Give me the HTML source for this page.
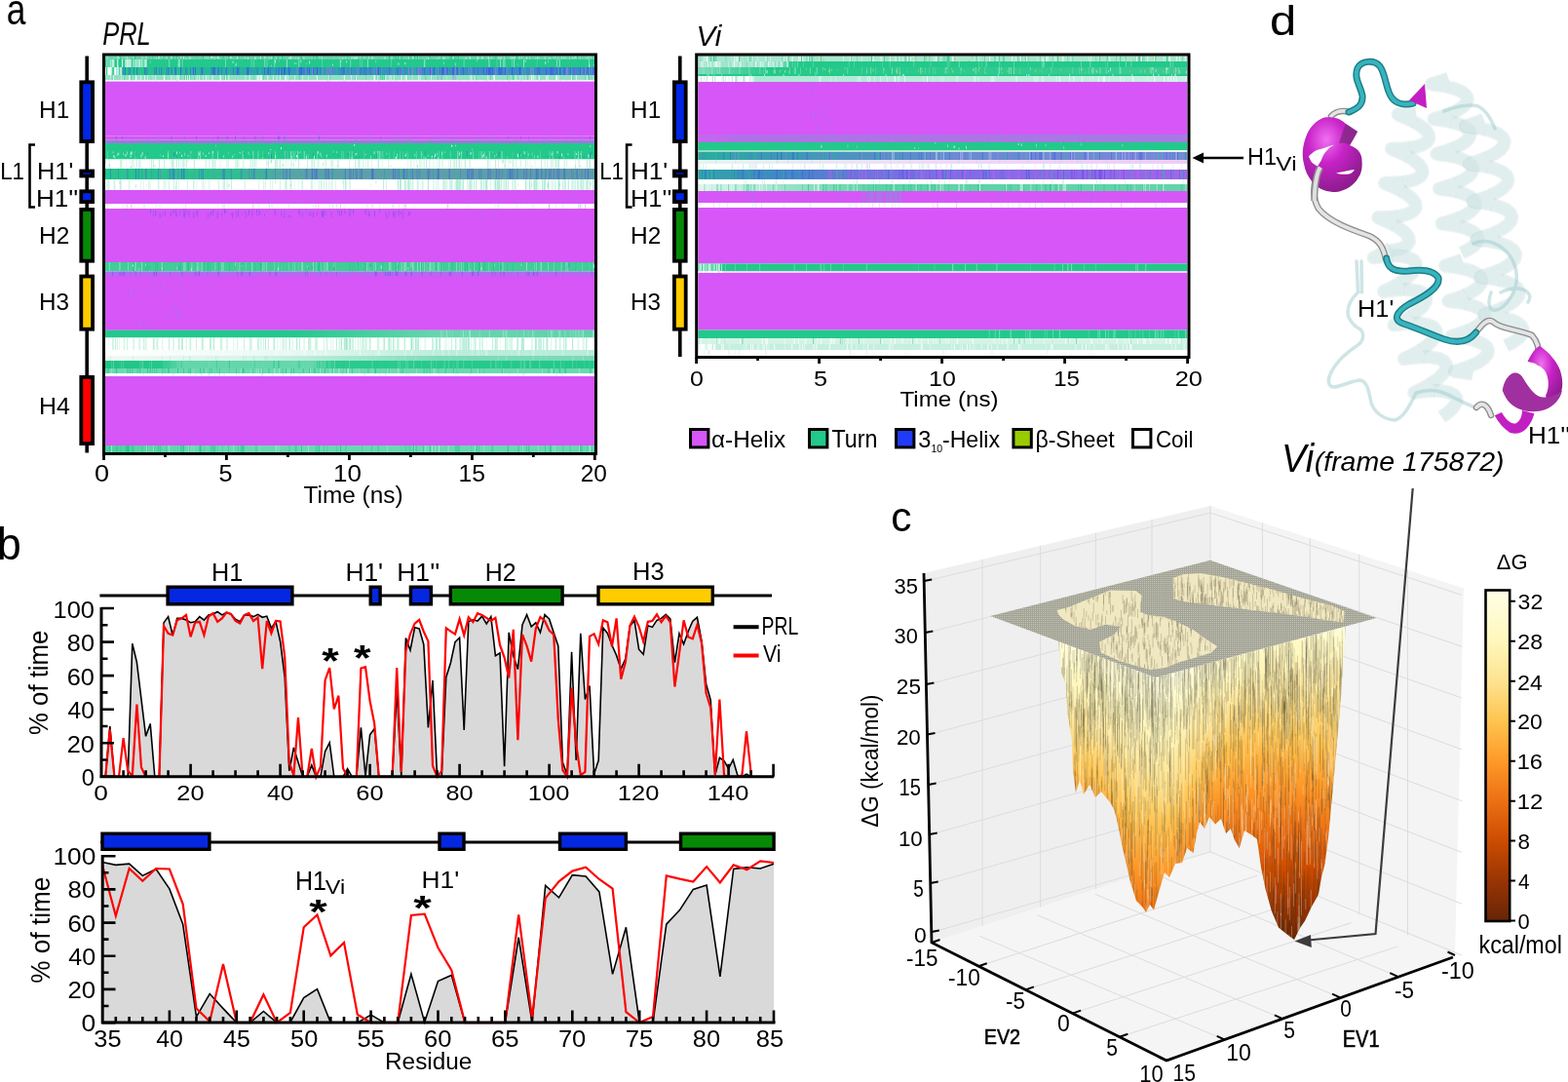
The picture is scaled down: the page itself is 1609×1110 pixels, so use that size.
<!DOCTYPE html>
<html><head><meta charset="utf-8"><title>Figure</title><style>
*{margin:0;padding:0}
html,body{width:1609px;height:1110px;overflow:hidden;background:#fff}
svg{display:block}
text{font-family:"Liberation Sans",Arial,sans-serif;fill:#000}
.t23{font-size:23.5px}
.t22{font-size:22.5px}
.t21{font-size:21.5px}
.t21b{font-size:21.5px;font-weight:bold}
.t18{font-size:19px}
.t10{font-size:11px}
.ti{font-size:31px;font-style:italic}
.tib{font-size:39px;font-style:italic}
.tis{font-size:27px;font-style:italic}
.plab{font-size:46px}
.ast{font-size:40px;font-weight:bold}
</style></head>
<body><svg width="1609" height="1110" viewBox="0 0 1609 1110">
<rect width="1609" height="1110" fill="#fff"/>
<polygon points="948,588 1242,519 1242,874 956,967" fill="#EFEFEF"/>
<polygon points="1242,519 1502,603.4 1493,980 1242,874" fill="#F4F4F4"/>
<polygon points="1242,874 956,967 1197,1088 1493,980" fill="#F5F5F5"/>
<path d="M1008 573.9V950.1M1067.6 559.9V930.7M1124.4 546.6V912.2M1182 533.1V893.5M1295.4 536.3V896.6M1344.3 552.2V917.2M1394.8 568.6V938.5M1444.4 584.7V959.5M950.2 596L1242 526.1L1500 610.4M951.3 649L1242 575.8L1500 663.2M952.4 702L1242 625.5L1500 716M953.5 753.6L1242 675.2L1500 768.8M954.6 805L1242 724.9L1500 821.6M955.7 856L1242 774.6L1500 874.4M956.7 906L1242 824.3L1500 927.2M957.8 956L1242 874L1500 980M1004.2 991.2L1290.2 898.2M1052.4 1015.4L1338.4 922.4M1100.6 1039.6L1386.6 946.6M1148.8 1063.8L1434.8 970.8M1256.2 1066.4L1005.2 960.4M1315.4 1044.8L1064.4 938.8M1374.6 1023.2L1123.6 917.2M1433.8 1001.6L1182.8 895.6M1242 519V874" stroke="#DCDCDC" stroke-width="1" fill="none"/>
<defs><linearGradient id="sg" gradientUnits="userSpaceOnUse" x1="1150" y1="640" x2="1330" y2="965"><stop offset="0" stop-color="#FFFAD2"/><stop offset="0.22" stop-color="#FEEDA8"/><stop offset="0.40" stop-color="#FED070"/><stop offset="0.55" stop-color="#FEA83A"/><stop offset="0.70" stop-color="#F0801C"/><stop offset="0.82" stop-color="#D85C0A"/><stop offset="0.92" stop-color="#A53C06"/><stop offset="1" stop-color="#6E2A06"/></linearGradient><clipPath id="bc"><polygon points="1086,658 1089,690 1093,700 1096,735 1100,760 1101,790 1104,813 1108,800 1112,815 1118,805 1124,818 1130,812 1139,823 1143,830 1145.6,839 1152,870 1160,905 1166,924 1172,930 1176,936 1180,928 1184,933.5 1190,912 1195,895 1200,900 1206,886 1213,885 1218,870 1224.5,875 1228,855 1231,843 1236,850 1241,838 1247,845.6 1253,840 1258,855 1262.7,850 1267,862 1271.8,870 1277,852 1285,857 1290,861 1294,890 1298.8,913 1305,935 1312,951.5 1320,958 1328,964 1334,952 1339,944.7 1346,930 1352.9,917.7 1356,900 1359.6,886 1363,860 1366,827.6 1369,795 1372,760 1375,730 1377,700 1379,670 1381,642.7 1185.8,695 1086,658"/></clipPath><pattern id="pl" width="2" height="2" patternUnits="userSpaceOnUse"><rect width="2" height="2" fill="#A3A396"/><rect width="1" height="1" fill="#C4C4B8"/></pattern><linearGradient id="cb" x1="0" y1="1" x2="0" y2="0"><stop offset="0" stop-color="#662506"/><stop offset="0.121" stop-color="#993404"/><stop offset="0.242" stop-color="#CC4C02"/><stop offset="0.363" stop-color="#EC7014"/><stop offset="0.484" stop-color="#FE9929"/><stop offset="0.605" stop-color="#FEC44F"/><stop offset="0.726" stop-color="#FEE391"/><stop offset="0.847" stop-color="#FFF7BC"/><stop offset="1" stop-color="#FFFFE5"/></linearGradient></defs>
<defs><linearGradient id="sc0" gradientUnits="userSpaceOnUse" x1="0" y1="630" x2="0" y2="980"><stop offset="0.0000" stop-color="#FFFDDB"/><stop offset="0.0571" stop-color="#FFFDDB"/><stop offset="0.1143" stop-color="#FFFBCF"/><stop offset="0.1714" stop-color="#FFF8C2"/><stop offset="0.2286" stop-color="#FFF2B1"/><stop offset="0.2857" stop-color="#FEE89C"/><stop offset="0.3429" stop-color="#FEDB81"/><stop offset="0.4000" stop-color="#FECC60"/><stop offset="0.4571" stop-color="#FEBC48"/><stop offset="0.5143" stop-color="#FEAC3A"/><stop offset="0.5714" stop-color="#FE9C2B"/><stop offset="0.6286" stop-color="#F88C22"/><stop offset="0.6857" stop-color="#F27D1B"/><stop offset="0.7429" stop-color="#EA6E13"/><stop offset="0.8000" stop-color="#DE600C"/><stop offset="0.8571" stop-color="#D25305"/><stop offset="0.9143" stop-color="#C34802"/><stop offset="0.9714" stop-color="#B03F03"/></linearGradient><linearGradient id="sc1" gradientUnits="userSpaceOnUse" x1="0" y1="630" x2="0" y2="980"><stop offset="0.0000" stop-color="#FFFDDB"/><stop offset="0.0571" stop-color="#FFFDDB"/><stop offset="0.1143" stop-color="#FFFBD0"/><stop offset="0.1714" stop-color="#FFF8C4"/><stop offset="0.2286" stop-color="#FFF3B4"/><stop offset="0.2857" stop-color="#FEEAA0"/><stop offset="0.3429" stop-color="#FEDE87"/><stop offset="0.4000" stop-color="#FECF66"/><stop offset="0.4571" stop-color="#FEBF4B"/><stop offset="0.5143" stop-color="#FEAD3B"/><stop offset="0.5714" stop-color="#FE9C2C"/><stop offset="0.6286" stop-color="#F98D23"/><stop offset="0.6857" stop-color="#F27E1B"/><stop offset="0.7429" stop-color="#EC7014"/><stop offset="0.8000" stop-color="#E0630D"/><stop offset="0.8571" stop-color="#D55607"/><stop offset="0.9143" stop-color="#C84A02"/><stop offset="0.9714" stop-color="#B54103"/></linearGradient><linearGradient id="sc2" gradientUnits="userSpaceOnUse" x1="0" y1="630" x2="0" y2="980"><stop offset="0.0000" stop-color="#FFFDDB"/><stop offset="0.0571" stop-color="#FFFDDB"/><stop offset="0.1143" stop-color="#FFFBD2"/><stop offset="0.1714" stop-color="#FFF9C5"/><stop offset="0.2286" stop-color="#FFF4B6"/><stop offset="0.2857" stop-color="#FEECA3"/><stop offset="0.3429" stop-color="#FEE18C"/><stop offset="0.4000" stop-color="#FED16B"/><stop offset="0.4571" stop-color="#FEC24D"/><stop offset="0.5143" stop-color="#FEAE3B"/><stop offset="0.5714" stop-color="#FE9C2C"/><stop offset="0.6286" stop-color="#F98E23"/><stop offset="0.6857" stop-color="#F3801C"/><stop offset="0.7429" stop-color="#ED7215"/><stop offset="0.8000" stop-color="#E2650F"/><stop offset="0.8571" stop-color="#D75908"/><stop offset="0.9143" stop-color="#CC4C02"/><stop offset="0.9714" stop-color="#BB4403"/></linearGradient><linearGradient id="sc3" gradientUnits="userSpaceOnUse" x1="0" y1="630" x2="0" y2="980"><stop offset="0.0000" stop-color="#FFFDDB"/><stop offset="0.0571" stop-color="#FFFDDB"/><stop offset="0.1143" stop-color="#FFFCD5"/><stop offset="0.1714" stop-color="#FFF9C7"/><stop offset="0.2286" stop-color="#FFF6BA"/><stop offset="0.2857" stop-color="#FFEEA8"/><stop offset="0.3429" stop-color="#FEE493"/><stop offset="0.4000" stop-color="#FED573"/><stop offset="0.4571" stop-color="#FEC552"/><stop offset="0.5143" stop-color="#FEB13E"/><stop offset="0.5714" stop-color="#FE9F2E"/><stop offset="0.6286" stop-color="#FA9125"/><stop offset="0.6857" stop-color="#F4831E"/><stop offset="0.7429" stop-color="#EE7517"/><stop offset="0.8000" stop-color="#E56810"/><stop offset="0.8571" stop-color="#DB5C0A"/><stop offset="0.9143" stop-color="#D05004"/><stop offset="0.9714" stop-color="#C14702"/></linearGradient><linearGradient id="sc4" gradientUnits="userSpaceOnUse" x1="0" y1="630" x2="0" y2="980"><stop offset="0.0000" stop-color="#FFFEDE"/><stop offset="0.0571" stop-color="#FFFEDE"/><stop offset="0.1143" stop-color="#FFFDDA"/><stop offset="0.1714" stop-color="#FFFACD"/><stop offset="0.2286" stop-color="#FFF8C0"/><stop offset="0.2857" stop-color="#FFF2B0"/><stop offset="0.3429" stop-color="#FEE99D"/><stop offset="0.4000" stop-color="#FEDD84"/><stop offset="0.4571" stop-color="#FECE65"/><stop offset="0.5143" stop-color="#FEBE4A"/><stop offset="0.5714" stop-color="#FEAC3A"/><stop offset="0.6286" stop-color="#FE9D2C"/><stop offset="0.6857" stop-color="#F98E23"/><stop offset="0.7429" stop-color="#F3801C"/><stop offset="0.8000" stop-color="#ED7115"/><stop offset="0.8571" stop-color="#E2650E"/><stop offset="0.9143" stop-color="#D75808"/><stop offset="0.9714" stop-color="#CC4C02"/></linearGradient><linearGradient id="sc5" gradientUnits="userSpaceOnUse" x1="0" y1="630" x2="0" y2="980"><stop offset="0.0000" stop-color="#FFFEE1"/><stop offset="0.0571" stop-color="#FFFEE1"/><stop offset="0.1143" stop-color="#FFFEDF"/><stop offset="0.1714" stop-color="#FFFBD3"/><stop offset="0.2286" stop-color="#FFF9C6"/><stop offset="0.2857" stop-color="#FFF5B8"/><stop offset="0.3429" stop-color="#FFEDA7"/><stop offset="0.4000" stop-color="#FEE494"/><stop offset="0.4571" stop-color="#FED778"/><stop offset="0.5143" stop-color="#FEC95B"/><stop offset="0.5714" stop-color="#FEBA46"/><stop offset="0.6286" stop-color="#FEA937"/><stop offset="0.6857" stop-color="#FE9929"/><stop offset="0.7429" stop-color="#F78A21"/><stop offset="0.8000" stop-color="#F17B1A"/><stop offset="0.8571" stop-color="#E96D13"/><stop offset="0.9143" stop-color="#DE600C"/><stop offset="0.9714" stop-color="#D25306"/></linearGradient><linearGradient id="sc6" gradientUnits="userSpaceOnUse" x1="0" y1="630" x2="0" y2="980"><stop offset="0.0000" stop-color="#FFFFE4"/><stop offset="0.0571" stop-color="#FFFFE4"/><stop offset="0.1143" stop-color="#FFFFE4"/><stop offset="0.1714" stop-color="#FFFDD8"/><stop offset="0.2286" stop-color="#FFFACD"/><stop offset="0.2857" stop-color="#FFF8C1"/><stop offset="0.3429" stop-color="#FFF2B1"/><stop offset="0.4000" stop-color="#FEEA9F"/><stop offset="0.4571" stop-color="#FEE08B"/><stop offset="0.5143" stop-color="#FED36F"/><stop offset="0.5714" stop-color="#FEC654"/><stop offset="0.6286" stop-color="#FEB542"/><stop offset="0.6857" stop-color="#FEA533"/><stop offset="0.7429" stop-color="#FC9527"/><stop offset="0.8000" stop-color="#F5851F"/><stop offset="0.8571" stop-color="#EF7617"/><stop offset="0.9143" stop-color="#E56810"/><stop offset="0.9714" stop-color="#D95B09"/></linearGradient><linearGradient id="sc7" gradientUnits="userSpaceOnUse" x1="0" y1="630" x2="0" y2="980"><stop offset="0.0000" stop-color="#FFFFE5"/><stop offset="0.0571" stop-color="#FFFFE5"/><stop offset="0.1143" stop-color="#FFFFE5"/><stop offset="0.1714" stop-color="#FFFDDC"/><stop offset="0.2286" stop-color="#FFFBD0"/><stop offset="0.2857" stop-color="#FFF9C5"/><stop offset="0.3429" stop-color="#FFF5B7"/><stop offset="0.4000" stop-color="#FEEDA6"/><stop offset="0.4571" stop-color="#FEE494"/><stop offset="0.5143" stop-color="#FED87A"/><stop offset="0.5714" stop-color="#FECB5D"/><stop offset="0.6286" stop-color="#FEBB47"/><stop offset="0.6857" stop-color="#FEA937"/><stop offset="0.7429" stop-color="#FE9929"/><stop offset="0.8000" stop-color="#F78921"/><stop offset="0.8571" stop-color="#F07818"/><stop offset="0.9143" stop-color="#E66910"/><stop offset="0.9714" stop-color="#D85A09"/></linearGradient><linearGradient id="sc8" gradientUnits="userSpaceOnUse" x1="0" y1="630" x2="0" y2="980"><stop offset="0.0000" stop-color="#FFFFE5"/><stop offset="0.0571" stop-color="#FFFFE5"/><stop offset="0.1143" stop-color="#FFFFE5"/><stop offset="0.1714" stop-color="#FFFEE0"/><stop offset="0.2286" stop-color="#FFFCD4"/><stop offset="0.2857" stop-color="#FFF9C8"/><stop offset="0.3429" stop-color="#FFF7BB"/><stop offset="0.4000" stop-color="#FFEFAB"/><stop offset="0.4571" stop-color="#FEE799"/><stop offset="0.5143" stop-color="#FEDC82"/><stop offset="0.5714" stop-color="#FECE65"/><stop offset="0.6286" stop-color="#FEBE4A"/><stop offset="0.6857" stop-color="#FEAC3A"/><stop offset="0.7429" stop-color="#FE9C2C"/><stop offset="0.8000" stop-color="#F88B22"/><stop offset="0.8571" stop-color="#F07919"/><stop offset="0.9143" stop-color="#E56810"/><stop offset="0.9714" stop-color="#D75808"/></linearGradient><linearGradient id="sc9" gradientUnits="userSpaceOnUse" x1="0" y1="630" x2="0" y2="980"><stop offset="0.0000" stop-color="#FFFFE5"/><stop offset="0.0571" stop-color="#FFFFE5"/><stop offset="0.1143" stop-color="#FFFFE5"/><stop offset="0.1714" stop-color="#FFFFE3"/><stop offset="0.2286" stop-color="#FFFCD8"/><stop offset="0.2857" stop-color="#FFFACC"/><stop offset="0.3429" stop-color="#FFF8C0"/><stop offset="0.4000" stop-color="#FFF2B0"/><stop offset="0.4571" stop-color="#FEE99E"/><stop offset="0.5143" stop-color="#FEE08A"/><stop offset="0.5714" stop-color="#FED26C"/><stop offset="0.6286" stop-color="#FEC24D"/><stop offset="0.6857" stop-color="#FEB03D"/><stop offset="0.7429" stop-color="#FE9F2F"/><stop offset="0.8000" stop-color="#F98E23"/><stop offset="0.8571" stop-color="#F07A19"/><stop offset="0.9143" stop-color="#E46710"/><stop offset="0.9714" stop-color="#D55607"/></linearGradient><linearGradient id="sc10" gradientUnits="userSpaceOnUse" x1="0" y1="630" x2="0" y2="980"><stop offset="0.0000" stop-color="#FFFEE2"/><stop offset="0.0571" stop-color="#FFFEE2"/><stop offset="0.1143" stop-color="#FFFEE2"/><stop offset="0.1714" stop-color="#FFFEE2"/><stop offset="0.2286" stop-color="#FFFCD4"/><stop offset="0.2857" stop-color="#FFF9C6"/><stop offset="0.3429" stop-color="#FFF6B9"/><stop offset="0.4000" stop-color="#FFEEA9"/><stop offset="0.4571" stop-color="#FEE697"/><stop offset="0.5143" stop-color="#FEDA7D"/><stop offset="0.5714" stop-color="#FECC5F"/><stop offset="0.6286" stop-color="#FEBA46"/><stop offset="0.6857" stop-color="#FEA836"/><stop offset="0.7429" stop-color="#FD9728"/><stop offset="0.8000" stop-color="#F6861F"/><stop offset="0.8571" stop-color="#ED7215"/><stop offset="0.9143" stop-color="#DE610C"/><stop offset="0.9714" stop-color="#CF4F04"/></linearGradient><linearGradient id="sc11" gradientUnits="userSpaceOnUse" x1="0" y1="630" x2="0" y2="980"><stop offset="0.0000" stop-color="#FFFDDC"/><stop offset="0.0571" stop-color="#FFFDDC"/><stop offset="0.1143" stop-color="#FFFDDC"/><stop offset="0.1714" stop-color="#FFFDDC"/><stop offset="0.2286" stop-color="#FFFACA"/><stop offset="0.2857" stop-color="#FFF5B8"/><stop offset="0.3429" stop-color="#FFEDA7"/><stop offset="0.4000" stop-color="#FEE595"/><stop offset="0.4571" stop-color="#FED879"/><stop offset="0.5143" stop-color="#FECA5C"/><stop offset="0.5714" stop-color="#FEB945"/><stop offset="0.6286" stop-color="#FEA634"/><stop offset="0.6857" stop-color="#FC9427"/><stop offset="0.7429" stop-color="#F5851F"/><stop offset="0.8000" stop-color="#EE7416"/><stop offset="0.8571" stop-color="#E1640E"/><stop offset="0.9143" stop-color="#D35406"/><stop offset="0.9714" stop-color="#C04702"/></linearGradient><linearGradient id="sc12" gradientUnits="userSpaceOnUse" x1="0" y1="630" x2="0" y2="980"><stop offset="0.0000" stop-color="#FFFCD6"/><stop offset="0.0571" stop-color="#FFFCD6"/><stop offset="0.1143" stop-color="#FFFCD6"/><stop offset="0.1714" stop-color="#FFFCD6"/><stop offset="0.2286" stop-color="#FFF8BF"/><stop offset="0.2857" stop-color="#FFEEA8"/><stop offset="0.3429" stop-color="#FEE595"/><stop offset="0.4000" stop-color="#FED879"/><stop offset="0.4571" stop-color="#FEC959"/><stop offset="0.5143" stop-color="#FEB643"/><stop offset="0.5714" stop-color="#FEA332"/><stop offset="0.6286" stop-color="#FB9225"/><stop offset="0.6857" stop-color="#F4821D"/><stop offset="0.7429" stop-color="#ED7315"/><stop offset="0.8000" stop-color="#E2640E"/><stop offset="0.8571" stop-color="#D45607"/><stop offset="0.9143" stop-color="#C54902"/><stop offset="0.9714" stop-color="#B03F03"/></linearGradient><linearGradient id="sc13" gradientUnits="userSpaceOnUse" x1="0" y1="630" x2="0" y2="980"><stop offset="0.0000" stop-color="#FFFBD0"/><stop offset="0.0571" stop-color="#FFFBD0"/><stop offset="0.1143" stop-color="#FFFBD0"/><stop offset="0.1714" stop-color="#FFFBCF"/><stop offset="0.2286" stop-color="#FFF4B5"/><stop offset="0.2857" stop-color="#FEE89B"/><stop offset="0.3429" stop-color="#FEDA7F"/><stop offset="0.4000" stop-color="#FECB5E"/><stop offset="0.4571" stop-color="#FEB845"/><stop offset="0.5143" stop-color="#FEA332"/><stop offset="0.5714" stop-color="#FA9125"/><stop offset="0.6286" stop-color="#F4811D"/><stop offset="0.6857" stop-color="#ED7215"/><stop offset="0.7429" stop-color="#E1640E"/><stop offset="0.8000" stop-color="#D55707"/><stop offset="0.8571" stop-color="#C84A02"/><stop offset="0.9143" stop-color="#B54103"/><stop offset="0.9714" stop-color="#A13804"/></linearGradient><linearGradient id="sc14" gradientUnits="userSpaceOnUse" x1="0" y1="630" x2="0" y2="980"><stop offset="0.0000" stop-color="#FFFACD"/><stop offset="0.0571" stop-color="#FFFACD"/><stop offset="0.1143" stop-color="#FFFACD"/><stop offset="0.1714" stop-color="#FFF9C8"/><stop offset="0.2286" stop-color="#FFF1AE"/><stop offset="0.2857" stop-color="#FEE494"/><stop offset="0.3429" stop-color="#FED675"/><stop offset="0.4000" stop-color="#FEC654"/><stop offset="0.4571" stop-color="#FEB340"/><stop offset="0.5143" stop-color="#FE9F2F"/><stop offset="0.5714" stop-color="#F98E23"/><stop offset="0.6286" stop-color="#F27E1B"/><stop offset="0.6857" stop-color="#EA6E13"/><stop offset="0.7429" stop-color="#DE600C"/><stop offset="0.8000" stop-color="#D25305"/><stop offset="0.8571" stop-color="#C24702"/><stop offset="0.9143" stop-color="#AE3E03"/><stop offset="0.9714" stop-color="#9B3504"/></linearGradient><linearGradient id="sc15" gradientUnits="userSpaceOnUse" x1="0" y1="630" x2="0" y2="980"><stop offset="0.0000" stop-color="#FFFACA"/><stop offset="0.0571" stop-color="#FFFACA"/><stop offset="0.1143" stop-color="#FFFACA"/><stop offset="0.1714" stop-color="#FFF8C2"/><stop offset="0.2286" stop-color="#FFEDA7"/><stop offset="0.2857" stop-color="#FEE18C"/><stop offset="0.3429" stop-color="#FED16B"/><stop offset="0.4000" stop-color="#FEC14C"/><stop offset="0.4571" stop-color="#FEAE3C"/><stop offset="0.5143" stop-color="#FE9B2B"/><stop offset="0.5714" stop-color="#F88A21"/><stop offset="0.6286" stop-color="#F17A19"/><stop offset="0.6857" stop-color="#E86B11"/><stop offset="0.7429" stop-color="#DB5D0A"/><stop offset="0.8000" stop-color="#CE4F03"/><stop offset="0.8571" stop-color="#BC4403"/><stop offset="0.9143" stop-color="#A83B03"/><stop offset="0.9714" stop-color="#943304"/></linearGradient><linearGradient id="sc16" gradientUnits="userSpaceOnUse" x1="0" y1="630" x2="0" y2="980"><stop offset="0.0000" stop-color="#FFF9C7"/><stop offset="0.0571" stop-color="#FFF9C7"/><stop offset="0.1143" stop-color="#FFF9C7"/><stop offset="0.1714" stop-color="#FFF6BB"/><stop offset="0.2286" stop-color="#FEEAA0"/><stop offset="0.2857" stop-color="#FEDC82"/><stop offset="0.3429" stop-color="#FECD61"/><stop offset="0.4000" stop-color="#FEBA46"/><stop offset="0.4571" stop-color="#FEA937"/><stop offset="0.5143" stop-color="#FD9828"/><stop offset="0.5714" stop-color="#F68720"/><stop offset="0.6286" stop-color="#EF7717"/><stop offset="0.6857" stop-color="#E46810"/><stop offset="0.7429" stop-color="#D85909"/><stop offset="0.8000" stop-color="#CA4B02"/><stop offset="0.8571" stop-color="#B64203"/><stop offset="0.9143" stop-color="#A23804"/><stop offset="0.9714" stop-color="#8D3104"/></linearGradient><linearGradient id="sc17" gradientUnits="userSpaceOnUse" x1="0" y1="630" x2="0" y2="980"><stop offset="0.0000" stop-color="#FFF9C6"/><stop offset="0.0571" stop-color="#FFF9C6"/><stop offset="0.1143" stop-color="#FFF9C5"/><stop offset="0.1714" stop-color="#FFF4B7"/><stop offset="0.2286" stop-color="#FEE99E"/><stop offset="0.2857" stop-color="#FEDB80"/><stop offset="0.3429" stop-color="#FECC60"/><stop offset="0.4000" stop-color="#FEB946"/><stop offset="0.4571" stop-color="#FEA736"/><stop offset="0.5143" stop-color="#FD9628"/><stop offset="0.5714" stop-color="#F5861F"/><stop offset="0.6286" stop-color="#EE7516"/><stop offset="0.6857" stop-color="#E2650E"/><stop offset="0.7429" stop-color="#D45507"/><stop offset="0.8000" stop-color="#C34802"/><stop offset="0.8571" stop-color="#AD3E03"/><stop offset="0.9143" stop-color="#973304"/><stop offset="0.9714" stop-color="#812D05"/></linearGradient><linearGradient id="sc18" gradientUnits="userSpaceOnUse" x1="0" y1="630" x2="0" y2="980"><stop offset="0.0000" stop-color="#FFF9C6"/><stop offset="0.0571" stop-color="#FFF9C6"/><stop offset="0.1143" stop-color="#FFF8C4"/><stop offset="0.1714" stop-color="#FFF3B3"/><stop offset="0.2286" stop-color="#FEE89C"/><stop offset="0.2857" stop-color="#FEDB80"/><stop offset="0.3429" stop-color="#FECC60"/><stop offset="0.4000" stop-color="#FEB946"/><stop offset="0.4571" stop-color="#FEA735"/><stop offset="0.5143" stop-color="#FC9527"/><stop offset="0.5714" stop-color="#F5841E"/><stop offset="0.6286" stop-color="#ED7315"/><stop offset="0.6857" stop-color="#E0620D"/><stop offset="0.7429" stop-color="#D15205"/><stop offset="0.8000" stop-color="#BC4503"/><stop offset="0.8571" stop-color="#A43904"/><stop offset="0.9143" stop-color="#8C3005"/><stop offset="0.9714" stop-color="#732905"/></linearGradient><linearGradient id="sc19" gradientUnits="userSpaceOnUse" x1="0" y1="630" x2="0" y2="980"><stop offset="0.0000" stop-color="#FFF9C6"/><stop offset="0.0571" stop-color="#FFF9C6"/><stop offset="0.1143" stop-color="#FFF8C2"/><stop offset="0.1714" stop-color="#FFF1B0"/><stop offset="0.2286" stop-color="#FEE89B"/><stop offset="0.2857" stop-color="#FEDB80"/><stop offset="0.3429" stop-color="#FECC60"/><stop offset="0.4000" stop-color="#FEB946"/><stop offset="0.4571" stop-color="#FEA634"/><stop offset="0.5143" stop-color="#FC9427"/><stop offset="0.5714" stop-color="#F4831E"/><stop offset="0.6286" stop-color="#EC7114"/><stop offset="0.6857" stop-color="#DD5F0C"/><stop offset="0.7429" stop-color="#CE4E03"/><stop offset="0.8000" stop-color="#B54103"/><stop offset="0.8571" stop-color="#9B3504"/><stop offset="0.9143" stop-color="#802D05"/><stop offset="0.9714" stop-color="#662506"/></linearGradient><linearGradient id="sc20" gradientUnits="userSpaceOnUse" x1="0" y1="630" x2="0" y2="980"><stop offset="0.0000" stop-color="#FFF9C8"/><stop offset="0.0571" stop-color="#FFF9C8"/><stop offset="0.1143" stop-color="#FFF8C1"/><stop offset="0.1714" stop-color="#FFF0AD"/><stop offset="0.2286" stop-color="#FEE79A"/><stop offset="0.2857" stop-color="#FEDB7F"/><stop offset="0.3429" stop-color="#FECC5F"/><stop offset="0.4000" stop-color="#FEBA46"/><stop offset="0.4571" stop-color="#FEA635"/><stop offset="0.5143" stop-color="#FC9427"/><stop offset="0.5714" stop-color="#F4831E"/><stop offset="0.6286" stop-color="#EC7014"/><stop offset="0.6857" stop-color="#DC5E0B"/><stop offset="0.7429" stop-color="#CC4C02"/><stop offset="0.8000" stop-color="#B24003"/><stop offset="0.8571" stop-color="#963304"/><stop offset="0.9143" stop-color="#7B2B05"/><stop offset="0.9714" stop-color="#662506"/></linearGradient><linearGradient id="sc21" gradientUnits="userSpaceOnUse" x1="0" y1="630" x2="0" y2="980"><stop offset="0.0000" stop-color="#FFFACB"/><stop offset="0.0571" stop-color="#FFFACB"/><stop offset="0.1143" stop-color="#FFF8BF"/><stop offset="0.1714" stop-color="#FFEFAB"/><stop offset="0.2286" stop-color="#FEE697"/><stop offset="0.2857" stop-color="#FEDA7D"/><stop offset="0.3429" stop-color="#FECB5E"/><stop offset="0.4000" stop-color="#FEBA46"/><stop offset="0.4571" stop-color="#FEA736"/><stop offset="0.5143" stop-color="#FC9527"/><stop offset="0.5714" stop-color="#F5841E"/><stop offset="0.6286" stop-color="#EC7014"/><stop offset="0.6857" stop-color="#DC5E0B"/><stop offset="0.7429" stop-color="#CC4C02"/><stop offset="0.8000" stop-color="#B24003"/><stop offset="0.8571" stop-color="#973404"/><stop offset="0.9143" stop-color="#7D2C05"/><stop offset="0.9714" stop-color="#662506"/></linearGradient><linearGradient id="sc22" gradientUnits="userSpaceOnUse" x1="0" y1="630" x2="0" y2="980"><stop offset="0.0000" stop-color="#FFFACE"/><stop offset="0.0571" stop-color="#FFFACE"/><stop offset="0.1143" stop-color="#FFF7BD"/><stop offset="0.1714" stop-color="#FFEEA8"/><stop offset="0.2286" stop-color="#FEE595"/><stop offset="0.2857" stop-color="#FED87A"/><stop offset="0.3429" stop-color="#FECB5D"/><stop offset="0.4000" stop-color="#FEBB47"/><stop offset="0.4571" stop-color="#FEA836"/><stop offset="0.5143" stop-color="#FD9628"/><stop offset="0.5714" stop-color="#F5841E"/><stop offset="0.6286" stop-color="#EC7014"/><stop offset="0.6857" stop-color="#DC5E0B"/><stop offset="0.7429" stop-color="#CC4C02"/><stop offset="0.8000" stop-color="#B24003"/><stop offset="0.8571" stop-color="#983404"/><stop offset="0.9143" stop-color="#7E2C05"/><stop offset="0.9714" stop-color="#662506"/></linearGradient><linearGradient id="sc23" gradientUnits="userSpaceOnUse" x1="0" y1="630" x2="0" y2="980"><stop offset="0.0000" stop-color="#FFFBD1"/><stop offset="0.0571" stop-color="#FFFBD1"/><stop offset="0.1143" stop-color="#FFF7BC"/><stop offset="0.1714" stop-color="#FFEDA7"/><stop offset="0.2286" stop-color="#FEE494"/><stop offset="0.2857" stop-color="#FED87A"/><stop offset="0.3429" stop-color="#FECB5E"/><stop offset="0.4000" stop-color="#FEBC48"/><stop offset="0.4571" stop-color="#FEAA38"/><stop offset="0.5143" stop-color="#FE9929"/><stop offset="0.5714" stop-color="#F6861F"/><stop offset="0.6286" stop-color="#ED7215"/><stop offset="0.6857" stop-color="#DE600C"/><stop offset="0.7429" stop-color="#CE4F03"/><stop offset="0.8000" stop-color="#B74203"/><stop offset="0.8571" stop-color="#9E3604"/><stop offset="0.9143" stop-color="#852E05"/><stop offset="0.9714" stop-color="#6C2706"/></linearGradient><linearGradient id="sc24" gradientUnits="userSpaceOnUse" x1="0" y1="630" x2="0" y2="980"><stop offset="0.0000" stop-color="#FFFCD6"/><stop offset="0.0571" stop-color="#FFFBD1"/><stop offset="0.1143" stop-color="#FFF8BF"/><stop offset="0.1714" stop-color="#FFEFAC"/><stop offset="0.2286" stop-color="#FEE799"/><stop offset="0.2857" stop-color="#FEDC81"/><stop offset="0.3429" stop-color="#FECF66"/><stop offset="0.4000" stop-color="#FEC24D"/><stop offset="0.4571" stop-color="#FEB13E"/><stop offset="0.5143" stop-color="#FEA130"/><stop offset="0.5714" stop-color="#FA9024"/><stop offset="0.6286" stop-color="#F27F1C"/><stop offset="0.6857" stop-color="#EA6E13"/><stop offset="0.7429" stop-color="#DD5F0B"/><stop offset="0.8000" stop-color="#CF5004"/><stop offset="0.8571" stop-color="#BC4403"/><stop offset="0.9143" stop-color="#A63A03"/><stop offset="0.9714" stop-color="#913204"/></linearGradient><linearGradient id="sc25" gradientUnits="userSpaceOnUse" x1="0" y1="630" x2="0" y2="980"><stop offset="0.0000" stop-color="#FFFDDB"/><stop offset="0.0571" stop-color="#FFFBD2"/><stop offset="0.1143" stop-color="#FFF8C1"/><stop offset="0.1714" stop-color="#FFF1AF"/><stop offset="0.2286" stop-color="#FEE99E"/><stop offset="0.2857" stop-color="#FEDF89"/><stop offset="0.3429" stop-color="#FED26D"/><stop offset="0.4000" stop-color="#FEC654"/><stop offset="0.4571" stop-color="#FEB844"/><stop offset="0.5143" stop-color="#FEA837"/><stop offset="0.5714" stop-color="#FE9929"/><stop offset="0.6286" stop-color="#F88A22"/><stop offset="0.6857" stop-color="#F17C1A"/><stop offset="0.7429" stop-color="#EA6D13"/><stop offset="0.8000" stop-color="#DE610C"/><stop offset="0.8571" stop-color="#D35406"/><stop offset="0.9143" stop-color="#C54902"/><stop offset="0.9714" stop-color="#B24003"/></linearGradient><filter id="hb" x="-0.05" y="0" width="1.1" height="1"><feGaussianBlur stdDeviation="7 0"/></filter></defs>
<g clip-path="url(#bc)"><g filter="url(#hb)"><rect x="1080" y="630" width="12.6" height="350" fill="url(#sc0)"/><rect x="1092" y="630" width="12.6" height="350" fill="url(#sc1)"/><rect x="1104" y="630" width="12.6" height="350" fill="url(#sc2)"/><rect x="1116" y="630" width="12.6" height="350" fill="url(#sc3)"/><rect x="1128" y="630" width="12.6" height="350" fill="url(#sc4)"/><rect x="1140" y="630" width="12.6" height="350" fill="url(#sc5)"/><rect x="1152" y="630" width="12.6" height="350" fill="url(#sc6)"/><rect x="1164" y="630" width="12.6" height="350" fill="url(#sc7)"/><rect x="1176" y="630" width="12.6" height="350" fill="url(#sc8)"/><rect x="1188" y="630" width="12.6" height="350" fill="url(#sc9)"/><rect x="1200" y="630" width="12.6" height="350" fill="url(#sc10)"/><rect x="1212" y="630" width="12.6" height="350" fill="url(#sc11)"/><rect x="1224" y="630" width="12.6" height="350" fill="url(#sc12)"/><rect x="1236" y="630" width="12.6" height="350" fill="url(#sc13)"/><rect x="1248" y="630" width="12.6" height="350" fill="url(#sc14)"/><rect x="1260" y="630" width="12.6" height="350" fill="url(#sc15)"/><rect x="1272" y="630" width="12.6" height="350" fill="url(#sc16)"/><rect x="1284" y="630" width="12.6" height="350" fill="url(#sc17)"/><rect x="1296" y="630" width="12.6" height="350" fill="url(#sc18)"/><rect x="1308" y="630" width="12.6" height="350" fill="url(#sc19)"/><rect x="1320" y="630" width="12.6" height="350" fill="url(#sc20)"/><rect x="1332" y="630" width="12.6" height="350" fill="url(#sc21)"/><rect x="1344" y="630" width="12.6" height="350" fill="url(#sc22)"/><rect x="1356" y="630" width="12.6" height="350" fill="url(#sc23)"/><rect x="1368" y="630" width="12.6" height="350" fill="url(#sc24)"/><rect x="1380" y="630" width="12.6" height="350" fill="url(#sc25)"/></g>
<path d="M1181.5 688.3v39.3M1107.4 811.5v26.5M1103.1 802.4v11.7M1213.9 662.4v14.1M1211.2 904.6v15.6M1151.9 840.8v52.6M1256.2 766.9v53.9M1099.7 914.7v23M1128.6 677.7v23.9M1326.8 697.8v36.2M1274.5 759.2v34.6M1104.5 659.1v19.3M1286.7 776.8v24.1M1258.7 785v23.5M1320.3 863.7v21M1255.5 808.1v49.4M1301.2 732.1v54.1M1120.8 773.8v44.1M1130.8 796.5v11.8M1283.1 884.7v35.8M1344.3 740.4v41.3M1261.3 825.6v30.5M1333.8 942.3v31.3M1281.9 659.4v41.6M1276.9 957.8v47M1170 763.5v40.1M1092.7 787.7v17.6M1120.5 658.9v44.6M1124.2 719.2v27.6M1343.1 665.8v30.2M1248.1 922.7v46.9M1340.9 729.1v28.7M1191.8 922.9v53.1M1130.5 696.4v20.4M1154.8 795.2v36.5M1163.5 641.3v28.9M1194.9 821.2v52.9M1289.7 805v37.8M1285.5 657.3v50.5M1316.1 919.8v45.9M1201.8 767.7v14.7M1273.1 659.9v13M1147.6 691.9v25.3M1101.5 640.1v16.8M1115.9 756.4v11.1M1343.9 836.5v16.7M1160.4 751.2v26.4M1122.2 911.7v54.7M1223.5 794.8v13.9M1116.1 749.6v21.9M1330.5 691.7v11M1366.5 809v16.6M1246.2 648.7v33.8M1374.7 916.3v41.3M1163 757.3v17.5M1313.7 810.4v45.1M1183.3 711.4v46.5M1376.6 912.8v46.3M1327.4 876.8v20.2M1238.7 753.8v11.3M1094.2 729.4v21.7M1290.3 946.1v30.1M1362.4 956.2v53M1193.6 710.5v20.2M1144 705.4v38.1M1351.6 908.9v31.6M1278.6 895.9v13.8M1280.9 931.1v45.2M1307.3 793v18M1318.8 746.4v46M1372.6 766.7v28.1M1365.3 871.9v17.7M1123.5 688.4v50.7M1323.9 686.8v47.2M1375.2 850.3v25.8M1247.9 681.9v10.6M1372.4 847.9v33.7M1361.4 778.8v49.2M1329.7 707.5v21.3M1172.4 717v36.4M1162.5 774.1v15.9M1354.5 753.2v30.6M1258.1 929.4v28.9M1356.7 800.5v33.9M1240.4 646v29.8M1140 641.3v46M1136.8 791.5v42.6M1250.2 744.3v33.3M1249.9 891v14.8M1251.3 719.5v22.5M1313.8 802.5v35.3M1310.2 932v29.9M1266.7 801.8v33M1290.4 784.8v34M1227 941.3v41.5M1344.6 941.5v21.7M1251.1 941.8v47.8M1126.5 678.9v29.9M1107.4 717v13.3M1283.5 890.9v50.4M1131.6 869.2v39.7M1128.2 922.5v53.5M1150.8 944.8v27.9M1229.7 956.8v47.5M1133.6 778.1v33.2M1186 702.6v24.3M1299 646.2v34.9M1215.9 645.8v24.9M1270.1 803.9v12.9M1376.6 892.3v53.7M1116.9 725v11.8M1315.8 726.5v15.8M1210.6 931.7v46.9M1162.3 687.8v51.4M1254.3 864.1v14M1103 860.2v29.1M1107.4 940.3v38.5M1322.5 666.8v48.5M1105.7 916.1v30.4M1186 817v51.7M1165 681.4v33.7M1156.3 675v17.3M1100.9 704.6v24M1176 883v23M1233.5 696.9v25.6M1091.4 720.1v10.7M1302.3 816.3v18.5M1226.1 939.1v14.8M1327.6 778.3v32.3M1332.2 765.8v32.8M1288.9 954.4v25.4M1331.5 866.2v38.6M1205.4 751.2v12.4M1124.3 662.6v43.3M1161.4 692.2v13.8M1334.2 918.6v40.2M1169.2 717.5v23.2M1221.5 690.4v30.1M1163.7 947.8v53.8M1247.4 718.2v53.5M1177.3 754.1v10M1198.6 791.9v32.6M1145.3 801.5v10.2M1163.9 668.7v28M1098.3 647.2v23.7M1154.7 827.4v33.8M1307.4 850.4v42.2M1345.3 764.6v24.7M1376.5 687.8v42.6M1275.7 654v47.6M1349.1 840.7v43M1325.6 684.6v33.6M1234.8 907.2v46.2M1329.8 826.9v50.2M1287.5 861.9v20.3M1095.2 682.6v26.2M1117 907.5v35.1M1271.2 840.4v40.6M1230.3 641.1v45.9M1306.7 801v34.1M1280.5 661.1v43.2M1160.4 663.8v22M1301.2 705.7v43.3M1373.8 798.1v27.2M1227.3 858.8v44.5M1268 845.7v13.5M1129.5 721.3v43.4M1175.8 821.7v10.6M1103.9 726v40.2M1290.2 856.2v23.1M1238.4 788.7v31M1121 926v19M1374.5 939.6v10.8M1221.4 902.4v53.6M1218.6 726v19.4M1364.9 707.4v36.2M1127.8 807.7v52.9M1125.1 902.5v32.9M1347.6 865.1v20.4M1350.8 795.6v11.1M1087.1 797.3v30.3M1175.1 685v25.5M1179.2 908.9v10.1M1307.5 908.5v15.4M1359.3 868.2v50.6M1171.5 759.1v27.7M1380.6 828.5v26.2M1212.3 728v12.2M1116 907.1v22.9M1362 719.8v22M1236.7 700.8v26.8M1368.1 923v46.5M1272.1 932.3v52.3M1248 870.3v12.2M1302 784.3v43.9M1276.1 731.6v12.2M1359.4 680.7v31.2M1187.4 735.3v43.3M1374 723.3v39.5M1174.7 818.3v27.7M1135.4 691.7v19.4M1353.3 799.1v19.9M1353.3 958.9v30.2M1127.2 701.6v14.1M1186.9 669.2v20.8M1162.2 822.3v49.9M1307.1 772.1v28.6M1240.6 760.6v25.2M1104.3 728.8v53.5M1123.1 801.1v38.3M1340.5 709.1v22.2M1159.3 767.9v30.1M1367.4 911.6v49.3M1092.4 650.3v41.9M1350.2 791.4v36.4M1086.1 765.3v51.7M1329.5 913.7v53.8M1159.3 674.9v16.9M1240.1 858.3v52.4M1298.9 847.2v44.4M1220.9 816.5v11.8M1316.8 714.4v51.4M1276.4 737.2v15.8M1160.3 843.6v41.4M1119.1 662.5v33.6M1258 764.2v20.1M1263.3 643.3v23.6M1221.9 946.9v39M1346.7 792.1v20.6M1158.9 947.4v41.7M1176.7 647v32.4M1285 774.4v21.6M1282.9 936.1v20.2M1096.1 748.2v28.9M1287.4 703.4v45.9M1304 801.6v19.2M1372.1 739.7v46.9M1154.1 710.9v44.2M1173 944.6v32.3M1141.3 711.5v28.8M1282.3 943.6v16.6M1202.1 708.1v53.8M1127.9 656.6v12.7M1202 927.4v49.8M1302.2 959.2v51.9M1183.1 699.4v52.1M1306.2 650.2v39.9M1197.7 759.6v24.9M1135.9 640.9v22.6M1189.7 945.8v15.6M1370.5 706.4v26M1328.4 903v29.5M1100.5 791.5v26.8M1357.3 701.8v26.4M1350.6 649.7v28.5M1325.5 885.3v11.8M1096.3 660v51.4M1161.8 879.1v50.4M1186 727.1v53.1M1268 723.9v42.2M1179.4 728.2v10.2M1308.9 933.3v38.5M1364.3 647.8v20.5M1226.2 946.2v52.9M1200 720.3v29.3M1231.6 937v18.2M1322.8 876.3v47M1314 834.3v24.8M1180.3 755.8v45.2M1109.3 703.1v43.9M1159 660.7v11.5M1249 744.2v54.1M1346.6 956.1v21.9M1110.8 670.9v32.4M1295.4 783v20.5M1209 838.5v40.3M1306.7 911v39.9M1121.7 909.1v23.2M1253.2 759.4v43.2M1144.8 719.2v21M1131.2 922.9v36M1182.3 766.7v54.7M1235.7 714v46.4M1278.7 957.1v14.6M1226.1 902.1v47.8M1355.7 652.9v23.2M1121.2 700.7v53.8M1258 937.7v26.8M1341.5 783.7v21.7M1315.4 942.6v14.8M1261.9 838.4v19.8M1194.8 685.2v19.2M1161.2 831.8v39.3M1146 643.6v24.7M1286.1 699.2v24M1146 894.5v34.7M1104.7 672.4v27.8M1248.3 844.5v14.1M1134.3 862.5v28.4M1169.6 738.4v52.9M1178.1 821.3v26.1M1208.9 916.6v54.8M1193.3 703.1v42.8M1146.1 641.9v50.6M1211 902.5v28.3M1346.4 787.5v17.3M1090.4 816.5v38.8M1354.4 668.5v38M1195.4 801.4v16.6M1169.6 806.8v51.6M1118.1 797v46.2M1371.2 703.1v15.7M1364.2 952.2v31.7M1101.7 936.4v27.5M1352.7 838.5v47.1M1133.3 891.5v20M1205.3 910.8v47.3M1140 709.8v28M1238.8 762.7v15.5M1158.9 872v50.4M1098.1 819.9v44.1M1097.2 908.2v15.3M1262.9 816v38.2M1176.3 774.4v36.2M1211.6 850.8v30.1M1215.3 647.5v37.9M1230.4 715.3v44.4M1316.1 786.7v18.1M1225.6 674.3v15.8M1213 669.3v29.9M1236.5 653v38.6M1110.3 874.7v45M1236.9 657.4v32.7M1197.5 944.3v16.1M1338.8 958.8v42.9M1326.4 702v54.2M1231.1 946.1v51.2M1134.7 892.3v51.9M1105.3 752.3v44M1132.8 926.9v22.4M1326.6 685.9v32.6M1357.4 706.7v21.8M1235.3 742.1v11.7M1139.7 691.6v52.1M1286.5 926.5v17.6M1317.5 676.8v33.9M1273.7 755.1v49.3M1249.8 825.6v49.7M1116.9 957.7v38.3M1202.3 895.3v21.9M1378.2 824.8v26.2M1311.6 781.5v18M1305.4 655.5v46.9M1160.8 844.6v54.3M1258.8 852.4v24.1M1086.5 650.8v16.7M1267.7 778.3v33.1M1350.2 682.2v20.2M1278.7 647.1v10.1M1190.7 674v26.1M1152.2 826.7v36.5M1146.2 839.7v31.4M1125.8 939.7v21M1130 670.7v38.7M1343 890.3v28.1M1164 643.7v39M1251.9 752.1v39.1M1216.9 939.9v43M1159.3 929.1v12M1242.8 769.9v20.7M1103.2 889.2v10.6M1248.5 941.1v16.4M1144.9 834.6v32.8M1275.3 900.3v17.9M1177.3 736.1v12.2M1348.4 890.6v42.2M1087.9 910.2v43.5M1223.3 877.4v30.4M1152.7 673.7v20.5M1097.5 747.4v43.7M1291.1 910.5v42M1164.5 817.2v29.6M1318.6 807.4v21.9M1275.4 948.8v19.8M1345.6 644.9v21.7M1155.7 878v52.5M1306.1 744.6v49.6M1182.9 716.5v50.8M1272.1 861.7v39.9M1374.8 790.2v47.8M1291.8 914.4v29.7M1299.8 822.5v23.8M1148.5 839.2v13.5M1354.7 686.3v11.2M1117.5 937.3v25.5M1127.8 649.2v11.9M1290.3 842.8v41.4M1303.4 661v36.6M1193.2 901.6v46.9M1348.9 661.1v49.1M1355.8 942.2v14.8M1146.7 675.8v11.5M1336.1 899.8v38.5M1329.4 842.1v22.9M1115.5 671.3v44.1M1146.5 742.1v29.1M1092.2 722.1v22.7M1297.1 757.8v24.4M1370.4 801.2v48.3M1268.4 649.9v28.6M1214.8 887.4v25.6M1293.9 812.1v19.7M1340.4 669.1v46.9M1136.3 640.4v19.1M1310.8 952.9v10.2M1230.8 797.3v45.9M1140.4 798.3v25.6M1331.4 723.4v52.5M1169.7 708.7v41.5M1233 675.2v38.6M1109.9 892.1v41.4M1318.1 840.9v26M1204.4 766.3v50.1M1111.4 924.3v11.1M1146.8 724.2v50.6M1233.9 761.4v49.8M1154.9 787.5v33.9M1308.6 881v39.1M1188.8 744.5v17M1334.7 851.9v43.4M1136 780.4v44.8M1256.9 680.3v30.8M1347.1 716.1v18.6M1174.9 865v48M1131.6 689.9v21.1M1182.3 807.1v17.2M1182.8 700.6v53.9M1301 672.6v53.3M1116 763v54.3M1320.5 874.7v29.6M1143.9 844.2v14.8M1146.9 764.3v11.5M1203.7 893.1v41.2M1233.6 842.4v30.8M1127.8 833.2v28.2M1304.6 930.6v29.4M1255.3 879.7v29M1153.4 871.1v49.6M1314.3 864v48.4M1286.5 845.3v30.4M1178.3 841v14.4M1209.8 890.4v42.1M1271.7 720v29.1M1220.3 838.9v28.4M1285.2 937.7v18.2M1279.1 889v27.5M1230.5 951.9v11.7M1246.3 691.5v45.2M1363.5 806.2v14.5M1255.5 813.1v42.3M1237.1 844.6v47.3M1239.9 771.3v52.7M1148 859v27.7M1311 679.2v54.3M1190.9 658.1v22.3M1203.9 644.3v28.8M1210.1 863.4v25.8M1164.2 711.8v43.4M1363.3 808.7v19.9M1322.4 765.4v19.5M1124.1 888.5v46.4M1273.1 790.1v35.3M1152.7 948.4v25.9M1274.4 902v46.7M1224.1 734.2v34.7M1122.9 906.8v26M1336.9 725.6v26.9M1160.8 776.4v18.4M1086.8 871v22.7M1158.3 736.6v31.6M1212.4 843.9v39.7M1192.9 937.2v48.5M1102.8 904.9v50.8M1317.3 684.9v47.4M1272.8 644.8v10.5M1366.8 849.9v21.3M1115.9 685.7v20.5M1315 750.9v16.9M1352.7 893.3v17.6M1348.9 834.7v45.2M1283.2 926.1v45.5M1333.4 703.2v41.2M1242.6 877.4v29.7M1346.4 817.6v21.9M1155.1 684.6v32.2M1103.2 789.5v16.5M1231 799.4v34.3M1340.5 642.1v47.8M1224 820v39.9M1334 760v28.8M1369.4 664.1v38.7M1273.7 649.1v37.4M1287.4 938.1v24.9M1375.6 803.4v31.8M1350.8 650.8v42.3M1270.5 748.4v48.8M1194 791.9v33.6M1313.3 707.4v29.6M1210.6 817.3v47.2M1172.4 904.9v28.2M1234.6 726.9v32.8M1373.6 849.5v45.6M1183.6 741.5v23.5M1259 843.1v45.3M1097.8 871.3v49.9M1246.9 655.9v23.5M1087.8 700.8v51.5M1265.6 850.6v45.5M1354.4 835.8v37.8M1270.9 862.8v36.8M1286.9 708v40M1221.1 884.1v14.6M1139.5 651.8v44.9M1355.7 849.8v26.6M1328.7 891.7v35.3M1162.1 736.7v29M1180 777.8v38.9M1361.5 657.5v35.5M1097.6 678v46.5M1255.7 934v30.1M1090.2 763.9v36.6M1362.6 953.9v31.4M1207.7 672.7v39M1148.6 688.6v10.7M1087.4 858.8v15.5M1371.1 668.2v49.1M1124 645.7v42.4M1157.5 874.7v18.4M1100.8 887.7v42.1M1338.4 873.5v13.8M1271.4 867v30.7M1361 721.3v53.4M1297.6 643.6v10.7M1278 901.5v13.6M1177.8 873.4v17.5M1340 795.6v12.7M1194.4 824v29.7M1285.7 686.4v45.9M1193.2 846.4v38.3M1209.3 763.4v45.4M1364.8 891.1v35.5M1172.3 659.4v53.8M1293.5 904.8v24.9M1264.7 952.8v47.4M1263.3 738.8v29.3M1348 760.5v40.8M1263.5 926.8v46.3M1169.6 640.5v21.8M1210.6 827.7v46.7M1347.8 653.5v47.5M1325.5 917.5v35.7M1166.8 912.4v46.3M1288 932.4v25.6M1111.1 817.2v45.9M1145.1 880.1v51.9M1155 834.2v40.5M1223.3 706.1v21.5M1307.6 893.3v30.7M1111.9 898.1v44.7M1154.7 825.5v50.4M1347.1 807v31.4M1259.9 700.5v18.7M1139.3 864.3v26.3M1252.5 768.8v33.3M1130 654.3v54.9M1196.3 674v38.5M1318.3 690v36.9M1187.8 806.2v10.9M1095.9 956.9v49M1229.5 821.5v21.8M1315.9 776.3v52.6M1312.3 902v53.4M1160.9 652.1v19M1139.3 666.8v12.3M1250.4 918.6v30.6M1365.4 931.2v12.9M1262.4 767.2v15.4M1369 722.3v35.4M1275 946.1v40.1M1202 783.5v17.2M1370.9 957.3v20M1097.4 721.9v25.8M1352.3 929.5v47.7M1099.9 891.6v41.9M1276.8 955.3v12.5M1128.7 881.6v52.3M1285.7 735.6v36.6M1309.6 673.7v24.6M1161.8 679.7v31.7M1135.7 716.3v16.4M1285.9 644v42.3M1143.6 651.5v51.7M1151.1 938.9v49M1348.2 684.7v30.1M1114.6 937.2v47.9M1271.4 784.7v25.3M1328.8 792.8v38.3M1128.1 710.9v12.6M1296.5 817.1v16.5M1342.9 725.2v28.5M1131.9 726.8v47.8M1184.7 693.7v32.1M1179.8 929v15.1M1374.7 658.2v50.3M1283.1 707.6v31.5M1170.4 722.5v19.1M1193.5 957.1v54.9M1358.9 671.2v23M1350.4 658.4v42.7M1172.6 953.2v10.7M1324.1 749.1v16.3M1086.6 906.3v33.7M1140.8 779.3v51M1150.4 822.8v16.2M1139.1 886.5v42M1144 665.4v13.9M1265.5 798.6v22.3M1146.8 836v41.8M1325.4 826.5v19.1M1105.4 874.5v28.4M1298.9 657.7v46.5M1184.9 909.4v48.9M1231.4 644.9v51M1226.6 919v22M1140.9 906.1v26.5M1134.2 758.8v36.8M1087.4 806.3v30.1M1238.1 678.6v42.2M1326.9 917v24.4M1295.8 762v43.8M1104.1 919.3v52.9M1232 804.3v33.9M1244.5 646.6v53.5M1152 698.4v14.6M1159.9 901.5v11.4M1114.5 863.7v18.8M1091.2 831.8v35.9M1240.3 864.8v14.6M1342.5 869.5v12M1122.3 797.9v32.5M1168.5 679.1v28.3M1126.4 829.4v48.7M1129.4 823.3v43.6M1134.5 904.3v52.2M1200.7 774.6v47.8M1241.1 766.6v52.4M1315.2 748.3v20.8M1184.8 779.4v54.2M1323.3 932.1v46.7M1336.1 657.1v33.3M1368.6 939v21.2M1210.5 842.5v26.4M1242.6 662.2v29.5M1234.9 646.7v16.3M1372.1 888.5v52.2M1272.8 899v49.8M1347 651v38.9M1164.4 857.1v22.3M1246 935.8v38M1159.9 806.5v29.5M1366.5 732v23.7M1277 678.5v36.7M1368 804.4v22.1M1223.6 810.8v16.7M1122.6 682v23.2M1205.9 732.3v21M1111.9 814.8v47.8M1265.9 822.5v39.3M1145.4 867.3v30.7M1247.7 836.1v31.1M1177.6 717.5v20M1237.2 762.6v36.4M1089.5 752.8v48.8M1156.4 818.1v32.1M1170 956v23.3M1313.8 690.7v13M1343 780.8v12.8M1200.4 780.8v43.1M1118.2 712.1v53.2M1303.9 689.4v25.2M1190 856.1v37.7M1336.7 902.8v33.3M1303.9 877.8v44.2M1226.2 891.2v41.9M1355.8 680.7v49.2M1087.3 885v36.4M1232.9 948.1v35.7M1209.3 890.8v49.3M1265.2 761.5v30.4M1221.1 871.4v23.2M1201.3 817.7v27.3M1181 891.9v48.2M1233.4 782.1v18.3M1175.7 686.4v35.9M1257.6 668.1v51.4M1181.5 909.9v47.7M1368.8 705.4v29.2M1354.6 643.4v12.1M1252.7 799.1v51.4M1314.2 812.3v54.9M1238.6 805.5v40.8M1200.9 754.5v36.8M1189.6 943.3v40.4M1240.9 671.7v26.8M1204.3 819.6v35.8M1345.6 948.6v31.9M1215.8 839.9v54.8M1187.3 809.6v46.7M1136.4 741.8v54M1329.7 804v15M1349.9 860.8v46.9M1378.1 924.2v28.9M1132.1 732.8v33M1234.9 700.2v18.2M1271.9 833v25.9M1379.2 843.7v11.9M1207.4 892v23.8M1289.8 641.3v23.7M1334.4 827.6v40.1M1144 799.3v34.9M1164.5 847v33.9M1380.1 823.8v28.5M1121.8 690.2v44.2M1117.5 672v17.7M1240.1 903.4v37.6M1323.9 659.9v10.6M1313.3 743.3v42.2M1190.4 694.2v22M1115.3 929.2v36.2M1188.9 783.9v27.4M1102.1 925v36.2M1369.1 780.7v37.9M1159.6 654.1v51.9M1338.1 740.7v50.4M1326.7 737.2v37.1M1369.2 798.6v52.7M1157.7 764.7v42.3M1151.3 738.9v49.4M1228.9 893.7v21M1137.2 754.7v18.4M1372.6 733v35.3M1119.9 810.8v27.4M1204.9 660.9v15.5M1329.6 752.4v21M1142.4 730.7v20.7M1096.3 852.6v25.4M1132 865.9v14.2M1165.6 907.2v15.8M1216.8 907.6v46.2M1133 752.9v42.5M1197.2 946.7v19.4M1366.5 801.5v20.2M1219.5 681.9v41.8M1162.9 927.9v36.4M1194.6 718.8v37.4M1148.7 919.2v15.5M1237.3 813.6v22.2M1313.7 763.1v39.6M1253.5 739.5v27.5M1111.4 696.7v48.3M1180.7 852.1v14.9M1251.8 755.7v32.5M1173.6 661.1v24M1152.8 680.4v42.3M1169.3 769.1v50.9M1314.6 922.5v48.8M1125 728.5v11.3M1286.5 852.4v25.8M1207.7 850.9v41.5M1159.3 910.9v25.8M1271.5 698.1v15.2M1355.2 874.9v42.1M1097.9 652.8v17.3M1144.4 737v27.1M1097.6 739.5v38.7M1139 908.6v35.7M1297.4 721.5v29.6M1287.9 751.7v10M1332.1 888.5v22.9M1098.7 913.3v37.3M1100 718.2v15M1319.5 707.2v51.2M1307.1 667.6v41.3M1202.1 879.2v47.3M1168.9 668.8v52.6M1211.1 937.7v41.1M1303.9 905.6v38.3M1219.6 657.4v41.4M1212.4 803.8v51.8M1123.7 883.8v12M1293.3 897.8v21.8M1247.2 950.2v38.7M1246.5 719.9v12.7M1191.6 771.7v19.1M1177.6 683.7v41.8M1283.7 716.1v20.9M1238 782.4v52.1M1189.7 735.8v49.8M1127.9 820.2v25M1326.5 815.4v44.2M1135.9 853.3v36.9M1222 885.2v47.4M1119.8 732.6v26.2M1146.9 659.3v22.6M1144.1 864.5v30.2M1119.3 743.8v31.1M1193.1 693.8v13.2M1089.2 957.5v43.8M1110.8 869.5v54.1M1252.3 674.8v32M1214.1 700.7v34.4M1088.4 934.3v39M1271.2 939.3v39.4M1160.2 718.7v16.2M1094.2 887.8v47.8M1173.4 699.4v38.7M1335.5 936.5v17.6M1317.5 905.7v43.4M1182.4 699.1v47.1M1180.4 757.9v34.8M1194.9 906v20.8M1098.2 821.4v38.3M1327.8 865.8v50.7M1364.8 798.2v32.5M1132.5 735.9v36.2M1109.7 860.2v17.4M1216.7 950.3v14M1097.8 780.6v18.6M1299.3 640.9v47.8M1338.3 891.8v29.1M1169.6 851.7v33.2M1210.3 748.4v29.7M1282.5 904.3v50.7M1134.5 734.6v29.9M1252.2 751.4v18.8M1111.1 743.6v30.7M1372.5 930.8v48.9M1373.4 947.8v37.9M1325.3 659.2v40.4M1265.7 735.1v35.7M1367.1 793.8v39.1M1174.3 749.9v49.8M1094.2 700.4v40.5M1218 667.3v39.7M1195.7 825.8v28.7M1242.3 820.7v27.8M1119.7 697.8v50M1247.7 675.9v48.8M1160.8 670.4v33.9M1160.2 796.6v34.9M1152.8 823.3v15.1M1237.4 828.3v13.6M1206.4 663.5v29.8M1340.7 816.2v42.2M1309.3 676.7v54.6M1298.9 672.7v47.4M1201.6 694.8v53.2M1252.1 888v16.2M1315 658.4v20.7M1195.8 644.9v36.7M1148.9 736v41.8M1211.7 924.4v38M1343.3 820.1v51.3M1342.9 693.8v43.5M1186.7 884.4v40.6M1329.6 679.3v26.8M1303.5 943.4v42.5M1098.8 833.2v14.5M1247.9 897v15.1M1359 856.1v21.5M1143 783v47.7M1257.5 676.3v10.9M1118.6 896.2v18.3M1249.5 732.8v40.9M1198.3 686.2v49.4M1244.8 860.6v46.4M1365.9 644.4v25.4M1130.5 800.6v49.3M1322.1 651.3v18.2M1327.4 857.4v27.7M1226.3 690.7v48M1202.1 919.4v37.5M1108.4 745.4v19.7M1349.7 828.6v12M1136.1 755.5v31M1256.2 764.1v25.9M1087.8 825.3v25M1092.1 787v54.4M1099.4 686.7v40.2M1166.4 727.5v32.5M1163.3 822.1v33.8M1368.3 957.5v11.5M1251.4 886.7v49.3M1314.4 842.6v38.6M1193.1 730.1v45.8M1343.5 940.4v40.7M1175.7 884.3v43.3M1236.1 843.3v25.8M1248.5 769.9v12.7M1185.5 743.4v54.5M1228 757.5v21M1155.3 751.8v16.1M1088.1 918.7v30.4M1217.4 822v23.6M1135.8 661.2v23.6M1177 872.5v34.8M1362.5 748.9v51.5M1258.1 665.6v18M1257.2 956v26.1M1314.5 777v49.1M1106 795v50.5M1167.4 722.4v11M1134.5 725.8v41.7M1150.4 767.9v19M1263.9 916.5v39.2M1144 874.8v53.3M1263.3 665.4v46.4M1344.3 749.2v16.1M1141.5 811.8v49.4M1274.8 935.3v19.6M1182.4 879.8v39.2M1205.6 857.3v25.2M1102.9 772.6v12M1270.8 747v32.2M1262.4 722.2v30.9M1090 936.1v35.4M1377.3 657.9v37.6M1299.6 745.3v14.2M1132.1 685.7v44.5M1112.5 900.5v29M1244.9 828.3v35M1279.9 832.5v24.9M1304.6 722.5v42M1311.2 888.3v23.9M1313.9 952.8v30.4M1168.1 807.5v52.3M1124.9 642.9v31.4M1279.3 887.7v26.3M1377.9 713v44M1112.5 648.9v16M1103.7 800.6v35M1139.6 940.7v26.5M1130 696.8v43.2M1357.8 691.9v11.3M1315.5 717.6v54.2M1233.2 843.6v25.5M1322.2 787.2v24.6M1352.5 674.5v43M1105.3 846.5v28.1M1340.9 659.2v35.4M1206.9 934.1v52.5M1271 711.7v21.3M1163.4 778.8v20.4M1145.9 882.9v38.9M1174 958.2v19.7M1254 690.2v48.8M1342.4 725.5v43.8M1328.7 730.4v24.9M1229.2 925.1v17.3M1287.4 831.2v30.4M1256.9 922.5v19.4M1346.7 755.3v45.1M1340.7 698.3v48.9M1379.5 735.2v11.1M1118.9 951.8v10.4M1354.9 688.3v43.1M1114.8 694v40.7M1112.6 748.7v51.3M1297.3 922.2v54.1M1095.7 715.1v45.6M1289.4 652.1v32.7M1154.3 777.8v14.7M1091.9 957v24.2M1345.2 678.5v31.9M1126.1 777.1v18.1M1288.2 687.3v43.2M1233.7 676v25.9M1232.4 934v25.7M1149.5 949.6v49.7M1301.8 727.4v18M1164.1 662.1v11.9M1236.1 770.6v35M1193 643.4v41M1278.7 814.1v34.7M1289.6 954.4v49.3M1297.7 767.8v24.3M1209.6 951.3v27.4M1199.7 771.2v16.4M1380.5 641.7v37.4M1359.3 721.5v37.5M1197.2 717v18.9M1120.3 909.8v45.3M1354 655.8v41.2M1181.7 846.8v34.7M1179.1 950.9v10M1306.1 913.1v33M1260.7 958.3v20.5M1271.7 877.9v27M1296.1 765.9v33.7M1266.8 856.7v24.5M1271.5 813.8v20M1266.7 724.8v50.9M1225.6 870.9v33.5M1226.6 710.8v16.4M1359.6 809.2v33.6M1241.6 900.3v20.7M1136.8 903v30.7M1275 904.8v50.2M1342 653.8v27.2M1331.5 901.7v15.5M1131.4 720.5v14.6M1191.2 897v33.5M1219.6 668.2v27.8M1380.1 862.4v30.2M1227.1 895.5v44.1M1130.2 857.7v26.5M1239.6 716v26.7M1186.3 762v10.8M1145.3 822.6v12.6M1138.6 869.8v22.4M1181.6 717.4v47.5M1112.9 843.6v48.7M1145.5 775.4v45.7M1268.3 758.9v12M1216.5 757.5v42.1M1173.1 770.5v39.2M1325.2 752.8v27.3M1256.7 935.9v18.6M1372.6 867.8v26.8M1282.4 745.4v13.2M1309 761.4v33.7M1232.5 928.4v44.1M1093.5 829.7v30.8M1222.3 908.7v28.7M1225.7 924.9v29.8M1230.9 803.8v47.1M1283.8 876.9v28.1M1098 857.5v34.9M1312.9 886.4v15.3M1151.1 664.7v46.8M1116 668.2v43.9M1252.5 657.6v40.6M1295.8 794.5v12.5M1289.8 773.7v36.3M1380.4 901.4v49.2M1128.9 747v33.3M1087.8 956.4v22.4M1163.4 740.2v21.5M1339.4 817.8v33M1210 656.4v23.7M1341.7 896.6v48.5M1161.8 704.6v12.3M1244.4 759.6v30.9M1230.3 826.8v26.5M1322.4 704.1v51.4M1250.1 656.4v24.1M1243.3 770.9v35.4M1181.4 727.5v45.8M1172 867.4v46.1M1260.7 785.5v52.1M1217.2 921v12.6M1213.9 844.6v12.2M1340.5 663v36.8M1139.1 935.2v35.2M1322.2 799.4v40.3M1285.1 734.4v19.5M1333.3 686.6v51.3M1147 672.3v14.3M1317.4 944.3v28.7M1280.4 722.4v50.8M1288.3 689.5v12.5M1291.2 653.4v47.6M1172.6 714.5v36.2M1180 819.4v16.9M1355 743.8v47.9M1130.8 895.8v54.1M1201.5 650.5v27.1M1275 711.5v34.6M1113.6 788.6v42.8M1212.8 857.3v15.1M1330.4 679.1v51.5M1379.9 940.6v33.7M1171.8 751.3v43.8M1232.5 937.5v14.2M1229 916.5v36.9M1245.5 668.3v16.3M1166 925.8v48M1153 935.9v11.5M1262.6 949.6v25.5M1364.6 850.1v12.3M1184.3 783.9v21.1M1305 697.2v45.4M1174 662.2v35.2M1114.2 816.5v45.5M1261.7 787.6v11.5M1237.4 671.1v39.1M1124.9 825v25.9M1196.5 852.2v17.4M1136.1 941.3v24.9M1334.5 919.5v31.6M1130 670.1v49.6M1120.5 798.8v34.1M1120.7 789.7v17.4M1244 802.2v26.5M1144.3 769.2v19.2M1123.5 716.8v49.2M1234 925v10.7M1364.3 796.3v45.6M1254.3 860.5v20.3M1307.3 689.2v21.9M1095.1 765.8v33.3M1172.1 925v13.8M1256.7 714.9v36.8M1317.3 867.5v12.8M1158.5 831.7v54.2M1098.2 837.8v41.1M1326.3 749.5v46.5M1222.2 934.7v10.5M1363.4 771.8v28.3M1112 718.3v43M1286.2 688.4v25.5M1127.4 703.4v19.9M1183.7 952.3v54.9M1319.5 793.5v32.4M1315.9 930.6v43.8M1273.7 703.7v38.1M1335.5 891.7v14.2M1297.6 751.7v17.3M1370.9 855.3v43.6M1125.8 905.1v52.2M1352.9 878.4v47.5M1322.6 828.9v29.6M1329.4 891v49.2M1174.2 947.5v33.9M1365.1 677.1v53.6M1318.3 720.6v47.7M1154.5 703.4v30.6M1155.8 797.6v50.9M1288.2 867.3v27.6M1317.2 894v40.7M1363.8 904.2v28.3M1111.7 848.8v47.6M1186.2 830.4v47.6M1319.9 641.4v32M1090.8 675.4v46.6M1209.5 833.5v30.6M1184.9 708.4v25.9M1335.1 838.2v23.1M1112 726.7v41.6M1216.4 851.5v46.3M1121.6 858.5v11.9M1328.8 698.9v22.2M1368.5 756v20.1M1348.5 835.3v50.2M1202.3 799.9v53M1235.5 956.3v18.5M1331 691.9v33.7M1086.1 696.1v52.5M1220.1 899v21.3M1189.9 672.3v34.9M1340.4 804.4v27M1359.9 926v40M1108.4 839.7v30M1368.6 755.8v39.8M1272.4 760.3v33.5M1285.6 930.3v32.4M1193.3 952.4v12.6M1332.3 858.7v35.1M1218.1 880.3v50.1M1301 879.9v11.6M1181.9 683.8v52.9M1349 686.2v36.4M1256.1 654.9v27.6M1306.5 845.3v22.6M1310.9 733.2v34.5M1210.1 953v39.2M1323.4 856.5v27.1M1370.1 867.1v41.1M1167.9 691.8v35.9M1329.6 894v25.6M1127.3 805.1v49.5M1133.8 876.3v17.7M1178 657.1v23.4M1199 949.4v53.3M1141.2 739v52.5M1144.2 742.7v29.7M1118 723.3v27.7M1199.7 948.4v22M1146.2 930.8v30.3M1332.9 843.9v45M1178.9 688.7v44.1M1224.7 818.8v40.2M1308 728.1v26.3M1356.7 809.4v23M1271.9 723.1v44.7M1098.2 904.5v35.5M1190.3 940.8v21.9M1157.8 662.4v34.7M1308.4 857v28.6M1324.3 675.6v23.8M1276.2 949.5v38.5M1290.1 887.9v27.8M1363.4 877.6v25.4M1201.8 897.8v25.7M1140.8 918.9v33.9M1239.8 854.2v50.6M1125.4 748.4v13M1207.9 800.7v48.3M1283 824.9v28.2M1255.2 727.6v48M1318.6 908.3v16.8M1284.1 881.3v32.5M1351 927.6v43.4M1328.2 847.6v49.5M1124.7 865.3v41.7M1266.6 728v13M1264 903.8v22.3M1148.9 711.6v14.2M1285.4 951.9v46.1M1192.1 863.8v13.2M1333.4 744v10.2M1271.6 684.4v22.4M1103.4 782.6v35M1324.2 652.7v47.2M1118.6 711.8v38.3M1186.3 745.9v35.6M1150.3 893.9v19.4M1333.6 898.8v34.2M1095 889v11.3M1234.9 775.7v12.8M1271.9 871.9v36.3M1204 803.9v36.5M1152.8 917.6v54.8M1323.2 947.6v24.8M1376.9 662.8v31.5M1125.5 785.3v40.7M1295 785.5v25.4M1142 768.9v22.7M1143.3 875.5v33.2M1215.4 703.3v41.7M1144 725v35.2M1292.9 951.4v43.6M1365.8 934.4v42.5M1298.3 660.1v19.3M1089.8 916.3v42.5M1271.9 724.4v26M1134.3 842.3v54.6M1176.2 654.2v17.9M1190.8 927.7v46.2M1220.2 672.7v14.8M1131.4 888.8v31.2M1378.2 931.8v45.8M1226.5 903v15.8M1118.1 820.3v32.9M1147.7 720.6v11M1354.1 867.3v52.5M1375.3 779.8v43M1199.3 899.8v47.9M1125.5 644.1v19.6M1258.7 761.3v10.4M1330.9 891.5v30.9M1098.8 924.5v34M1106.9 743.5v38.1M1347.2 795v38.8M1146.7 717.9v50.8M1198.9 673.3v36.6M1123.2 704v30.5M1258.7 843.6v41.8M1215.7 661.6v42.6M1101.9 790.6v28M1284.5 868.4v20.8M1277.6 861.5v31.2M1127.8 930.9v37M1104.5 716.4v54.4M1153.5 765.5v45.5M1329 842.8v43.4M1097.3 670v53.9M1322.8 652.2v12.2M1156.9 937.8v19.9M1284.2 937.7v38.7M1357.2 724.1v16.9M1091.4 882.3v14.7M1373.1 867.2v18.4M1324.1 692.1v33M1117.2 891.8v50M1356.3 640.7v48.3M1250 902.8v32.6M1268.9 830.3v46M1108.9 657.4v34.5M1171.8 767v10.3M1305.8 647.7v47.3M1325.4 786.6v15.5M1277.8 706.3v29.3M1118.6 952.5v34.6M1190 670.1v42.9M1336.7 911.5v14.6M1194.4 736.9v44.3M1129.6 834.1v54M1312.8 642.2v13.4M1119.5 861.6v36.9M1239.4 785.8v28.3M1266.3 847.5v51.2M1302.1 894.9v51.1M1333 869.3v11.4M1286.9 912v29.4M1345.1 697.5v52.4M1216.3 866.1v21.4M1174.7 751.5v24.6M1113.9 781.7v54.1M1278.9 938.3v44.3M1332.9 958.2v43.9M1166.9 719.9v28.6M1092.2 713.8v49.9M1357.7 745.2v44.7M1314.6 924.7v45.8M1242.9 673.6v47.1M1178.5 840.6v26.5M1244.5 949v17.3M1242.6 848v34.2M1362.7 770.4v51.1M1289.5 949.6v14M1148.6 732v50.8M1090 723.3v42.2M1378 696.4v29.7M1288.6 861v43.6M1308.2 719.5v21.6M1094.2 861.2v19.4M1162.6 948.6v38.9M1260.4 850v36.9M1291 737.2v12.9M1105.7 644.7v26.3M1128 676.1v32.2M1372 860v22.3M1313 696.9v14.5M1175.4 770.9v41M1217.3 873.1v14.3M1361 749.6v47.5M1095.1 905.2v20.2M1338.2 896.9v40.2M1167.9 643.1v18.5M1352.9 690.6v39.7M1259.2 851.6v18.1M1128.4 671.1v54.2M1199 848.7v35.6M1151.9 660.7v10.7M1337.5 681.6v53.3M1193.3 871.2v16.2M1318.5 720.5v26.5M1240.3 675.7v21.2M1320.8 731.3v27.1M1311.6 711.7v18.7M1150.6 762.9v26.4M1275.2 791v49.1M1100.9 852.4v47.6M1155.3 649.4v29.7M1120.2 787.2v42M1113.7 677.7v31.6M1137.3 713.8v29.8M1120.9 661.7v26.3M1224.4 939.7v35M1107.1 711.2v43.5M1252 918.5v53.3M1339.1 675.2v52.5M1240.8 716.7v17.7M1341.1 708v13.7M1164.3 935.7v30.7M1301.7 663.8v30.4M1179.8 705.7v39.8M1192.6 678.3v54.3M1228.1 697.6v10.5M1278.6 804.7v11.1M1224.7 876.9v34.2M1155.1 799.7v37.2M1278.1 686.4v46.2M1364.9 876.9v48.6M1194.5 928.9v18.2M1152.9 831.3v50.6M1110.2 709.4v11.6M1215.5 685v18.6M1306.9 826.7v52.3M1204.6 857.3v10.6M1365.8 714.6v31.5M1236.9 943.5v32.1M1378.6 838.8v19.7M1332 704.6v55M1220.7 712.4v53.3M1180.9 770.2v25.4M1283.3 647.3v26.8M1133.8 905v10M1265.2 722.5v30.4M1251.8 867.8v16.2M1156.9 678.6v53.2M1130 683.9v33.5M1257.5 923.7v12.6M1155.1 693.6v36.4M1219.5 770.9v50M1281.2 915.3v53.1M1165.3 941.4v28.3M1101.2 932.7v14.7M1091.2 732.7v23M1371.2 918.5v28.9M1242.2 911.6v46.3M1278.8 804.1v15.2M1157.9 850.6v36.4M1322.3 927.6v53.3M1142.8 664.3v50.4M1254.2 698.1v41.1M1161.4 715.7v26.5M1240.5 856.8v13.3M1304.7 839.8v31.2M1284.3 895.9v10.4M1226.2 856.9v41.9M1277 697.7v53.1M1317.8 714.5v29.4M1368.6 706.3v28.4M1369.7 928v20.5M1302.9 755.1v39.9M1312.2 680.8v20M1149.4 725.1v11.6M1126.1 770v28.9M1108.9 826.4v52.4M1256.2 753.8v41.7M1215 696.1v31.7M1091.2 856.3v17.2M1195.1 948v44.5M1332.5 845.5v38.6M1293.9 949.2v18.8M1312 736.3v21.5M1328.4 832.4v48.2M1344.2 828.4v18.9M1090.4 811.2v42.7M1166.4 662.4v10.2M1137.1 862.7v10.2M1153.8 724.8v42M1377.2 646.2v15.1M1361.7 950.4v16.7M1184.9 807.1v24.4M1209.1 793.2v21.6M1102.2 666.9v17.3M1113 839.7v41.3M1163.6 893.4v42.8M1186.8 797.4v18.5M1360 819.3v12.3M1131.4 861.6v27.3M1297.5 713.4v45.9M1322.6 670.1v36.4M1142.4 866.5v46.2M1319.4 714v14.2M1281.7 820.8v16.2M1142.9 826.4v14.9M1273 717.1v21.6M1210.9 810.6v42.6M1095.1 871.8v19.9M1171.8 844.7v41.1M1267.3 928.6v19.2M1177.8 852v21.7M1132.4 712.4v44.7M1330 869.2v53.1M1320.3 739.1v24.2M1298.8 657.8v37.4M1112.3 655.7v33.1M1130.6 938.1v49.5M1222.2 703.3v15.4M1235.5 806.8v26.3M1297.3 809.4v44.9M1117.3 662.4v27.4M1228.6 720.8v40.1M1151.5 741.8v31.5M1296.1 886.5v26.7M1217.8 936.8v52M1268.5 673.6v30.5M1273.9 729.1v11.7M1375.4 931.1v15.8M1223.4 838.2v23.5M1106.2 880.2v44.7M1215 667.4v27.7M1113.7 948.3v12.3M1171 885.7v16.1M1117.4 662.6v17.4M1242.9 906.6v17.6M1137.2 884.8v29.2M1185.7 679.4v20.9M1372.7 677.4v21.7M1304.5 925.4v50.7M1225.5 946v37.2M1171.2 788.9v42.2M1302.5 681.5v18.7M1368.7 674.2v46.6M1186 719.3v21.5M1224.4 957v16.7M1338.1 742.8v17.8M1305.7 749.3v18.4M1209.4 902.9v48.8M1255.6 643.3v44.4M1264.9 927.8v52.8M1182.5 911.5v46.9M1164.5 757.1v26.9M1190.1 761v15M1153 931.1v28.5M1273.6 923.9v44M1158.1 934.3v46.2M1378.2 873v44M1325.8 721v39.5M1198.3 908.7v16M1245 747.7v46.9M1187.9 910v48.2M1345.3 684.5v52.2M1305.6 856.6v39.4M1100.2 918.4v34.6M1220.4 748.6v45.2M1316.8 918.4v19.6M1186.4 719.8v14.5M1182.5 648.3v45.8M1153 662.6v13M1304.6 703.5v30.8M1204.5 896.8v52.9M1177.4 842.3v50.3M1224.8 927.9v43M1177.9 919.7v35.8M1117.2 828v47.3M1239 794.9v28.7M1345.7 853v19.4M1192.9 756.2v53.1M1291.3 680v51.1M1096.3 829.1v29.5M1297.7 777.4v14.2M1240.5 902.5v45.5M1191.2 711.1v43.5M1322.5 710.1v49.7M1378.8 778.7v27.1M1295.4 937.5v19.1M1175 745.3v42.9M1141.1 815v32.5M1283.2 685.8v53M1381 819.6v45.8M1140.1 931.3v34.8M1310.1 917.9v26.3M1358.6 706.4v11.1M1234.2 927.6v50.5M1367.7 803.5v52M1251.2 686v38.4M1323 775.6v37.1M1162.4 728.3v28.9M1237.4 789.9v14.2M1087.7 748.9v42.3M1306.8 715.9v21.5M1238.4 696.1v37.1M1352.7 704.6v36.3M1298.6 879.7v42M1295.6 727.2v47.7M1358.9 656.8v52.5M1216.6 667.6v13.1M1321.1 856.8v16.4M1221.7 844.4v54.9M1185.1 885.3v21M1144.7 691.6v28.5M1268.4 737v17.3M1150.5 667.2v18.7M1179.2 801.5v18.3M1227.5 780.7v53.8M1229.4 942.3v31.2M1144.4 829.4v16.5M1135.9 663.5v41.6M1371.3 769.1v25.9M1211.4 752.6v41.1M1201.6 688.7v48.9M1254.9 642.1v48.2M1300.9 753.4v38.3M1357.5 768.5v29.5M1174 817.4v39.8M1302.8 943.8v16.5M1193.9 912.5v45.6M1260.1 856.7v25.3M1364.7 815.8v28.1M1139.8 676.9v50.4M1322.1 648.6v24.5M1227.5 798.6v26.4M1350.1 751.9v33.9M1360.2 844.5v31.5M1184.1 763.9v37.4M1317.9 723.4v26.7M1200.4 756.1v51.1M1245 728.3v25M1328.3 691.3v41M1092.4 701.8v12.7M1323.6 687v20.3M1103 724.4v43M1298.4 931.3v52.6M1248.5 935v14M1358.9 778.9v18.7M1306.7 914.8v27.4M1113.5 919.3v43.9M1262.1 952.6v11.7M1102.5 679.8v11M1294.9 841.6v15.1M1133.8 697.9v37.4M1284.4 950.3v26.2M1374.8 779v27.6M1160.7 714.4v53.9M1379.5 865.9v17.9M1139.1 688.7v25.8M1303.5 658.9v33.9M1286.8 650.7v29.8M1319.3 824.2v30.3M1346 832.3v25.2M1202.8 941.9v48.7M1355.9 819.5v16.4M1137.6 762.7v41.1M1087.4 896.7v45.4M1237.9 641.8v45.9M1208.2 854.2v35.6M1300.9 770.8v53.2M1367.9 937.3v37.7M1179.3 760.5v22.1M1352.6 893.5v45.5M1328.3 957.1v41M1179.9 882.4v21.8M1266.2 690.7v48.6M1230.2 728v51.5M1110.5 937.7v44.1M1130 883.5v35.8M1353.6 827.7v29.2M1361.3 667.9v45M1116.4 728.5v15.1M1343 781.4v42.7M1161.7 873.7v39.2M1114.8 798v42.5M1149.3 849.4v22.5M1195.3 934.4v52.4M1380.4 776.6v35.7M1324.5 882.7v30.5M1340.8 768.4v52.8M1225.5 678v43.7M1128.7 857.5v12.4M1377.5 813.1v43.3M1124.7 843.8v26.9M1159.5 900.8v11.5M1227 667.8v48.3M1349.5 651v30.9M1224.4 870v42.8M1187.3 938.5v18.3M1126.3 900.7v15.4M1140.9 800v25.1M1134.3 937.6v31.3M1317.8 720.1v51.1M1151.2 930.1v37.6M1372.5 886.8v38.4M1243.2 913.5v30M1115 932.4v46.3M1287.2 878.3v20.4M1222.7 903.3v53.3M1358.4 691.4v40.8M1249.5 769.6v17.5M1126.4 790.5v32.2M1165 757.7v34.9M1310.8 828.6v17.3M1347.4 757.7v53.2M1375.6 684.9v36.2M1371.2 763.2v34.6M1178.6 649.2v19.2M1122.6 731v38.3M1252.1 943.4v40.8M1192.9 943.8v38.5M1246.3 916v40.1M1192.3 833.5v23.5M1371.9 718.1v53.8M1105 643.1v34.9M1146.7 802.4v15.3M1332.9 854.1v40.8M1359.4 957.5v40.5M1296.4 640.6v12.2M1211.8 950.1v24.1M1253.7 642.8v28.7M1352.2 828.6v47.1M1089.9 704.9v18.1M1331.5 672.5v51.9M1164.9 921.8v33.2M1181.4 949.2v28.2M1291.7 661.5v47.4M1375.5 675.4v43.6M1165.8 687.3v26.4M1281.2 945.1v54.7M1379.1 839.5v39.4M1133.5 872.3v34.8M1191.9 928v21.5M1127.8 690.6v16.7M1259.6 896.3v17.2M1234.3 823.8v35.2M1207.7 813.9v10.7M1103.1 775.3v20.7" stroke="#3A3222" stroke-opacity="0.26" stroke-width="0.75" fill="none"/>
<path d="M1309.3 666.8v38.8M1157.2 653.3v26.7M1200.3 675.2v36.8M1151.6 705.3v39.2M1219.5 690.3v42.3M1264.2 661.3v12.4M1110.2 674.8v13.1M1277.4 683.1v20.8M1237.1 729.3v18.6M1131.6 672.5v21.4M1354.4 708.6v25M1135 649.1v14.3M1336 703.3v15.5M1270.4 650.3v27.7M1184.9 654.2v36M1297.4 691v15.9M1283.5 684v33.1M1113 726.2v10.1M1151.7 680.9v16.9M1111.9 706.9v44.8M1184.8 669v33.5M1151.7 681.1v34.1M1213.1 659v12.5M1246.2 734.2v42.2M1115.5 690.2v27.1M1143.2 705.3v27.3M1324.6 671.3v42.7M1326.3 687.6v14.9M1228.7 656.4v34M1291.8 697v44.2M1099.3 709.4v38M1119.3 674v11.9M1258 710.1v22.2M1291.2 678v34.9M1167.7 733v25.3M1087.1 653.2v35.4M1341.1 702.3v15.4M1343.3 709.5v14M1198.3 705.4v10.1M1098.5 676.8v40.6M1379.9 673.6v41.8M1317.9 722.9v30.6M1372 703v43.2M1252.9 662.7v28.2M1228.5 675.4v23.1M1236.6 697.9v17.8M1167.8 690.3v27.6M1209.5 704.8v16.5M1242.9 669.8v37M1293.6 715.3v28.1M1159.4 728.3v27.9M1196.7 671.1v24.1M1295.1 718.7v26.9M1301.7 664.2v25.8M1191.6 672.6v22.6M1308.6 711v17.3M1155 715.6v32.9M1285.5 702.2v34.3M1166.5 650.5v22.6M1095.5 731.6v28.4M1283.7 732v38.2M1153.6 675.3v13.8M1320.7 711.3v27.1M1194.9 669.3v27.1M1296.1 725.6v39.7M1342 684.5v24.7M1178.6 732.7v16.4M1132.6 670.3v42.3M1337.6 674.8v39.8M1348.8 683.5v16.7M1314 678.7v14.2M1352.3 684.6v23.9M1261.6 668v10.7M1201.1 679.1v10.4M1195.7 713.5v21.7M1286.5 701.2v16.6M1092 705.7v31.4M1172.7 663v39.9M1354.2 666v30.5M1255.5 674v11.3M1182 703v31.1M1236.5 656v17.4M1177.8 682.5v22.7M1352.2 655.4v44.5M1156.9 722.1v18.5M1259.2 678.9v11.3M1320.9 717.9v19.4M1315 688.1v44.5M1102 679.2v18M1270.4 715v39.5M1247.8 679.9v38M1116.9 668.4v36.3M1215.9 734.4v13.2M1222.2 664.1v10.1M1113.6 653.2v22.9M1213.6 690.7v20.1M1293.1 691.4v44.4M1135.9 691v27.3M1195.7 722.5v17.3M1344.9 677.2v21.7M1267.4 695.7v19.9M1110.9 731v22.9M1119.7 704.1v28.6M1182.6 674.6v39.6M1185.9 682.6v43.5M1192.5 681.2v15.7M1281.4 704.8v25.6M1205.7 665.9v37.6M1220.9 719.9v23.1M1302.4 647.6v17.7M1369.4 706.4v33.6M1232.6 687.5v16.9M1137 703.1v34.3M1162.3 703v14.8M1266.8 660.4v27.8M1178.6 694.6v14.7M1228.6 700.5v14.7M1177.1 706.1v29.1M1267.9 715.2v30M1151.5 684.8v39.1M1253.2 712.8v22.7M1218.3 732.3v38.8M1278.6 654.6v31.4M1095.8 729.1v44M1300.8 669.1v39.6M1138.3 719.5v28.2M1090.6 725.1v25.4M1330.9 707v28.6M1340.4 663.3v41.4M1186 647.3v21.8M1105.5 651.5v31.8M1121.6 659.4v20.2M1168.2 727.8v41.7M1342.7 734.1v25.4M1320.8 670.3v42.4M1325.2 710.9v18M1113 728.3v29.3M1266.6 722.6v15M1292.3 686.8v37.5M1220.5 662.7v43.5M1168.9 712v39.1M1159.1 707.6v23.9M1152.1 664.6v43.4M1194.6 690.9v27.5M1093.8 712.8v36.1M1344.4 677.1v17.3M1188.5 710.9v33M1205.8 692.2v15.4M1357 687.5v27.7M1318.2 662.8v35.3M1190.2 718.1v13.3M1167.4 702.2v26.9M1197.2 697.1v17.6M1215 645.2v38M1160.9 719.8v29.3M1263.4 701.3v14.4M1315.3 671.3v40.2M1318 706v38.5M1214.8 705.6v43.3M1141.8 654.1v24.4M1236.3 658.4v17.7M1341.6 679.9v15.2M1140 697v16.6M1226.1 693.4v25.4M1234.6 720.3v10.6M1360.3 662.9v11.3M1312.4 696.3v28.8M1150.2 715.3v20.7M1300.4 665.5v30M1277.2 678.4v26.8M1105.2 702.9v34.2M1131.2 694.6v35.7M1115.8 720.5v40.5M1100.9 667.4v12.9M1160.5 652.8v27.1M1159.9 672v26.2M1195.6 716v35.3M1119.7 665.1v10.3M1183.1 654.7v34.4M1316.2 734.6v17.3M1096.8 713.1v24.4M1360.7 680.3v20.9M1107.4 730.3v27.9M1216 684.3v36.9M1331.1 687.8v16.2M1205.9 725.2v24.3M1281 695.4v26.1M1255.6 667.1v29.5M1341.1 652.2v22.9M1345.8 733v10.5M1271 701.9v39.5M1224.6 656.8v20.5M1296.2 710.5v17.2M1275.6 704.1v33M1092.5 684.7v21.4M1262.2 675.3v14.5M1283.8 670.8v37.7M1176.2 694.1v38.3M1120.1 710.8v12.4M1362.2 647.3v35.3M1194.8 661.2v23.8M1233.9 682.3v14.3M1240.2 672v43.9M1199 684.2v18M1371.8 674v32.6M1331.6 680.4v36.4M1168.2 654.9v11.5M1218.4 723.7v17.1M1215.9 713.7v19.7M1131 691.7v24.9M1362.9 725.8v18.3M1251.5 682.5v11.2M1217.1 727.4v20.6M1258.9 708.9v12.2M1358.6 654.8v20.6M1297.2 646.7v23.1M1123.4 687.6v10.6M1130.6 665v12.9M1112.7 662.5v28.1M1126.4 718.9v24.6M1160.3 666.7v39.4M1099.8 711.8v13.4M1364.6 681.7v30.9M1340.7 654v12.2M1290.6 697.9v35.2M1168 689.7v16.5M1214.9 670.3v30.5M1174.2 669.7v32.5M1111.2 717.1v27.4M1153.5 655.3v27.8M1234.6 709.8v23.1M1207.6 725.3v19.6M1375.4 725.3v44.7M1364.3 668.1v38.5M1266.5 663.4v44.9M1277.1 717.9v29.5M1109.5 722.7v16.1M1162.4 700.5v16.8M1222.5 709.2v13.4M1280.9 654.4v26.6M1277.6 706.9v11.5M1142.4 731.4v23.7M1211.3 678.7v34.4M1304.4 703.5v24.1M1254 691.4v16.6M1366.1 731.8v37.2M1378.8 686.9v39.4M1157 711.8v35M1362.9 720v40.8M1165 715.9v26.6M1178.2 678.2v38M1334.6 721v33.4M1136.2 659v29.9M1148.5 675.3v13.6M1131.7 709.5v17.8M1336.1 674.6v39.7M1175.3 669.1v23.8M1089.6 684.2v23.3M1089.7 722.5v23.1M1086.1 731.4v18M1160.6 647.2v13.5M1295.4 697.4v27.6M1158.6 670.8v44M1195.8 734.1v41M1122.8 721.3v10.7M1295.7 717.9v34.3M1248.2 718.2v15.4M1245.2 668.9v24M1142.4 708.7v30.1M1315.9 701.5v31M1358 718.1v29.8M1182.2 728.5v23M1116.1 675v34.7M1360.7 703.1v33.2M1362.5 715v25.6M1222.2 713.4v21.1M1118.4 700.8v38.3M1159.2 706.5v41.2M1123.7 657.2v27.3M1184.6 730.4v44.9M1217.5 716.4v32.1M1137.2 732.5v16.1M1108.4 685.7v10.6M1227.8 682.1v43.4M1208 721.5v37.3M1259 666.4v20.7M1231 680.6v32.6M1235.1 674.1v31.2M1380 663.2v21.7M1089.6 653.4v11.9M1210.8 720.3v34.4M1371 720.3v30.5M1257.2 646.1v23.4M1163.2 700.9v12.3M1246 678.8v27.2M1205.3 654.2v35.6M1322.1 698.8v14.1M1262.7 723.4v44.5M1309.8 649.1v40.7M1282.2 669.9v42.2M1329.7 725.6v18.7M1256.2 679.1v20.4M1310.6 700.5v21.6M1246.2 728.6v29.8M1355.5 695.9v44.7M1094.6 686.4v29.3M1300.4 732.2v31.8M1227 702.1v28.7M1294 730.2v10.5M1180.5 723.9v12.1M1319.1 647.8v32.7M1322.1 666.4v23.3M1152.8 708.4v28.5M1264.7 674.3v30.5M1367.6 715.1v43.3M1158.9 691.4v23.5M1188.1 717.3v16.1M1250.8 714.7v42.7M1091.5 669.4v27.3M1362.2 659.7v39.4M1203.2 694.3v42.5M1105 674.7v15.5M1125.5 672.3v34.5M1257.2 656v38.1M1235.7 657.9v38.7M1328.1 664.5v42.9M1325.1 665.6v10M1341.9 719.3v13.4M1312.1 714.6v32.2M1331.6 733.6v21.5M1332 727.9v21M1287.6 706.6v39.7M1253.2 669.8v18.8M1246.1 657.2v40.1M1348.3 666.8v34.4M1284.6 656v37.2M1312.1 672.6v13.4M1169.1 714.4v26.3M1326.5 659.4v13.7M1189 724.2v15.7M1107.7 712.8v13.2M1283 652.5v18.6M1281.8 723.6v24.3M1218.6 647.8v21.9M1157.4 716v35M1317.4 692.9v34.5M1123.5 679.7v20.3M1169.2 711.5v17.5M1182 670.4v40.2M1274.4 688.3v23.3M1357.9 729.5v25.7M1253.2 722.6v19M1162.3 654.3v27.6M1312.7 659.1v25.1M1378.2 688.3v23.4M1333.6 725.3v23.2M1122.4 702.3v35.9M1358.4 704.4v20.8M1237.9 670.9v25.6M1224.1 727.1v41.7M1359.3 688v43.8M1127 727.9v32.4M1343.4 682.2v44.7M1093.4 721.3v38.7M1196.4 719.6v17.5M1308 687.2v24.4M1144 717v35.6M1112.3 733v17.7M1196.7 682.3v30.2M1348.6 730.1v32.2M1193.8 654.7v12.4M1239.1 697.5v25.7M1375.8 682.2v22.3M1209.3 660.5v42.9M1260.3 693.8v24.9M1159.8 673.4v27.3M1217.7 733.1v29.7M1147.1 649.8v15.6M1188 715.4v41.1M1155.7 715.2v25.5M1244.6 693v11.5M1105.5 705.1v34.1M1198.2 727.7v38.7M1175.1 651v29.4M1279 665.2v11.5M1229.7 648.1v35.8M1270.5 670.1v25.6M1154.7 661.7v16.4M1326.6 685.8v35M1188.5 717.6v30.9M1278.9 680.3v29.7M1142.2 732.6v33.5M1243.1 702.5v13.5M1184.7 665.8v39.5M1089.8 685v40.4M1316.9 709.7v20.6M1154.5 708.4v20.5M1299.3 676.5v36.6M1255 718.4v44.5M1197.7 733.8v10.3M1344.8 647.7v29.1M1200.5 714.3v21M1147.4 715.6v29.3M1308.9 689v11.3M1313.5 664.6v26.5M1086.2 668.3v33.3M1311.4 702.3v25.5M1302.2 705.2v17.2M1243.9 698.8v35.5M1144.3 673v22M1114.3 676.4v35.5M1256.4 660.6v35.6M1120.4 712.6v15.2M1114.4 667.7v28M1165.7 724.6v42.8M1169.6 712.5v34.3M1251.5 667.9v43.2M1368.2 646.2v21.6M1180.7 662.9v25.1M1351 647.1v39.3M1177.1 646.2v41.5M1166.3 664.1v14.1M1194.3 655.8v16.3M1159.8 697v25.6M1176 692.3v37.1M1299.6 675.9v42.1M1319.4 695.6v26.6M1183.2 657.1v41M1265.5 653.9v42.4M1347.7 648v34.5M1156.3 693.2v39.2M1189.4 689.8v33.3M1142.7 701.4v24.9M1375.8 661.9v34.9M1098.1 669.7v14.1M1129.9 692.5v16.1M1320.5 653.7v31.8M1340 656.4v17.6M1311.6 687.3v42.6M1185.7 680.8v43.5M1187.4 732v41.2M1145.1 694.1v42.9M1120.6 721.4v37.1M1307.1 699.1v13.5M1368.7 654.2v37.4M1299.4 673.6v34M1207.1 712.6v11.5M1361.4 679.6v38.1M1225.1 718.1v20.5M1246.8 647.3v27.1M1109.4 722.3v33.7M1211.4 732.7v43.1M1368.2 652.4v34.6M1300.6 699.5v10.6M1358.5 684.5v30.8M1326.3 669.8v11M1358.4 669.3v11.4M1126.3 734.5v35.9M1147.9 658.2v41.4M1282.1 697.5v14.6M1207.9 730.2v10.1M1209.6 650.1v44.9M1116.8 730.8v39.4M1301.9 648.8v34.3M1231.4 689.2v15.1M1237.1 717.2v14.6M1344.5 682.8v19.3M1156.6 686.4v32.7M1254.1 725.1v27.9M1237.2 734v17.5M1090.9 674.6v21M1122.6 682.6v11.2M1357.6 688.6v40.8M1291.8 710.7v36.5M1175 710.6v17.2M1249.7 698.6v37.1M1135.5 676v38.8M1323.3 733v14.1M1148 654.6v35.3M1305.9 703.3v37.3M1238.2 695.6v42.2M1277.2 704v30.6M1231.7 713.1v30M1124 683.3v24.7M1213.5 695.5v22.7M1201.4 683.4v23M1372.7 653.1v10.6M1298.8 680.6v25.7M1260.6 678v18.4M1090.5 723.6v42.9M1170.3 686.9v21.3M1103.2 725.3v39.3M1157.1 667.9v34.4M1321 687.3v23.6M1154.9 716.8v40.2M1339.1 655.3v30.8M1376.6 709.4v26.1M1128.8 650.4v35.6M1106.2 717.8v33.3M1225.7 725.2v42.6M1267.9 654v30.6M1210.2 667.5v42.5M1301.4 656v18M1187.1 696.6v21.4M1215.7 718.2v16.4M1298.4 674.8v43.1M1366.8 674.5v31.2M1118.7 681.9v31.8M1274.3 675.8v11.2M1122.6 695.4v16M1176.3 700.7v41.5M1238 667.9v30.5M1167.3 715.4v15.5M1163.3 684.5v41.8M1134.8 662.3v14.6M1149 674.9v23.8M1310.1 681.3v26.6M1202.9 714.7v41.6M1211.5 727.9v18.8M1374.5 692.3v33.9M1198.5 669.4v14.7M1347.2 677.4v34.5M1221.9 692.4v17.2M1138.2 675.3v33.9M1246.3 645.2v34.9M1213.8 651.2v19.1M1148.4 719.1v29.3M1182.4 667.4v20.2M1168.6 676.2v37.7M1318.6 707.8v41M1278.9 655.2v11.6M1134.5 668.2v28.5M1328.5 697.7v25M1157.4 733.4v36.4M1186.7 649.1v44.4M1161.5 721.3v14.1M1278.7 677.1v41.1M1173.6 654.1v17M1323.7 733.1v32.5M1287.1 670.4v19.5M1111.6 733.6v11.5M1266.7 676.5v16.5M1214.6 728.8v18.7M1134.6 701.7v33M1236.6 661.2v40.6M1118.7 660.7v18.5M1237.6 687.9v29.4M1300.5 725.5v26.4M1098.4 719.8v10.6M1179.8 657.9v31.1M1316.7 656.6v20.3M1337.1 707v13.8M1288.5 716.5v24.3M1131.8 704.3v21.2M1125.5 659.8v24.1M1123.4 679.7v29.3M1248.9 681.3v38M1111.9 674.7v42.7M1341 727.9v36.8M1244 715.9v30M1120.7 668v13.4M1344.2 674v24.3M1244.8 654.1v34.7M1320.7 716.7v40.8M1179.6 658.1v36.7M1290.5 678.4v22M1131.3 719.9v26.1M1325.6 675.6v21.2M1237.4 712.1v40.9M1190.2 707.4v24.1M1340.1 713.4v29.4M1192.9 669.6v41M1322.3 672.5v13M1143.6 731.8v11.4M1324.9 692.6v29.4M1245.2 681.9v29.5M1112.5 727.8v13.6M1126.9 705.5v32.4M1324 707.3v42.6M1101.3 646v18.3M1315.8 658.7v28.6M1313.3 659.1v28.5M1351.7 712.3v23.9M1227.3 670v43.6M1316.9 706.2v20.6M1301.9 688.8v37.9M1193.3 724.3v34M1218.9 695.6v38.2M1242.1 731.4v10.3M1350.7 709.3v27.1M1336.7 658.4v21.8M1296.6 719.1v23.1M1379.3 703.4v11.6M1122.3 651.9v29.9M1181 668.5v25.7M1109.1 726.8v39.3M1250.8 685v20.8M1263.8 676.2v44.1M1368.1 710.4v38.9M1108.2 656.1v22.1" stroke="#4A4536" stroke-opacity="0.22" stroke-width="0.8" fill="none"/>
<path d="M1123.2 775.2v47.4M1332.2 946.8v16.9M1151.4 647.5v18.9M1102.7 809v20M1284.8 819.5v31.9M1174.5 875.1v35.6M1296.7 790.8v26.6M1170.4 652.8v26.6M1267.8 699.6v42.4M1345.3 913.1v40.6M1230.1 696.2v18.8M1303.6 955.1v12.5M1087.8 753.1v22M1262.3 675.9v41.8M1185.7 930.7v21.2M1176.1 696.3v46.6M1259.9 904.2v10.5M1246.2 874.6v47.4M1362.3 673.2v22.9M1380.6 811.2v46.3M1160.8 648.2v45.8M1163.8 819.4v22.4M1256.4 938.8v45.9M1344.7 722.2v40.8M1091.4 773.2v45.8M1161.1 757.5v31.3M1155.8 866.7v34.1M1114 934.4v10.9M1291.5 751.5v13.7M1109 959.3v40M1221.4 894.3v46.8M1359.3 810.4v19M1239 954v37.2M1283.6 909.7v24.4M1250.9 911.6v16M1339.4 647.9v29.5M1255.6 686.8v44.9M1215.6 699.2v24.5M1260.5 777.3v8.1M1113.3 868.2v13.3M1161.4 898.4v42.5M1346.1 695.8v8.2M1308.5 831.7v22.6M1091.5 778.1v17.5M1259.5 953.8v16.4M1108.1 862.2v12.3M1151.8 780.5v47.4M1181.7 741.1v27M1133.9 768.7v36M1181.6 894.8v15.4M1116 840.7v26.1M1356.9 673.6v37.8M1283.6 758.5v13.1M1266.5 882.6v26.9M1225.4 859.4v32.4M1210.9 699.6v26.5M1248.2 926.9v47.8M1250.3 745.1v16.9M1272 876.3v17.9M1289.7 959.8v23.7M1363 779.7v34.1M1341.6 705.1v21.8M1376.3 660.9v20.2M1226.6 878.4v33.2M1360.3 854.3v8.1M1107 651.7v25.3M1094 808.3v33.3M1145.7 914v24.5M1369.2 754.5v32.8M1245.9 724.2v39.2M1087.2 719.9v20.8M1346.2 800.2v9.5M1174.2 835.1v40.4M1118.2 889.4v23.6M1240.6 774.8v25.5M1378.2 934.1v44.7M1303 864.1v13.7M1096.4 905.9v34.9M1272 740.1v18.7M1357.7 810.3v8.8M1186.4 751.6v10.7M1374.5 928.9v40.6M1087.3 773.6v12.5M1300.1 899v39.6M1319.6 678.7v8.5M1113.4 909.6v41.2M1238.3 715.1v42.3M1121.5 744v8.1M1375.9 772.8v38.8M1322.5 825.9v47.5M1314.5 936.7v46.5M1110.2 880.2v17.1M1181.8 749.3v47.5M1103.8 779.2v13.1M1380.2 798.8v36.1M1239.4 885.5v21.5M1208 878.2v36.1M1347.9 739v41.9M1303.5 823.4v24.3M1253.3 664.6v11.9M1177.8 679.5v9.9M1297.5 874v32.6M1146.7 871v41M1268.7 712.8v30.6M1202.4 726.1v13.9M1341.1 842.3v45.3M1136.8 724.5v28.4M1103.4 736.7v29.6M1228.1 931.1v31.1M1274.1 827.2v39.4M1194.1 640.2v47.2M1319.8 680.5v12.5M1151.6 850.6v13.2M1091.9 798.1v8.2M1162.4 762.3v16.2M1086.7 723.2v17.8M1181.6 772.6v22.4M1181.6 646.1v41.5M1303.8 797.7v8.1M1154.8 928.2v26.3M1146.6 902.4v43.7M1122 800.3v30.5M1120.6 742.2v32.7M1284.7 841.1v32.8M1197.5 662v8.6M1333.1 916.7v44.2M1108.4 886.2v14.9M1188.1 704.1v42.4M1327.6 906.4v23.3M1362.1 723.2v31M1284.6 714.8v23.3M1115.6 894.9v15.4M1126.1 728.9v33.6M1274 807.9v42.1M1308 707.1v29.4M1136 717.4v13.9M1108.7 752.1v43.5M1279.6 668.1v16.8M1260.5 809.5v9.1M1113.7 821.1v32M1109.7 887.3v17.6M1259.8 809.5v21.6M1365.2 766.6v24.9M1245.4 908.7v47.5M1313 812.4v36.7M1274.3 947v46.8M1310.2 709.3v30.7M1215.7 714v39.3M1151.2 867.1v27.6M1211.9 866.1v37M1378 959.6v40M1163.8 854.1v27.8M1363.4 783.1v22.3M1093.6 790.4v29.3M1176.9 673.7v27.4M1106.8 694.9v25.8M1188.7 800v29.2M1200.6 682.7v8.7M1251 950.4v19.3M1189.8 742.2v37.7M1231.5 894.7v8.2M1125.1 706v22.8M1203.8 763.3v46.6M1215.6 824.2v46.5M1275.4 830.3v41.1M1184.6 651.5v46.3M1243.6 826.3v10.7M1305.8 759.6v33.7M1169.7 933.8v22.8M1167.3 926v16.9M1165.9 795.8v47.2M1120.1 707.3v39.8M1108.2 772.6v39.3M1296.2 893.8v12.7M1348.5 754.2v40.6M1225.1 925.2v27.1M1162.1 688.2v27.9M1100.7 692.5v43M1255.3 916.2v14M1227.7 789.9v12.3M1163.7 935v36.9M1236.1 835v42.4M1367.4 830.3v10M1343.2 692.7v17.6M1126.4 803.9v31.3M1221.8 790.4v13.6M1297.8 812v20.4M1331.9 940.5v44.9M1376.5 662.1v23.5M1218.7 722.1v37.8M1353 684.3v28.2M1371.4 924.4v26M1116.9 786v28.7M1317.8 699.5v19.2M1376.5 643.8v32.4M1114 880.2v24.9M1359 711.5v43.1M1153.1 655.3v11.5M1108.5 764.4v46.9M1190.7 869.4v9.4M1238.2 812.6v11.9M1257.1 782.7v21.1M1331 861.2v12.8M1117.3 656.8v18.5M1273.8 949.9v46.8M1341 679.8v39.7M1310.8 791.3v47.8M1262.7 677.9v16.6M1124.3 835.4v33M1339 643.3v8.4M1373 723.9v18.6M1341.7 675.6v39.7M1350.5 819.9v32.3M1087.7 834.1v32.6M1313.4 805.5v12.6M1151.7 849v11.2M1117.5 720.3v39.9M1247.2 754.2v46.6M1257.4 716.4v30.6M1338.4 757.9v25.4M1256.3 955.9v33.5M1139.4 826.3v20.9M1225.6 868.1v8.8M1235.7 740.5v32M1328.1 789.5v33.2M1171.2 721.9v28.4M1243.1 711.5v38.6M1233.4 753.8v18.1M1332.9 928.7v45.5M1159.2 662.8v33.3M1093.3 914v35.2M1185.4 781.3v35.3M1133.3 756.8v39.5M1286.8 827.3v12.1M1150 722.1v9.3M1274.8 823.3v45M1249.6 933.9v26.8M1238.7 730v26.6M1362.4 796.1v8.1M1190.3 703.3v32.9M1236.2 792.2v45.1M1310.9 667.9v9.2M1292.7 831v34.1M1233.6 651.5v26.1M1332.5 832.6v9.8M1122.7 929.5v29.8M1134.5 866.1v45M1341.2 846.5v40.3M1111.8 788.3v40.4M1186.7 686v42.6M1293.9 642.4v10.5M1250.4 945.3v32.7M1344.5 673.7v31M1139.6 746.2v14M1222.8 654.8v34.3M1276.7 929.5v38.7M1108.3 918v29.7M1362.2 797.4v11.3M1293.7 695.4v47.4M1245.1 928.7v27.7M1182.3 851.9v36.4M1221.7 728.2v24.8M1296.8 713.1v14.3M1228.8 850.6v10.7M1166.1 950.9v18.7M1313.7 737.8v11.4M1229.4 918.2v39.1M1100.2 865.1v32.8M1228.3 852.7v28.9M1140 862.6v13.2M1177.4 912.5v30.7M1236.8 867.2v27.7M1199.3 816.7v8.9M1189.7 652.6v47.8M1353.8 849.2v14.3M1338.3 730.6v40.2M1278.1 833.6v37.7M1164.9 907v29.7M1309.3 908.7v18.2M1207.2 755.7v11.1M1344.3 859.4v27.6M1246.9 921.5v10.8M1191.6 859.6v29.4M1232.7 722.8v16.9M1283.7 749.1v45.5M1352.1 950.5v19.1M1237.8 673.4v22.4M1108 800.5v46.3M1310.9 756.4v19M1360.8 656.9v41.8M1338.5 662v46M1276.6 764.5v25M1265.5 808.6v42.7M1350.1 744.5v8.3M1315.7 847.3v34.2M1107.9 664.3v43.9M1193.3 791.3v46.9M1143.5 843.2v10.5M1251.5 876.4v14.3M1310.1 950v41M1319.2 943.2v36.7M1247.5 903.8v40.3M1271.6 854v15.1M1185.8 744.1v42.4M1316.5 733v47.8M1103.4 659.7v21.1M1108.8 944v22.3M1200.5 913.6v29.3M1272 780.8v26.4M1368.4 728.7v29M1227.2 685.2v13.9M1235.5 895.6v25.3M1103.4 939.2v13.5M1346.9 654.5v34M1129.1 723.3v24.9M1308.8 779.3v24.7M1204.7 806.6v19.2M1367.2 700.9v13.3M1247.8 752.4v36.9M1097.7 856.5v22.6M1359.5 736v25.3M1179.7 810.7v19.2M1283.5 771.7v36.3M1172 786.1v30.3M1298 848.8v25.2M1111.3 675.9v13.9M1140.2 698.7v34.5M1186.6 930.6v17.4M1158.5 698.5v13.8M1287.2 825.1v18.1M1325 856.2v25.1M1265.3 850.1v25.6M1113 756.6v45.8M1196.2 844.5v11.5M1314.3 916.6v22.9M1195.7 804.1v18.1M1147.9 681.1v35.5M1236.3 946v46.5M1343.9 942.3v41.5M1093.2 681.5v47M1343.8 837.1v32.8M1214.7 775.9v13.8M1247.7 727.9v12.9M1342.8 823.9v43M1172.7 824.6v19.1M1331.1 706.9v33.9M1249.7 744.2v11.2M1229.6 807.4v40.7M1145.9 699.3v20.2M1322.7 714.3v33.4M1095.5 666.3v36.3M1232.6 676.1v26.9M1363.5 765.2v30.3M1210 801.7v9.7M1346.5 825.5v21.9M1169.9 699.9v45.3M1334.1 761.1v32.1M1249 704.1v9.3M1302.9 692.1v30.6M1091.1 647v14.6M1278.8 836.1v47.6M1280.7 807.1v8.5M1368.6 796.4v42.3M1098.4 907.2v27M1150 769.9v11M1257.4 710.1v36.1M1137.2 860.7v32.7M1296 944.2v19.8M1287.5 767.1v43.8M1329.4 884.4v32M1163.2 930.5v46.8M1366.2 748.2v40.9M1286.3 908.7v40.1M1220.1 766.5v39.8M1279.1 812.7v42.9M1095.4 644.3v26.6M1114.7 909.5v11.5M1346.2 712v13.4M1308.4 856.8v24.4M1261.9 817v45.9M1235.7 812.7v26.5M1207.5 860.8v12.5M1290.2 937.2v38.4M1246.2 753.1v11.9M1113.2 812.6v43.2M1341.5 698.7v38M1324.1 793.6v42.3M1141.1 747.4v28.6M1300.4 783.6v20.1M1341.8 765.4v24.8M1152 794.6v36.2M1192.7 851.9v27.7M1089.5 947.9v19.5M1247 946.8v16.3M1104.9 705.7v14.1M1337.1 805.5v9.7M1166.1 803.6v15M1176.4 929.5v25.8M1154.8 831.2v12.5M1239.4 847.3v11.5M1247.8 739v37.8M1267.7 931v32.3M1140 699.4v36.1M1325.1 660v24.7M1169.4 789.6v42.9M1251.1 878.1v38.6M1167.9 838v23M1225.9 809.8v34.7M1135.7 908.3v14.4M1178.3 911.8v47.4M1194.2 944.6v9.5M1367.8 704.3v9.4M1310.8 691.6v38.1M1088.1 679.7v22.3M1110.9 790.8v21.8M1303.9 797.7v46.6M1334.8 694.8v44.7M1350 820.8v29.1M1136.1 742.7v16.8M1143.8 836.5v21M1312.5 823.4v41.1M1111.8 911.1v28.3M1272.5 716.3v35.8M1205.8 870.9v31.4M1127.3 736.2v38.1M1090.7 842.2v29.8M1296.8 745.3v27.1M1226.7 879.7v10.9M1236.5 723.1v31.6M1162.5 706v17.3M1350 756.3v43.2M1302.9 726v30.2M1088.6 938.5v33.2M1119.2 806.1v27.8M1283.9 732.6v44.4M1269.7 663.3v40.7M1346.9 737.4v36.5M1339.8 922.2v10.8M1332.9 719.5v40.1M1288.5 789v44.1M1323 958.2v46.3M1255.1 875.2v34.8M1204.1 799.6v28.3M1149.6 723.5v41.8M1335.6 863.2v35.5M1236.5 823.4v34.7M1088.2 782v46.8M1146.7 789.6v11.1M1161.2 903.7v9.3M1321.7 895.4v42.7M1161.9 938.1v22.9M1218.9 944.2v29.8M1286.9 675.3v8.2M1164.1 673.8v41M1159.7 946.4v35.1M1142.6 867.4v20.7M1241.5 664.3v41.3M1318.2 825.9v35.6M1186.3 680.9v21M1304.3 820.2v13.4M1157 792v8.6M1099.2 783.9v13.4M1348.2 681.2v38M1320.4 740.9v29.7M1378.7 837.5v23.5M1373.9 723.1v46.2M1177.4 774.9v20.6M1278.3 922.4v35.6M1139.7 956.9v36.9M1235.3 911.9v12.3M1262.4 891.5v39.1M1284.5 660v27.1M1165.3 834.5v23.9M1220.5 812.1v31.5M1348.6 730.3v19M1140.4 676v42M1357.3 680.3v22.4M1352.7 916.5v47.1M1378.8 737.2v10.7M1159.6 800.8v8.6M1160.8 791.3v35.3M1131.6 679.4v21.2M1112.8 679.1v12.1M1321.9 921.3v9.7M1323.3 909.9v34M1174.5 902.4v11.3M1099.7 945.5v16.9M1356 881.3v9.9M1113.9 846.8v13.8M1282.5 855.2v17.3M1226.6 707.8v42.9M1272 861.1v32.9M1104 923.6v39.2M1237.9 829v27.7M1308.9 810.6v19.1M1238.3 708.4v8.2M1239.6 918.5v36.8M1147.7 802.7v31.3M1256.9 787.2v28.4M1289 922v28.6M1317.3 857.6v12.8M1162.4 740.3v22.2M1230.9 734.2v47.9M1302.6 758.8v36M1358.8 691.1v33.2M1368.8 760.1v43.1M1323.1 742.4v13.8M1323.9 773v22M1222.8 873v43.8M1356.4 885.2v15M1194.9 642.2v16M1186.4 696.7v27M1124.9 849v24.4M1158.9 859.5v21.1M1093 908.3v38.2M1345.1 734v18.6M1291.4 686.8v46.7M1278.7 815.5v10.1M1169.6 775.5v47.2M1128.7 829.4v11.1M1372.5 879.1v40.5M1307 697.5v17.7M1097.6 816.4v11.2M1141.6 695.7v44.8M1318.9 731.4v46.8M1133 685v23.3M1323.6 671.6v39.6M1246.5 895.5v21.5M1098.4 671.7v36.9M1235.6 884.4v16M1168.4 707.7v42M1293.4 689.6v37M1097.4 789.3v18.3M1311.6 870v35.4M1144.2 653.7v33.6M1290.9 643v41.5M1350.7 755.6v28.8M1278 936.2v34M1238.1 886v27.6M1095.7 815.1v24.6M1184.9 766.1v16.8M1178 879.1v43.4M1220.6 910.6v13M1238.2 878.2v39.2M1200.2 693.7v46.4M1265.7 849v21.8M1119.4 822.5v24.2M1348.6 852.2v38.2M1254.1 880.9v13.4M1379.9 825.8v31.9M1142 669.2v36.2M1300.3 853.3v18.2M1229.6 885.8v33.6M1354.3 668.6v39M1089.9 840v29.4M1107.9 774.1v34.7M1341.9 664.7v28.4M1320.6 677.4v43.7M1363 749.6v16.4M1128.9 710.3v24.8M1294.6 939.8v30.3M1367.2 776.6v34.3M1086 774v8.9M1125 898.8v12.6M1174.4 808.3v29M1095 675.3v35.1M1205.4 669.5v27.1M1195.9 959.9v9.9M1139.2 663.9v30.1M1369.4 888.8v12.5M1245.2 754.5v47.1M1294.6 833.3v18.3M1214.8 808.5v23.1M1252.4 668.8v24.8M1377.1 767.7v28.2M1308.3 899.9v37.5M1198.5 867.8v16M1268 645.1v15.7M1137.6 752.7v37.5M1092.1 920.4v11.7M1366.4 943.7v32.6M1333.9 941.1v25.9M1338.5 651.1v39.2M1277.2 888.5v14M1110.6 807.4v32.3M1288.8 697.3v30.7M1371.8 721v40.8M1369.4 855.3v25.6M1209.4 789.6v13M1108 729.5v14.9M1351.4 755.9v43M1252.1 927.4v43.9M1295.8 783.5v17.7M1252.4 739.7v41.1M1098.6 843.7v21.6M1209.9 813.6v47.3M1379.1 754.3v46.3M1368 808.4v30.5M1144.3 892.6v27.4M1310.8 935v32.9M1291 815.6v13.2M1221.4 660v15.2M1375.3 761.7v13.4M1214.3 659.2v32.3M1153.4 709.6v33.5M1359 644.4v36.6M1257.7 795.8v24.9M1089.3 752.6v28.9M1185 958.1v21.6M1335.5 899.4v39.8M1231.1 799.8v41.7M1120.7 711.9v8.5M1231 785.1v46.2M1360.6 769.9v27.8M1117 881v28.8M1135.5 920.6v9.7M1142.8 792.7v47.9M1126.9 725.3v39.6M1185.2 937.3v8.8M1156.2 739.1v41.9M1116.1 855.7v43.5M1373.4 897.9v10M1228.5 709.8v12.9M1157.7 875.2v31M1124.5 731.4v10.6M1359.2 881.3v26.9M1369.6 953v16.3M1161 701.2v33.1M1261.5 805.9v39M1242.2 740.7v34.7M1366 656v27.4M1127.2 879.1v25.3M1333.5 854.3v46.4M1257 830.6v47M1322.9 748.1v12.1M1357.8 660.4v44.9M1361.3 851.7v46M1265.1 878.7v31.8M1151.6 665.2v37.7M1219.2 679.9v30.4M1164.2 723.9v43M1268.4 879.4v40.7M1214.8 784.4v25.3M1191.4 889.1v43.4M1173.9 867.6v16.6M1088.3 859.3v39.1M1183.3 958.4v36.8M1180.7 883.3v41.8M1127.4 931.8v25.4M1166.9 760.9v29.1M1241.5 734.2v10.4M1272.1 869.6v35.8M1203 914.5v8.7M1124.1 645.9v30.2M1240.3 712.8v29M1087.1 651.6v46.5M1347.3 662.2v34.2M1235.9 812.3v41.6M1275.2 941.1v35.3M1356 677.3v40.9M1180.3 934.7v39.7M1371.1 881.7v23.6M1240.5 890.4v10.3M1245.1 821.8v36.7M1186.9 834v37.4M1198.6 858.1v44.1M1195 808.4v27.4M1333.4 726.4v19.4M1201.8 848.7v14.2M1374.7 801v37.2M1207.7 648.7v23.4M1254.6 668.9v47.2M1259.2 786.9v9.2M1158.7 747.9v34M1137.4 795.2v18.8M1252.6 860.2v28.7M1307.3 839.3v11.3M1279.7 794.8v38.4M1362.4 752.5v42M1153.8 848v8.2M1329.3 782.7v26.2M1232.8 759.2v17.2M1290.2 840.7v10.2M1165.8 938.1v19.3M1172.6 825v22.9M1365.6 954.5v13.2M1152.4 694.7v25.8M1169.8 855.8v43.4M1107.1 648.4v12.5M1177.4 682.8v25.3M1193.2 872.7v46.7M1374.4 774.6v33.7M1125 835.4v43.3M1347.1 684.8v14.6M1352 863.1v38.5M1105.9 837.9v8.9M1303.4 894.3v20.9M1086.8 874.5v47.9M1269.1 757.1v21.2M1325.5 950v22.6" stroke="#FFFFF0" stroke-opacity="0.3" stroke-width="0.9" fill="none"/></g>
<polygon points="1016.4,631.9 1241.9,574.8 1412.6,633.9 1185.8,695" fill="url(#pl)"/>
<polygon points="1084.6,625.9 1097,622.8 1115.7,615.1 1131.2,608.8 1139,605.4 1165.4,606 1171.6,610.7 1170,627.5 1177.8,630.9 1193.3,632.5 1205.8,637.1 1224.4,646.1 1235.3,653.9 1249.3,663.2 1243.1,669.4 1227.5,674.4 1212,678.8 1196.5,684.7 1180.9,687.3 1165.4,683.1 1149.8,678.5 1129.6,669.4 1128.1,658.6 1143.6,650.8 1149.8,643 1134.3,640.7 1118.8,646.1 1103.2,642.2 1090.8,635.3 1086.1,630.6" fill="#F0E8C0"/>
<polygon points="1203.7,593 1213.9,589.3 1231.7,588 1254.6,592 1275,597 1303,604 1336.2,613.5 1366.8,621.2 1379.5,627 1379,638.5 1361.7,636.5 1341.3,633 1315.8,629.5 1290.3,626.5 1264.8,623.5 1244.5,621 1229.2,619 1213.9,617 1204,614" fill="#F0E8C0"/>
<clipPath id="hc"><polygon points="1084.6,625.9 1097,622.8 1115.7,615.1 1131.2,608.8 1139,605.4 1165.4,606 1171.6,610.7 1170,627.5 1177.8,630.9 1193.3,632.5 1205.8,637.1 1224.4,646.1 1235.3,653.9 1249.3,663.2 1243.1,669.4 1227.5,674.4 1212,678.8 1196.5,684.7 1180.9,687.3 1165.4,683.1 1149.8,678.5 1129.6,669.4 1128.1,658.6 1143.6,650.8 1149.8,643 1134.3,640.7 1118.8,646.1 1103.2,642.2 1090.8,635.3 1086.1,630.6"/><polygon points="1203.7,593 1213.9,589.3 1231.7,588 1254.6,592 1275,597 1303,604 1336.2,613.5 1366.8,621.2 1379.5,627 1379,638.5 1361.7,636.5 1341.3,633 1315.8,629.5 1290.3,626.5 1264.8,623.5 1244.5,621 1229.2,619 1213.9,617 1204,614"/></clipPath>
<path clip-path="url(#hc)" d="M1121 687v9.1M1157.4 630.9v12.7M1246.4 643.8v14.3M1150.5 640v13.6M1244.5 667.3v12.5M1220.8 680.7v15.4M1172.1 637.2v4.1M1171.4 634.5v4M1248.1 630.6v15.2M1087.2 634.9v13.4M1195.4 660.5v9.9M1099.6 673.5v13.1M1163.3 651.4v13.6M1166 644.4v9.8M1205.8 665.7v8M1212.4 636.2v12.1M1146.7 679.1v15.3M1212.7 636.6v8.2M1156 654.9v4.4M1174.4 681.4v4.8M1231.4 652.3v16M1203.6 664.3v13M1153.9 615.1v14.3M1229.1 664.5v6.6M1166.8 647.6v8.4M1165.2 642.9v15.8M1187.8 685.4v14.9M1113.8 668.6v8.6M1183 651.5v12.9M1134.1 660.9v8.4M1213.4 645.8v11.7M1248.7 628.4v4.1M1232.1 648.4v11.8M1221.4 678.3v8.6M1247.2 637.4v12.7M1221.6 635.1v9M1144.9 633.4v8.9M1224.2 610.4v15.9M1214.8 651.2v11.7M1133.9 668v14.5M1147.5 646.3v6.6M1125.9 675.2v11.7M1158.2 657.9v6.2M1085.2 634.7v10.9M1115 649.8v7.9M1127.8 666v8.3M1206.8 666.8v8.5M1089.8 674.4v10.6M1180.1 661.6v10.6M1234 606.1v15.6M1186.1 638.8v14.9M1232.1 654.3v4.1M1187.3 639.2v10.9M1221.3 616.2v14.1M1135.7 626v4.4M1102.1 627.4v10.3M1239.4 619.5v7.5M1146 657.8v8.2M1194.9 617.7v4.5M1180.1 664.7v5.6M1092.5 660.2v4.8M1237 662v5.9M1152 610v5.1M1142.5 677.3v14.9M1208.6 657.6v11M1168.7 659.1v10M1150.1 673.9v7.6M1151.4 661v15.6M1141.3 640.9v8.8M1119.2 634.5v13.5M1115.5 644.5v7.4M1179.8 668.7v5.4M1164.7 620.8v11.8M1196.2 623.5v6.8M1134.5 632.3v14.7M1228.5 670.2v8.7M1159.9 621.9v9.5M1241.2 612.9v8.7M1116.8 674.6v7.6M1164.8 609.7v12.3M1169.2 671v12.7M1207.1 626.9v7M1183 609.5v15.2M1203.3 645.8v8.3M1097.3 650.8v13.3M1103.9 613.5v12.2M1162 670.2v8.9M1246.4 676.9v7.9M1172.9 653.5v9.4M1219.3 663.2v13.8M1126.2 646.8v10.5M1180.7 606.7v13.7M1158.4 618.4v14.3M1176.2 666v12.9M1187.1 680.3v4.7M1139.5 618.8v11.6M1120.7 607.7v5.6M1113.3 649.7v9.5M1161.1 606.4v10.3M1126.3 612.9v4.7M1109.4 638.2v6M1160.9 618.8v12.8M1228.8 631.9v4.9M1243.5 612.3v11.8M1209.2 645v14.7M1108.8 664.4v14.9M1232.3 675v9.2M1168.9 674.9v8.6M1126.6 608v6.4M1107.7 681.5v7.7M1142.6 685.2v12.3M1156 614.1v8.4M1132.5 683.1v9M1244.8 627.5v4.6M1232.7 611.6v13.5M1182.6 628.7v14M1155.3 686v10.7M1240 681.6v8.5M1198.5 665v11.9M1088.4 661.8v13.1M1116.5 613.2v4.8M1174.2 614.1v14.2M1153 686.9v12.8M1155.1 620.4v9.1M1184.6 676v14.7M1138 607.3v12M1197.8 658.4v13.6M1218.3 656.6v13.9M1105.2 682.9v12M1100.1 619.2v11.7M1135 682.2v7.3M1164.6 646.7v15.3M1134.6 678.5v12.7M1178.3 682.9v14.6M1208 650.1v4.5M1120.9 658.7v5.4M1190.5 633.8v8.6M1220.1 674.3v13M1158.1 649.3v15.8M1237.1 655.2v4.9M1233.1 609.2v5.4M1193.1 621.5v13M1197.6 619v14.9M1249 659.2v15.8M1216.5 644.2v13.9M1239.1 662.4v5M1145.9 663.1v8.4M1112 642.8v5.7M1162.7 613.5v12.7M1119.7 682v5.3M1188.5 658.1v6.4M1187.9 650.4v11.4M1115.1 644.5v14M1186.4 625.4v8M1229.4 609.8v9.7M1169.1 640.6v4M1102.1 674.4v9.5M1132.6 642.4v4.6M1098 673.3v13.1M1117 631.4v4.9M1136.9 648.1v13M1167.9 674.8v16M1178 609v5.6M1195.4 616.1v14.8M1093.5 610v15.9M1151.6 650.9v11.2M1104.1 632.9v8.4M1206.1 669.5v12.3M1114.4 643.2v15M1113.3 634v11.4M1248.5 607.5v12.3M1160.6 648.7v14.1M1100.4 654.4v7.8M1209 663.9v9M1109.6 668v12.4M1177.4 666.5v15.4M1124.8 661.9v13.7M1128.4 679.4v7.8M1242 653.1v15.7M1230.2 669.5v8.4M1160.1 653.5v13.7M1153.1 679v6.6M1170.4 617.3v6M1132.5 609.3v10.8M1186.7 637.8v13.6M1174.5 661.4v5M1138.9 607.2v5.9M1224.5 616.5v11.2M1146.8 660.5v14.5M1221.2 684.4v15.6M1150.2 686.3v13.2M1130.4 632.3v10.3M1223.8 613.5v14.7M1195 654v8.9M1147.4 638.7v12.6M1157.5 663.9v14.5M1098.9 607v15.3M1116.4 672.1v8.9M1121.6 606.4v9.1M1183.4 609.9v4.1M1131.9 677.6v13M1126.8 638.5v9M1201.3 628.8v8.3M1167.5 624.8v9.2M1207.7 646.7v4.7M1142.1 652.1v6.8M1148.4 651.2v8.4M1114.7 677.1v4.8M1233.8 613.2v10.6M1174.3 639v11.5M1230.1 631.6v4.7M1117.5 677.4v11.2M1208.8 637.3v7.9M1198.2 651.9v15M1111 633.5v12.3M1233.9 643.6v13.5M1102.6 657.8v8M1198.8 629.8v6.2M1128.9 664.7v12.5M1234.9 639.3v4.8M1217.8 626.4v12.6M1165.1 641.8v4.4M1121.9 666.7v9.5M1229.8 671.5v10.4M1246.5 605.6v8.8M1172.5 609.8v14.5M1109.2 652.9v7.3M1147.5 643.5v7.5M1112.8 660.1v11.5M1097.9 685.1v5.3M1121.3 628.5v8.4M1165.3 679.4v5.2M1179.2 656.5v7.1M1143.1 641.9v14.6M1212.5 644.7v4.8M1143.5 672.3v9.2M1148.9 657.7v4.5M1191.3 661.6v5.4M1153.3 675.5v7.1M1171.9 633.7v10.6M1149 633.6v15.1M1198.7 687.2v8M1161.4 635.4v14.4M1145.1 661.1v6.1M1173.9 627.5v15M1144.9 683.4v10.8M1140.8 650.5v15.2M1198.8 672.9v10.8M1186.4 616.9v14M1190 658.5v7.6M1210.2 648.6v7.8M1247.9 668.7v12.1M1222.9 662.4v8.6M1241.9 679.6v12.1M1156.2 646.4v4.5M1231 673.5v11.1M1161.3 671.2v4.3M1150.5 625.9v11.3M1142.9 655.1v14.8M1152.2 614.8v4.2M1222.2 643.8v9.3M1089.5 613.9v4M1232.1 609.3v7.9M1162.5 652.4v6.7M1190.9 657.8v15.8M1100 629.7v5.2M1132.3 622.9v4.4M1217.5 628v12.9M1218.6 670.6v4.3M1181.2 675.1v11.6M1184.1 640.3v13.9M1172.5 634.2v10M1162.2 620.8v12.1M1222 659v4.1M1151.3 668.2v5.6M1167.8 661.4v10.4M1139 606.8v12.4M1112 654.7v10.3M1203.6 614.6v15.7M1207.8 676.9v6.2M1203.2 636.4v12.4M1199.6 638.9v15.4M1156.8 643.7v12.6M1109.5 678.8v8M1230.7 617.3v5.5M1181.8 625.1v9.3M1117.6 664.7v12.8M1197.6 616.4v4.6M1180.6 612.1v12.6M1174.7 681.8v13.8M1192.5 673.2v10.1M1132.5 610.4v12.4M1194.2 657.2v10.1M1159.5 680.7v8.5M1107.6 683.3v13.1M1232.2 686.1v9.2M1110.2 645.8v9.9M1148.4 669.8v7M1244.4 622.8v7.4M1221.2 624.6v12.7M1129.7 638.9v9.6M1125.2 672.8v15.3M1236.9 618.5v4.3M1157.1 666v10.6M1242.8 686.3v12.2M1127.6 638.3v4.8M1149.4 666.9v7.8M1115.1 649.5v14.8M1190.9 614.4v9.2M1122.3 671.9v9M1157.6 677.3v7.6M1158.5 685.7v7.7M1173.5 658.5v8M1188.2 639.9v14M1176.3 664.9v10.9M1199.4 637.4v5.8M1144.5 632.1v4.2M1211.3 648.4v9.8M1200.6 610.9v5.5M1202.7 608.8v14.4M1168.3 684.6v14.3M1151.8 633.6v9.2M1211.3 643.2v12.6M1247.8 666.7v10.2M1206.8 645.9v11M1153.8 682v15.8M1178.1 651.2v5.2M1177.7 681.5v6.9M1212.2 626.3v12.6M1131 654.2v13.3M1089.9 674.2v10.3M1124.8 630.6v10.7M1206.6 620v4.8M1122.7 657.4v8.8M1210.2 665v8.4M1181.7 617.4v11.3M1191.2 624.8v12M1107.4 685v10.6M1236.5 660.2v6.6M1205.2 655.7v8.5M1198.7 667.7v12.2M1120.5 684.5v14.9M1156.1 681.3v15.9M1141.3 621.1v6.9M1165.2 617.3v6.8M1205.2 607v11.3M1151.8 663.6v7.1M1163.4 622.9v4.2M1226.9 635.4v7.5M1238.5 635.7v10.5M1107.7 639.1v14.5M1220.4 672.4v15M1122.6 609.7v5.6M1191.7 650.1v8.4M1201.9 623.4v11.3M1153.3 616.8v13.3M1114.9 671v13.1M1156.5 642.6v6.5M1107.5 662.4v8.4M1177.3 635.6v7.2M1111.4 667.9v9.2M1109.7 676.9v5.8M1122.3 618.3v10.7M1212.7 608v15.1M1200.3 673.5v9.1M1156.5 613.1v7.1M1228 628.8v14.8M1221.9 680.8v5.7M1154.2 673.7v7.7M1124.9 607.1v10.4M1175.2 622.8v7.1M1188.8 619.6v13.4M1228.2 639.8v5.6M1178.6 629.6v5.3M1201.4 651.2v7.3M1125.3 664.7v15M1142.5 653.4v6.6M1161.2 653v7.7M1184.2 649.8v4.5M1104.1 639.3v5.8M1174.6 654v11.5M1230.4 655.2v13.3M1103.6 676.9v15.2M1182 673.2v10.6M1156.1 618.6v9.8M1202.1 670.5v14.7M1169.9 682.8v8.5M1087.7 640.3v10.5M1211.9 624.5v4.3M1203.6 621.1v14.2M1177.8 616.5v10.3M1211.8 623.7v15.5M1093.9 617.6v11.1M1196 654.7v15.1M1117.7 609.2v10.4M1142.5 637.9v8.7M1229.9 628.8v12.3M1178 628.7v14.9M1126.7 630v6.3M1200 662.2v8.4M1104 654.2v8M1175.3 659.1v4M1092.1 672.5v14.4M1099 623.7v9.1M1221.7 630.7v15.5M1099.5 679.6v4.7M1183.7 685v12.7M1235.1 634.2v15.5M1233.4 627.9v13.3M1235.7 622.9v8.7M1211.5 652.4v15M1156 642.1v6M1129.8 677.1v7.1M1232.2 671.2v10.8M1134.3 605.5v5.4M1221 683.9v15.5M1130.7 682.1v9.3M1145.2 679.8v13.8M1196.3 628.8v5.3M1114.7 627v6.3M1178.6 631.2v6.6M1229 635.6v4M1086.1 650.6v4.4M1176.4 607.5v9.6M1186.5 649.6v6.6M1222.7 685.1v13.8M1238.1 685v8.4M1174.1 639.3v13.4M1112.3 624v9.4M1174.2 686.6v8M1085.2 637.2v14.5M1100.4 647.9v11.2M1222.8 632.2v11.3M1241.5 685v10.8M1140.3 658.7v12.8M1196.6 660.7v8.6M1202.5 634.2v6.8M1101 650.7v6M1131 629.8v8.5M1153.2 685.2v10.3M1175 638.2v10.6M1218.7 648.2v10.1M1142.4 620.6v6.6M1099.3 628.7v4.5M1153 652.3v5.4M1209.1 642.4v11.5M1155.4 670.5v12.2M1104.5 650.4v7.2M1207.6 635.8v6.7M1090.1 686.2v5.4M1247.9 635v4.6M1275.9 609.9v12.2M1341.2 637.2v7.8M1218.6 598.9v4.1M1251 619.3v14.7M1221.2 601.5v14.7M1306.9 608.2v4.9M1213.6 599v11.4M1213.9 613.4v13.8M1204.1 602.5v9M1310.9 625.2v12.1M1280 605.1v11.5M1284.5 634.9v10.3M1306.6 621.6v9.8M1290.2 621.5v11.2M1379.2 603.4v9.9M1375 629.1v10.6M1257.2 597v9M1278.7 609.8v7.1M1288.2 617v5.2M1319.5 623.9v6.3M1247.4 589.9v9.7M1322.4 608.8v11.1M1310.1 590.2v4.6M1292.8 634.7v12.5M1282.1 601.1v5.6M1317.3 626.6v8.7M1218.7 602v12.5M1339.2 608.2v14.6M1272.2 589.2v6.5M1360.2 623.6v5M1254 607.9v9.8M1208.1 634.6v10.4M1250.1 589.6v10.9M1367.7 624.3v14.3M1357.3 621.6v4.7M1258.4 617.4v9M1241.9 591.4v14.4M1321 603.1v9.6M1357.1 595.3v11.5M1244.7 633.7v13.6M1370.4 607.3v10.1M1260.2 605.7v15.4M1374.2 638.2v14.9M1289.7 621.4v14.9M1279.4 634.4v13.6M1253.6 606.2v12.3M1232.5 600.9v6.3M1222.5 633.9v16M1347.9 613.4v13M1324.5 610.3v10.2M1226.1 600.2v8.1M1266.5 621.3v6.9M1245.5 632.2v13.4M1367.6 627.3v6.3M1289.5 630.1v13.7M1243.8 612.4v11.1M1205.6 600.3v12.9M1320.9 610.6v10.9M1296.5 605.5v5M1334.1 627v9.2M1339 629.8v12.3M1345.8 636.8v4.5M1369.3 610.8v13.3M1333.3 593v11M1219.4 625v8.1M1269.9 601.8v13.7M1316.3 603.1v12.9M1236.3 628.5v11.3M1338.4 619.1v15.8M1325.9 611.4v11.1M1303.4 602.4v7.7M1344.1 629.3v15.6M1324.3 613.5v8.7M1327.7 620.8v15.3M1335.1 607.4v7.3M1211.6 627.4v9.1M1273 590.7v9.9M1361.6 602v12.9M1337.1 621.3v11.2M1247.5 622.1v11M1373.7 614v8.3M1363 619.5v8.1M1317.9 595.7v6.3M1359.1 611.4v13.6M1241.5 611.8v6.8M1344.7 618.2v8.7M1271.3 598.7v6.5M1325.1 603.8v5.3M1271.5 610.9v15.9M1271.4 608.4v15.7M1330.5 611.2v8.8M1243.3 595.7v9.7M1316.3 593.3v9.7M1234.2 618.4v8.1M1320.8 627.5v8.9M1271 592v6.5M1313 628.7v5.7M1375.3 634.2v8.4M1298.5 622v8M1268.1 624.4v9.8M1280.5 616.4v5.4M1286.4 602.9v6M1295.9 623.5v10.3M1291.4 621.8v9.1M1376.3 598.8v4.1M1303.6 623.1v8.6M1273.9 605.3v6.9M1342.9 631.6v7.3M1302.9 611.2v5.6M1332.7 614.9v15.9M1363.6 633.6v7.1M1223 628.9v5.3M1324.5 596.9v12.5M1213.2 592.4v14.4M1294.3 610.8v15.7M1341.6 599.4v12.5M1271.5 611.4v7.8M1243.6 603.3v7.3M1236.9 632.1v8.5M1302.3 629v12.1M1231.2 636.1v15.2M1351.3 604.6v14M1316.5 589.6v8.5M1326.4 615.5v15.4M1342.7 630.2v15.8M1264 633.8v4M1344.1 592.4v10M1281.2 591.6v11.6M1342.2 599.3v6.9M1339.2 614.7v4.2M1257.6 635.7v7.3M1254.5 610.8v14.6M1346 607.4v12M1208.6 591.3v8.5M1315.2 595.1v4.5M1353.7 597.4v4.7M1218.8 592v7.4M1305.5 621.2v7.4M1294.3 604.8v11M1222.9 619.5v4M1365.9 598.6v10.7M1236.9 610.4v7.2M1316.4 627.4v14.1M1375 611v10.6M1265.5 602.6v10.1M1374.8 590.8v13M1260.5 618.2v7.2M1330.1 613.1v7.7M1282.5 588.2v5.2M1363.3 592.2v8.8M1321.4 589.8v15.2M1240 636.6v9.2M1306.7 618.5v5.1M1292.7 625.8v13.5M1332.8 622.4v5.5M1275.6 613.7v4.5M1338.3 593.2v10.8M1250.6 596.2v15.4M1312.7 625v11.3M1302.9 632.1v4.8M1270.2 599.1v11.2M1273 634.5v6.8M1251 634.3v12.7M1279.1 606.9v12.8M1229.8 624.5v6.7M1345.4 591.7v15M1355.2 589.2v5.9M1364.5 629.4v7.5M1344.5 617.3v7M1324.6 608.9v5.7M1353.3 624.2v6.9M1278.8 622.5v8.5M1249 614.6v15.4M1220.4 600.7v9.8M1376.8 638.1v4.1M1316.5 595v6.5M1227.5 613.2v15.9M1373.5 606.5v14.8M1324.8 591.8v14.8M1251.8 637.4v5.6M1361.9 613.9v10.2M1235.9 612.7v13.1M1301.5 637.5v10.4M1362.7 594.7v12.8M1309.1 632.6v8M1285.1 629v7.1M1269 630.7v11.8M1289.8 588.8v13.2M1276.7 600v8.6M1227.9 630.5v13.6M1373.5 622v5.9M1278 638.3v4M1263.9 595.5v6M1252.1 619.3v4.8M1356.1 609.7v6.1M1221.5 614.5v8.2M1291.8 593.5v8.3M1292.6 592.3v10M1351.5 617.8v5.6M1314.7 592.2v5.7M1205.4 614.8v6.1M1252.7 594.1v14.7M1229.2 622.1v13.7M1282.7 617.4v8M1347.6 622.6v4.9M1327.4 595.1v9.8M1236 612.5v11.9M1332.6 604.4v4.7M1282.9 634.2v10.6M1312.6 626.7v11.7M1370.5 636.2v12.9M1345.6 595.2v7.2M1328.7 617.3v14.3M1339.8 604.7v6.1M1319.3 593.6v9.9M1252.2 608.3v11.8M1315.1 619.2v4.7M1360.9 623.6v14.9M1311.4 620.6v14.7M1334.9 620v4.5M1207.9 624.2v14.2M1271.6 598.6v9.3M1351.6 626.2v5.6M1239.1 598.5v12.9M1247.8 632.9v8.9M1237.6 609v5.7M1358.3 589.2v9M1270.3 589.9v6.7M1377.6 631.4v9M1357.2 633.9v14.3M1331.4 616.6v10.1M1329.6 618.4v15.7M1235.4 633.4v13.1M1281.5 630.8v7.4M1272.5 617.1v15.6M1246.3 630.8v11.9M1365.4 603.1v12M1359.9 632.6v12.4M1351.3 620v10.6M1237.5 614.2v15.7M1370 590.1v7.6M1245.8 630.5v6.2M1338.3 597.9v8.1M1374.7 594.3v11M1252 626.2v4.8M1322.7 601v15.5M1261.5 621.8v4.3M1368.9 620v15M1334.4 591v12.9M1270.6 598.1v14.7M1320.4 605.6v4.9M1317.8 591v6.9M1212.2 596.7v13M1250.7 637.8v7.4M1344.2 625.2v11.7M1310 595.1v13.9M1365.9 614.8v6.2M1218.8 600.9v15.7M1259.5 602.2v10.3M1209.8 627.9v13.4M1257.8 589.5v14.8M1346 626.6v6.5M1371.4 620.4v4.4M1376.2 623.3v6.2M1360.3 618.2v11.6M1208.6 598.8v13.5M1206.1 597.8v4.8M1306.1 595v13.4M1283.1 627.5v15M1374.5 597.7v8.4M1343.3 604.8v15.3M1262.8 619.7v7.1M1330.8 602.3v9.1M1330.8 629.8v5.7M1234.1 598.7v13.2M1322.2 624.2v13.7M1244.8 613.1v4.1M1265.6 618.3v7.1M1343.4 598.7v9.3M1323.9 599.2v12M1274.1 590.4v5.3M1318.4 629.5v12.2M1355.4 621.6v13.3M1351 618.1v10.4M1232.1 599.9v5M1223.2 607.8v7.5M1302.7 629.8v7.2M1360.9 630.1v6.3M1307.4 598v4.8M1242.4 598.3v4.1M1208.2 628.8v14.4M1355.5 591.7v4.3M1354.4 606.9v8.1M1326.9 614.8v8M1230.1 593.8v12.5M1362.9 589.9v6.7M1296 601.5v9.9M1291.9 601.3v5.4M1277.4 629v5.7M1298.3 628.9v10.8M1264.7 634.9v13.4M1379 603.1v9.8M1282.9 630.4v11.4M1300.4 614v14.7M1265.8 594.6v6.1M1246.6 592.8v15.7M1301.3 628.3v9.5M1295.3 599.4v14.7M1277.6 608.5v12.9M1356.4 638.4v9.8M1278.2 629.7v9.1M1239.3 612.1v7.7M1249 627v8.2M1313.6 603.3v5.4M1341 627.1v12.5M1310.9 596.8v10M1350.2 627.6v11.1M1314.6 596.6v4.7M1352.4 588.9v7M1274 623.4v12.4M1356.1 635v7.3M1247.5 594.2v8M1221.8 636.5v10.9M1290 590.9v14.9M1246.8 626.9v6.5M1251.3 594.9v10.4M1253.7 616.9v12.6M1243.4 594.6v10.2M1274 610.6v8.4M1232.7 594.2v12.7M1315.2 622.7v11.7M1293.9 597.9v15M1297.4 611.1v7.1M1270 637.5v8.9M1345 594.3v11.2M1251.5 599.8v7.6M1273.4 620.5v8.9M1355.1 595.8v14.3M1280.5 628v8.7M1248.9 633.2v11.6M1330.7 614.4v12.5M1371.9 625.4v15.6M1265.1 603v14.6M1350.3 632.9v9.2M1276.4 635.8v6.4M1232.9 596.7v7.6M1277.1 607.3v9.5M1209.9 605.3v10.1M1213.2 612.3v14.9M1318.5 635.8v14.3M1290.5 589.1v4.7M1305 630.6v8M1226.8 626.3v10.5M1286 594.4v10.6M1304.6 623.9v14.8M1217 630v7.9M1276.8 605.4v13.7M1281.2 591.6v9.7M1229.8 588.8v4.6M1270.6 610.8v4M1227.7 633.5v10.5M1376 615.4v15.5M1325.2 607.6v4.6M1229.7 628v11.9M1256 596.2v11.7M1367.2 600.5v16M1297.6 598.5v6.2M1328.8 634.9v6.4M1245.6 595.2v6.5M1243.4 609.1v6.9M1320.2 600.1v7.2M1277.3 596.5v4.6M1219.6 588.2v12.1M1212.3 612.2v14.7M1311.7 603.5v8.8M1278.8 604.2v4.6M1231.2 595.2v6.5M1261.9 593.2v11.4M1238.8 613.8v12.3M1291.1 625.4v13.4M1282.4 598.7v4.5M1325.5 606.6v7.5M1218.4 597.1v14.7M1286.7 630.8v14.1M1247.3 599.4v14.6M1245.3 618.2v15.2M1285.6 609.4v15.5M1355.4 634.8v12.5M1243.1 590.4v4.3M1366 615.4v14.6M1372.1 600v15.6M1251.8 597v7.3M1378.7 635.5v8.2M1288.4 629.6v13.6M1361.5 606.3v6.8M1293.9 635.2v11.4M1357 597.9v10.1M1364.9 616.8v13.5M1345.7 610.4v12.3M1325.3 610.2v10.2M1346.1 632.5v15.8M1268.3 622.1v10.6M1353.4 600.1v9.6M1248.7 628.6v12.5M1204.8 593.5v5.7M1307.6 627.1v8.1M1217.7 617.6v11.4M1279.4 601.7v8.2M1244.6 629v8.6M1329.1 615.7v6.8M1252.9 621.9v14.4M1365 595.8v7.1M1221.1 597.6v8.6M1329.9 634.3v11.1M1229.3 607v5.7M1252.8 617v10M1233.9 601.9v14.8M1314.5 618.4v7.9M1256.3 626.5v4.2M1318.6 636.3v11.6M1212.2 589.7v13.4M1236.3 609.3v11.8M1322.4 602.5v12.2M1364.3 611.6v8.8M1324.2 632.1v12.2M1366.7 627.5v15.5M1247.7 622v6.5M1224.3 605.2v15.3M1255.5 603.6v15.1M1376.3 626.3v8.2M1348.4 591.3v4.1M1214.8 604.9v6.9M1354.7 610.6v14.2M1289.5 606.8v8.1M1212 611v15.4M1374.5 635v5.2M1281.4 630.1v5.8M1215.2 598.4v5M1333.8 624v15.9M1212.6 623.5v13.5M1235.1 592v15.8M1342.7 591.5v6.2M1319.5 596.6v9.2M1230.1 592.6v9.8M1299.1 630.8v4M1266.1 591.6v10.6M1232.8 604.7v15.6M1317.9 621.8v11.3M1239.1 622.6v15.6" stroke="#5A5038" stroke-opacity="0.35" stroke-width="0.7"/>
<path d="M948 588L956 967L1197 1088L1491 982" stroke="#000" stroke-width="2.8" fill="none" stroke-linejoin="miter"/>
<path d="M948.2 596l8 -1.5M949.3 649l8 -1.5M950.4 702l8 -1.5M951.5 753.6l8 -1.5M952.6 805l8 -1.5M953.7 856l8 -1.5M954.7 906l8 -1.5M955.8 956l8 -1.5M956 967l8.5 -3M1004.2 991.2l8.5 -3M1052.4 1015.4l8.5 -3M1100.6 1039.6l8.5 -3M1148.8 1063.8l8.5 -3M1197 1088l8.5 -3M1197 1088l-7.5 -3.5M1256.2 1066.4l-7.5 -3.5M1315.4 1044.8l-7.5 -3.5M1374.6 1023.2l-7.5 -3.5M1433.8 1001.6l-7.5 -3.5M1493 980l-7.5 -3.5" stroke="#000" stroke-width="2" fill="none"/>
<text x="917.52" y="608.77" style="font-size:22.82px" textLength="24.41" lengthAdjust="spacingAndGlyphs">35</text>
<text x="917.53" y="659.77" style="font-size:22.82px" textLength="24.29" lengthAdjust="spacingAndGlyphs">30</text>
<text x="919.87" y="711.77" style="font-size:22.82px" textLength="25.08" lengthAdjust="spacingAndGlyphs">25</text>
<text x="919.88" y="763.77" style="font-size:22.82px" textLength="24.96" lengthAdjust="spacingAndGlyphs">20</text>
<text x="922.49" y="815.77" style="font-size:23.14px" textLength="22.36" lengthAdjust="spacingAndGlyphs">15</text>
<text x="921.92" y="867.77" style="font-size:22.82px" textLength="24.92" lengthAdjust="spacingAndGlyphs">10</text>
<text x="937.24" y="919.77" style="font-size:23.14px" textLength="10.54" lengthAdjust="spacingAndGlyphs">5</text>
<text x="938.08" y="966.77" style="font-size:22.82px" textLength="12.75" lengthAdjust="spacingAndGlyphs">0</text>
<text x="929.99" y="990.77" style="font-size:23.43px" textLength="32.52" lengthAdjust="spacingAndGlyphs">-15</text>
<text x="972.98" y="1010.77" style="font-size:23.1px" textLength="32.83" lengthAdjust="spacingAndGlyphs">-10</text>
<text x="1031.99" y="1034.77" style="font-size:23.43px" textLength="19.88" lengthAdjust="spacingAndGlyphs">-5</text>
<text x="1085.08" y="1057.77" style="font-size:23.1px" textLength="12.75" lengthAdjust="spacingAndGlyphs">0</text>
<text x="1135.16" y="1082.77" style="font-size:23.43px" textLength="11.71" lengthAdjust="spacingAndGlyphs">5</text>
<text x="1169.35" y="1109.77" style="font-size:23.1px" textLength="24.47" lengthAdjust="spacingAndGlyphs">10</text>
<text x="1203.42" y="1108.77" style="font-size:23.43px" textLength="23.48" lengthAdjust="spacingAndGlyphs">15</text>
<text x="1258.28" y="1087.77" style="font-size:23.1px" textLength="25.58" lengthAdjust="spacingAndGlyphs">10</text>
<text x="1317.16" y="1064.77" style="font-size:23.43px" textLength="11.71" lengthAdjust="spacingAndGlyphs">5</text>
<text x="1375.17" y="1043.37" style="font-size:23.1px" textLength="11.59" lengthAdjust="spacingAndGlyphs">0</text>
<text x="1430.99" y="1023.77" style="font-size:23.43px" textLength="19.88" lengthAdjust="spacingAndGlyphs">-5</text>
<text x="1478.95" y="1003.77" style="font-size:23.1px" textLength="33.88" lengthAdjust="spacingAndGlyphs">-10</text>
<text x="1009.72" y="1071.3" style="font-size:22.86px;stroke:#000;stroke-width:0.55px" textLength="37.38" lengthAdjust="spacingAndGlyphs">EV2</text>
<text x="1377.7" y="1074.1" style="font-size:23.48px;stroke:#000;stroke-width:0.55px" textLength="37.91" lengthAdjust="spacingAndGlyphs">EV1</text>
<text transform="translate(900.83 848.67) rotate(-90)" style="font-size:24.6px" textLength="136.07" lengthAdjust="spacingAndGlyphs">ΔG (kcal/mol)</text>
<rect x="1524.5" y="605.5" width="24.7" height="339.5" fill="url(#cb)" stroke="#000" stroke-width="2.6"/>
<path d="M1549 944.6h6M1549 903.6h6M1549 862.6h6M1549 821.7h6M1549 780.7h6M1549 739.7h6M1549 698.8h6M1549 657.8h6M1549 616.8h6" stroke="#000" stroke-width="2"/>
<text x="1557.62" y="953.18" style="font-size:21.97px" textLength="12.17" lengthAdjust="spacingAndGlyphs">0</text>
<text x="1558.08" y="912.42" style="font-size:22.61px" textLength="11.56" lengthAdjust="spacingAndGlyphs">4</text>
<text x="1557.49" y="871.23" style="font-size:21.97px" textLength="12.43" lengthAdjust="spacingAndGlyphs">8</text>
<text x="1556.71" y="830.47" style="font-size:22.29px" textLength="26.54" lengthAdjust="spacingAndGlyphs">12</text>
<text x="1556.73" y="789.28" style="font-size:21.97px" textLength="26.27" lengthAdjust="spacingAndGlyphs">16</text>
<text x="1557.35" y="748.31" style="font-size:21.97px" textLength="25.5" lengthAdjust="spacingAndGlyphs">20</text>
<text x="1557.36" y="707.55" style="font-size:22.29px" textLength="25.38" lengthAdjust="spacingAndGlyphs">24</text>
<text x="1557.35" y="666.36" style="font-size:21.97px" textLength="25.63" lengthAdjust="spacingAndGlyphs">28</text>
<text x="1557.58" y="625.38" style="font-size:21.97px" textLength="25.63" lengthAdjust="spacingAndGlyphs">32</text>
<text x="1535.84" y="584.37" style="font-size:22.68px" textLength="31.71" lengthAdjust="spacingAndGlyphs">ΔG</text>
<text x="1517.49" y="978.04" style="font-size:25.58px" textLength="85.39" lengthAdjust="spacingAndGlyphs">kcal/mol</text>
<path d="M1449.7 501L1411.5 958L1342 964.5" stroke="#3C3C3C" stroke-width="2.2" fill="none"/>
<path d="M1328.5 965.5L1345 959L1345.8 972Z" fill="#3C3C3C"/>
<text x="914.31" y="545.17" style="font-size:42.91px" textLength="21.15" lengthAdjust="spacingAndGlyphs">c</text>
<defs><linearGradient id="g1" gradientUnits="userSpaceOnUse" x1="108" y1="0" x2="610" y2="0"><stop offset="0.0000" stop-color="#22C98A"/><stop offset="0.0339" stop-color="#22C98A"/><stop offset="0.3825" stop-color="#2E9CB4"/><stop offset="1.0000" stop-color="#3F86CC"/></linearGradient><linearGradient id="g2" gradientUnits="userSpaceOnUse" x1="108" y1="0" x2="610" y2="0"><stop offset="0.0000" stop-color="#22C98A"/><stop offset="0.2629" stop-color="#2CC090"/><stop offset="0.3825" stop-color="#5AA2A8"/><stop offset="1.0000" stop-color="#5E9CAB"/></linearGradient><linearGradient id="g3" gradientUnits="userSpaceOnUse" x1="108" y1="0" x2="610" y2="0"><stop offset="0.0000" stop-color="#22C98A"/><stop offset="0.3825" stop-color="#22C98A"/><stop offset="0.6813" stop-color="#66D6AE"/><stop offset="1.0000" stop-color="#5CD3A8"/></linearGradient><linearGradient id="g4" gradientUnits="userSpaceOnUse" x1="108" y1="0" x2="610" y2="0"><stop offset="0.0000" stop-color="#FFFFFF"/><stop offset="0.3825" stop-color="#E8F8F2"/><stop offset="0.6813" stop-color="#BDEDDC"/><stop offset="1.0000" stop-color="#B8EBDA"/></linearGradient><linearGradient id="g5" gradientUnits="userSpaceOnUse" x1="108" y1="0" x2="610" y2="0"><stop offset="0.0000" stop-color="#F0FAF6"/><stop offset="0.2829" stop-color="#D8F4EA"/><stop offset="0.6813" stop-color="#7EDCB9"/><stop offset="1.0000" stop-color="#78DAB6"/></linearGradient><linearGradient id="g6" gradientUnits="userSpaceOnUse" x1="108" y1="0" x2="610" y2="0"><stop offset="0.0000" stop-color="#1FC386"/><stop offset="0.1135" stop-color="#22C98A"/><stop offset="0.1534" stop-color="#62D6AC"/><stop offset="0.4223" stop-color="#66D7AE"/><stop offset="0.4721" stop-color="#2ACB8E"/><stop offset="1.0000" stop-color="#22C98A"/></linearGradient><linearGradient id="g7" gradientUnits="userSpaceOnUse" x1="108" y1="0" x2="610" y2="0"><stop offset="0.0000" stop-color="#4FD1A0"/><stop offset="0.1833" stop-color="#6CD8B2"/><stop offset="1.0000" stop-color="#6CD8B2"/></linearGradient><linearGradient id="g8" gradientUnits="userSpaceOnUse" x1="716.4" y1="0" x2="1218.3" y2="0"><stop offset="-0.0008" stop-color="#A8E6D0"/><stop offset="0.1666" stop-color="#8EE0C4"/><stop offset="0.1905" stop-color="#22C98A"/><stop offset="0.9994" stop-color="#22C98A"/></linearGradient><linearGradient id="g9" gradientUnits="userSpaceOnUse" x1="716.4" y1="0" x2="1218.3" y2="0"><stop offset="-0.0008" stop-color="#7FDCBC"/><stop offset="0.1466" stop-color="#22C98A"/><stop offset="0.9994" stop-color="#3CCC96"/></linearGradient><linearGradient id="g10" gradientUnits="userSpaceOnUse" x1="716.4" y1="0" x2="1218.3" y2="0"><stop offset="-0.0008" stop-color="#FFFFFF"/><stop offset="0.1068" stop-color="#FFFFFF"/><stop offset="0.1168" stop-color="#A8EAD2"/><stop offset="0.3658" stop-color="#B4EBD8"/><stop offset="0.9994" stop-color="#C8F0E2"/></linearGradient><linearGradient id="g11" gradientUnits="userSpaceOnUse" x1="716.4" y1="0" x2="1218.3" y2="0"><stop offset="-0.0008" stop-color="#CE62F2"/><stop offset="0.0869" stop-color="#B070E8"/><stop offset="0.9994" stop-color="#A47CE2"/></linearGradient><linearGradient id="g12" gradientUnits="userSpaceOnUse" x1="716.4" y1="0" x2="1218.3" y2="0"><stop offset="-0.0008" stop-color="#90DDC0"/><stop offset="0.9994" stop-color="#E8F6F0"/></linearGradient><linearGradient id="g13" gradientUnits="userSpaceOnUse" x1="716.4" y1="0" x2="1218.3" y2="0"><stop offset="-0.0008" stop-color="#2AAE9E"/><stop offset="0.1666" stop-color="#3C98B6"/><stop offset="0.5651" stop-color="#6A8AD2"/><stop offset="0.9994" stop-color="#7A88D8"/></linearGradient><linearGradient id="g14" gradientUnits="userSpaceOnUse" x1="716.4" y1="0" x2="1218.3" y2="0"><stop offset="-0.0008" stop-color="#E6F6F0"/><stop offset="0.5651" stop-color="#F2D6F8"/><stop offset="0.9994" stop-color="#F0CCF6"/></linearGradient><linearGradient id="g15" gradientUnits="userSpaceOnUse" x1="716.4" y1="0" x2="1218.3" y2="0"><stop offset="-0.0008" stop-color="#2FA6A6"/><stop offset="0.1666" stop-color="#4088C4"/><stop offset="0.3658" stop-color="#7470E2"/><stop offset="0.9994" stop-color="#9A66E8"/></linearGradient><linearGradient id="g16" gradientUnits="userSpaceOnUse" x1="716.4" y1="0" x2="1218.3" y2="0"><stop offset="-0.0008" stop-color="#E0F6EE"/><stop offset="0.1666" stop-color="#9CE4CA"/><stop offset="0.3658" stop-color="#5CD3A6"/><stop offset="0.9994" stop-color="#62D4AA"/></linearGradient></defs>
<rect x="108" y="57.5" width="502" height="3.5" fill="#62D6AB"/>
<path fill="#FFFFFF" fill-opacity="0.7" d="M175.5 57.8h1v2.3h-1zM356.7 58.6h0.7v2.1h-0.7zM155.1 57.9h0.3v2.5h-0.3zM490.7 58.8h0.3v1.7h-0.3zM222.8 57.5h1.1v2.6h-1.1zM120.8 57.8h0.7v2.7h-0.7zM216.7 58.1h0.6v0.9h-0.6zM327.8 58h0.7v1.3h-0.7zM217.8 57.5h0.7v1.4h-0.7zM528.5 57.8h0.7v2.1h-0.7zM606.3 58.3h1v1.1h-1zM470.2 57.8h0.9v2.7h-0.9zM524.7 58.7h0.8v1.4h-0.8zM551 58.5h1v1.8h-1zM125.3 58h0.5v2.4h-0.5zM194.8 58.4h0.7v2.2h-0.7zM296.1 58.8h0.7v1.8h-0.7zM369.5 57.6h0.6v1.8h-0.6zM129.8 57.9h0.9v2.8h-0.9zM305.6 59.1h0.4v1.8h-0.4zM494.8 57.7h0.7v2.5h-0.7zM365.9 58.2h1.1v2h-1.1zM243.2 57.5h0.7v2.7h-0.7zM501.4 58.2h1v2.6h-1zM514.2 58.2h0.7v1.9h-0.7zM136.2 57.8h1v2h-1zM361.4 58.2h0.7v1.5h-0.7zM378.3 58.2h0.8v2h-0.8zM122 58.9h0.5v1.2h-0.5zM540.2 58.4h0.9v2.4h-0.9zM236.2 57.6h1v2.2h-1zM116.4 57.8h0.3v2.3h-0.3zM163 57.6h0.8v1.5h-0.8zM188.1 58.1h0.7v1.2h-0.7zM465.2 58.5h0.7v1.5h-0.7zM119.9 57.8h0.6v1.7h-0.6zM162.6 57.8h1v1.8h-1zM412 57.5h1v0.9h-1zM181.5 59.2h0.9v1.2h-0.9zM448.4 59.7h0.7v1.3h-0.7zM508.5 58.9h0.7v1.3h-0.7zM306.2 58.8h0.8v1.5h-0.8zM137.5 58.2h0.5v2.7h-0.5zM261.8 59.4h1v1.4h-1zM481.4 57.5h0.6v1.3h-0.6zM549.1 58.5h0.3v2.4h-0.3zM394.3 58.4h0.4v2.5h-0.4zM461.4 58.2h0.7v1.6h-0.7zM211.3 57.9h0.8v1.7h-0.8zM160.4 58.5h0.8v1.4h-0.8zM271.3 57.5h1v2.6h-1zM208.8 58.1h0.6v2.8h-0.6zM278.2 58.6h0.5v2.2h-0.5zM576 58.1h0.6v2.6h-0.6zM351.2 59.1h1.1v1.3h-1.1zM150.5 57.7h0.4v2.6h-0.4zM489.1 57.9h0.8v2.5h-0.8zM278.8 58.1h0.5v2.5h-0.5zM587.1 58.8h1v1.1h-1zM160.3 59.7h0.3v1h-0.3zM503.6 58.7h1v1.5h-1zM500.5 57.8h0.6v2h-0.6zM149 58h0.5v2.6h-0.5zM572.4 59.2h0.7v1.4h-0.7zM523.5 57.6h0.3v2.2h-0.3zM165.8 58.1h1v0.9h-1zM604.1 57.9h0.6v1.1h-0.6zM229.2 59.7h0.9v1h-0.9zM297.9 57.8h1.1v2.6h-1.1zM235.2 59.1h0.7v1h-0.7zM127.9 57.7h0.3v2.8h-0.3zM407.5 57.6h0.7v1.5h-0.7zM566.5 57.6h1.1v2.7h-1.1zM216 57.9h0.8v2.8h-0.8zM453.5 58.7h0.8v1.3h-0.8zM262.3 58.2h0.5v1h-0.5zM601.7 58.4h0.7v2.1h-0.7zM580.2 58.2h0.6v1.4h-0.6zM267 57.8h1v2.6h-1zM275.8 58.4h0.7v2h-0.7zM231 57.7h0.3v1.3h-0.3zM384.7 59.1h0.4v1h-0.4zM254 59h0.9v1.8h-0.9zM185.4 57.6h0.7v2.4h-0.7zM584.5 58.6h0.4v2.4h-0.4zM520.4 58.8h0.6v1h-0.6zM569.5 57.6h0.5v2.6h-0.5zM565.1 59.3h0.3v1.5h-0.3zM511.5 58.3h1v2.5h-1zM454.2 57.8h0.4v1.7h-0.4zM466.8 57.6h0.8v1.3h-0.8zM591.6 58.4h0.9v1.9h-0.9zM535.3 58.1h0.7v1.6h-0.7zM237.5 58.1h0.3v2.1h-0.3zM394.4 57.8h0.3v1.5h-0.3zM170.8 57.9h0.5v2.5h-0.5zM309.3 57.5h0.8v1.3h-0.8zM373.4 58.1h0.7v2.1h-0.7zM452.6 58.6h0.9v1.3h-0.9zM348.4 58.5h0.5v1.6h-0.5zM563.3 58.9h1v1.4h-1zM132.2 59h0.4v1.8h-0.4zM188.1 57.8h0.9v2.6h-0.9zM455.7 58.9h1v1.6h-1zM477.7 58.4h0.8v2.5h-0.8zM590 58.1h0.8v1.2h-0.8zM217.2 57.6h0.8v2.3h-0.8zM450.2 58.5h0.9v1.5h-0.9zM190.7 60h0.9v0.9h-0.9zM513.6 59.4h0.8v1.4h-0.8zM589.6 58.5h0.4v2.4h-0.4zM439.2 59.2h0.9v1.7h-0.9zM595.5 58h0.6v2.4h-0.6zM190.7 59.7h0.6v1.1h-0.6zM589.6 58.1h0.4v2h-0.4zM167.3 59.1h0.5v1.3h-0.5zM110 57.5h0.5v1.7h-0.5zM423 57.7h0.8v2.5h-0.8zM251 58.7h0.7v1.4h-0.7zM233.9 58.4h0.8v2.4h-0.8z"/>
<path fill="#A8EAD2" d="M596.8 57.5h0.7v3.5h-0.7zM354.4 57.5h1v3.5h-1zM494.1 57.5h0.8v3.5h-0.8zM300.4 57.5h0.5v3.5h-0.5zM162.3 57.5h0.9v3.5h-0.9zM167.3 57.5h0.9v3.5h-0.9zM381.7 57.5h1.1v3.5h-1.1zM490.1 57.5h1.1v3.5h-1.1zM176.6 57.5h0.7v3.5h-0.7zM395.4 57.5h0.5v3.5h-0.5zM360.5 57.5h0.6v3.5h-0.6zM373.3 57.5h0.3v3.5h-0.3zM330 57.5h0.7v3.5h-0.7zM261 57.5h0.6v3.5h-0.6zM501.1 57.5h0.8v3.5h-0.8zM355.1 57.5h0.8v3.5h-0.8zM297.5 57.5h0.5v3.5h-0.5zM109.9 57.5h0.5v3.5h-0.5zM408.3 57.5h1v3.5h-1zM524.4 57.5h0.7v3.5h-0.7zM603.5 57.5h0.7v3.5h-0.7zM527 57.5h0.6v3.5h-0.6zM481.8 57.5h1.1v3.5h-1.1zM261.3 57.5h0.4v3.5h-0.4zM419.3 57.5h0.7v3.5h-0.7zM288.4 57.5h0.3v3.5h-0.3zM303.4 57.5h0.6v3.5h-0.6zM311.4 57.5h1v3.5h-1zM401.4 57.5h0.9v3.5h-0.9zM558.8 57.5h0.9v3.5h-0.9zM355.3 57.5h0.9v3.5h-0.9zM429.5 57.5h0.8v3.5h-0.8zM424.1 57.5h0.6v3.5h-0.6zM423.9 57.5h0.8v3.5h-0.8zM578.4 57.5h0.9v3.5h-0.9zM532.8 57.5h0.9v3.5h-0.9zM517.3 57.5h0.8v3.5h-0.8zM283.4 57.5h0.5v3.5h-0.5zM463.4 57.5h1v3.5h-1zM381.2 57.5h0.4v3.5h-0.4zM526.2 57.5h0.7v3.5h-0.7zM342.5 57.5h0.3v3.5h-0.3zM364.2 57.5h0.9v3.5h-0.9zM320.1 57.5h0.6v3.5h-0.6zM437.7 57.5h0.3v3.5h-0.3zM362.6 57.5h1.1v3.5h-1.1zM454.6 57.5h0.6v3.5h-0.6zM453.8 57.5h0.8v3.5h-0.8zM212.9 57.5h0.5v3.5h-0.5zM552.8 57.5h0.5v3.5h-0.5zM145.6 57.5h1v3.5h-1zM370.6 57.5h0.6v3.5h-0.6zM364.8 57.5h0.9v3.5h-0.9zM192.6 57.5h0.8v3.5h-0.8zM466.1 57.5h1v3.5h-1zM243.4 57.5h0.8v3.5h-0.8zM224.5 57.5h0.7v3.5h-0.7zM194.5 57.5h0.9v3.5h-0.9zM543.1 57.5h0.6v3.5h-0.6zM219.6 57.5h1.1v3.5h-1.1z"/>
<path fill="#22C98A" d="M462.8 57.5h1v3.5h-1zM123.3 57.5h1v3.5h-1zM420.5 57.5h0.6v3.5h-0.6zM324.7 57.5h0.9v3.5h-0.9zM502.3 57.5h0.5v3.5h-0.5zM422.2 57.5h0.4v3.5h-0.4zM596.5 57.5h0.7v3.5h-0.7zM566.4 57.5h0.9v3.5h-0.9zM412.3 57.5h0.5v3.5h-0.5zM372.3 57.5h0.4v3.5h-0.4zM177.3 57.5h0.9v3.5h-0.9zM289.3 57.5h0.9v3.5h-0.9zM228.7 57.5h0.9v3.5h-0.9zM468.7 57.5h0.5v3.5h-0.5zM161.4 57.5h0.6v3.5h-0.6zM355.2 57.5h0.4v3.5h-0.4zM201.8 57.5h0.3v3.5h-0.3zM408 57.5h1v3.5h-1zM216.7 57.5h0.3v3.5h-0.3zM461.4 57.5h1v3.5h-1zM592 57.5h0.8v3.5h-0.8zM279.9 57.5h1v3.5h-1zM167.3 57.5h0.9v3.5h-0.9zM155.8 57.5h0.6v3.5h-0.6zM356.5 57.5h0.6v3.5h-0.6zM192.6 57.5h0.5v3.5h-0.5zM519.7 57.5h0.7v3.5h-0.7zM399.1 57.5h0.5v3.5h-0.5zM466.9 57.5h0.6v3.5h-0.6zM406 57.5h1v3.5h-1zM607.2 57.5h0.3v3.5h-0.3zM508.3 57.5h1v3.5h-1zM268.4 57.5h0.6v3.5h-0.6zM399.3 57.5h1v3.5h-1zM308.8 57.5h1v3.5h-1zM488.8 57.5h0.4v3.5h-0.4zM566.7 57.5h0.3v3.5h-0.3zM180.9 57.5h0.8v3.5h-0.8zM136.7 57.5h0.6v3.5h-0.6zM173.2 57.5h0.7v3.5h-0.7zM529.7 57.5h1v3.5h-1zM125.8 57.5h0.3v3.5h-0.3zM530 57.5h0.3v3.5h-0.3zM245.3 57.5h0.4v3.5h-0.4zM153.7 57.5h0.3v3.5h-0.3zM428 57.5h0.9v3.5h-0.9zM452.8 57.5h1v3.5h-1zM440.8 57.5h0.6v3.5h-0.6zM424.8 57.5h1.1v3.5h-1.1zM430.1 57.5h0.5v3.5h-0.5zM138.2 57.5h1v3.5h-1zM404.4 57.5h0.6v3.5h-0.6zM411.9 57.5h0.7v3.5h-0.7zM370.1 57.5h0.3v3.5h-0.3zM285.3 57.5h0.6v3.5h-0.6zM208.1 57.5h1v3.5h-1zM320.9 57.5h0.8v3.5h-0.8zM466.2 57.5h0.9v3.5h-0.9zM470 57.5h0.9v3.5h-0.9zM234.3 57.5h1.1v3.5h-1.1z"/>
<rect x="108" y="61" width="502" height="8" fill="#22C98A"/>
<path fill="#A8EAD2" fill-opacity="0.8" d="M183.8 61h1v8h-1zM537 61h1v8h-1zM134.5 61h0.4v8h-0.4zM516.2 61h0.7v8h-0.7zM293.9 61h1.1v8h-1.1zM128.1 61h0.7v8h-0.7zM330.6 61h0.4v8h-0.4zM306.4 61h0.9v8h-0.9zM550.9 61h0.3v8h-0.3zM371.3 61h0.4v8h-0.4zM509.8 61h0.4v8h-0.4zM125.2 61h0.6v8h-0.6zM475.8 61h0.6v8h-0.6zM173.3 61h0.9v8h-0.9zM513.1 61h1v8h-1zM260.5 61h0.6v8h-0.6zM231.2 61h0.7v8h-0.7zM273.7 61h0.6v8h-0.6zM501.4 61h1.1v8h-1.1zM401.2 61h0.4v8h-0.4zM435.6 61h0.7v8h-0.7zM604 61h0.9v8h-0.9zM527.1 61h0.9v8h-0.9zM376.9 61h1v8h-1zM525.5 61h0.5v8h-0.5zM186.8 61h0.6v8h-0.6zM369.6 61h0.4v8h-0.4zM281.4 61h0.8v8h-0.8zM129.9 61h1v8h-1zM434.9 61h0.6v8h-0.6zM257.8 61h0.6v8h-0.6zM271.3 61h0.9v8h-0.9zM359.5 61h0.7v8h-0.7zM182.7 61h1v8h-1zM271.4 61h0.6v8h-0.6zM142.6 61h1.1v8h-1.1zM348.8 61h1v8h-1zM573.7 61h1.1v8h-1.1zM517.4 61h1v8h-1zM571 61h0.9v8h-0.9z"/>
<path fill="#FFFFFF" fill-opacity="0.7" d="M113.7 61h0.7v8h-0.7zM132.2 61h1.1v8h-1.1zM140.9 61h0.9v8h-0.9zM139.4 61h0.6v8h-0.6zM147.6 61h0.8v8h-0.8zM124.9 61h0.7v8h-0.7zM149.1 61h0.7v8h-0.7zM115 61h0.4v8h-0.4zM136.9 61h0.8v8h-0.8zM146.1 61h0.4v8h-0.4zM125.3 61h0.9v8h-0.9zM110.1 61h0.4v8h-0.4zM130.9 61h0.5v8h-0.5zM112.5 61h0.5v8h-0.5zM134.5 61h0.7v8h-0.7zM111.3 61h0.4v8h-0.4zM143.7 61h0.8v8h-0.8zM115.3 61h1v8h-1zM108.9 61h0.6v8h-0.6zM143.6 61h0.9v8h-0.9zM119.9 61h1v8h-1zM133.1 61h1v8h-1zM145.5 61h0.6v8h-0.6zM136.4 61h0.7v8h-0.7zM147.7 61h0.9v8h-0.9zM138.5 61h1v8h-1zM149.9 61h0.5v8h-0.5zM116.5 61h0.9v8h-0.9zM140.4 61h0.7v8h-0.7zM128.5 61h0.6v8h-0.6zM145.1 61h0.9v8h-0.9zM132.6 61h0.3v8h-0.3zM143.7 61h0.7v8h-0.7zM116 61h0.5v8h-0.5zM137 61h0.3v8h-0.3zM113 61h0.5v8h-0.5zM145.3 61h0.9v8h-0.9zM148.8 61h0.7v8h-0.7zM132 61h0.7v8h-0.7zM130.1 61h0.7v8h-0.7zM142.4 61h1.1v8h-1.1zM125.1 61h0.8v8h-0.8zM120.9 61h0.5v8h-0.5zM129.3 61h0.8v8h-0.8zM131.1 61h1.1v8h-1.1zM114.8 61h0.8v8h-0.8zM149.8 61h0.9v8h-0.9zM131.8 61h0.6v8h-0.6zM124.9 61h1v8h-1zM145.6 61h0.8v8h-0.8z"/>
<path fill="#FFFFFF" fill-opacity="0.6" d="M559.2 63h1v2.9h-1zM341.1 65.7h0.9v1.8h-0.9zM349.7 61.7h0.6v2h-0.6zM286 62.2h0.6v1h-0.6zM238.6 62.6h1v2.3h-1zM608.9 65.4h0.5v2.1h-0.5zM455 63.6h0.6v2.7h-0.6zM467.2 64.5h0.7v3.1h-0.7zM153.9 62.1h0.4v3.1h-0.4zM121.1 66.7h0.5v2h-0.5zM308.4 61.5h0.9v2.8h-0.9zM415.2 64.1h1.1v2.2h-1.1zM282 61.5h1.1v3.1h-1.1zM385.5 61.7h0.6v2.5h-0.6zM241.2 65.7h0.5v2h-0.5zM538.6 61.5h0.9v2.5h-0.9zM303.6 64.2h0.8v1.6h-0.8zM562.3 61.5h0.4v2.9h-0.4zM302 64.4h1v1.4h-1zM317.1 62.4h1v3.2h-1zM355.2 62.2h1v2.2h-1zM489.4 61.1h0.6v2h-0.6zM604.5 65.8h0.8v3h-0.8zM242.3 65.6h0.7v1.9h-0.7zM530.9 65.5h0.5v1.6h-0.5zM314.6 64.7h0.4v1.4h-0.4zM408.4 64.6h1.1v2.2h-1.1zM182.7 65.5h0.6v1.6h-0.6zM242.1 63.9h0.5v1.8h-0.5zM277.9 66.8h0.8v1.4h-0.8z"/>
<rect x="108" y="69" width="502" height="8" fill="url(#g1)"/>
<path fill="#3B4AF0" fill-opacity="0.7" d="M460.8 69h0.7v8h-0.7zM150.4 69h0.6v8h-0.6zM458.8 69h0.8v8h-0.8zM518.2 69h1v8h-1zM275.9 69h0.7v8h-0.7zM283.1 69h0.4v8h-0.4zM190.4 69h0.5v8h-0.5zM165 69h0.7v8h-0.7zM465 69h0.8v8h-0.8zM456.2 69h0.5v8h-0.5zM219.3 69h0.8v8h-0.8zM553.5 69h0.6v8h-0.6zM124.1 69h0.3v8h-0.3zM271 69h0.8v8h-0.8zM163.3 69h0.5v8h-0.5zM454.2 69h1.1v8h-1.1zM288.4 69h0.8v8h-0.8zM375 69h0.3v8h-0.3zM283 69h0.4v8h-0.4zM244.4 69h0.9v8h-0.9zM454.4 69h0.3v8h-0.3zM159.8 69h0.9v8h-0.9zM172.4 69h0.6v8h-0.6zM253.4 69h0.3v8h-0.3zM137.2 69h0.4v8h-0.4zM316.9 69h1v8h-1zM433.5 69h0.5v8h-0.5zM453.7 69h0.5v8h-0.5zM373.4 69h0.6v8h-0.6zM585 69h0.6v8h-0.6zM514.1 69h0.8v8h-0.8zM533.5 69h0.8v8h-0.8zM546.7 69h0.6v8h-0.6zM453.4 69h0.8v8h-0.8zM379.5 69h0.8v8h-0.8zM383.5 69h0.6v8h-0.6zM560.4 69h0.8v8h-0.8zM390 69h0.3v8h-0.3zM370.2 69h0.4v8h-0.4zM226.9 69h0.6v8h-0.6zM388.4 69h0.5v8h-0.5zM254.2 69h0.7v8h-0.7zM352.9 69h0.6v8h-0.6zM172.6 69h0.6v8h-0.6zM441.4 69h0.7v8h-0.7zM387.8 69h1v8h-1zM474.9 69h0.8v8h-0.8zM136.8 69h0.5v8h-0.5zM455 69h0.4v8h-0.4zM567.8 69h0.4v8h-0.4zM551 69h0.5v8h-0.5zM532.7 69h1v8h-1zM285.7 69h1v8h-1zM200 69h1v8h-1zM308.3 69h0.7v8h-0.7zM179.5 69h0.8v8h-0.8zM253.6 69h0.8v8h-0.8zM512.1 69h0.8v8h-0.8zM126 69h1.1v8h-1.1zM570.8 69h0.8v8h-0.8zM307.2 69h0.7v8h-0.7zM552.8 69h0.7v8h-0.7zM502.3 69h0.8v8h-0.8zM328.1 69h1v8h-1zM321.3 69h0.8v8h-0.8zM148 69h0.7v8h-0.7zM140.3 69h0.9v8h-0.9zM122.3 69h0.3v8h-0.3zM176.2 69h0.4v8h-0.4zM369.9 69h0.6v8h-0.6zM254.2 69h1.1v8h-1.1zM565.6 69h0.8v8h-0.8zM513.4 69h1v8h-1zM241.6 69h0.9v8h-0.9zM239 69h0.7v8h-0.7zM296.6 69h0.4v8h-0.4zM501.1 69h1v8h-1zM275.1 69h1v8h-1zM291 69h0.8v8h-0.8zM607.9 69h0.9v8h-0.9zM149.2 69h0.6v8h-0.6zM305.6 69h0.5v8h-0.5zM520.3 69h0.7v8h-0.7zM463.2 69h0.8v8h-0.8zM375.3 69h0.3v8h-0.3zM450.4 69h1v8h-1zM206 69h0.8v8h-0.8zM359.9 69h0.6v8h-0.6zM468.7 69h1.1v8h-1.1zM132.6 69h1v8h-1zM309 69h1v8h-1zM207.3 69h0.9v8h-0.9zM170.7 69h0.6v8h-0.6zM595.3 69h0.8v8h-0.8zM504.8 69h0.7v8h-0.7zM351.9 69h0.7v8h-0.7zM499.3 69h0.9v8h-0.9zM216.6 69h0.7v8h-0.7zM386.5 69h0.8v8h-0.8zM574.3 69h1v8h-1zM195.1 69h0.6v8h-0.6zM175.2 69h0.3v8h-0.3zM158.4 69h0.4v8h-0.4zM495.8 69h0.8v8h-0.8zM511.4 69h0.5v8h-0.5zM197.9 69h1.1v8h-1.1zM525.1 69h1.1v8h-1.1zM131.2 69h0.6v8h-0.6zM431.3 69h0.9v8h-0.9zM567.4 69h0.7v8h-0.7zM312.7 69h0.3v8h-0.3zM514.3 69h1.1v8h-1.1zM564.7 69h0.8v8h-0.8zM289.1 69h0.5v8h-0.5zM500.2 69h1v8h-1zM590.6 69h0.4v8h-0.4zM407.7 69h0.7v8h-0.7zM330.6 69h0.9v8h-0.9zM578.7 69h0.9v8h-0.9zM463.7 69h0.9v8h-0.9zM440.9 69h0.7v8h-0.7zM243 69h0.9v8h-0.9zM180.1 69h0.8v8h-0.8zM310.8 69h0.7v8h-0.7zM435 69h0.7v8h-0.7zM599.3 69h0.5v8h-0.5zM127.9 69h1.1v8h-1.1zM274.3 69h0.5v8h-0.5zM324.8 69h0.8v8h-0.8zM603.2 69h0.9v8h-0.9zM277.3 69h0.7v8h-0.7zM341 69h0.7v8h-0.7zM325.8 69h0.4v8h-0.4zM315 69h0.6v8h-0.6zM220 69h1v8h-1zM297.7 69h0.4v8h-0.4zM398.6 69h1v8h-1zM502.9 69h0.8v8h-0.8zM478.7 69h0.6v8h-0.6zM191.6 69h0.5v8h-0.5zM292.5 69h0.5v8h-0.5zM350.3 69h0.4v8h-0.4zM185.6 69h0.5v8h-0.5zM217.9 69h0.9v8h-0.9zM384.3 69h0.5v8h-0.5zM331.5 69h1v8h-1zM403.9 69h0.7v8h-0.7zM313 69h0.5v8h-0.5zM427.2 69h0.4v8h-0.4zM505.7 69h0.3v8h-0.3zM486.2 69h0.6v8h-0.6zM455 69h0.8v8h-0.8zM185 69h0.7v8h-0.7zM158.2 69h0.5v8h-0.5zM308.3 69h0.5v8h-0.5zM444.9 69h1.1v8h-1.1zM296.1 69h1v8h-1zM231.8 69h0.9v8h-0.9zM291.7 69h0.7v8h-0.7zM165.2 69h1v8h-1zM223.9 69h0.7v8h-0.7zM263.7 69h0.9v8h-0.9zM411.2 69h0.8v8h-0.8zM490.3 69h0.5v8h-0.5zM150.4 69h1v8h-1zM276 69h0.9v8h-0.9zM588.8 69h0.8v8h-0.8zM172.4 69h1v8h-1zM431.1 69h0.5v8h-0.5zM223.4 69h0.7v8h-0.7z"/>
<path fill="#9C80E4" fill-opacity="0.8" d="M337.7 69h1v8h-1zM519.4 69h1v8h-1zM419 69h1v8h-1zM341.5 69h0.9v8h-0.9zM378.9 69h0.3v8h-0.3zM337.5 69h0.5v8h-0.5zM536.6 69h0.6v8h-0.6zM449.4 69h0.8v8h-0.8zM383 69h0.8v8h-0.8zM508.2 69h1v8h-1zM455.9 69h1v8h-1zM600 69h0.9v8h-0.9zM430.6 69h0.5v8h-0.5zM330.3 69h1v8h-1zM340.2 69h0.7v8h-0.7zM440.7 69h0.3v8h-0.3zM366.4 69h1v8h-1zM467 69h1v8h-1zM581.5 69h0.4v8h-0.4zM510.2 69h0.3v8h-0.3zM431 69h0.7v8h-0.7zM596.6 69h0.8v8h-0.8zM358.9 69h0.7v8h-0.7zM461.8 69h0.5v8h-0.5zM411.5 69h1v8h-1zM604.3 69h0.9v8h-0.9zM320 69h1v8h-1zM442.1 69h1v8h-1zM354.8 69h0.4v8h-0.4zM581.1 69h0.5v8h-0.5zM313.3 69h0.7v8h-0.7zM607.1 69h1v8h-1zM422.9 69h1.1v8h-1.1zM547 69h1v8h-1zM500.3 69h0.6v8h-0.6zM580.8 69h0.7v8h-0.7zM589.7 69h0.7v8h-0.7zM582.1 69h0.7v8h-0.7zM432.3 69h0.8v8h-0.8zM398.4 69h0.4v8h-0.4zM482.7 69h1v8h-1zM386.1 69h1v8h-1zM544 69h0.9v8h-0.9zM428.7 69h1.1v8h-1.1zM545.2 69h0.8v8h-0.8zM335.2 69h0.8v8h-0.8zM304.5 69h1v8h-1zM404.4 69h0.6v8h-0.6zM470.8 69h0.8v8h-0.8zM480.6 69h0.7v8h-0.7z"/>
<path fill="#22C98A" fill-opacity="0.7" d="M426.4 69h1v8h-1zM332 69h0.7v8h-0.7zM514.8 69h0.3v8h-0.3zM188.7 69h0.6v8h-0.6zM215.4 69h1v8h-1zM182.4 69h0.4v8h-0.4zM267.2 69h0.7v8h-0.7zM520.4 69h1.1v8h-1.1zM535.6 69h0.8v8h-0.8zM126.9 69h0.4v8h-0.4zM424.6 69h1v8h-1zM241.3 69h1.1v8h-1.1zM384.3 69h0.8v8h-0.8zM418.5 69h0.4v8h-0.4zM193.5 69h1v8h-1zM242.2 69h0.4v8h-0.4zM249.8 69h0.9v8h-0.9zM239.9 69h0.5v8h-0.5zM247.1 69h0.7v8h-0.7zM478.2 69h0.5v8h-0.5zM546.5 69h1.1v8h-1.1zM520.7 69h0.4v8h-0.4zM266.4 69h1v8h-1zM539.4 69h0.4v8h-0.4zM330 69h0.6v8h-0.6zM483.2 69h0.3v8h-0.3zM266.4 69h0.9v8h-0.9zM553.2 69h0.3v8h-0.3zM403.4 69h0.8v8h-0.8zM546.2 69h0.6v8h-0.6zM596.5 69h0.5v8h-0.5zM165.6 69h0.4v8h-0.4zM402.5 69h0.4v8h-0.4zM241.8 69h0.5v8h-0.5zM135.8 69h1.1v8h-1.1zM276.1 69h1.1v8h-1.1zM471.1 69h0.5v8h-0.5zM576.1 69h0.3v8h-0.3zM600.8 69h0.3v8h-0.3zM235.2 69h0.7v8h-0.7zM112.6 69h0.9v8h-0.9zM150.5 69h1v8h-1zM125.6 69h0.7v8h-0.7zM213.1 69h0.5v8h-0.5zM354.2 69h0.6v8h-0.6zM304.8 69h0.8v8h-0.8zM206 69h0.4v8h-0.4zM451.6 69h0.5v8h-0.5zM576.3 69h0.6v8h-0.6zM346 69h0.3v8h-0.3zM118.4 69h0.4v8h-0.4zM422.1 69h0.8v8h-0.8zM586 69h0.6v8h-0.6zM463.3 69h0.6v8h-0.6zM145.2 69h0.6v8h-0.6zM460.2 69h0.9v8h-0.9zM585.9 69h1v8h-1zM390.9 69h0.7v8h-0.7zM359.5 69h0.7v8h-0.7zM449.6 69h0.8v8h-0.8zM538.3 69h0.7v8h-0.7zM344.5 69h1v8h-1zM447.2 69h0.7v8h-0.7zM390.9 69h0.9v8h-0.9zM412.9 69h0.5v8h-0.5zM263.7 69h0.8v8h-0.8zM131 69h0.7v8h-0.7zM555.7 69h0.5v8h-0.5zM331 69h0.9v8h-0.9zM572.6 69h0.9v8h-0.9zM422.2 69h0.6v8h-0.6zM327.6 69h0.8v8h-0.8zM286.9 69h0.9v8h-0.9zM112.1 69h0.9v8h-0.9zM480.5 69h0.5v8h-0.5zM115.5 69h0.6v8h-0.6zM403.8 69h0.9v8h-0.9zM544.9 69h0.5v8h-0.5zM149 69h0.4v8h-0.4zM604.5 69h0.8v8h-0.8z"/>
<path fill="#FFFFFF" d="M110.2 69h0.9v8h-0.9zM124.3 69h0.8v8h-0.8zM112 69h1.1v8h-1.1zM119.9 69h0.4v8h-0.4zM121 69h0.7v8h-0.7zM117.8 69h0.6v8h-0.6zM113 69h0.6v8h-0.6zM116.9 69h0.7v8h-0.7zM122.7 69h0.4v8h-0.4zM111.4 69h1.1v8h-1.1zM118.3 69h0.8v8h-0.8zM118.7 69h0.5v8h-0.5zM114.7 69h0.5v8h-0.5zM110.6 69h1.1v8h-1.1zM120.6 69h1v8h-1zM108 69h0.9v8h-0.9zM113.2 69h0.7v8h-0.7zM119.5 69h0.3v8h-0.3zM114.3 69h0.7v8h-0.7zM122.9 69h0.7v8h-0.7z"/>
<rect x="108" y="77" width="502" height="5" fill="#92E1C4"/>
<path fill="#FFFFFF" fill-opacity="0.8" d="M267.4 77h0.8v5h-0.8zM401 77h0.5v5h-0.5zM383.1 77h0.5v5h-0.5zM113.7 77h0.5v5h-0.5zM151.4 77h0.7v5h-0.7zM359.6 77h1v5h-1zM483.4 77h0.9v5h-0.9zM604.8 77h0.5v5h-0.5zM295.1 77h0.5v5h-0.5zM159.4 77h0.7v5h-0.7zM364.7 77h0.4v5h-0.4zM571.1 77h1.1v5h-1.1zM142.3 77h0.3v5h-0.3zM139 77h0.9v5h-0.9zM536 77h0.4v5h-0.4zM112.5 77h0.7v5h-0.7zM275 77h0.3v5h-0.3zM112.4 77h0.5v5h-0.5zM208.5 77h0.5v5h-0.5zM384.4 77h0.5v5h-0.5zM225.2 77h0.5v5h-0.5zM553.3 77h0.5v5h-0.5zM386.8 77h0.7v5h-0.7zM274.4 77h0.6v5h-0.6zM116 77h0.4v5h-0.4zM429.3 77h0.9v5h-0.9zM217.6 77h0.4v5h-0.4zM562.7 77h0.4v5h-0.4zM507 77h1v5h-1zM181.4 77h1v5h-1zM183.3 77h0.3v5h-0.3zM251.7 77h0.6v5h-0.6zM403.9 77h0.7v5h-0.7zM506.3 77h0.8v5h-0.8zM167.8 77h0.5v5h-0.5zM482.6 77h0.4v5h-0.4zM586.2 77h0.9v5h-0.9zM218.4 77h0.5v5h-0.5zM234.6 77h0.6v5h-0.6zM232.8 77h0.3v5h-0.3zM234.4 77h0.5v5h-0.5zM283.7 77h0.7v5h-0.7zM546.9 77h0.8v5h-0.8zM417 77h1v5h-1zM302 77h0.6v5h-0.6zM230.7 77h1v5h-1zM548.4 77h1v5h-1zM411.7 77h0.4v5h-0.4zM144.3 77h0.9v5h-0.9zM552.5 77h0.7v5h-0.7zM570.2 77h1v5h-1zM486.9 77h0.6v5h-0.6zM337.1 77h0.6v5h-0.6zM306.8 77h0.7v5h-0.7zM116.6 77h0.4v5h-0.4zM192.3 77h0.8v5h-0.8zM545.5 77h0.9v5h-0.9zM183 77h0.7v5h-0.7zM422.9 77h0.4v5h-0.4zM148 77h0.8v5h-0.8zM226.2 77h0.8v5h-0.8zM194.1 77h1v5h-1zM263.5 77h0.6v5h-0.6zM384.1 77h1v5h-1zM568 77h1v5h-1zM451.6 77h0.4v5h-0.4zM201.8 77h0.7v5h-0.7zM602.5 77h0.9v5h-0.9zM204.2 77h0.6v5h-0.6zM591.2 77h0.7v5h-0.7zM544.9 77h1v5h-1zM500.4 77h0.8v5h-0.8zM442.3 77h0.6v5h-0.6zM168.4 77h1.1v5h-1.1zM124.4 77h0.5v5h-0.5zM416.2 77h1.1v5h-1.1zM213.5 77h0.5v5h-0.5zM533.6 77h0.6v5h-0.6zM310.3 77h0.6v5h-0.6zM132.8 77h1.1v5h-1.1zM458.3 77h0.3v5h-0.3zM156.8 77h0.4v5h-0.4zM293.2 77h1v5h-1zM178.7 77h0.5v5h-0.5zM264.3 77h0.7v5h-0.7zM560.3 77h0.7v5h-0.7zM561.6 77h0.7v5h-0.7zM324.9 77h1v5h-1zM399.6 77h0.7v5h-0.7zM365.3 77h0.6v5h-0.6zM325.4 77h0.4v5h-0.4zM211 77h0.9v5h-0.9zM175.1 77h0.5v5h-0.5zM190.1 77h0.6v5h-0.6zM132.7 77h0.6v5h-0.6zM414.1 77h0.8v5h-0.8zM543.4 77h0.4v5h-0.4zM431.2 77h0.5v5h-0.5zM279.9 77h0.8v5h-0.8zM528.7 77h0.8v5h-0.8zM602.6 77h0.3v5h-0.3zM266.7 77h0.7v5h-0.7zM126.2 77h0.3v5h-0.3zM292.1 77h0.7v5h-0.7zM176 77h0.4v5h-0.4zM268.1 77h0.9v5h-0.9zM392.7 77h1.1v5h-1.1zM411.8 77h1v5h-1zM395.6 77h0.7v5h-0.7zM316.6 77h0.4v5h-0.4zM139.6 77h0.8v5h-0.8zM539.3 77h0.3v5h-0.3zM198.5 77h0.6v5h-0.6zM265.2 77h1v5h-1zM234.7 77h0.5v5h-0.5zM352.8 77h1.1v5h-1.1zM255.8 77h0.8v5h-0.8zM132.4 77h0.6v5h-0.6zM573.5 77h0.5v5h-0.5zM286.9 77h0.8v5h-0.8z"/>
<path fill="#22C98A" fill-opacity="0.6" d="M391.9 77h0.8v5h-0.8zM413.5 77h0.8v5h-0.8zM270 77h0.6v5h-0.6zM307.3 77h0.7v5h-0.7zM392.6 77h1v5h-1zM306.7 77h0.7v5h-0.7zM526 77h1.1v5h-1.1zM229.9 77h0.9v5h-0.9zM232.3 77h0.9v5h-0.9zM127.3 77h0.7v5h-0.7zM394.1 77h0.9v5h-0.9zM568.3 77h0.9v5h-0.9zM390.7 77h0.7v5h-0.7zM114.6 77h0.7v5h-0.7zM390.2 77h0.9v5h-0.9zM191 77h0.8v5h-0.8zM133.9 77h0.9v5h-0.9zM520.4 77h0.7v5h-0.7zM453.2 77h0.8v5h-0.8zM260.4 77h0.4v5h-0.4zM488.5 77h0.6v5h-0.6zM189 77h0.7v5h-0.7zM526.1 77h1.1v5h-1.1zM392.8 77h1.1v5h-1.1zM195.1 77h0.7v5h-0.7zM112.2 77h0.5v5h-0.5zM548 77h0.3v5h-0.3zM436.5 77h0.7v5h-0.7zM603.8 77h1.1v5h-1.1zM169.9 77h0.5v5h-0.5zM605.7 77h0.6v5h-0.6zM198.6 77h1v5h-1zM417.8 77h0.5v5h-0.5zM386.3 77h0.6v5h-0.6zM337.9 77h0.7v5h-0.7zM193.2 77h0.8v5h-0.8zM587.5 77h0.8v5h-0.8zM503.3 77h0.5v5h-0.5zM185.6 77h0.3v5h-0.3zM600.6 77h0.4v5h-0.4z"/>
<path fill="#9C80E4" fill-opacity="0.5" d="M448.8 77h0.8v5h-0.8zM541 77h0.8v5h-0.8zM464.3 77h1v5h-1zM465 77h1v5h-1zM364 77h0.9v5h-0.9zM375.3 77h0.6v5h-0.6zM465.3 77h0.4v5h-0.4zM466.7 77h1v5h-1zM359.5 77h0.5v5h-0.5zM603.7 77h0.7v5h-0.7zM451.3 77h1v5h-1zM551.7 77h0.4v5h-0.4z"/>
<rect x="108" y="82" width="502" height="1.7" fill="#EEFAF5"/>
<path fill="#A8EAD2" fill-opacity="0.6" d="M408.1 82h0.4v1.7h-0.4zM497.4 82h0.7v1.7h-0.7zM508.9 82h0.4v1.7h-0.4zM573.9 82h0.5v1.7h-0.5zM534.6 82h0.7v1.7h-0.7zM554.2 82h0.4v1.7h-0.4zM135 82h0.7v1.7h-0.7zM575.1 82h0.7v1.7h-0.7zM362.8 82h0.4v1.7h-0.4zM379.6 82h0.6v1.7h-0.6zM553.7 82h0.9v1.7h-0.9zM347.8 82h0.4v1.7h-0.4zM181.3 82h1.1v1.7h-1.1zM414.7 82h0.5v1.7h-0.5zM515.1 82h0.5v1.7h-0.5zM335.9 82h1v1.7h-1zM159.9 82h0.4v1.7h-0.4zM134.4 82h0.4v1.7h-0.4zM296 82h0.6v1.7h-0.6zM248.6 82h0.3v1.7h-0.3zM352.5 82h0.7v1.7h-0.7zM479.9 82h0.5v1.7h-0.5zM399.8 82h0.6v1.7h-0.6zM486 82h0.4v1.7h-0.4zM353.7 82h0.7v1.7h-0.7zM338.3 82h0.7v1.7h-0.7zM377.1 82h0.6v1.7h-0.6zM521.7 82h1.1v1.7h-1.1zM388.6 82h0.8v1.7h-0.8zM471.3 82h0.6v1.7h-0.6zM405.3 82h0.7v1.7h-0.7zM351.2 82h0.6v1.7h-0.6zM377.2 82h0.5v1.7h-0.5zM229 82h0.5v1.7h-0.5zM406.4 82h0.5v1.7h-0.5zM499.9 82h1v1.7h-1zM489.4 82h0.6v1.7h-0.6zM581.2 82h0.6v1.7h-0.6zM289.5 82h0.8v1.7h-0.8zM439.7 82h0.6v1.7h-0.6z"/>
<rect x="108" y="83.6" width="502" height="55.9" fill="#D656F8"/>
<rect x="108" y="139.5" width="502" height="4" fill="#D656F8"/>
<path fill="#9C80E4" fill-opacity="0.6" d="M502.9 139.5h1v4h-1zM252.9 139.5h0.5v4h-0.5zM307.5 139.5h0.9v4h-0.9zM444.3 139.5h0.4v4h-0.4zM303.1 139.5h1v4h-1zM589.9 139.5h0.8v4h-0.8zM499.6 139.5h1v4h-1zM219.5 139.5h0.4v4h-0.4zM414.9 139.5h0.6v4h-0.6zM464.8 139.5h0.5v4h-0.5zM325.8 139.5h0.9v4h-0.9zM154.8 139.5h0.6v4h-0.6zM184.9 139.5h0.7v4h-0.7zM475.9 139.5h1.1v4h-1.1zM486.2 139.5h0.4v4h-0.4zM327.4 139.5h0.7v4h-0.7zM428.2 139.5h0.9v4h-0.9zM596.6 139.5h1.1v4h-1.1zM212.7 139.5h0.4v4h-0.4zM595 139.5h0.4v4h-0.4zM594 139.5h0.4v4h-0.4zM401.6 139.5h0.4v4h-0.4zM175.2 139.5h0.6v4h-0.6zM506.5 139.5h0.9v4h-0.9zM267.3 139.5h0.4v4h-0.4zM288 139.5h0.4v4h-0.4zM226 139.5h0.7v4h-0.7zM353.3 139.5h1v4h-1zM153.1 139.5h0.7v4h-0.7zM391.5 139.5h0.4v4h-0.4zM289 139.5h0.4v4h-0.4zM556.6 139.5h0.6v4h-0.6zM140.6 139.5h0.7v4h-0.7zM373.6 139.5h1v4h-1zM469 139.5h0.5v4h-0.5zM564 139.5h0.3v4h-0.3zM458 139.5h0.3v4h-0.3zM519.5 139.5h0.5v4h-0.5zM508.2 139.5h1v4h-1zM495.3 139.5h0.4v4h-0.4zM308.9 139.5h0.4v4h-0.4zM468.8 139.5h1.1v4h-1.1zM370.4 139.5h0.8v4h-0.8zM442.9 139.5h0.4v4h-0.4zM294.5 139.5h0.6v4h-0.6zM484.8 139.5h0.6v4h-0.6zM292.8 139.5h0.7v4h-0.7zM211.4 139.5h0.4v4h-0.4zM227.5 139.5h0.3v4h-0.3zM444.1 139.5h0.7v4h-0.7zM417.6 139.5h0.8v4h-0.8zM135.2 139.5h1v4h-1zM519.1 139.5h0.3v4h-0.3zM324 139.5h0.9v4h-0.9zM316.6 139.5h1v4h-1zM457 139.5h0.8v4h-0.8zM562.7 139.5h0.9v4h-0.9zM401.7 139.5h0.3v4h-0.3zM336.1 139.5h0.9v4h-0.9zM370.6 139.5h0.8v4h-0.8zM283.4 139.5h1v4h-1zM231.2 139.5h0.8v4h-0.8zM327.3 139.5h0.4v4h-0.4zM117.6 139.5h0.4v4h-0.4zM252.7 139.5h0.7v4h-0.7zM121.4 139.5h0.4v4h-0.4zM507.8 139.5h1.1v4h-1.1zM324.4 139.5h0.7v4h-0.7zM410.6 139.5h0.4v4h-0.4zM378.4 139.5h0.8v4h-0.8zM582 139.5h0.8v4h-0.8zM381.5 139.5h0.6v4h-0.6zM565.7 139.5h0.7v4h-0.7zM347.8 139.5h0.9v4h-0.9zM327.8 139.5h0.4v4h-0.4zM405.1 139.5h1v4h-1zM293.4 139.5h0.4v4h-0.4zM161.1 139.5h1v4h-1zM163.8 139.5h0.8v4h-0.8zM151.9 139.5h0.7v4h-0.7zM565.4 139.5h0.5v4h-0.5zM262.3 139.5h0.8v4h-0.8zM395.9 139.5h0.7v4h-0.7zM304.8 139.5h0.3v4h-0.3zM406.8 139.5h0.5v4h-0.5zM419.5 139.5h0.7v4h-0.7zM242.8 139.5h1.1v4h-1.1zM269.5 139.5h1.1v4h-1.1zM347.8 139.5h0.7v4h-0.7zM243 139.5h0.4v4h-0.4zM462.5 139.5h0.7v4h-0.7zM401.8 139.5h0.4v4h-0.4zM364 139.5h0.8v4h-0.8zM489.4 139.5h0.8v4h-0.8zM315.7 139.5h0.8v4h-0.8zM407.6 139.5h0.7v4h-0.7zM424.4 139.5h0.5v4h-0.5zM139.7 139.5h0.4v4h-0.4zM596.3 139.5h1v4h-1zM523.2 139.5h0.5v4h-0.5zM529.1 139.5h0.9v4h-0.9zM379.7 139.5h0.5v4h-0.5zM161.6 139.5h1.1v4h-1.1zM609 139.5h1v4h-1zM331.8 139.5h0.9v4h-0.9zM565.1 139.5h0.7v4h-0.7zM170.8 139.5h1.1v4h-1.1zM377.9 139.5h0.9v4h-0.9zM420.5 139.5h0.4v4h-0.4zM339.9 139.5h0.3v4h-0.3zM241.5 139.5h1.1v4h-1.1zM455.1 139.5h0.8v4h-0.8zM164.2 139.5h0.8v4h-0.8zM411.9 139.5h0.8v4h-0.8zM453.5 139.5h1v4h-1zM332.6 139.5h0.8v4h-0.8zM373.9 139.5h0.8v4h-0.8zM449 139.5h0.5v4h-0.5zM135.9 139.5h0.4v4h-0.4zM129.4 139.5h0.7v4h-0.7z"/>
<path fill="#3B4AF0" fill-opacity="0.4" d="M261.2 139.5h0.9v4h-0.9zM189.3 139.5h0.4v4h-0.4zM542.5 139.5h0.4v4h-0.4zM285.1 139.5h0.9v4h-0.9zM390.5 139.5h0.5v4h-0.5zM175.6 139.5h0.8v4h-0.8zM232.6 139.5h1v4h-1zM241 139.5h1v4h-1zM118.9 139.5h0.8v4h-0.8zM249.7 139.5h0.7v4h-0.7zM327.1 139.5h0.9v4h-0.9zM201 139.5h0.9v4h-0.9zM125.1 139.5h0.8v4h-0.8zM521.5 139.5h0.6v4h-0.6zM534.2 139.5h0.6v4h-0.6zM286.2 139.5h1v4h-1zM605.2 139.5h0.9v4h-0.9zM223.2 139.5h1.1v4h-1.1zM291.5 139.5h1v4h-1zM269.6 139.5h0.5v4h-0.5z"/>
<rect x="108" y="143.5" width="502" height="3.5" fill="#A474DE"/>
<path fill="#9C80E4" fill-opacity="0.7" d="M237.4 143.5h0.9v3.5h-0.9zM599.7 143.5h0.7v3.5h-0.7zM161.8 143.5h0.8v3.5h-0.8zM559.1 143.5h0.9v3.5h-0.9zM108.9 143.5h0.5v3.5h-0.5zM497.8 143.5h0.9v3.5h-0.9zM608 143.5h1v3.5h-1zM508.7 143.5h0.9v3.5h-0.9zM299 143.5h0.3v3.5h-0.3zM493.6 143.5h0.7v3.5h-0.7zM542.2 143.5h0.4v3.5h-0.4zM538.3 143.5h0.8v3.5h-0.8zM552.8 143.5h0.9v3.5h-0.9zM326.9 143.5h0.7v3.5h-0.7zM157.4 143.5h0.5v3.5h-0.5zM396.6 143.5h0.4v3.5h-0.4zM288 143.5h0.8v3.5h-0.8zM406.6 143.5h1v3.5h-1zM325.5 143.5h0.7v3.5h-0.7zM319.8 143.5h0.9v3.5h-0.9zM422.1 143.5h1.1v3.5h-1.1zM179 143.5h0.4v3.5h-0.4zM254.8 143.5h0.8v3.5h-0.8zM428.5 143.5h0.5v3.5h-0.5zM244.3 143.5h0.8v3.5h-0.8zM240.7 143.5h1v3.5h-1zM161.5 143.5h0.9v3.5h-0.9zM184.8 143.5h0.9v3.5h-0.9zM500.6 143.5h1.1v3.5h-1.1zM560.8 143.5h0.3v3.5h-0.3zM439.8 143.5h1v3.5h-1zM494.7 143.5h0.7v3.5h-0.7zM484.6 143.5h0.5v3.5h-0.5zM511.1 143.5h0.6v3.5h-0.6zM595.4 143.5h0.3v3.5h-0.3zM400.5 143.5h0.4v3.5h-0.4zM492.6 143.5h1.1v3.5h-1.1zM355 143.5h1v3.5h-1zM225 143.5h0.3v3.5h-0.3zM511.2 143.5h0.6v3.5h-0.6zM150.2 143.5h0.8v3.5h-0.8zM560.4 143.5h0.4v3.5h-0.4zM414.6 143.5h0.6v3.5h-0.6zM129.3 143.5h0.4v3.5h-0.4zM130.8 143.5h0.5v3.5h-0.5zM262.6 143.5h0.7v3.5h-0.7zM419.6 143.5h1v3.5h-1zM537.8 143.5h0.4v3.5h-0.4zM423.1 143.5h1v3.5h-1zM233.5 143.5h0.8v3.5h-0.8zM604.1 143.5h0.8v3.5h-0.8zM460.2 143.5h0.5v3.5h-0.5zM606.2 143.5h1v3.5h-1zM270 143.5h0.5v3.5h-0.5zM110.4 143.5h0.7v3.5h-0.7zM546.5 143.5h0.9v3.5h-0.9zM182.1 143.5h0.5v3.5h-0.5zM188.9 143.5h0.5v3.5h-0.5zM209.7 143.5h0.4v3.5h-0.4zM385.7 143.5h1v3.5h-1zM537 143.5h0.8v3.5h-0.8zM266.7 143.5h1v3.5h-1zM213.9 143.5h0.3v3.5h-0.3zM216.4 143.5h0.9v3.5h-0.9zM459.7 143.5h0.5v3.5h-0.5zM218.3 143.5h0.8v3.5h-0.8zM364.8 143.5h0.9v3.5h-0.9zM331.8 143.5h0.4v3.5h-0.4zM143.4 143.5h0.5v3.5h-0.5zM370.8 143.5h0.9v3.5h-0.9zM387.2 143.5h0.3v3.5h-0.3zM586.4 143.5h0.7v3.5h-0.7zM379.3 143.5h0.5v3.5h-0.5zM230.2 143.5h0.5v3.5h-0.5zM412.4 143.5h1v3.5h-1zM240.6 143.5h0.6v3.5h-0.6zM252.3 143.5h0.3v3.5h-0.3zM113.3 143.5h0.9v3.5h-0.9zM598.7 143.5h0.3v3.5h-0.3zM146.6 143.5h0.7v3.5h-0.7z"/>
<path fill="#D656F8" fill-opacity="0.7" d="M260.7 143.5h0.5v3.5h-0.5zM544.6 143.5h0.5v3.5h-0.5zM205.7 143.5h1v3.5h-1zM420.8 143.5h0.8v3.5h-0.8zM443.5 143.5h0.3v3.5h-0.3zM598.9 143.5h0.3v3.5h-0.3zM222.2 143.5h0.7v3.5h-0.7zM528.5 143.5h1.1v3.5h-1.1zM112.4 143.5h0.4v3.5h-0.4zM116 143.5h0.4v3.5h-0.4zM566.7 143.5h0.4v3.5h-0.4zM378.7 143.5h0.5v3.5h-0.5zM112 143.5h0.5v3.5h-0.5zM238 143.5h0.7v3.5h-0.7zM546.6 143.5h0.7v3.5h-0.7zM375.7 143.5h0.5v3.5h-0.5zM198.3 143.5h0.7v3.5h-0.7zM305.8 143.5h1v3.5h-1zM212.6 143.5h0.3v3.5h-0.3zM133.9 143.5h0.6v3.5h-0.6zM217.9 143.5h0.6v3.5h-0.6zM549.9 143.5h0.9v3.5h-0.9zM405.9 143.5h1v3.5h-1zM549.3 143.5h0.4v3.5h-0.4zM453.9 143.5h0.4v3.5h-0.4zM314.2 143.5h0.6v3.5h-0.6zM244.3 143.5h0.3v3.5h-0.3zM205.5 143.5h0.9v3.5h-0.9zM588.6 143.5h1v3.5h-1zM119.5 143.5h0.8v3.5h-0.8zM203.7 143.5h0.7v3.5h-0.7zM375.9 143.5h0.4v3.5h-0.4zM152.1 143.5h0.7v3.5h-0.7zM134.4 143.5h1v3.5h-1zM554.1 143.5h0.3v3.5h-0.3zM510 143.5h1v3.5h-1zM128 143.5h0.8v3.5h-0.8zM346.4 143.5h0.4v3.5h-0.4zM519 143.5h0.8v3.5h-0.8zM515.8 143.5h1v3.5h-1zM594.9 143.5h0.8v3.5h-0.8zM546.2 143.5h0.4v3.5h-0.4zM277.6 143.5h0.7v3.5h-0.7zM365.1 143.5h0.6v3.5h-0.6zM518.1 143.5h0.8v3.5h-0.8zM533 143.5h0.7v3.5h-0.7zM580.8 143.5h0.6v3.5h-0.6zM606.6 143.5h0.8v3.5h-0.8zM297.4 143.5h0.8v3.5h-0.8zM161.3 143.5h0.8v3.5h-0.8z"/>
<path fill="#22C98A" fill-opacity="0.6" d="M409.1 143.5h0.9v3.5h-0.9zM146 143.5h0.6v3.5h-0.6zM402.3 143.5h0.3v3.5h-0.3zM490.8 143.5h1v3.5h-1zM422.1 143.5h0.9v3.5h-0.9zM582.1 143.5h0.7v3.5h-0.7zM365 143.5h1v3.5h-1zM447.7 143.5h0.5v3.5h-0.5zM403.9 143.5h0.9v3.5h-0.9zM531.8 143.5h0.4v3.5h-0.4zM191.9 143.5h0.8v3.5h-0.8zM467.4 143.5h0.9v3.5h-0.9zM353.6 143.5h0.6v3.5h-0.6zM590.1 143.5h0.5v3.5h-0.5zM252 143.5h0.3v3.5h-0.3zM150.4 143.5h0.8v3.5h-0.8zM440.7 143.5h0.5v3.5h-0.5zM479.5 143.5h0.4v3.5h-0.4zM294.7 143.5h0.8v3.5h-0.8zM498.2 143.5h0.7v3.5h-0.7zM513.8 143.5h0.7v3.5h-0.7zM441.3 143.5h1v3.5h-1zM390.5 143.5h0.8v3.5h-0.8zM576.3 143.5h0.3v3.5h-0.3zM117.4 143.5h0.3v3.5h-0.3zM264.1 143.5h0.7v3.5h-0.7zM418.2 143.5h0.8v3.5h-0.8zM116.6 143.5h1v3.5h-1zM227.2 143.5h1.1v3.5h-1.1zM281.6 143.5h1v3.5h-1zM465.8 143.5h0.3v3.5h-0.3zM365.1 143.5h0.6v3.5h-0.6zM606.7 143.5h0.5v3.5h-0.5zM306.3 143.5h0.4v3.5h-0.4zM110.4 143.5h0.7v3.5h-0.7zM419.3 143.5h0.4v3.5h-0.4zM528.4 143.5h0.5v3.5h-0.5zM578.6 143.5h0.8v3.5h-0.8zM595.6 143.5h0.7v3.5h-0.7zM528.9 143.5h0.8v3.5h-0.8z"/>
<rect x="108" y="147" width="502" height="8" fill="#22C98A"/>
<path fill="#FFFFFF" d="M466.9 148.7h0.6v1.6h-0.6zM277.2 152.9h1v0.9h-1zM484.5 152.5h0.4v1.4h-0.4zM363.4 148.1h0.7v1.6h-0.7zM605.3 149.4h0.9v1.2h-0.9zM463.2 148.8h1v1.6h-1zM288.1 151.1h0.7v2.2h-0.7zM221.2 148.6h0.3v1.8h-0.3z"/>
<rect x="108" y="155" width="502" height="8.5" fill="#22C98A"/>
<path fill="#FFFFFF" fill-opacity="0.7" d="M548.1 159.1h0.4v3.4h-0.4zM234.7 155.6h0.3v3h-0.3zM184.3 155.7h0.6v1.4h-0.6zM383.7 155.3h0.8v2.9h-0.8zM133.7 156.2h0.7v2.8h-0.7zM406.9 159.7h0.4v3.2h-0.4zM578 161h0.6v1.2h-0.6zM329.6 159.6h0.6v2h-0.6zM473.5 156h0.6v1.7h-0.6zM134.5 155.3h1.1v3.3h-1.1zM405.7 160.9h1.1v2.4h-1.1zM180.9 155.6h0.9v3h-0.9zM210.6 159.3h1.1v1.6h-1.1zM565.7 156.7h0.9v2.9h-0.9zM534.5 158.2h0.4v2h-0.4zM461.4 157.7h0.3v1.2h-0.3zM186.1 158.8h1v2.1h-1zM321.9 159.8h1v3.2h-1zM148.7 160.2h0.8v2.9h-0.8zM387.2 155.1h0.7v1.4h-0.7zM120.1 157.3h0.5v2.7h-0.5zM380 159.8h0.5v3.3h-0.5zM240.5 157.9h0.6v1.3h-0.6zM229.2 159.6h0.9v1.8h-0.9zM121.3 156.7h0.9v2.5h-0.9zM495.1 158.7h1v3.2h-1zM328.4 156.8h0.8v2.8h-0.8zM551.5 159.4h0.9v2.7h-0.9zM133.7 159.4h1v2.1h-1zM434.7 159.9h0.6v2.8h-0.6zM607.2 159.1h0.3v3.2h-0.3zM407 157.7h0.9v1.8h-0.9zM128.4 157.9h1v2.9h-1zM415.5 159h1v1.4h-1zM471 156.3h0.8v3.3h-0.8zM449 161.2h0.9v2h-0.9zM314.8 157.8h0.4v1.4h-0.4zM603.5 158.5h1v3.2h-1zM360.7 160.8h0.8v2.5h-0.8zM305.2 159.6h0.6v2.8h-0.6zM479.1 156.6h0.4v2.5h-0.4zM245.6 155.9h0.5v1h-0.5zM445.2 161.8h0.9v1.3h-0.9zM341.8 155.6h0.9v1.1h-0.9zM516.9 159.9h0.4v1.1h-0.4zM130 155.6h0.6v3h-0.6zM531 158.2h1v3.3h-1zM520.3 160.4h0.4v2.4h-0.4zM542.5 157.2h0.4v3h-0.4zM365.3 156.9h0.9v2.6h-0.9zM537.7 155.3h1v2.9h-1zM115.6 155.6h0.8v1.3h-0.8zM545.3 157.1h0.3v1.7h-0.3zM576.1 157.6h1.1v2.9h-1.1zM166.9 159.5h1.1v1.6h-1.1zM498.8 160h0.7v3.1h-0.7zM291.8 158.1h0.9v1.2h-0.9zM445.4 160h0.5v1.9h-0.5zM213.9 156.6h1v1.4h-1zM416.4 157h0.5v3h-0.5zM171.9 159h0.8v2h-0.8zM164.2 158.5h0.3v1.7h-0.3zM207.9 156.3h0.5v3h-0.5zM282.2 158.9h1v3.4h-1zM178.5 160.8h0.9v1.2h-0.9zM246.6 155.9h0.5v2h-0.5zM442.8 159.7h1v2.6h-1zM189 156.8h0.5v3h-0.5zM483 156.6h0.8v1.4h-0.8zM571.5 155.1h1v2.4h-1zM116.4 158.9h1.1v2.9h-1.1zM238.3 160h1v1.2h-1zM453.5 156.1h0.6v3h-0.6zM591 157.2h1v1.8h-1zM507 159.2h0.6v2.4h-0.6zM582.5 157.4h0.9v1.7h-0.9zM145.7 156.2h0.9v3h-0.9zM345 155.2h0.6v1.7h-0.6zM406.5 160.3h1.1v1.4h-1.1zM496.1 157.3h0.7v3h-0.7zM419.8 159.2h0.4v1.4h-0.4zM530.8 157.6h0.7v3.2h-0.7zM313.9 159.8h0.9v3.2h-0.9zM439.1 158.8h0.5v1.8h-0.5zM126.2 156.4h0.5v2.9h-0.5zM433.4 157.4h0.5v1.3h-0.5zM269.2 161.2h0.5v1.8h-0.5zM396.5 157h0.7v1.6h-0.7zM509.3 157.8h0.6v1.4h-0.6zM446 157.7h1.1v3h-1.1zM192.6 159.3h1v1.1h-1zM595.7 156.9h0.6v2.3h-0.6zM316.6 159.2h0.4v2.5h-0.4zM172.9 157.4h0.3v1.6h-0.3zM326.1 155.2h0.9v2.3h-0.9zM117.6 160.7h0.7v1.4h-0.7zM482.5 156.3h0.9v2.5h-0.9zM505.6 155.3h0.5v1.4h-0.5zM304 158.9h1.1v2.6h-1.1zM298.8 160.3h0.6v3.2h-0.6zM275.5 156.3h0.8v2.2h-0.8zM364.7 157.3h0.4v2.9h-0.4zM436.5 161.6h0.9v1.6h-0.9zM603.4 159.7h0.7v1.2h-0.7zM448.6 156.6h0.5v2.9h-0.5zM238.6 159.5h0.4v2.5h-0.4zM456.5 155.4h0.5v1.7h-0.5zM196.1 155.3h0.5v1.5h-0.5zM308.4 155h0.3v2.2h-0.3zM299.6 159.9h0.4v1.4h-0.4zM144.5 158.8h0.9v2.6h-0.9zM374.4 157.8h0.9v1.5h-0.9zM117 159h0.3v2h-0.3zM592.7 161.7h1v1.1h-1zM306.7 155.7h0.6v1.4h-0.6zM334.9 158.6h0.7v3h-0.7zM204.3 156.4h0.8v3h-0.8zM254.8 155.8h0.5v3.3h-0.5zM425.5 157.9h0.6v2.7h-0.6zM217.9 155.1h1v2.3h-1z"/>
<path fill="#A8EAD2" fill-opacity="0.7" d="M217.7 155h0.4v8.5h-0.4zM269.7 155h0.4v8.5h-0.4zM431.9 155h0.8v8.5h-0.8zM302.7 155h0.5v8.5h-0.5zM426.9 155h0.6v8.5h-0.6zM493.5 155h1v8.5h-1zM469.2 155h1.1v8.5h-1.1zM259.3 155h1v8.5h-1zM311.7 155h1v8.5h-1zM417.9 155h0.5v8.5h-0.5zM248.7 155h1v8.5h-1zM350.6 155h0.4v8.5h-0.4zM399.2 155h0.4v8.5h-0.4zM138.7 155h0.5v8.5h-0.5zM497.1 155h0.5v8.5h-0.5zM541.5 155h0.3v8.5h-0.3zM277.2 155h0.3v8.5h-0.3zM453.4 155h0.8v8.5h-0.8zM501.8 155h1v8.5h-1zM563.7 155h0.6v8.5h-0.6zM292 155h0.8v8.5h-0.8zM351.9 155h0.5v8.5h-0.5zM325.1 155h0.6v8.5h-0.6zM554.2 155h0.4v8.5h-0.4zM472.9 155h0.9v8.5h-0.9zM566.8 155h0.8v8.5h-0.8zM462.1 155h0.4v8.5h-0.4zM546.6 155h0.3v8.5h-0.3zM413.2 155h0.4v8.5h-0.4zM223.1 155h0.9v8.5h-0.9zM300.6 155h0.8v8.5h-0.8zM218.5 155h0.4v8.5h-0.4zM282.1 155h0.7v8.5h-0.7zM514.5 155h1v8.5h-1zM298 155h1.1v8.5h-1.1zM390.8 155h0.4v8.5h-0.4zM360.8 155h0.8v8.5h-0.8zM491 155h0.4v8.5h-0.4zM596.2 155h0.7v8.5h-0.7zM110.5 155h0.5v8.5h-0.5zM525.8 155h0.3v8.5h-0.3zM264.5 155h0.8v8.5h-0.8zM172 155h0.9v8.5h-0.9zM403.9 155h0.5v8.5h-0.5zM514.8 155h0.4v8.5h-0.4zM205.1 155h0.9v8.5h-0.9zM410.2 155h0.5v8.5h-0.5zM305.1 155h1v8.5h-1zM194.9 155h0.4v8.5h-0.4zM358.3 155h0.5v8.5h-0.5zM450.6 155h0.5v8.5h-0.5zM203 155h0.8v8.5h-0.8zM589.7 155h0.7v8.5h-0.7zM593 155h1.1v8.5h-1.1zM485.3 155h0.8v8.5h-0.8zM294.8 155h0.4v8.5h-0.4zM373.2 155h0.4v8.5h-0.4zM392.6 155h0.6v8.5h-0.6zM387.5 155h0.8v8.5h-0.8zM389.1 155h1v8.5h-1z"/>
<path fill="#3B4AF0" fill-opacity="0.5" d="M386.1 157.8h0.4v4.7h-0.4zM292.6 156.9h0.7v3.5h-0.7zM444.2 161.2h1.1v1.7h-1.1zM605 158.5h1v3.2h-1zM342.3 156.3h0.6v2.1h-0.6zM347.6 158.8h0.5v2.3h-0.5zM249.9 156.5h1v1.8h-1zM321.1 157h0.5v4.5h-0.5zM139 156.4h0.5v4h-0.5zM258.3 160.3h0.5v1.6h-0.5zM271.4 158.3h0.5v1.9h-0.5zM478.9 155.1h1.1v4.9h-1.1zM357 157.1h0.7v3.5h-0.7zM573.6 160.2h0.8v3.1h-0.8zM368 159.6h0.3v3.8h-0.3zM435.9 155.1h0.5v4.5h-0.5zM533.2 155.7h0.4v4.5h-0.4zM181.5 158.6h0.5v3.3h-0.5zM365.2 158h0.4v4.9h-0.4zM292 160.3h0.3v3h-0.3zM586.9 161.1h0.4v2.2h-0.4zM278 158h0.9v4.8h-0.9zM511.8 156h0.8v4.4h-0.8zM561.9 160h0.5v2h-0.5zM605.7 155.4h0.9v3.8h-0.9zM373.2 157.1h0.4v3.5h-0.4zM178.4 158h0.7v4.4h-0.7zM178.4 156.3h1v4.9h-1zM598.9 159.7h0.5v3h-0.5zM151.1 156.5h0.6v1.6h-0.6z"/>
<rect x="108" y="163.5" width="502" height="9.5" fill="#FFFFFF"/>
<path fill="#A8EAD2" fill-opacity="0.7" d="M286.7 163.5h1v9.5h-1zM421.9 163.5h0.4v9.5h-0.4zM507.9 163.5h0.9v9.5h-0.9zM262 163.5h0.4v9.5h-0.4zM476.9 163.5h1.1v9.5h-1.1zM218.1 163.5h0.6v9.5h-0.6zM274.9 163.5h1.1v9.5h-1.1zM133.6 163.5h0.3v9.5h-0.3zM199.3 163.5h0.7v9.5h-0.7zM592.9 163.5h0.3v9.5h-0.3zM508.4 163.5h0.7v9.5h-0.7zM554.9 163.5h1.1v9.5h-1.1zM468.4 163.5h0.5v9.5h-0.5zM565 163.5h0.3v9.5h-0.3zM603.9 163.5h0.6v9.5h-0.6zM243.5 163.5h1v9.5h-1zM358.2 163.5h0.6v9.5h-0.6zM261.2 163.5h0.6v9.5h-0.6zM232.6 163.5h0.7v9.5h-0.7zM326.9 163.5h0.5v9.5h-0.5zM110.9 163.5h0.4v9.5h-0.4zM500.1 163.5h0.9v9.5h-0.9zM571.7 163.5h0.4v9.5h-0.4zM573.1 163.5h1v9.5h-1zM283.7 163.5h1.1v9.5h-1.1zM601.9 163.5h1v9.5h-1zM387.6 163.5h1v9.5h-1zM185.5 163.5h0.4v9.5h-0.4zM177.7 163.5h0.9v9.5h-0.9zM590 163.5h0.5v9.5h-0.5zM176.7 163.5h1v9.5h-1zM548.8 163.5h0.4v9.5h-0.4zM124.8 163.5h0.5v9.5h-0.5zM245.1 163.5h0.3v9.5h-0.3zM181 163.5h1v9.5h-1zM140 163.5h0.7v9.5h-0.7zM467.7 163.5h0.9v9.5h-0.9zM263.3 163.5h0.4v9.5h-0.4zM321.9 163.5h0.6v9.5h-0.6zM332.9 163.5h0.5v9.5h-0.5zM346.5 163.5h1.1v9.5h-1.1zM112 163.5h0.5v9.5h-0.5zM534.2 163.5h0.7v9.5h-0.7zM501.5 163.5h0.4v9.5h-0.4zM604.9 163.5h0.3v9.5h-0.3zM502.7 163.5h0.5v9.5h-0.5zM465.3 163.5h0.9v9.5h-0.9zM476.7 163.5h1.1v9.5h-1.1zM219.7 163.5h1v9.5h-1zM418.1 163.5h0.4v9.5h-0.4zM217.5 163.5h0.4v9.5h-0.4zM561.1 163.5h0.6v9.5h-0.6zM282.2 163.5h0.4v9.5h-0.4zM511.2 163.5h0.7v9.5h-0.7zM210.7 163.5h0.9v9.5h-0.9zM377.3 163.5h0.9v9.5h-0.9zM462.3 163.5h0.6v9.5h-0.6zM286.9 163.5h1v9.5h-1zM198.9 163.5h0.4v9.5h-0.4zM539.1 163.5h0.8v9.5h-0.8zM572.7 163.5h0.8v9.5h-0.8zM609.4 163.5h0.6v9.5h-0.6zM139.8 163.5h0.8v9.5h-0.8zM234.4 163.5h0.6v9.5h-0.6zM292.9 163.5h0.6v9.5h-0.6zM367.3 163.5h0.8v9.5h-0.8zM143.5 163.5h1v9.5h-1zM282.5 163.5h0.9v9.5h-0.9zM282 163.5h0.4v9.5h-0.4zM273.3 163.5h0.5v9.5h-0.5zM260.7 163.5h0.8v9.5h-0.8zM448.6 163.5h0.5v9.5h-0.5zM462.1 163.5h0.8v9.5h-0.8zM189.5 163.5h0.8v9.5h-0.8zM136.6 163.5h0.8v9.5h-0.8zM241.4 163.5h0.8v9.5h-0.8zM578.7 163.5h0.9v9.5h-0.9zM388.2 163.5h0.8v9.5h-0.8zM232.4 163.5h0.7v9.5h-0.7zM135.4 163.5h0.7v9.5h-0.7zM594 163.5h0.7v9.5h-0.7zM481.6 163.5h1v9.5h-1zM392.1 163.5h0.4v9.5h-0.4zM605 163.5h0.7v9.5h-0.7zM322.8 163.5h0.4v9.5h-0.4zM471.1 163.5h1v9.5h-1zM375.1 163.5h0.4v9.5h-0.4zM462.5 163.5h0.5v9.5h-0.5zM282.2 163.5h0.5v9.5h-0.5zM372.5 163.5h0.8v9.5h-0.8zM388.3 163.5h0.4v9.5h-0.4zM225.8 163.5h0.5v9.5h-0.5zM364.2 163.5h1.1v9.5h-1.1zM437.1 163.5h1v9.5h-1zM153.3 163.5h0.3v9.5h-0.3zM381.4 163.5h0.5v9.5h-0.5zM275 163.5h0.9v9.5h-0.9zM155.1 163.5h1v9.5h-1zM315.1 163.5h0.8v9.5h-0.8zM129.3 163.5h0.3v9.5h-0.3zM446 163.5h0.3v9.5h-0.3zM427.6 163.5h0.5v9.5h-0.5zM258.7 163.5h1.1v9.5h-1.1zM541.3 163.5h0.5v9.5h-0.5zM301.2 163.5h0.5v9.5h-0.5zM168.2 163.5h1.1v9.5h-1.1zM434.7 163.5h0.9v9.5h-0.9zM320.8 163.5h0.5v9.5h-0.5zM424.7 163.5h0.5v9.5h-0.5zM566.6 163.5h1.1v9.5h-1.1zM593.9 163.5h0.5v9.5h-0.5zM256.6 163.5h1v9.5h-1zM341.5 163.5h0.7v9.5h-0.7zM466.4 163.5h0.5v9.5h-0.5zM340.3 163.5h0.4v9.5h-0.4zM123.5 163.5h1.1v9.5h-1.1zM470.5 163.5h0.8v9.5h-0.8zM210.8 163.5h0.5v9.5h-0.5zM569.6 163.5h1.1v9.5h-1.1zM430.6 163.5h1v9.5h-1zM306.1 163.5h1v9.5h-1zM473.4 163.5h0.5v9.5h-0.5zM570.7 163.5h0.3v9.5h-0.3zM242.7 163.5h0.7v9.5h-0.7zM578.9 163.5h0.6v9.5h-0.6zM162.9 163.5h0.9v9.5h-0.9zM444.3 163.5h0.4v9.5h-0.4zM453.9 163.5h0.6v9.5h-0.6zM319.4 163.5h1.1v9.5h-1.1zM525.8 163.5h1.1v9.5h-1.1zM460.5 163.5h0.6v9.5h-0.6zM295.5 163.5h0.4v9.5h-0.4zM142.1 163.5h0.7v9.5h-0.7zM188.2 163.5h0.8v9.5h-0.8zM214.5 163.5h0.7v9.5h-0.7zM558.8 163.5h0.7v9.5h-0.7zM572.1 163.5h0.5v9.5h-0.5zM175.6 163.5h0.9v9.5h-0.9zM325.7 163.5h0.8v9.5h-0.8zM398.5 163.5h0.6v9.5h-0.6zM290.4 163.5h0.5v9.5h-0.5zM605.6 163.5h0.5v9.5h-0.5zM339.5 163.5h1v9.5h-1zM517.8 163.5h1.1v9.5h-1.1zM421 163.5h0.5v9.5h-0.5zM543.8 163.5h0.4v9.5h-0.4zM581.1 163.5h0.7v9.5h-0.7zM450.4 163.5h1v9.5h-1zM368.5 163.5h1v9.5h-1zM529 163.5h0.7v9.5h-0.7zM565.4 163.5h0.5v9.5h-0.5zM186.8 163.5h0.9v9.5h-0.9zM521.7 163.5h0.6v9.5h-0.6zM123.2 163.5h0.6v9.5h-0.6zM221.1 163.5h0.4v9.5h-0.4zM191 163.5h0.8v9.5h-0.8zM298.5 163.5h0.9v9.5h-0.9zM218.4 163.5h0.8v9.5h-0.8zM242.7 163.5h0.5v9.5h-0.5zM183.2 163.5h0.9v9.5h-0.9zM249.4 163.5h0.8v9.5h-0.8zM453.6 163.5h0.7v9.5h-0.7zM440.4 163.5h0.8v9.5h-0.8zM156.9 163.5h0.9v9.5h-0.9zM368.2 163.5h1v9.5h-1zM163.7 163.5h0.3v9.5h-0.3zM432.6 163.5h0.5v9.5h-0.5zM602.5 163.5h0.5v9.5h-0.5zM334.5 163.5h0.6v9.5h-0.6zM388.5 163.5h0.5v9.5h-0.5z"/>
<path fill="#22C98A" fill-opacity="0.5" d="M590.1 169.3h0.5v3.6h-0.5zM277.8 163.7h1v3.5h-1zM595.3 169.5h0.6v2h-0.6zM192 163.6h0.3v3.7h-0.3zM428.2 169.5h0.8v2.3h-0.8zM517.8 169.3h0.3v2.8h-0.3zM303.3 163.6h0.4v2.7h-0.4zM300.6 168.1h0.7v1.7h-0.7zM523.5 164.8h0.7v2.6h-0.7zM112.2 168.4h0.7v1.8h-0.7zM158.5 169h0.7v2.5h-0.7zM134.1 170.8h1v1.5h-1zM515.5 164h1v3.6h-1zM289.6 168.4h0.8v2h-0.8zM544.9 170h0.5v2h-0.5zM273.9 165.4h0.4v3.1h-0.4zM400.8 169.1h0.4v2.6h-0.4zM331.2 166.8h0.6v3.2h-0.6zM346.4 168.9h0.4v2.9h-0.4zM108.2 164.5h0.5v2.9h-0.5z"/>
<rect x="108" y="173" width="502" height="11" fill="url(#g2)"/>
<path fill="#3B4AF0" fill-opacity="0.5" d="M538.9 173h0.4v11h-0.4zM230.4 173h0.7v11h-0.7zM177.3 173h1v11h-1zM362.2 173h0.6v11h-0.6zM414.6 173h0.9v11h-0.9zM381.2 173h0.8v11h-0.8zM450.1 173h0.6v11h-0.6zM248.6 173h0.4v11h-0.4zM440.7 173h0.6v11h-0.6zM586.6 173h0.5v11h-0.5zM500.9 173h0.7v11h-0.7zM185.9 173h0.6v11h-0.6zM423.1 173h0.8v11h-0.8zM282.5 173h0.5v11h-0.5zM186.4 173h0.8v11h-0.8zM449.3 173h1v11h-1zM353.8 173h0.6v11h-0.6zM509 173h0.8v11h-0.8zM472 173h0.4v11h-0.4zM521.3 173h0.6v11h-0.6zM444.7 173h0.4v11h-0.4zM108.1 173h0.3v11h-0.3zM145.7 173h0.4v11h-0.4zM540.4 173h0.7v11h-0.7zM138.9 173h1.1v11h-1.1zM324.2 173h0.8v11h-0.8zM440.5 173h0.6v11h-0.6zM522.5 173h1.1v11h-1.1zM313.7 173h0.6v11h-0.6zM320.2 173h1v11h-1zM360.1 173h0.4v11h-0.4zM113.2 173h0.8v11h-0.8zM182.4 173h0.9v11h-0.9zM409.1 173h0.5v11h-0.5zM142.2 173h0.8v11h-0.8zM188.4 173h1.1v11h-1.1zM365.9 173h0.6v11h-0.6zM511.7 173h0.8v11h-0.8zM438.6 173h0.9v11h-0.9zM335.1 173h0.3v11h-0.3zM188 173h1.1v11h-1.1zM421.2 173h0.3v11h-0.3zM182.3 173h0.4v11h-0.4zM236.8 173h0.8v11h-0.8zM573.5 173h0.8v11h-0.8zM358.5 173h1v11h-1zM173.7 173h1v11h-1zM430.7 173h0.5v11h-0.5zM493.4 173h0.4v11h-0.4zM405.2 173h0.7v11h-0.7zM161.9 173h1v11h-1zM206.2 173h0.6v11h-0.6zM427.7 173h0.5v11h-0.5zM155.6 173h0.5v11h-0.5zM297.1 173h0.9v11h-0.9zM381.6 173h1v11h-1zM177.9 173h1v11h-1zM602.9 173h1.1v11h-1.1zM258.3 173h0.4v11h-0.4zM491.5 173h0.7v11h-0.7zM429.3 173h0.4v11h-0.4zM592 173h0.6v11h-0.6zM592.7 173h0.3v11h-0.3zM255.5 173h0.7v11h-0.7zM293.3 173h0.5v11h-0.5zM600.1 173h0.7v11h-0.7zM578.3 173h0.7v11h-0.7zM502.7 173h0.8v11h-0.8zM177.2 173h0.9v11h-0.9zM483.3 173h0.9v11h-0.9zM354.7 173h0.3v11h-0.3zM524.7 173h1.1v11h-1.1zM141.5 173h0.3v11h-0.3zM324.8 173h0.9v11h-0.9zM333.6 173h1v11h-1zM549.8 173h0.8v11h-0.8zM417.4 173h0.8v11h-0.8zM294.3 173h0.5v11h-0.5zM565 173h0.5v11h-0.5zM522.9 173h0.7v11h-0.7zM479.2 173h0.9v11h-0.9zM551.3 173h1v11h-1zM272.5 173h1v11h-1zM544.3 173h0.8v11h-0.8zM207.6 173h1.1v11h-1.1zM509.1 173h0.6v11h-0.6zM260.1 173h1v11h-1zM439.1 173h0.6v11h-0.6zM563.2 173h1.1v11h-1.1zM448.6 173h1v11h-1zM407.5 173h0.5v11h-0.5zM508.9 173h0.9v11h-0.9zM550.3 173h0.6v11h-0.6zM579.2 173h0.9v11h-0.9zM484.7 173h1v11h-1zM336.5 173h1v11h-1zM555.3 173h1.1v11h-1.1zM408.9 173h0.3v11h-0.3zM229.2 173h0.5v11h-0.5zM178.6 173h0.6v11h-0.6zM403 173h1.1v11h-1.1zM149.3 173h1.1v11h-1.1zM382.6 173h0.9v11h-0.9zM523.6 173h0.6v11h-0.6zM460.8 173h0.9v11h-0.9zM273.2 173h1v11h-1zM550.7 173h0.3v11h-0.3zM537 173h0.6v11h-0.6zM588.6 173h0.3v11h-0.3zM531.1 173h0.7v11h-0.7zM246.8 173h0.7v11h-0.7zM526.8 173h0.6v11h-0.6zM336.8 173h1v11h-1zM530 173h0.5v11h-0.5zM364.8 173h0.6v11h-0.6zM204.3 173h0.5v11h-0.5zM164.1 173h0.4v11h-0.4zM319.7 173h0.5v11h-0.5zM472.1 173h0.4v11h-0.4zM228.3 173h1.1v11h-1.1zM394.4 173h0.4v11h-0.4zM520.2 173h0.3v11h-0.3zM261.3 173h0.4v11h-0.4zM314.6 173h0.7v11h-0.7zM567.9 173h0.7v11h-0.7zM559.4 173h1.1v11h-1.1zM130.4 173h0.4v11h-0.4zM514.9 173h0.5v11h-0.5zM340.6 173h0.8v11h-0.8zM322.5 173h1v11h-1zM121.4 173h0.5v11h-0.5zM139.1 173h0.5v11h-0.5zM603 173h0.3v11h-0.3zM381 173h0.5v11h-0.5zM480.1 173h0.4v11h-0.4zM481.4 173h0.7v11h-0.7zM591.3 173h0.4v11h-0.4zM370.8 173h1v11h-1zM369.5 173h0.6v11h-0.6zM571.6 173h1v11h-1zM500.4 173h0.6v11h-0.6zM272.5 173h0.5v11h-0.5zM596.8 173h0.4v11h-0.4zM175.8 173h0.8v11h-0.8zM551.5 173h1.1v11h-1.1zM413.6 173h1v11h-1zM290.6 173h0.7v11h-0.7zM493.9 173h0.4v11h-0.4zM460.6 173h0.6v11h-0.6zM130.8 173h0.6v11h-0.6z"/>
<path fill="#5E9EAB" fill-opacity="0.6" d="M235.4 173h0.9v11h-0.9zM225.8 173h0.9v11h-0.9zM171.6 173h0.5v11h-0.5zM176.6 173h0.7v11h-0.7zM164.1 173h1v11h-1zM228.5 173h0.4v11h-0.4zM130.8 173h0.7v11h-0.7zM217.6 173h0.9v11h-0.9zM181.5 173h0.8v11h-0.8zM212.1 173h0.5v11h-0.5zM246.5 173h0.6v11h-0.6zM130.6 173h0.4v11h-0.4zM219.5 173h0.7v11h-0.7zM253.3 173h1v11h-1zM148 173h0.9v11h-0.9zM225.4 173h0.8v11h-0.8zM279.2 173h0.4v11h-0.4zM180.2 173h0.6v11h-0.6zM154.4 173h0.8v11h-0.8zM255.2 173h0.7v11h-0.7zM121.9 173h0.5v11h-0.5zM231.7 173h0.7v11h-0.7zM115.8 173h0.5v11h-0.5zM199.2 173h0.6v11h-0.6zM143.4 173h0.6v11h-0.6zM127.1 173h1v11h-1zM163.3 173h0.7v11h-0.7zM197.6 173h0.7v11h-0.7zM266.5 173h0.4v11h-0.4zM193 173h0.4v11h-0.4zM118.5 173h0.9v11h-0.9zM165.5 173h0.9v11h-0.9zM191.9 173h0.3v11h-0.3zM121.8 173h0.3v11h-0.3zM207 173h0.6v11h-0.6zM158.2 173h0.5v11h-0.5zM182.3 173h1v11h-1zM261.4 173h1v11h-1zM236.3 173h0.4v11h-0.4zM171.9 173h1v11h-1z"/>
<path fill="#22C98A" fill-opacity="0.5" d="M210 173h0.9v11h-0.9zM162.6 173h1v11h-1zM237.7 173h0.5v11h-0.5zM592.3 173h0.4v11h-0.4zM559.7 173h0.5v11h-0.5zM248.4 173h0.4v11h-0.4zM136.9 173h0.6v11h-0.6zM331.1 173h0.6v11h-0.6zM111.5 173h1v11h-1zM530.9 173h0.8v11h-0.8zM176.5 173h0.4v11h-0.4zM351.6 173h0.4v11h-0.4zM249.3 173h0.5v11h-0.5zM494.3 173h0.8v11h-0.8zM212.1 173h1.1v11h-1.1zM411.1 173h0.9v11h-0.9zM444.9 173h0.7v11h-0.7zM343.8 173h0.6v11h-0.6zM142.3 173h1.1v11h-1.1zM280.9 173h0.3v11h-0.3zM160.2 173h0.6v11h-0.6zM466.9 173h0.7v11h-0.7zM274.1 173h1v11h-1zM142.4 173h0.5v11h-0.5zM551.7 173h0.7v11h-0.7zM341.7 173h0.4v11h-0.4zM407.7 173h0.9v11h-0.9zM528.9 173h0.4v11h-0.4zM394.8 173h1v11h-1zM555.8 173h0.4v11h-0.4zM180.6 173h1v11h-1zM299.9 173h0.6v11h-0.6zM476 173h0.5v11h-0.5zM181.6 173h0.7v11h-0.7zM418 173h1v11h-1zM158.9 173h0.8v11h-0.8zM170.4 173h0.8v11h-0.8zM431 173h0.6v11h-0.6zM306.1 173h0.6v11h-0.6zM520.9 173h1v11h-1z"/>
<rect x="108" y="184" width="502" height="11" fill="#FFFFFF"/>
<path fill="#A8EAD2" fill-opacity="0.8" d="M334.5 184h0.9v11h-0.9zM326.8 184h0.7v11h-0.7zM420.5 184h0.8v11h-0.8zM337.5 184h0.7v11h-0.7zM540.6 184h0.6v11h-0.6zM422.7 184h0.4v11h-0.4zM598.8 184h0.3v11h-0.3zM499.8 184h0.4v11h-0.4zM438.8 184h0.3v11h-0.3zM272.1 184h0.3v11h-0.3zM319.8 184h0.8v11h-0.8zM116.7 184h0.7v11h-0.7zM309.7 184h1v11h-1zM306.4 184h0.3v11h-0.3zM228.6 184h1v11h-1zM352 184h0.6v11h-0.6zM265.6 184h0.5v11h-0.5zM177.9 184h0.8v11h-0.8zM178.3 184h0.4v11h-0.4zM181.2 184h0.5v11h-0.5zM556.9 184h0.5v11h-0.5zM123.4 184h1.1v11h-1.1zM353.8 184h1.1v11h-1.1zM503.4 184h0.7v11h-0.7zM322.9 184h0.3v11h-0.3zM318.9 184h0.5v11h-0.5zM298.3 184h1v11h-1zM418.7 184h1.1v11h-1.1zM493.9 184h1v11h-1zM162.6 184h0.7v11h-0.7zM520.9 184h0.9v11h-0.9zM519.2 184h0.6v11h-0.6zM172.9 184h0.7v11h-0.7zM393 184h0.9v11h-0.9zM292.4 184h1v11h-1zM548.1 184h0.9v11h-0.9zM481.8 184h1.1v11h-1.1zM153.7 184h0.6v11h-0.6zM329.8 184h0.6v11h-0.6zM447.5 184h0.7v11h-0.7zM297.1 184h0.3v11h-0.3zM132 184h0.7v11h-0.7zM270 184h0.5v11h-0.5zM117.8 184h0.4v11h-0.4zM198.1 184h0.7v11h-0.7zM224 184h0.7v11h-0.7zM480.1 184h0.4v11h-0.4zM423.4 184h0.9v11h-0.9zM562.1 184h1.1v11h-1.1zM201.8 184h0.3v11h-0.3zM433.6 184h0.7v11h-0.7zM562.7 184h0.8v11h-0.8zM520.8 184h0.3v11h-0.3zM344 184h0.5v11h-0.5zM199.1 184h0.4v11h-0.4zM582.7 184h0.6v11h-0.6zM508.1 184h0.9v11h-0.9zM513.6 184h0.5v11h-0.5zM493.4 184h0.7v11h-0.7zM577.2 184h0.8v11h-0.8zM558.7 184h1.1v11h-1.1zM287.4 184h0.6v11h-0.6zM109.4 184h1v11h-1zM418 184h0.4v11h-0.4zM420.5 184h1.1v11h-1.1zM572.7 184h1.1v11h-1.1zM277.1 184h0.5v11h-0.5zM109.6 184h0.4v11h-0.4zM237.1 184h0.8v11h-0.8zM111.2 184h1v11h-1zM433.4 184h1v11h-1zM250.8 184h0.7v11h-0.7zM566.8 184h0.4v11h-0.4zM147.1 184h0.4v11h-0.4zM209.9 184h0.4v11h-0.4zM123.7 184h0.4v11h-0.4zM328.9 184h0.6v11h-0.6zM332.2 184h0.7v11h-0.7zM463.1 184h0.8v11h-0.8zM595.4 184h1.1v11h-1.1zM559.2 184h0.7v11h-0.7zM230.1 184h0.7v11h-0.7zM354.8 184h0.7v11h-0.7zM579.7 184h0.8v11h-0.8zM577.9 184h0.4v11h-0.4zM429.2 184h0.5v11h-0.5zM117.2 184h0.3v11h-0.3zM294.1 184h0.4v11h-0.4zM272.3 184h0.3v11h-0.3zM122.8 184h0.5v11h-0.5zM472 184h0.7v11h-0.7zM470.4 184h1v11h-1zM358.7 184h0.8v11h-0.8zM208.2 184h0.6v11h-0.6zM483.7 184h0.9v11h-0.9zM180.5 184h0.5v11h-0.5zM339.8 184h0.7v11h-0.7zM416.4 184h1v11h-1zM231.9 184h0.4v11h-0.4zM152.3 184h0.5v11h-0.5zM293.6 184h0.4v11h-0.4zM525.5 184h0.6v11h-0.6zM233.2 184h0.5v11h-0.5zM551.6 184h0.8v11h-0.8zM514.3 184h0.4v11h-0.4zM192 184h0.6v11h-0.6zM340.9 184h0.4v11h-0.4zM206.9 184h0.4v11h-0.4zM144.5 184h0.4v11h-0.4zM230.4 184h0.5v11h-0.5zM410.1 184h1.1v11h-1.1zM395.9 184h0.7v11h-0.7zM301.9 184h0.4v11h-0.4zM439.3 184h0.7v11h-0.7zM438.9 184h0.6v11h-0.6zM214.6 184h0.6v11h-0.6zM183.4 184h0.5v11h-0.5zM586.1 184h0.5v11h-0.5zM408.2 184h1v11h-1zM310 184h0.6v11h-0.6zM161.9 184h0.4v11h-0.4zM574 184h0.7v11h-0.7zM270.9 184h0.3v11h-0.3zM464.1 184h0.4v11h-0.4zM358.5 184h0.9v11h-0.9zM510.9 184h1v11h-1zM237.2 184h0.4v11h-0.4zM167.7 184h0.6v11h-0.6zM279.5 184h0.5v11h-0.5zM169 184h0.6v11h-0.6z"/>
<path fill="#A8EAD2" fill-opacity="0.9" d="M488.3 184h0.4v11h-0.4zM572.3 184h0.4v11h-0.4zM481.6 184h0.6v11h-0.6zM482.7 184h0.8v11h-0.8zM508.4 184h0.8v11h-0.8zM553.8 184h0.4v11h-0.4zM602.7 184h0.7v11h-0.7zM558.4 184h0.5v11h-0.5zM499.3 184h0.9v11h-0.9zM466.7 184h0.7v11h-0.7zM583.2 184h0.7v11h-0.7zM510 184h0.9v11h-0.9zM593.5 184h0.5v11h-0.5zM604.6 184h0.9v11h-0.9zM482.6 184h0.4v11h-0.4zM454.5 184h0.6v11h-0.6zM548.3 184h0.6v11h-0.6zM411.3 184h0.4v11h-0.4zM597.3 184h0.4v11h-0.4zM589.6 184h1v11h-1zM528.3 184h0.8v11h-0.8zM579.3 184h1v11h-1zM549.7 184h0.9v11h-0.9zM593.7 184h0.5v11h-0.5zM486.1 184h0.9v11h-0.9zM543.5 184h0.6v11h-0.6zM609.4 184h0.3v11h-0.3zM439.5 184h0.4v11h-0.4zM471.2 184h1.1v11h-1.1zM608.2 184h0.9v11h-0.9zM488.3 184h1v11h-1zM469.8 184h0.7v11h-0.7zM550.6 184h0.6v11h-0.6zM548.5 184h1v11h-1zM473.6 184h0.9v11h-0.9zM415 184h1v11h-1zM498.3 184h0.6v11h-0.6zM601.2 184h0.4v11h-0.4zM508.2 184h1.1v11h-1.1zM479.3 184h0.5v11h-0.5zM496.1 184h0.8v11h-0.8zM455.4 184h1.1v11h-1.1zM592.3 184h0.9v11h-0.9zM510.8 184h0.6v11h-0.6zM449.6 184h0.6v11h-0.6zM497.8 184h0.6v11h-0.6zM509.1 184h0.3v11h-0.3zM569.4 184h0.9v11h-0.9zM565.2 184h0.4v11h-0.4zM457.3 184h0.5v11h-0.5zM518.6 184h1.1v11h-1.1zM475.1 184h1v11h-1zM408.2 184h0.8v11h-0.8zM481.6 184h0.6v11h-0.6zM539 184h1v11h-1zM596 184h0.6v11h-0.6zM506.9 184h0.7v11h-0.7zM411.2 184h0.7v11h-0.7zM555.9 184h1v11h-1zM444.6 184h0.7v11h-0.7zM567.1 184h0.5v11h-0.5zM458.6 184h0.6v11h-0.6zM542.9 184h1v11h-1zM461.4 184h0.8v11h-0.8zM601.9 184h1.1v11h-1.1zM573.3 184h0.6v11h-0.6zM547.1 184h0.7v11h-0.7zM508.1 184h0.6v11h-0.6zM608.4 184h0.9v11h-0.9zM514.2 184h0.3v11h-0.3zM467.9 184h1v11h-1zM419.1 184h1v11h-1zM492.7 184h0.4v11h-0.4zM498.9 184h0.9v11h-0.9zM410.5 184h0.7v11h-0.7zM544.8 184h0.6v11h-0.6zM461.8 184h0.8v11h-0.8zM514.3 184h0.4v11h-0.4zM587.4 184h1v11h-1zM512.1 184h1v11h-1zM529.7 184h0.3v11h-0.3zM597.8 184h0.8v11h-0.8zM431.8 184h0.3v11h-0.3zM557.9 184h0.6v11h-0.6zM427.8 184h0.8v11h-0.8zM516.6 184h1v11h-1zM526.5 184h0.7v11h-0.7zM468.9 184h1.1v11h-1.1zM599.8 184h0.4v11h-0.4zM608.2 184h0.9v11h-0.9z"/>
<path fill="#22C98A" fill-opacity="0.4" d="M234.6 188.8h0.9v3.3h-0.9zM545.5 188.1h0.5v3.8h-0.5zM297.7 189.6h1.1v1.6h-1.1zM531.1 187.7h0.4v4h-0.4zM385.7 185.1h0.5v3.7h-0.5zM351.6 185.6h0.6v3h-0.6zM380.1 188.6h0.3v3.2h-0.3zM180.3 190.9h0.6v2.7h-0.6zM605.8 186.7h0.8v3.7h-0.8zM561.7 188.1h1.1v4.4h-1.1zM150.1 189.5h0.5v2h-0.5zM282.4 184.7h0.6v3.7h-0.6zM122.7 185.8h0.5v3.3h-0.5zM573.9 188.1h0.7v3h-0.7zM138.9 189.6h0.8v3.1h-0.8z"/>
<rect x="108" y="195" width="502" height="12" fill="#D656F8"/>
<path fill="#9C80E4" fill-opacity="0.6" d="M275.6 202h1v2.9h-1zM108.7 196.3h0.8v4.6h-0.8zM109 202.7h0.3v2.7h-0.3zM217.6 196.9h0.8v4.1h-0.8zM555.7 198.5h0.8v2.8h-0.8zM193.9 196.6h1v4.2h-1zM136.8 198.3h0.4v2.8h-0.4zM578.3 203.9h0.9v2h-0.9zM590.4 200.7h1.1v3.1h-1.1zM563.4 197.1h0.4v4.8h-0.4zM283.6 201h0.5v3.8h-0.5zM222.9 200.8h0.5v4.8h-0.5z"/>
<rect x="108" y="207" width="502" height="2" fill="#D656F8"/>
<path fill="#9C80E4" fill-opacity="0.7" d="M243 207h0.9v2h-0.9zM461.1 207h0.6v2h-0.6zM580.3 207h0.9v2h-0.9zM248.5 207h1v2h-1zM288.6 207h0.9v2h-0.9zM354.1 207h0.6v2h-0.6zM209.4 207h0.7v2h-0.7zM373.9 207h0.6v2h-0.6zM224.7 207h0.7v2h-0.7zM320.5 207h0.7v2h-0.7zM490.3 207h1v2h-1zM365.3 207h0.8v2h-0.8zM155.5 207h0.5v2h-0.5zM304.1 207h0.7v2h-0.7zM213.9 207h0.7v2h-0.7zM482.2 207h0.9v2h-0.9zM536.4 207h0.8v2h-0.8zM485.7 207h0.8v2h-0.8zM160.8 207h0.8v2h-0.8zM448.3 207h0.5v2h-0.5zM507.4 207h0.6v2h-0.6zM537.5 207h1v2h-1zM319.7 207h0.9v2h-0.9zM231.7 207h0.5v2h-0.5zM537.2 207h0.4v2h-0.4zM450.5 207h0.9v2h-0.9zM355.2 207h0.5v2h-0.5zM124.9 207h0.6v2h-0.6zM309.6 207h0.7v2h-0.7zM210.6 207h0.5v2h-0.5zM224.6 207h0.4v2h-0.4zM277.1 207h1v2h-1zM546.2 207h0.7v2h-0.7zM447.8 207h0.8v2h-0.8zM400.2 207h0.7v2h-0.7zM446.3 207h0.6v2h-0.6zM265.2 207h0.5v2h-0.5zM306 207h0.9v2h-0.9zM127.2 207h0.9v2h-0.9zM509.2 207h0.8v2h-0.8zM439.1 207h0.4v2h-0.4zM284.5 207h0.4v2h-0.4zM359.3 207h0.7v2h-0.7zM308.3 207h1.1v2h-1.1zM317.2 207h1v2h-1zM267.9 207h0.5v2h-0.5zM301.9 207h0.6v2h-0.6zM364.2 207h0.4v2h-0.4zM428 207h1.1v2h-1.1zM164.5 207h0.9v2h-0.9zM298.8 207h0.4v2h-0.4zM495.2 207h1.1v2h-1.1zM472.3 207h0.9v2h-0.9zM531.9 207h1v2h-1zM342.3 207h0.7v2h-0.7zM149.1 207h0.9v2h-0.9zM563 207h1.1v2h-1.1zM583.8 207h0.7v2h-0.7zM487.1 207h0.6v2h-0.6zM534.5 207h0.5v2h-0.5zM138.8 207h0.5v2h-0.5zM248.7 207h0.4v2h-0.4zM357.7 207h0.9v2h-0.9zM372.9 207h1v2h-1zM185.9 207h0.3v2h-0.3zM262.4 207h0.9v2h-0.9zM200.6 207h0.3v2h-0.3zM253.3 207h1v2h-1zM251.2 207h0.4v2h-0.4zM257.8 207h0.7v2h-0.7zM507 207h0.8v2h-0.8zM542.6 207h0.7v2h-0.7zM214.2 207h0.5v2h-0.5zM134.2 207h0.8v2h-0.8zM272.5 207h0.6v2h-0.6zM300.3 207h0.3v2h-0.3zM306.5 207h0.4v2h-0.4zM185.3 207h1v2h-1zM198.8 207h0.9v2h-0.9zM339.4 207h0.6v2h-0.6z"/>
<rect x="108" y="209" width="502" height="5" fill="#FFFFFF"/>
<path fill="#A8EAD2" fill-opacity="0.6" d="M595.3 209h0.7v5h-0.7zM570.6 209h0.5v5h-0.5zM380.9 209h0.5v5h-0.5zM509.9 209h0.4v5h-0.4zM228.4 209h1.1v5h-1.1zM376.6 209h0.7v5h-0.7zM275.9 209h1.1v5h-1.1zM596.4 209h0.7v5h-0.7zM352.9 209h0.4v5h-0.4zM321.4 209h0.4v5h-0.4zM389.4 209h0.6v5h-0.6zM546.6 209h0.8v5h-0.8zM511.2 209h0.9v5h-0.9zM230.2 209h0.7v5h-0.7zM278.7 209h0.7v5h-0.7zM147.5 209h1v5h-1zM592.9 209h1.1v5h-1.1zM186.9 209h0.3v5h-0.3zM345.2 209h1v5h-1zM414.1 209h0.8v5h-0.8zM129.4 209h0.3v5h-0.3zM577.3 209h0.7v5h-0.7zM338.2 209h0.7v5h-0.7zM323.5 209h0.6v5h-0.6zM160.1 209h0.5v5h-0.5zM223.5 209h0.4v5h-0.4zM323.6 209h0.8v5h-0.8zM562.8 209h0.9v5h-0.9zM507.8 209h0.5v5h-0.5zM424.8 209h0.4v5h-0.4zM265.1 209h0.5v5h-0.5zM402.7 209h1.1v5h-1.1zM125.9 209h0.5v5h-0.5zM341.2 209h0.9v5h-0.9zM529.9 209h0.5v5h-0.5zM109.7 209h1v5h-1zM163.7 209h0.6v5h-0.6zM234.7 209h0.4v5h-0.4zM459.4 209h0.7v5h-0.7zM296.1 209h0.6v5h-0.6z"/>
<path fill="#D656F8" fill-opacity="0.4" d="M563 209h1v5h-1zM134.3 209h1v5h-1zM190 209h0.5v5h-0.5zM349.1 209h0.8v5h-0.8zM382.1 209h0.4v5h-0.4zM600 209h0.9v5h-0.9zM415.7 209h1.1v5h-1.1zM608.9 209h0.8v5h-0.8zM326.5 209h0.8v5h-0.8zM480.1 209h0.3v5h-0.3zM459 209h0.7v5h-0.7zM409.1 209h0.4v5h-0.4zM130.4 209h0.7v5h-0.7zM259.4 209h0.9v5h-0.9zM594.6 209h0.8v5h-0.8z"/>
<rect x="108" y="214" width="502" height="10" fill="#D656F8"/>
<path fill="#3B4AF0" fill-opacity="0.4" d="M398.8 216.1h0.5v3.8h-0.5zM248.7 216.9h0.3v4.2h-0.3zM412.8 220.4h0.6v3.3h-0.6zM354.1 215.9h0.4v3.4h-0.4zM358.8 216.4h0.5v6.6h-0.5zM384 216.4h1v5.4h-1zM395.6 216.7h0.5v4.9h-0.5zM227.2 218.5h0.7v3.2h-0.7zM189.2 218.6h0.9v5.2h-0.9zM321 217.8h0.9v5.1h-0.9zM330.1 216.7h1.1v6.4h-1.1zM163.7 217.7h0.4v5.9h-0.4zM200.7 217.4h1v2.1h-1zM216.4 216.8h1v2.7h-1zM377.8 215.9h0.8v6.3h-0.8zM175.4 216.2h0.6v5.2h-0.6zM418.8 217.5h0.7v4.2h-0.7zM251.5 216.6h0.6v3.5h-0.6zM409.2 215.5h0.6v6.2h-0.6zM265.7 215.5h1v5.5h-1zM188.1 218.9h1v3.6h-1zM389 214.5h0.6v3.9h-0.6zM353 214.2h0.4v5.3h-0.4zM188.2 214.3h0.9v3.4h-0.9zM184.5 214.6h0.5v6.9h-0.5zM192.5 215.9h0.5v3.9h-0.5zM310.3 217.7h0.7v4.9h-0.7zM319.3 218.8h0.3v2.8h-0.3zM288.5 216.1h0.5v6.5h-0.5zM291.6 216.4h0.7v6.6h-0.7zM347.8 216.4h0.9v4.8h-0.9zM306.5 214.5h1v4.9h-1zM231 215.4h0.9v3.3h-0.9zM198.4 217.7h0.9v5.8h-0.9zM320.9 218.3h1v3.2h-1zM281.7 214.5h0.9v6.5h-0.9zM410.8 217.3h0.8v2.7h-0.8zM331.3 216.5h1.1v6h-1.1zM358.2 214.6h0.5v6.5h-0.5zM314.4 214.3h0.4v6.3h-0.4zM374.6 215.6h0.9v4.6h-0.9zM332 215.5h0.7v5.2h-0.7zM189.8 214.8h0.7v5.5h-0.7zM359.3 214.5h0.8v2.1h-0.8zM295.7 220.6h1v2.3h-1zM324.9 217.2h0.7v4.4h-0.7zM413.9 214.5h0.3v3.8h-0.3zM167.4 216.9h0.4v4.9h-0.4zM202.3 215.6h0.8v6.7h-0.8zM243.9 215.7h1v6.6h-1zM177.8 214.9h1v4.7h-1zM396.7 219.8h0.4v3.6h-0.4zM317.6 217h0.8v4.7h-0.8zM306.9 215.8h0.7v5.8h-0.7zM362.1 215.5h0.7v5h-0.7zM222.8 217.8h1v6.2h-1zM159.2 216.1h1v5.6h-1zM404.8 217.1h1v5.7h-1zM329.9 216.2h1.1v4.9h-1.1zM215.9 219.1h0.7v2.5h-0.7zM218.5 215.4h0.8v5.9h-0.8zM397.6 221h0.6v2.7h-0.6zM237.5 218.4h0.6v2.5h-0.6zM413.3 217.4h0.6v4h-0.6zM358.2 214.6h0.8v5.8h-0.8zM378.8 219h1.1v2.2h-1.1zM164.5 219.1h0.7v3.8h-0.7zM238.2 218.3h0.9v5.5h-0.9zM346 215.4h0.8v3.1h-0.8zM255.1 215.2h0.9v5.6h-0.9zM193.6 216.5h0.8v5.9h-0.8zM169 216.8h0.8v4.9h-0.8zM215.8 217.1h0.7v4.3h-0.7zM180.5 218.5h1.1v3.7h-1.1zM251.9 217.3h0.5v2.6h-0.5zM180.2 214.8h0.9v7h-0.9zM288.8 218.7h0.5v2.2h-0.5zM334 216.9h0.6v4.2h-0.6zM271.2 218.9h0.7v3.4h-0.7zM362.4 214.9h0.8v2.4h-0.8zM253.7 219.6h0.4v3.4h-0.4zM174.8 218h0.6v4h-0.6zM403 217h0.9v5.3h-0.9zM258 215.8h0.5v5.4h-0.5zM154.2 214.4h0.8v4.7h-0.8zM259.1 217.8h0.4v5.9h-0.4zM407.9 216.4h0.7v4.1h-0.7zM156.9 216h0.5v5.9h-0.5zM263 215.3h0.9v3h-0.9zM251.6 217.2h0.5v6.7h-0.5zM297.9 221.1h0.6v2.8h-0.6zM230.2 214.2h0.8v5h-0.8zM291.3 219.2h0.5v4.5h-0.5zM349.9 215.6h0.9v5.8h-0.9zM339.7 217.1h0.7v6.1h-0.7zM263.4 215.2h0.5v6.4h-0.5zM242.4 216.7h0.5v6.7h-0.5zM175.5 217.8h0.4v3.6h-0.4zM419.9 217.3h0.7v4h-0.7zM213.3 218.8h0.7v4.8h-0.7z"/>
<path fill="#9C80E4" fill-opacity="0.5" d="M317.4 214h0.6v4.9h-0.6zM537.2 216.1h0.8v3.5h-0.8zM506.5 217.4h1v4.6h-1zM217.7 218.5h0.6v2.1h-0.6zM470.2 216.5h0.5v4.6h-0.5zM494.1 218.7h0.7v4.6h-0.7zM429.2 221.1h0.5v1.7h-0.5zM271.4 215.4h0.8v3.6h-0.8zM496.5 214.3h0.4v4.4h-0.4zM287 215.9h1v3.7h-1zM128.8 217.8h0.7v4.9h-0.7zM195.1 217.9h0.7v4.3h-0.7zM358.2 215.2h0.9v2.6h-0.9zM443.2 218.9h0.7v4.1h-0.7zM488.4 221.5h0.6v2.3h-0.6zM290.4 219.2h1v2.7h-1zM292 218.2h0.8v3.8h-0.8zM129.6 216.7h0.8v4.7h-0.8zM301.3 214h0.4v1.5h-0.4zM197.9 217.7h0.4v2.8h-0.4zM309.1 217.3h0.7v3.6h-0.7zM244.7 219.2h0.7v2.1h-0.7zM606.3 221.7h0.8v1.8h-0.8zM189 220.4h0.5v2.5h-0.5zM562.6 214h0.3v3.6h-0.3zM457.2 216.3h0.3v4.7h-0.3zM204.2 216.7h0.6v2h-0.6zM418.3 217.5h0.4v4.3h-0.4zM278.3 215h0.6v4h-0.6zM359.5 214.4h0.7v4.6h-0.7zM215.9 216h0.8v2h-0.8zM228.2 217.8h1v2.8h-1zM395.1 214.8h0.5v1.6h-0.5zM314.4 216.9h1v4.3h-1zM223.3 220.3h0.3v2.1h-0.3zM441.7 215.8h0.6v3.4h-0.6zM484.9 217.1h1v4.3h-1zM256.2 216.2h0.5v3.4h-0.5zM387.2 217.8h0.9v2.9h-0.9zM408.6 217.1h1v4.2h-1z"/>
<rect x="108" y="224" width="502" height="45" fill="#D656F8"/>
<rect x="108" y="269" width="502" height="9.5" fill="#40CD98"/>
<path fill="#A8EAD2" fill-opacity="0.7" d="M122.4 269h0.7v9.5h-0.7zM210.7 269h0.4v9.5h-0.4zM328.9 269h0.8v9.5h-0.8zM575.7 269h0.7v9.5h-0.7zM384.9 269h0.9v9.5h-0.9zM332.7 269h0.8v9.5h-0.8zM204.6 269h0.9v9.5h-0.9zM435.1 269h0.8v9.5h-0.8zM411.6 269h1v9.5h-1zM111.8 269h0.9v9.5h-0.9zM443.2 269h0.6v9.5h-0.6zM512.1 269h0.7v9.5h-0.7zM245.5 269h0.8v9.5h-0.8zM493.5 269h0.7v9.5h-0.7zM335 269h0.6v9.5h-0.6zM306.2 269h0.3v9.5h-0.3zM138.3 269h0.6v9.5h-0.6zM473 269h0.7v9.5h-0.7zM344 269h0.3v9.5h-0.3zM597 269h0.5v9.5h-0.5zM269.3 269h1v9.5h-1zM258.3 269h1v9.5h-1zM475.6 269h0.5v9.5h-0.5zM460.3 269h0.4v9.5h-0.4zM554.6 269h0.8v9.5h-0.8zM451.5 269h1v9.5h-1zM296 269h0.4v9.5h-0.4zM454.3 269h0.6v9.5h-0.6zM320.9 269h1v9.5h-1zM220.2 269h0.4v9.5h-0.4zM407 269h0.8v9.5h-0.8zM342.5 269h0.4v9.5h-0.4zM309.4 269h1v9.5h-1zM486.3 269h0.5v9.5h-0.5zM449.4 269h0.8v9.5h-0.8zM580.5 269h0.6v9.5h-0.6zM406.8 269h0.7v9.5h-0.7zM515.6 269h0.8v9.5h-0.8zM227.2 269h0.6v9.5h-0.6zM416 269h0.5v9.5h-0.5zM189.4 269h1.1v9.5h-1.1zM501.6 269h0.5v9.5h-0.5zM281.1 269h0.4v9.5h-0.4zM608.3 269h0.5v9.5h-0.5zM165.9 269h1v9.5h-1zM433 269h0.3v9.5h-0.3zM252.6 269h0.4v9.5h-0.4zM399 269h0.8v9.5h-0.8zM383.1 269h0.4v9.5h-0.4zM437.7 269h0.5v9.5h-0.5zM421.3 269h0.9v9.5h-0.9zM468 269h0.8v9.5h-0.8zM196.5 269h0.8v9.5h-0.8zM203.6 269h1.1v9.5h-1.1zM555.3 269h0.4v9.5h-0.4zM400.3 269h1v9.5h-1zM243.3 269h0.3v9.5h-0.3zM428.1 269h0.9v9.5h-0.9zM548.3 269h0.5v9.5h-0.5zM378.7 269h0.6v9.5h-0.6zM267.2 269h0.4v9.5h-0.4zM550.3 269h0.8v9.5h-0.8zM188.2 269h0.7v9.5h-0.7zM300.6 269h0.4v9.5h-0.4zM330 269h0.4v9.5h-0.4zM201.9 269h1.1v9.5h-1.1zM540 269h1v9.5h-1zM480.9 269h0.5v9.5h-0.5zM287.3 269h0.9v9.5h-0.9zM444.5 269h1v9.5h-1zM486.1 269h0.7v9.5h-0.7zM431 269h1v9.5h-1zM324.4 269h0.5v9.5h-0.5zM376.2 269h1v9.5h-1zM424.4 269h0.5v9.5h-0.5zM441.7 269h0.9v9.5h-0.9zM440.4 269h0.9v9.5h-0.9zM134.2 269h0.9v9.5h-0.9zM581.6 269h1v9.5h-1zM461.5 269h0.3v9.5h-0.3zM441.2 269h0.3v9.5h-0.3zM605.8 269h0.3v9.5h-0.3zM285.8 269h1v9.5h-1zM192.9 269h0.4v9.5h-0.4zM202.1 269h0.9v9.5h-0.9zM431.6 269h0.3v9.5h-0.3zM415.3 269h0.8v9.5h-0.8zM423 269h1v9.5h-1zM449 269h0.7v9.5h-0.7zM422.9 269h0.7v9.5h-0.7zM228.4 269h1.1v9.5h-1.1zM228.7 269h0.4v9.5h-0.4zM271.2 269h0.4v9.5h-0.4zM562.3 269h0.7v9.5h-0.7zM302 269h0.6v9.5h-0.6zM567.9 269h0.6v9.5h-0.6zM327.8 269h0.7v9.5h-0.7zM471.4 269h0.4v9.5h-0.4zM138.6 269h0.9v9.5h-0.9zM273 269h0.8v9.5h-0.8zM123.6 269h0.4v9.5h-0.4zM206.7 269h1v9.5h-1zM414.1 269h0.7v9.5h-0.7zM221.6 269h0.3v9.5h-0.3zM416.7 269h0.4v9.5h-0.4zM335.5 269h0.8v9.5h-0.8zM555.6 269h0.3v9.5h-0.3zM131.3 269h0.8v9.5h-0.8zM145 269h0.9v9.5h-0.9zM309.9 269h1v9.5h-1z"/>
<path fill="#22C98A" d="M505.9 269h0.9v9.5h-0.9zM520 269h0.6v9.5h-0.6zM159.4 269h0.6v9.5h-0.6zM267 269h0.8v9.5h-0.8zM209.4 269h1.1v9.5h-1.1zM606.6 269h0.9v9.5h-0.9zM432.2 269h0.8v9.5h-0.8zM261.5 269h0.5v9.5h-0.5zM361.5 269h0.4v9.5h-0.4zM192.7 269h1v9.5h-1zM392.4 269h0.8v9.5h-0.8zM454.6 269h0.8v9.5h-0.8zM326.8 269h0.9v9.5h-0.9zM590.3 269h0.4v9.5h-0.4zM327 269h0.7v9.5h-0.7zM367.2 269h0.7v9.5h-0.7zM479.1 269h0.8v9.5h-0.8zM512.8 269h0.8v9.5h-0.8zM204.4 269h1.1v9.5h-1.1zM463.5 269h1v9.5h-1zM267 269h1.1v9.5h-1.1zM167.4 269h0.4v9.5h-0.4zM133.8 269h0.7v9.5h-0.7zM286.5 269h1v9.5h-1zM161.1 269h1v9.5h-1zM137.2 269h0.6v9.5h-0.6zM327.7 269h1v9.5h-1zM338 269h0.4v9.5h-0.4zM374.8 269h0.4v9.5h-0.4zM405.9 269h1v9.5h-1zM148.8 269h0.6v9.5h-0.6zM363.1 269h0.4v9.5h-0.4zM286.7 269h1.1v9.5h-1.1zM192.5 269h0.8v9.5h-0.8zM358.6 269h0.8v9.5h-0.8zM525.9 269h0.7v9.5h-0.7zM491.7 269h1v9.5h-1zM485.3 269h0.7v9.5h-0.7zM212.9 269h0.9v9.5h-0.9zM204.6 269h0.3v9.5h-0.3zM247.1 269h0.3v9.5h-0.3zM329.8 269h0.7v9.5h-0.7zM442.9 269h0.5v9.5h-0.5zM551.2 269h0.5v9.5h-0.5zM150.7 269h1v9.5h-1zM374.4 269h0.8v9.5h-0.8zM193.6 269h0.4v9.5h-0.4zM215 269h0.6v9.5h-0.6zM234.9 269h0.9v9.5h-0.9zM185 269h0.7v9.5h-0.7zM578.5 269h0.6v9.5h-0.6zM490.9 269h1v9.5h-1zM496.7 269h0.9v9.5h-0.9zM223.9 269h0.8v9.5h-0.8zM136.6 269h0.5v9.5h-0.5zM447.9 269h0.6v9.5h-0.6zM110.2 269h0.3v9.5h-0.3zM452.2 269h0.8v9.5h-0.8zM510.7 269h0.7v9.5h-0.7zM476.7 269h1v9.5h-1z"/>
<path fill="#FFFFFF" fill-opacity="0.6" d="M181.6 273.6h0.6v3.4h-0.6zM390.7 272.2h1v3.7h-1zM248.2 271.2h0.7v1.9h-0.7zM371.9 272h0.3v1.3h-0.3zM165.5 274.4h0.7v1.9h-0.7zM135.9 271.6h1.1v2h-1.1zM493.5 274.4h1.1v2.4h-1.1zM141.9 274.9h0.6v2.4h-0.6zM315.3 272.7h0.6v2.4h-0.6zM149.1 270.5h0.7v2.2h-0.7zM419.3 276.9h0.3v1.5h-0.3zM285 273.9h0.9v3.7h-0.9zM507.3 270.5h0.4v3.4h-0.4zM606.9 271.9h0.3v2.9h-0.3zM241.3 269.5h0.6v3.1h-0.6zM482.1 275.9h0.5v2.3h-0.5zM609 271.3h1v3.4h-1zM418.4 274.5h0.9v1.8h-0.9zM195.9 274.6h0.8v3.7h-0.8zM534.7 270.5h0.5v2.8h-0.5z"/>
<path fill="#3B4AF0" fill-opacity="0.4" d="M315.8 274.1h0.9v1.9h-0.9zM342.1 274.2h1v3.4h-1zM582.7 269.6h0.9v3.8h-0.9zM202.2 270.3h0.4v3.3h-0.4zM267.8 271.2h0.6v2h-0.6zM248.2 269.9h1v2.2h-1zM584 270.8h0.4v4.5h-0.4zM407.7 271.7h0.8v4.4h-0.8zM153.3 272.7h0.6v2.6h-0.6zM379.3 270.8h1.1v3.2h-1.1zM367.4 269.8h0.6v1.9h-0.6zM439.6 271.2h0.4v2.2h-0.4zM319.8 273.5h1v2.3h-1zM421.4 274.5h1v3.6h-1zM330.2 269h0.3v3.3h-0.3zM581 273.1h0.5v3.1h-0.5zM164.6 275.5h0.6v2.6h-0.6zM183.4 273.3h1v3.7h-1zM513.5 271.7h0.7v4.6h-0.7zM284.9 272.8h0.3v1.8h-0.3z"/>
<rect x="108" y="278.5" width="502" height="4.5" fill="#B46AEE"/>
<path fill="#3B4AF0" fill-opacity="0.45" d="M452.6 278.5h0.4v4.5h-0.4zM138.7 278.5h0.9v4.5h-0.9zM144.3 278.5h0.3v4.5h-0.3zM406.5 278.5h1.1v4.5h-1.1zM416.2 278.5h1.1v4.5h-1.1zM223.9 278.5h0.9v4.5h-0.9zM386.2 278.5h0.6v4.5h-0.6zM400.1 278.5h0.9v4.5h-0.9zM186.6 278.5h0.8v4.5h-0.8zM531.5 278.5h0.3v4.5h-0.3zM122.7 278.5h1v4.5h-1zM441.7 278.5h0.7v4.5h-0.7zM125.6 278.5h0.9v4.5h-0.9zM507.7 278.5h0.6v4.5h-0.6zM432.7 278.5h0.9v4.5h-0.9zM127.1 278.5h0.7v4.5h-0.7zM200.5 278.5h0.8v4.5h-0.8zM249.6 278.5h0.4v4.5h-0.4zM397.2 278.5h0.4v4.5h-0.4zM405.8 278.5h0.7v4.5h-0.7zM490 278.5h0.5v4.5h-0.5zM547.1 278.5h0.7v4.5h-0.7zM516.7 278.5h0.8v4.5h-0.8zM174.6 278.5h0.5v4.5h-0.5zM276.8 278.5h0.7v4.5h-0.7zM282.9 278.5h0.9v4.5h-0.9zM466.7 278.5h0.3v4.5h-0.3zM570.5 278.5h0.9v4.5h-0.9zM394.6 278.5h1v4.5h-1zM115.3 278.5h0.7v4.5h-0.7zM485.7 278.5h1v4.5h-1zM255.8 278.5h1.1v4.5h-1.1zM421.8 278.5h1.1v4.5h-1.1zM384.7 278.5h1v4.5h-1zM397.7 278.5h0.7v4.5h-0.7zM540.2 278.5h0.9v4.5h-0.9zM385.3 278.5h0.7v4.5h-0.7zM345 278.5h0.6v4.5h-0.6zM313 278.5h0.8v4.5h-0.8zM157.6 278.5h1v4.5h-1zM513.3 278.5h0.5v4.5h-0.5zM460.5 278.5h0.8v4.5h-0.8zM402.9 278.5h0.3v4.5h-0.3zM606.9 278.5h0.5v4.5h-0.5zM547.1 278.5h1.1v4.5h-1.1zM504.7 278.5h0.6v4.5h-0.6zM133.9 278.5h0.3v4.5h-0.3zM490.5 278.5h1v4.5h-1zM550.8 278.5h0.9v4.5h-0.9zM247.4 278.5h1v4.5h-1zM399 278.5h0.9v4.5h-0.9zM159.9 278.5h1v4.5h-1zM282.7 278.5h0.7v4.5h-0.7zM474.2 278.5h0.6v4.5h-0.6zM462.1 278.5h1v4.5h-1zM577.7 278.5h0.3v4.5h-0.3zM484.1 278.5h1.1v4.5h-1.1zM542.4 278.5h0.8v4.5h-0.8zM200.1 278.5h0.4v4.5h-0.4zM408 278.5h0.9v4.5h-0.9zM415.2 278.5h0.3v4.5h-0.3zM203.8 278.5h1v4.5h-1zM138.6 278.5h0.6v4.5h-0.6zM243.3 278.5h0.6v4.5h-0.6zM570.1 278.5h1v4.5h-1zM334.9 278.5h0.4v4.5h-0.4zM212.4 278.5h0.3v4.5h-0.3zM314.8 278.5h1v4.5h-1zM328.7 278.5h0.4v4.5h-0.4zM204.2 278.5h0.4v4.5h-0.4z"/>
<path fill="#9C80E4" fill-opacity="0.6" d="M456.8 278.5h0.6v4.5h-0.6zM571.1 278.5h0.8v4.5h-0.8zM373.9 278.5h0.7v4.5h-0.7zM111.8 278.5h0.5v4.5h-0.5zM288.4 278.5h0.3v4.5h-0.3zM605.5 278.5h0.6v4.5h-0.6zM293.3 278.5h0.8v4.5h-0.8zM519.7 278.5h0.7v4.5h-0.7zM465.9 278.5h0.9v4.5h-0.9zM163.4 278.5h0.9v4.5h-0.9zM490.8 278.5h1v4.5h-1zM213.1 278.5h0.6v4.5h-0.6zM324.5 278.5h0.9v4.5h-0.9zM497.5 278.5h0.3v4.5h-0.3zM155.2 278.5h0.5v4.5h-0.5zM584.3 278.5h0.9v4.5h-0.9zM289.4 278.5h0.4v4.5h-0.4zM261.8 278.5h0.7v4.5h-0.7zM190.3 278.5h0.8v4.5h-0.8zM375.7 278.5h0.5v4.5h-0.5zM593.2 278.5h0.6v4.5h-0.6zM407.9 278.5h0.8v4.5h-0.8zM314 278.5h1.1v4.5h-1.1zM437.3 278.5h0.6v4.5h-0.6zM394 278.5h0.6v4.5h-0.6zM249.4 278.5h0.6v4.5h-0.6zM527 278.5h0.4v4.5h-0.4zM378.3 278.5h0.5v4.5h-0.5zM540.4 278.5h0.4v4.5h-0.4zM352.7 278.5h0.6v4.5h-0.6zM307 278.5h1v4.5h-1zM439.4 278.5h0.4v4.5h-0.4zM595.6 278.5h1v4.5h-1zM138.1 278.5h0.4v4.5h-0.4zM399.2 278.5h1.1v4.5h-1.1zM200.1 278.5h0.4v4.5h-0.4zM305.6 278.5h0.5v4.5h-0.5zM304.9 278.5h0.6v4.5h-0.6zM403 278.5h0.4v4.5h-0.4zM312.3 278.5h1v4.5h-1zM225.2 278.5h0.9v4.5h-0.9zM296.2 278.5h0.8v4.5h-0.8zM112.1 278.5h0.9v4.5h-0.9zM457.4 278.5h0.5v4.5h-0.5zM491.8 278.5h0.5v4.5h-0.5zM570.2 278.5h0.5v4.5h-0.5zM491 278.5h0.3v4.5h-0.3zM495 278.5h0.4v4.5h-0.4zM446.3 278.5h0.3v4.5h-0.3zM434.3 278.5h0.7v4.5h-0.7zM352.4 278.5h0.8v4.5h-0.8zM221.5 278.5h0.8v4.5h-0.8zM316.4 278.5h0.3v4.5h-0.3zM599.4 278.5h1.1v4.5h-1.1zM130.5 278.5h0.7v4.5h-0.7zM435.7 278.5h0.5v4.5h-0.5zM423.1 278.5h0.4v4.5h-0.4zM215.3 278.5h0.3v4.5h-0.3zM423.5 278.5h1.1v4.5h-1.1zM311.4 278.5h0.6v4.5h-0.6z"/>
<path fill="#D656F8" fill-opacity="0.8" d="M275.4 278.5h0.4v4.5h-0.4zM270 278.5h0.9v4.5h-0.9zM424.9 278.5h0.6v4.5h-0.6zM335.5 278.5h1v4.5h-1zM189.5 278.5h1v4.5h-1zM471.9 278.5h0.7v4.5h-0.7zM574 278.5h1v4.5h-1zM202.6 278.5h0.8v4.5h-0.8zM314.7 278.5h1v4.5h-1zM163.1 278.5h0.7v4.5h-0.7zM130 278.5h0.9v4.5h-0.9zM216.7 278.5h0.7v4.5h-0.7zM459.4 278.5h1v4.5h-1zM319.1 278.5h0.6v4.5h-0.6zM564.7 278.5h1v4.5h-1zM309.6 278.5h1v4.5h-1zM566.4 278.5h0.5v4.5h-0.5zM536.8 278.5h0.3v4.5h-0.3zM332.1 278.5h0.3v4.5h-0.3zM392.5 278.5h0.9v4.5h-0.9zM456.6 278.5h0.7v4.5h-0.7zM124.4 278.5h0.4v4.5h-0.4zM586.2 278.5h0.8v4.5h-0.8zM339.4 278.5h0.3v4.5h-0.3zM383.4 278.5h1v4.5h-1zM221.4 278.5h0.7v4.5h-0.7zM364.1 278.5h0.8v4.5h-0.8zM405.2 278.5h1v4.5h-1zM594.6 278.5h0.9v4.5h-0.9zM464.9 278.5h0.7v4.5h-0.7zM275.6 278.5h0.9v4.5h-0.9zM214.8 278.5h0.5v4.5h-0.5zM437 278.5h1v4.5h-1zM190.9 278.5h0.5v4.5h-0.5zM147.5 278.5h0.5v4.5h-0.5zM577.4 278.5h0.4v4.5h-0.4zM486 278.5h0.9v4.5h-0.9zM237.5 278.5h0.6v4.5h-0.6zM178.8 278.5h0.8v4.5h-0.8zM228 278.5h0.4v4.5h-0.4zM373.4 278.5h0.4v4.5h-0.4zM138.2 278.5h0.7v4.5h-0.7zM129.8 278.5h1.1v4.5h-1.1zM387.5 278.5h0.8v4.5h-0.8zM347.6 278.5h0.6v4.5h-0.6zM405.2 278.5h0.4v4.5h-0.4zM464.9 278.5h1v4.5h-1zM360.9 278.5h0.9v4.5h-0.9zM486.3 278.5h0.8v4.5h-0.8zM237.7 278.5h0.9v4.5h-0.9z"/>
<rect x="108" y="283" width="502" height="55.8" fill="#D656F8"/>
<path fill="#9C80E4" d="M147.1 310h0.9v2.8h-0.9zM160.2 286.5h0.8v2.1h-0.8zM184.2 315.3h0.5v5.5h-0.5zM152.3 334.3h0.8v4.4h-0.8zM182.1 320.4h1v5.6h-1zM160.2 295.8h0.5v5.1h-0.5zM154.9 289h0.8v2.3h-0.8zM173.2 321.9h0.7v4.5h-0.7zM188.9 299.9h0.6v2.1h-0.6zM188 306h0.4v4.6h-0.4zM177.8 312.4h1v3.6h-1zM149.3 296.1h0.4v2.1h-0.4zM144.6 328.2h1.1v1.8h-1.1zM133.7 298.7h1.1v4.3h-1.1zM167.4 290.4h0.9v4.9h-0.9zM185.3 286.6h0.9v5.3h-0.9zM186.2 324h0.9v2.4h-0.9zM172.5 296.6h0.6v4.3h-0.6zM139.7 292.4h0.6v5h-0.6zM144.3 330.8h0.7v4.1h-0.7z"/>
<rect x="108" y="338.8" width="502" height="7.7" fill="url(#g3)"/>
<path fill="#A8EAD2" fill-opacity="0.7" d="M547.7 338.8h0.5v7.7h-0.5zM501.9 338.8h0.8v7.7h-0.8zM598 338.8h1v7.7h-1zM541.8 338.8h0.5v7.7h-0.5zM585.4 338.8h0.5v7.7h-0.5zM593.5 338.8h0.5v7.7h-0.5zM472.8 338.8h0.3v7.7h-0.3zM519.8 338.8h0.6v7.7h-0.6zM564.9 338.8h1v7.7h-1zM518.5 338.8h1v7.7h-1zM609.2 338.8h0.6v7.7h-0.6zM477.9 338.8h0.4v7.7h-0.4zM491.9 338.8h0.6v7.7h-0.6zM608.6 338.8h0.5v7.7h-0.5zM474.9 338.8h1.1v7.7h-1.1zM546.1 338.8h0.8v7.7h-0.8zM579.6 338.8h0.7v7.7h-0.7zM574.4 338.8h0.8v7.7h-0.8zM464 338.8h0.3v7.7h-0.3zM572.9 338.8h0.3v7.7h-0.3zM573.7 338.8h0.6v7.7h-0.6zM596.3 338.8h0.3v7.7h-0.3zM457.9 338.8h1v7.7h-1zM482.1 338.8h0.9v7.7h-0.9zM480.9 338.8h0.8v7.7h-0.8zM481.8 338.8h0.7v7.7h-0.7zM566.5 338.8h0.8v7.7h-0.8zM587.8 338.8h0.6v7.7h-0.6zM537.2 338.8h0.8v7.7h-0.8zM597.6 338.8h0.8v7.7h-0.8zM453.7 338.8h0.7v7.7h-0.7zM452.1 338.8h0.6v7.7h-0.6zM594.5 338.8h0.6v7.7h-0.6zM515.8 338.8h1v7.7h-1zM562.6 338.8h0.4v7.7h-0.4zM607.9 338.8h0.8v7.7h-0.8zM590.4 338.8h1v7.7h-1zM609 338.8h0.4v7.7h-0.4zM461.2 338.8h0.3v7.7h-0.3zM530.6 338.8h0.3v7.7h-0.3z"/>
<rect x="108" y="346.5" width="502" height="12.5" fill="#FFFFFF"/>
<path fill="#A8EAD2" fill-opacity="0.75" d="M487.3 346.5h0.4v12.5h-0.4zM505.1 346.5h0.5v12.5h-0.5zM347 346.5h0.3v12.5h-0.3zM183 346.5h0.3v12.5h-0.3zM407.2 346.5h0.3v12.5h-0.3zM166.5 346.5h0.6v12.5h-0.6zM592.9 346.5h0.7v12.5h-0.7zM400.4 346.5h0.5v12.5h-0.5zM111.4 346.5h0.3v12.5h-0.3zM374.5 346.5h1.1v12.5h-1.1zM427.5 346.5h0.5v12.5h-0.5zM290.7 346.5h1.1v12.5h-1.1zM215 346.5h1v12.5h-1zM323.3 346.5h0.9v12.5h-0.9zM360.2 346.5h0.3v12.5h-0.3zM173 346.5h0.9v12.5h-0.9zM421.5 346.5h0.8v12.5h-0.8zM578.4 346.5h1v12.5h-1zM306.9 346.5h1.1v12.5h-1.1zM356.4 346.5h0.8v12.5h-0.8zM183.1 346.5h0.9v12.5h-0.9zM233.8 346.5h0.3v12.5h-0.3zM375.3 346.5h0.4v12.5h-0.4zM578.2 346.5h1.1v12.5h-1.1zM485.2 346.5h0.4v12.5h-0.4zM352.8 346.5h0.6v12.5h-0.6zM553.7 346.5h0.9v12.5h-0.9zM257.4 346.5h1v12.5h-1zM194.5 346.5h0.5v12.5h-0.5zM122.6 346.5h0.5v12.5h-0.5zM479.8 346.5h0.4v12.5h-0.4zM256.3 346.5h0.9v12.5h-0.9zM157.6 346.5h1v12.5h-1zM218.8 346.5h0.9v12.5h-0.9zM289.5 346.5h0.7v12.5h-0.7zM270.1 346.5h0.7v12.5h-0.7zM332.2 346.5h0.6v12.5h-0.6zM371.9 346.5h0.4v12.5h-0.4zM408.6 346.5h0.5v12.5h-0.5zM341.5 346.5h0.6v12.5h-0.6zM156.9 346.5h0.6v12.5h-0.6zM422 346.5h0.3v12.5h-0.3zM195.2 346.5h1v12.5h-1zM324.2 346.5h0.3v12.5h-0.3zM475.3 346.5h0.8v12.5h-0.8zM408.3 346.5h0.3v12.5h-0.3zM609.6 346.5h0.3v12.5h-0.3zM435.8 346.5h0.7v12.5h-0.7zM530.6 346.5h0.7v12.5h-0.7zM335.1 346.5h0.9v12.5h-0.9zM146.8 346.5h0.9v12.5h-0.9zM565.5 346.5h0.6v12.5h-0.6zM355 346.5h0.6v12.5h-0.6zM304.5 346.5h0.8v12.5h-0.8zM394.2 346.5h0.9v12.5h-0.9zM429.8 346.5h0.4v12.5h-0.4zM492.4 346.5h0.7v12.5h-0.7zM185.8 346.5h1v12.5h-1zM216 346.5h0.9v12.5h-0.9zM280.5 346.5h0.9v12.5h-0.9zM428.6 346.5h0.4v12.5h-0.4zM407.1 346.5h0.8v12.5h-0.8zM355.4 346.5h1v12.5h-1zM126.9 346.5h0.8v12.5h-0.8zM157 346.5h0.7v12.5h-0.7zM186.9 346.5h1v12.5h-1zM284.6 346.5h0.6v12.5h-0.6zM201.2 346.5h0.8v12.5h-0.8zM215.4 346.5h0.8v12.5h-0.8zM378.9 346.5h0.4v12.5h-0.4zM186.5 346.5h0.4v12.5h-0.4zM130.2 346.5h0.8v12.5h-0.8zM369.4 346.5h0.8v12.5h-0.8zM400.6 346.5h1v12.5h-1zM450.2 346.5h1.1v12.5h-1.1zM448.2 346.5h0.9v12.5h-0.9zM387.4 346.5h0.4v12.5h-0.4zM388.4 346.5h0.5v12.5h-0.5zM317.6 346.5h0.8v12.5h-0.8zM191.3 346.5h0.6v12.5h-0.6zM508.3 346.5h1v12.5h-1zM487.1 346.5h0.4v12.5h-0.4zM293 346.5h1v12.5h-1zM537.1 346.5h0.8v12.5h-0.8zM561 346.5h1v12.5h-1zM505.1 346.5h1v12.5h-1zM318.2 346.5h1v12.5h-1zM186.5 346.5h0.8v12.5h-0.8zM422 346.5h0.7v12.5h-0.7zM243.4 346.5h0.8v12.5h-0.8zM361.7 346.5h0.8v12.5h-0.8zM486.7 346.5h0.7v12.5h-0.7zM350.1 346.5h0.9v12.5h-0.9zM545.5 346.5h0.9v12.5h-0.9zM531.2 346.5h0.9v12.5h-0.9zM601.1 346.5h0.5v12.5h-0.5zM177.7 346.5h0.4v12.5h-0.4zM458 346.5h0.4v12.5h-0.4zM136.6 346.5h1v12.5h-1zM389.6 346.5h0.3v12.5h-0.3zM358 346.5h0.7v12.5h-0.7zM120.1 346.5h0.7v12.5h-0.7zM250.2 346.5h0.9v12.5h-0.9zM348.3 346.5h1v12.5h-1zM264 346.5h0.8v12.5h-0.8zM536.2 346.5h1.1v12.5h-1.1zM226.1 346.5h1.1v12.5h-1.1zM142.6 346.5h1.1v12.5h-1.1zM468.6 346.5h0.5v12.5h-0.5zM507.1 346.5h0.4v12.5h-0.4zM491.7 346.5h0.4v12.5h-0.4zM287.7 346.5h0.4v12.5h-0.4zM480.7 346.5h1.1v12.5h-1.1zM160.6 346.5h1.1v12.5h-1.1zM206.8 346.5h0.5v12.5h-0.5zM426.2 346.5h0.3v12.5h-0.3zM274.9 346.5h1v12.5h-1zM297.4 346.5h0.6v12.5h-0.6zM414.6 346.5h0.9v12.5h-0.9zM487.8 346.5h0.7v12.5h-0.7zM450.7 346.5h0.6v12.5h-0.6zM499.2 346.5h0.3v12.5h-0.3zM364.2 346.5h0.4v12.5h-0.4zM118.1 346.5h1v12.5h-1zM232.4 346.5h0.9v12.5h-0.9zM601.4 346.5h0.8v12.5h-0.8zM473.5 346.5h1.1v12.5h-1.1zM429.1 346.5h1.1v12.5h-1.1zM296.6 346.5h1v12.5h-1zM371.4 346.5h1.1v12.5h-1.1zM206.9 346.5h0.5v12.5h-0.5zM265.2 346.5h0.9v12.5h-0.9zM471.8 346.5h0.9v12.5h-0.9zM239.6 346.5h0.6v12.5h-0.6zM267.4 346.5h1v12.5h-1zM208.4 346.5h0.8v12.5h-0.8zM339.5 346.5h0.4v12.5h-0.4zM297.3 346.5h0.6v12.5h-0.6zM227.5 346.5h0.7v12.5h-0.7zM473.7 346.5h1.1v12.5h-1.1z"/>
<path fill="#A8EAD2" fill-opacity="0.9" d="M597.8 346.5h0.6v12.5h-0.6zM557.3 346.5h1v12.5h-1zM404.6 346.5h0.7v12.5h-0.7zM509.7 346.5h0.9v12.5h-0.9zM508.5 346.5h0.7v12.5h-0.7zM513.1 346.5h0.3v12.5h-0.3zM443.4 346.5h0.4v12.5h-0.4zM587 346.5h1.1v12.5h-1.1zM350.5 346.5h0.5v12.5h-0.5zM350.5 346.5h0.5v12.5h-0.5zM421.6 346.5h1.1v12.5h-1.1zM358.4 346.5h0.8v12.5h-0.8zM304.2 346.5h0.8v12.5h-0.8zM529.9 346.5h0.5v12.5h-0.5zM471.8 346.5h0.4v12.5h-0.4zM580.3 346.5h0.6v12.5h-0.6zM476.6 346.5h1.1v12.5h-1.1zM311.9 346.5h0.5v12.5h-0.5zM446.7 346.5h1.1v12.5h-1.1zM367 346.5h0.6v12.5h-0.6zM451 346.5h0.7v12.5h-0.7zM520.1 346.5h0.5v12.5h-0.5zM349.9 346.5h0.6v12.5h-0.6zM569.9 346.5h1v12.5h-1zM551.8 346.5h0.5v12.5h-0.5zM426 346.5h0.7v12.5h-0.7zM521.8 346.5h0.6v12.5h-0.6zM300.4 346.5h0.5v12.5h-0.5zM409.1 346.5h0.4v12.5h-0.4zM311.7 346.5h0.7v12.5h-0.7zM359.2 346.5h0.8v12.5h-0.8zM397.9 346.5h0.8v12.5h-0.8zM456.7 346.5h0.5v12.5h-0.5zM548.9 346.5h1v12.5h-1zM463.3 346.5h0.8v12.5h-0.8zM379.3 346.5h1.1v12.5h-1.1zM345.1 346.5h0.3v12.5h-0.3zM534.8 346.5h0.9v12.5h-0.9zM483.5 346.5h0.5v12.5h-0.5zM354.3 346.5h0.4v12.5h-0.4zM353.4 346.5h0.6v12.5h-0.6zM479.6 346.5h0.3v12.5h-0.3zM479.8 346.5h1v12.5h-1zM552.7 346.5h1v12.5h-1zM536 346.5h0.5v12.5h-0.5zM324.7 346.5h0.9v12.5h-0.9zM443.8 346.5h1v12.5h-1zM352.9 346.5h1v12.5h-1zM602.1 346.5h0.3v12.5h-0.3zM428.3 346.5h1v12.5h-1zM480.8 346.5h0.8v12.5h-0.8zM356.2 346.5h0.4v12.5h-0.4zM478 346.5h1v12.5h-1zM519.4 346.5h0.5v12.5h-0.5zM460.8 346.5h0.3v12.5h-0.3zM554.6 346.5h1.1v12.5h-1.1zM535.3 346.5h0.7v12.5h-0.7zM361.6 346.5h0.7v12.5h-0.7zM423.7 346.5h0.8v12.5h-0.8zM524.5 346.5h1.1v12.5h-1.1zM415.2 346.5h0.7v12.5h-0.7zM447.4 346.5h0.3v12.5h-0.3zM403.1 346.5h0.9v12.5h-0.9zM376.4 346.5h0.4v12.5h-0.4zM422.3 346.5h0.5v12.5h-0.5zM392.9 346.5h0.6v12.5h-0.6zM574.2 346.5h0.5v12.5h-0.5zM523.2 346.5h0.4v12.5h-0.4zM467.1 346.5h0.8v12.5h-0.8zM448 346.5h0.6v12.5h-0.6zM521.8 346.5h0.3v12.5h-0.3zM493.9 346.5h0.5v12.5h-0.5zM316 346.5h0.7v12.5h-0.7zM431.8 346.5h0.3v12.5h-0.3zM387.1 346.5h0.5v12.5h-0.5zM344.9 346.5h0.9v12.5h-0.9zM422.5 346.5h0.7v12.5h-0.7zM518 346.5h0.9v12.5h-0.9zM537.2 346.5h0.6v12.5h-0.6zM451.3 346.5h0.8v12.5h-0.8z"/>
<path fill="#22C98A" fill-opacity="0.35" d="M316.9 346.5h0.4v12.5h-0.4zM148.7 346.5h0.4v12.5h-0.4zM115.4 346.5h1.1v12.5h-1.1zM149.6 346.5h0.7v12.5h-0.7zM394 346.5h0.4v12.5h-0.4zM372.7 346.5h0.7v12.5h-0.7zM562.5 346.5h0.4v12.5h-0.4zM599.6 346.5h0.4v12.5h-0.4zM162.5 346.5h0.3v12.5h-0.3zM495.2 346.5h0.6v12.5h-0.6zM475.7 346.5h0.8v12.5h-0.8zM177.8 346.5h0.5v12.5h-0.5zM271.9 346.5h1.1v12.5h-1.1zM560.4 346.5h0.7v12.5h-0.7zM426.6 346.5h0.7v12.5h-0.7zM580.7 346.5h0.7v12.5h-0.7zM399.1 346.5h1v12.5h-1zM184.3 346.5h0.3v12.5h-0.3zM574.8 346.5h0.5v12.5h-0.5zM354.5 346.5h1.1v12.5h-1.1zM207 346.5h0.6v12.5h-0.6zM281 346.5h0.7v12.5h-0.7zM549.8 346.5h1v12.5h-1zM219.1 346.5h0.5v12.5h-0.5zM422 346.5h0.3v12.5h-0.3z"/>
<rect x="108" y="359" width="502" height="6" fill="url(#g4)"/>
<path fill="#FFFFFF" fill-opacity="0.6" d="M186.1 359h0.7v6h-0.7zM468.5 359h0.7v6h-0.7zM243 359h0.4v6h-0.4zM143.1 359h0.6v6h-0.6zM207.8 359h0.6v6h-0.6zM313.5 359h0.5v6h-0.5zM368.9 359h1v6h-1zM297.3 359h0.3v6h-0.3zM484.3 359h0.5v6h-0.5zM311.6 359h0.9v6h-0.9zM246.7 359h0.9v6h-0.9zM196.2 359h0.9v6h-0.9zM283.3 359h0.8v6h-0.8zM602.5 359h0.8v6h-0.8zM295.4 359h0.6v6h-0.6zM292.7 359h0.4v6h-0.4zM134.9 359h0.5v6h-0.5zM415.7 359h0.6v6h-0.6zM387.4 359h0.8v6h-0.8zM577.1 359h0.5v6h-0.5zM389 359h0.6v6h-0.6zM546.6 359h0.6v6h-0.6zM547.7 359h0.4v6h-0.4zM199.9 359h0.6v6h-0.6zM454 359h0.7v6h-0.7zM422.3 359h0.8v6h-0.8zM204.4 359h0.6v6h-0.6zM531.7 359h0.9v6h-0.9zM323.1 359h1v6h-1zM328.4 359h0.6v6h-0.6zM147.9 359h0.5v6h-0.5zM164.1 359h0.3v6h-0.3zM539.6 359h0.3v6h-0.3zM498.6 359h1v6h-1zM228.3 359h0.8v6h-0.8zM444.3 359h0.5v6h-0.5zM525.5 359h0.3v6h-0.3zM490.6 359h0.8v6h-0.8zM460.2 359h0.4v6h-0.4zM333.9 359h1.1v6h-1.1z"/>
<rect x="108" y="365" width="502" height="5" fill="url(#g5)"/>
<path fill="#A8EAD2" fill-opacity="0.6" d="M273.3 365h0.9v5h-0.9zM520.3 365h0.3v5h-0.3zM260.5 365h0.7v5h-0.7zM188 365h0.8v5h-0.8zM213.3 365h0.5v5h-0.5zM403.4 365h0.8v5h-0.8zM251.9 365h0.5v5h-0.5zM384.9 365h1.1v5h-1.1zM555 365h0.4v5h-0.4zM372.2 365h0.8v5h-0.8zM587.5 365h1.1v5h-1.1zM259.6 365h0.6v5h-0.6zM224.4 365h0.4v5h-0.4zM194.1 365h1.1v5h-1.1zM380.5 365h0.5v5h-0.5zM217.3 365h0.4v5h-0.4zM461.2 365h0.4v5h-0.4zM518.8 365h0.9v5h-0.9zM165.9 365h0.5v5h-0.5zM113.3 365h0.6v5h-0.6zM597.7 365h1v5h-1zM136.3 365h0.8v5h-0.8zM174.2 365h0.6v5h-0.6zM547.2 365h0.5v5h-0.5zM344.3 365h0.8v5h-0.8zM221.1 365h1.1v5h-1.1zM370.9 365h0.6v5h-0.6zM339.2 365h0.8v5h-0.8zM249.3 365h0.8v5h-0.8zM365.5 365h0.9v5h-0.9zM560.4 365h0.4v5h-0.4zM375.2 365h0.8v5h-0.8zM368.3 365h0.7v5h-0.7zM195.4 365h0.3v5h-0.3zM546.7 365h0.7v5h-0.7zM415.2 365h1.1v5h-1.1zM271.4 365h1v5h-1zM426.4 365h0.9v5h-0.9zM609.6 365h0.4v5h-0.4zM511 365h0.7v5h-0.7z"/>
<rect x="108" y="370" width="502" height="8" fill="url(#g6)"/>
<path fill="#6CD8B2" fill-opacity="0.7" d="M599.7 370h0.5v8h-0.5zM212.9 370h0.7v8h-0.7zM514.1 370h0.6v8h-0.6zM468.5 370h1v8h-1zM199.5 370h0.3v8h-0.3zM126.2 370h0.7v8h-0.7zM168.4 370h0.5v8h-0.5zM538.5 370h0.8v8h-0.8zM508.8 370h0.6v8h-0.6zM214.3 370h1v8h-1zM189.4 370h0.5v8h-0.5zM543.2 370h0.9v8h-0.9zM289.9 370h0.3v8h-0.3zM215 370h0.4v8h-0.4zM432.1 370h0.5v8h-0.5zM114.2 370h0.6v8h-0.6zM587.2 370h0.8v8h-0.8zM553.2 370h1v8h-1zM410.2 370h0.8v8h-0.8zM484.4 370h0.9v8h-0.9zM534.4 370h0.3v8h-0.3zM311 370h1.1v8h-1.1zM508.1 370h0.6v8h-0.6zM260.9 370h0.5v8h-0.5zM416.2 370h1v8h-1zM122.8 370h0.3v8h-0.3zM337.8 370h0.6v8h-0.6zM381.7 370h1v8h-1zM503.2 370h1v8h-1zM408.4 370h0.9v8h-0.9zM568.3 370h0.8v8h-0.8zM177.8 370h0.9v8h-0.9zM460.3 370h0.9v8h-0.9zM423.9 370h0.6v8h-0.6zM301.4 370h0.3v8h-0.3zM342.9 370h1.1v8h-1.1zM115.9 370h1v8h-1zM577.8 370h0.5v8h-0.5zM311.2 370h1v8h-1zM412.9 370h0.4v8h-0.4zM146.7 370h0.5v8h-0.5zM524.4 370h0.8v8h-0.8zM574.9 370h0.9v8h-0.9zM534.8 370h0.6v8h-0.6zM470.2 370h0.5v8h-0.5zM155.2 370h0.8v8h-0.8zM537.2 370h1.1v8h-1.1zM282.1 370h1v8h-1zM609.3 370h0.6v8h-0.6zM315.1 370h0.8v8h-0.8zM145.6 370h0.9v8h-0.9zM424.4 370h0.8v8h-0.8zM544.4 370h0.8v8h-0.8zM267.9 370h0.5v8h-0.5zM591.5 370h0.6v8h-0.6zM447.5 370h0.6v8h-0.6zM207 370h1.1v8h-1.1zM270 370h0.7v8h-0.7zM567.7 370h1.1v8h-1.1zM153 370h0.5v8h-0.5zM333.3 370h0.8v8h-0.8zM206.8 370h0.6v8h-0.6zM328.5 370h1v8h-1zM258.5 370h0.7v8h-0.7zM143.6 370h0.7v8h-0.7zM172.4 370h0.6v8h-0.6zM301.9 370h1v8h-1zM444.1 370h0.4v8h-0.4zM237 370h0.5v8h-0.5zM464.9 370h0.6v8h-0.6zM417.9 370h0.9v8h-0.9zM259.3 370h0.7v8h-0.7zM532.2 370h0.6v8h-0.6zM604.4 370h0.4v8h-0.4zM358.1 370h1v8h-1zM124.3 370h0.6v8h-0.6zM455.6 370h0.6v8h-0.6zM553.1 370h0.4v8h-0.4zM533.9 370h0.6v8h-0.6zM524.5 370h0.6v8h-0.6zM300.9 370h0.4v8h-0.4zM199.6 370h0.8v8h-0.8zM215.4 370h0.4v8h-0.4zM475.3 370h0.9v8h-0.9zM218.4 370h0.6v8h-0.6zM456.7 370h0.6v8h-0.6zM408.3 370h0.4v8h-0.4zM441.9 370h1.1v8h-1.1zM510.8 370h0.5v8h-0.5zM232.2 370h0.9v8h-0.9z"/>
<path fill="#22C98A" fill-opacity="0.8" d="M541.5 370h0.4v8h-0.4zM598.3 370h0.5v8h-0.5zM327.4 370h0.9v8h-0.9zM540.1 370h0.6v8h-0.6zM581.2 370h0.6v8h-0.6zM150.4 370h0.4v8h-0.4zM590.3 370h0.5v8h-0.5zM285.6 370h1v8h-1zM395.5 370h1.1v8h-1.1zM515.3 370h0.4v8h-0.4zM335.4 370h0.9v8h-0.9zM485 370h1.1v8h-1.1zM122.1 370h0.5v8h-0.5zM261.2 370h0.4v8h-0.4zM558.2 370h0.5v8h-0.5zM340.3 370h0.5v8h-0.5zM122.3 370h0.9v8h-0.9zM528.4 370h0.7v8h-0.7zM334.7 370h0.8v8h-0.8zM325.1 370h0.6v8h-0.6zM585.2 370h0.4v8h-0.4zM550 370h0.8v8h-0.8zM307.1 370h0.4v8h-0.4zM532.1 370h0.9v8h-0.9zM285.3 370h0.6v8h-0.6zM352.5 370h1v8h-1zM431 370h1v8h-1zM178.8 370h0.5v8h-0.5zM477.2 370h0.3v8h-0.3zM607.6 370h0.9v8h-0.9zM567 370h0.7v8h-0.7zM280.6 370h1v8h-1zM152.9 370h0.5v8h-0.5zM457.5 370h0.8v8h-0.8zM383.2 370h0.9v8h-0.9zM234.9 370h0.9v8h-0.9zM156.1 370h0.9v8h-0.9zM590.8 370h0.6v8h-0.6zM532.7 370h0.7v8h-0.7zM185.9 370h0.7v8h-0.7zM222.3 370h0.6v8h-0.6zM386.1 370h0.9v8h-0.9zM172.4 370h0.7v8h-0.7zM306.4 370h0.9v8h-0.9zM520.6 370h1.1v8h-1.1zM535.9 370h0.3v8h-0.3zM465.2 370h0.3v8h-0.3zM583.7 370h0.6v8h-0.6zM129.4 370h0.7v8h-0.7zM471.9 370h0.7v8h-0.7z"/>
<rect x="108" y="378" width="502" height="5" fill="#6CD8B2"/>
<path fill="#22C98A" fill-opacity="0.8" d="M361.1 378h0.7v5h-0.7zM310.9 378h0.9v5h-0.9zM235.2 378h0.4v5h-0.4zM580.2 378h0.9v5h-0.9zM266.6 378h0.8v5h-0.8zM135.4 378h0.8v5h-0.8zM269.6 378h0.5v5h-0.5zM323.1 378h0.5v5h-0.5zM250.3 378h0.3v5h-0.3zM214.8 378h0.6v5h-0.6zM259 378h0.6v5h-0.6zM352.8 378h0.8v5h-0.8zM496.7 378h0.3v5h-0.3zM333.1 378h1v5h-1zM321.9 378h0.9v5h-0.9zM217.4 378h0.6v5h-0.6zM327.6 378h1.1v5h-1.1zM437.7 378h0.9v5h-0.9zM385.2 378h0.8v5h-0.8zM119.6 378h0.5v5h-0.5zM483.2 378h0.6v5h-0.6zM128.2 378h0.9v5h-0.9zM140.7 378h0.8v5h-0.8zM153.7 378h1v5h-1zM222.8 378h0.4v5h-0.4zM172.8 378h0.6v5h-0.6zM242.3 378h0.7v5h-0.7zM399.6 378h0.3v5h-0.3zM491.1 378h0.5v5h-0.5zM166.4 378h0.8v5h-0.8zM248.5 378h1v5h-1zM566.5 378h0.7v5h-0.7zM377.5 378h0.8v5h-0.8zM208.7 378h0.9v5h-0.9zM193.3 378h0.8v5h-0.8zM605.3 378h1.1v5h-1.1zM143.1 378h1v5h-1zM249.5 378h1v5h-1zM574.6 378h0.5v5h-0.5zM301.1 378h0.9v5h-0.9zM293.2 378h1v5h-1zM289.8 378h0.7v5h-0.7zM172.2 378h0.9v5h-0.9zM188.1 378h0.8v5h-0.8zM109.1 378h0.4v5h-0.4zM208.9 378h0.7v5h-0.7zM133.1 378h0.9v5h-0.9zM173 378h0.7v5h-0.7zM156.2 378h0.6v5h-0.6zM298.3 378h0.9v5h-0.9zM411.3 378h0.4v5h-0.4zM363.7 378h0.5v5h-0.5zM396.7 378h0.9v5h-0.9zM275.6 378h1v5h-1zM465.2 378h0.8v5h-0.8zM151 378h0.9v5h-0.9zM434.7 378h1v5h-1zM205 378h0.9v5h-0.9zM579 378h0.7v5h-0.7zM595.6 378h0.3v5h-0.3zM515.3 378h0.9v5h-0.9zM573.8 378h1v5h-1zM160.4 378h0.8v5h-0.8zM118.8 378h1v5h-1zM384.5 378h1v5h-1zM408.1 378h0.5v5h-0.5zM567.8 378h1v5h-1zM119.5 378h0.5v5h-0.5zM194.8 378h1v5h-1zM168.7 378h0.6v5h-0.6zM440.6 378h0.8v5h-0.8zM263 378h0.8v5h-0.8zM216.6 378h0.3v5h-0.3zM225.2 378h0.6v5h-0.6zM225.5 378h0.4v5h-0.4zM110.5 378h0.7v5h-0.7zM354.9 378h1.1v5h-1.1zM182.1 378h1v5h-1zM341.2 378h0.9v5h-0.9zM456.9 378h0.8v5h-0.8zM412.8 378h0.8v5h-0.8zM317.1 378h1v5h-1zM562.5 378h0.9v5h-0.9zM295.4 378h0.7v5h-0.7zM111.3 378h0.6v5h-0.6zM158.2 378h0.6v5h-0.6zM130.6 378h1v5h-1zM557 378h0.4v5h-0.4zM449.7 378h0.5v5h-0.5zM468.7 378h0.4v5h-0.4z"/>
<path fill="#A8EAD2" d="M608.5 378h0.8v5h-0.8zM127.9 378h0.8v5h-0.8zM265.1 378h0.7v5h-0.7zM445.3 378h0.9v5h-0.9zM257.6 378h0.5v5h-0.5zM247.3 378h0.7v5h-0.7zM297.2 378h0.5v5h-0.5zM530.9 378h0.6v5h-0.6zM262.9 378h0.8v5h-0.8zM397.3 378h0.5v5h-0.5zM408.6 378h0.4v5h-0.4zM357 378h1.1v5h-1.1zM594.4 378h0.9v5h-0.9zM295 378h0.7v5h-0.7zM397.1 378h0.7v5h-0.7zM408.2 378h1v5h-1zM347.4 378h1v5h-1zM267.5 378h1v5h-1zM367.9 378h0.5v5h-0.5zM565.8 378h1v5h-1zM286.2 378h0.7v5h-0.7zM364.9 378h0.4v5h-0.4zM556.4 378h0.8v5h-0.8zM490 378h0.8v5h-0.8zM211.6 378h0.3v5h-0.3zM427.2 378h0.5v5h-0.5zM338.7 378h0.6v5h-0.6zM530.8 378h0.6v5h-0.6zM197.9 378h0.5v5h-0.5zM318 378h0.7v5h-0.7zM363.6 378h0.4v5h-0.4zM400.8 378h0.3v5h-0.3zM341.9 378h1v5h-1zM381.9 378h0.4v5h-0.4zM114.5 378h0.6v5h-0.6zM516.2 378h0.5v5h-0.5zM281.3 378h1v5h-1zM328.2 378h0.8v5h-0.8zM353.5 378h0.7v5h-0.7zM355.9 378h0.8v5h-0.8z"/>
<rect x="108" y="383" width="502" height="3" fill="#FFFFFF"/>
<path fill="#A8EAD2" fill-opacity="0.6" d="M395.4 383h0.4v3h-0.4zM278.9 383h0.7v3h-0.7zM450.8 383h0.6v3h-0.6zM306 383h0.4v3h-0.4zM176.7 383h0.8v3h-0.8zM118 383h0.4v3h-0.4zM418.7 383h1v3h-1zM571.6 383h0.6v3h-0.6zM466.8 383h0.6v3h-0.6zM373.4 383h0.6v3h-0.6zM165.8 383h0.8v3h-0.8zM289.9 383h0.3v3h-0.3zM214.7 383h0.9v3h-0.9zM147.3 383h0.8v3h-0.8zM285.8 383h0.4v3h-0.4zM416 383h0.4v3h-0.4zM213.4 383h1.1v3h-1.1zM374.1 383h0.7v3h-0.7zM351 383h0.6v3h-0.6zM117.5 383h0.4v3h-0.4zM195.2 383h0.5v3h-0.5zM267.9 383h1.1v3h-1.1zM536.3 383h0.6v3h-0.6zM177.6 383h0.8v3h-0.8zM244.9 383h0.6v3h-0.6zM213.4 383h0.6v3h-0.6zM605.3 383h0.5v3h-0.5zM253.9 383h0.3v3h-0.3zM290.4 383h0.7v3h-0.7zM489.7 383h0.8v3h-0.8zM224.6 383h1.1v3h-1.1zM388.8 383h0.7v3h-0.7zM198.6 383h0.7v3h-0.7zM383.8 383h0.5v3h-0.5zM200.9 383h0.8v3h-0.8zM269 383h0.7v3h-0.7zM481.4 383h0.9v3h-0.9zM206.3 383h1v3h-1zM521.7 383h1v3h-1zM220.5 383h0.8v3h-0.8zM229.6 383h0.9v3h-0.9zM395.2 383h1v3h-1zM417.2 383h0.6v3h-0.6zM530.9 383h0.8v3h-0.8zM298.1 383h0.8v3h-0.8zM469.5 383h0.9v3h-0.9zM571.3 383h0.4v3h-0.4zM300.7 383h0.4v3h-0.4zM569.9 383h0.4v3h-0.4zM373.4 383h0.7v3h-0.7zM441.1 383h0.4v3h-0.4zM224.1 383h0.4v3h-0.4zM270.5 383h0.3v3h-0.3zM170.8 383h0.4v3h-0.4zM537.2 383h0.9v3h-0.9zM307.4 383h0.6v3h-0.6zM576.1 383h1.1v3h-1.1zM551.8 383h0.4v3h-0.4zM206 383h0.8v3h-0.8zM242.3 383h0.6v3h-0.6z"/>
<rect x="108" y="386" width="502" height="71" fill="#D656F8"/>
<rect x="108" y="457" width="502" height="7.5" fill="url(#g7)"/>
<path fill="#22C98A" fill-opacity="0.8" d="M129.4 457h0.7v7.5h-0.7zM593.4 457h0.4v7.5h-0.4zM488.6 457h1v7.5h-1zM542.3 457h0.5v7.5h-0.5zM419.4 457h0.3v7.5h-0.3zM483.7 457h0.5v7.5h-0.5zM468.2 457h0.5v7.5h-0.5zM344.9 457h0.5v7.5h-0.5zM188.1 457h0.9v7.5h-0.9zM246.7 457h0.6v7.5h-0.6zM605.1 457h0.9v7.5h-0.9zM296.5 457h0.4v7.5h-0.4zM380.9 457h0.6v7.5h-0.6zM108.5 457h0.4v7.5h-0.4zM206.4 457h0.4v7.5h-0.4zM434.1 457h0.8v7.5h-0.8zM417.6 457h0.4v7.5h-0.4zM112.2 457h0.8v7.5h-0.8zM297 457h0.3v7.5h-0.3zM426.7 457h0.7v7.5h-0.7zM185.2 457h0.8v7.5h-0.8zM349 457h1.1v7.5h-1.1zM607.3 457h0.6v7.5h-0.6zM157.7 457h1.1v7.5h-1.1zM332.4 457h0.5v7.5h-0.5zM411.8 457h0.4v7.5h-0.4zM577.5 457h0.7v7.5h-0.7zM596.9 457h0.8v7.5h-0.8zM204.5 457h1v7.5h-1zM323.7 457h0.7v7.5h-0.7zM145.6 457h0.8v7.5h-0.8zM185.4 457h1v7.5h-1zM325.4 457h0.5v7.5h-0.5zM304.2 457h0.4v7.5h-0.4zM327.1 457h0.9v7.5h-0.9zM520.8 457h1.1v7.5h-1.1zM488 457h0.8v7.5h-0.8zM250.6 457h0.5v7.5h-0.5zM129.9 457h0.9v7.5h-0.9zM234 457h0.7v7.5h-0.7zM151.4 457h1v7.5h-1zM504.2 457h0.4v7.5h-0.4zM150 457h0.4v7.5h-0.4zM354.6 457h0.6v7.5h-0.6zM128.7 457h1v7.5h-1zM559.2 457h0.7v7.5h-0.7zM209.6 457h0.4v7.5h-0.4zM220 457h1v7.5h-1zM302.8 457h0.9v7.5h-0.9zM459 457h0.8v7.5h-0.8zM309.1 457h0.9v7.5h-0.9zM469.6 457h1v7.5h-1zM563.9 457h0.8v7.5h-0.8zM135.5 457h0.5v7.5h-0.5zM136.8 457h0.5v7.5h-0.5zM215.8 457h0.8v7.5h-0.8zM206.2 457h0.3v7.5h-0.3zM262.5 457h0.9v7.5h-0.9zM420.5 457h0.7v7.5h-0.7zM597.4 457h0.3v7.5h-0.3zM447.7 457h0.4v7.5h-0.4zM187.1 457h0.8v7.5h-0.8zM131.5 457h1v7.5h-1zM228.2 457h0.5v7.5h-0.5zM123.6 457h0.5v7.5h-0.5zM222.8 457h0.4v7.5h-0.4zM136.7 457h0.7v7.5h-0.7zM326.5 457h0.3v7.5h-0.3zM564.8 457h0.9v7.5h-0.9zM218.7 457h0.8v7.5h-0.8zM596.7 457h0.9v7.5h-0.9zM248.9 457h1v7.5h-1zM293.2 457h0.5v7.5h-0.5zM161.8 457h0.9v7.5h-0.9zM371.1 457h0.6v7.5h-0.6zM387.8 457h0.8v7.5h-0.8zM539.9 457h0.8v7.5h-0.8zM163.9 457h0.9v7.5h-0.9zM247.7 457h1.1v7.5h-1.1zM130.7 457h0.9v7.5h-0.9zM205.3 457h0.8v7.5h-0.8zM424 457h1v7.5h-1zM592.9 457h1v7.5h-1zM132.2 457h0.8v7.5h-0.8zM595.2 457h1v7.5h-1zM335.6 457h0.4v7.5h-0.4zM542.2 457h1.1v7.5h-1.1zM194.3 457h0.4v7.5h-0.4zM602 457h0.5v7.5h-0.5zM170.5 457h0.5v7.5h-0.5zM609.6 457h0.4v7.5h-0.4zM135.2 457h1v7.5h-1zM458.7 457h0.3v7.5h-0.3zM178.8 457h0.3v7.5h-0.3zM440.7 457h1v7.5h-1zM123.9 457h0.3v7.5h-0.3zM198.2 457h0.3v7.5h-0.3zM130.6 457h0.7v7.5h-0.7zM584.8 457h0.7v7.5h-0.7zM243.8 457h0.7v7.5h-0.7zM531.6 457h1v7.5h-1zM505.1 457h0.7v7.5h-0.7zM415.6 457h0.5v7.5h-0.5zM491.2 457h0.6v7.5h-0.6zM119.4 457h0.9v7.5h-0.9zM467 457h0.7v7.5h-0.7zM471.4 457h0.6v7.5h-0.6zM182.2 457h0.4v7.5h-0.4zM195.9 457h0.6v7.5h-0.6zM217.4 457h0.9v7.5h-0.9z"/>
<path fill="#A8EAD2" d="M157.3 457h0.9v7.5h-0.9zM567.2 457h0.3v7.5h-0.3zM569.2 457h0.6v7.5h-0.6zM443 457h0.9v7.5h-0.9zM173.1 457h0.8v7.5h-0.8zM282.8 457h0.9v7.5h-0.9zM536.1 457h0.4v7.5h-0.4zM316.1 457h0.7v7.5h-0.7zM193 457h0.6v7.5h-0.6zM496.6 457h0.5v7.5h-0.5zM593.6 457h1.1v7.5h-1.1zM285.7 457h0.6v7.5h-0.6zM439.4 457h0.4v7.5h-0.4zM397.4 457h0.5v7.5h-0.5zM195.8 457h0.7v7.5h-0.7zM239.5 457h0.5v7.5h-0.5zM425.5 457h0.5v7.5h-0.5zM446.6 457h0.8v7.5h-0.8zM436.4 457h0.8v7.5h-0.8zM266 457h0.4v7.5h-0.4zM293.1 457h0.3v7.5h-0.3zM114.2 457h0.8v7.5h-0.8zM487.2 457h1.1v7.5h-1.1zM459.3 457h1.1v7.5h-1.1zM605 457h1v7.5h-1zM450 457h1.1v7.5h-1.1zM150.2 457h0.8v7.5h-0.8zM152.5 457h0.4v7.5h-0.4zM198.5 457h0.6v7.5h-0.6zM552 457h0.5v7.5h-0.5z"/>
<rect x="716.4" y="57.5" width="501.9" height="5.5" fill="#A8E8D0"/>
<path fill="#22C98A" fill-opacity="0.8" d="M1196.2 57.5h1.1v5.5h-1.1zM744.8 57.5h0.4v5.5h-0.4zM1135.7 57.5h0.9v5.5h-0.9zM1052.5 57.5h0.5v5.5h-0.5zM1020.5 57.5h0.8v5.5h-0.8zM1008.1 57.5h0.4v5.5h-0.4zM932.6 57.5h0.6v5.5h-0.6zM1079.3 57.5h1.1v5.5h-1.1zM1192.9 57.5h0.7v5.5h-0.7zM939.7 57.5h0.5v5.5h-0.5zM734.4 57.5h0.3v5.5h-0.3zM949.7 57.5h0.6v5.5h-0.6zM907.1 57.5h1v5.5h-1zM980.3 57.5h0.7v5.5h-0.7zM834.9 57.5h0.3v5.5h-0.3zM879.6 57.5h0.4v5.5h-0.4zM972.5 57.5h1.1v5.5h-1.1zM1054.9 57.5h0.4v5.5h-0.4zM1164.9 57.5h0.9v5.5h-0.9zM1085 57.5h1v5.5h-1zM1099.3 57.5h0.9v5.5h-0.9zM894 57.5h1.1v5.5h-1.1zM1199.2 57.5h0.4v5.5h-0.4zM1094.8 57.5h0.9v5.5h-0.9zM948 57.5h0.7v5.5h-0.7zM962.3 57.5h1v5.5h-1zM967.8 57.5h1v5.5h-1zM894 57.5h1v5.5h-1zM1168 57.5h0.7v5.5h-0.7zM1001.3 57.5h1v5.5h-1zM1079.7 57.5h0.7v5.5h-0.7zM827.7 57.5h0.6v5.5h-0.6zM1067.5 57.5h0.4v5.5h-0.4zM1172.1 57.5h0.5v5.5h-0.5zM1173.8 57.5h0.5v5.5h-0.5zM1196.9 57.5h0.9v5.5h-0.9zM969.5 57.5h0.7v5.5h-0.7zM1043.3 57.5h0.8v5.5h-0.8zM872.9 57.5h0.5v5.5h-0.5zM973.3 57.5h1v5.5h-1zM1029.2 57.5h0.4v5.5h-0.4zM1128.2 57.5h0.9v5.5h-0.9zM1172 57.5h0.5v5.5h-0.5zM1090.2 57.5h0.3v5.5h-0.3zM1044.1 57.5h0.5v5.5h-0.5zM830.1 57.5h1v5.5h-1zM769.7 57.5h0.7v5.5h-0.7zM1145 57.5h0.5v5.5h-0.5zM822 57.5h1v5.5h-1zM928.7 57.5h0.9v5.5h-0.9zM732.4 57.5h0.6v5.5h-0.6zM802.7 57.5h0.8v5.5h-0.8zM758 57.5h1.1v5.5h-1.1zM729.1 57.5h0.9v5.5h-0.9zM727 57.5h0.5v5.5h-0.5zM1124.6 57.5h0.4v5.5h-0.4zM808.6 57.5h0.9v5.5h-0.9zM909.9 57.5h0.3v5.5h-0.3zM1213.3 57.5h0.4v5.5h-0.4zM734.6 57.5h0.6v5.5h-0.6zM1025.2 57.5h0.9v5.5h-0.9zM773.2 57.5h0.6v5.5h-0.6zM731.9 57.5h0.7v5.5h-0.7zM1100.8 57.5h0.9v5.5h-0.9zM1169.1 57.5h0.9v5.5h-0.9zM1149.3 57.5h0.9v5.5h-0.9zM953.7 57.5h0.5v5.5h-0.5zM1048.1 57.5h0.6v5.5h-0.6zM767.6 57.5h0.7v5.5h-0.7zM1155.4 57.5h0.4v5.5h-0.4zM1010 57.5h0.6v5.5h-0.6zM974.8 57.5h0.4v5.5h-0.4zM1198.1 57.5h0.5v5.5h-0.5zM1020.6 57.5h0.6v5.5h-0.6zM725.5 57.5h0.7v5.5h-0.7zM787 57.5h0.3v5.5h-0.3zM733.2 57.5h0.4v5.5h-0.4zM764.5 57.5h0.8v5.5h-0.8zM971.5 57.5h1.1v5.5h-1.1zM1185.2 57.5h1.1v5.5h-1.1zM833.1 57.5h0.7v5.5h-0.7zM842.3 57.5h0.8v5.5h-0.8zM1029.7 57.5h0.9v5.5h-0.9zM1072.5 57.5h0.5v5.5h-0.5zM928.7 57.5h0.7v5.5h-0.7zM718.8 57.5h0.3v5.5h-0.3zM921.5 57.5h0.4v5.5h-0.4zM1079.7 57.5h0.5v5.5h-0.5zM766.5 57.5h0.4v5.5h-0.4zM832.6 57.5h0.5v5.5h-0.5z"/>
<path fill="#FFFFFF" fill-opacity="0.8" d="M977.8 57.5h0.7v5.5h-0.7zM871.9 57.5h0.8v5.5h-0.8zM823 57.5h1v5.5h-1zM1199.8 57.5h0.9v5.5h-0.9zM934.1 57.5h0.7v5.5h-0.7zM1008 57.5h0.3v5.5h-0.3zM926.2 57.5h0.7v5.5h-0.7zM807.4 57.5h0.4v5.5h-0.4zM1119.3 57.5h0.6v5.5h-0.6zM977 57.5h1v5.5h-1zM1022.8 57.5h0.5v5.5h-0.5zM1210 57.5h0.6v5.5h-0.6zM726 57.5h0.8v5.5h-0.8zM767.2 57.5h0.5v5.5h-0.5zM1138.3 57.5h0.8v5.5h-0.8zM724.3 57.5h0.7v5.5h-0.7zM922.5 57.5h0.7v5.5h-0.7zM820.9 57.5h0.8v5.5h-0.8zM753.4 57.5h0.5v5.5h-0.5zM903.6 57.5h1v5.5h-1zM754.8 57.5h0.9v5.5h-0.9zM812.9 57.5h0.8v5.5h-0.8zM913 57.5h0.7v5.5h-0.7zM1094.6 57.5h0.6v5.5h-0.6zM777.5 57.5h0.4v5.5h-0.4zM756.8 57.5h1v5.5h-1zM1038.1 57.5h1.1v5.5h-1.1zM1064 57.5h0.3v5.5h-0.3zM1047.2 57.5h0.9v5.5h-0.9zM1079.5 57.5h0.7v5.5h-0.7zM895.9 57.5h0.7v5.5h-0.7zM1117.3 57.5h0.5v5.5h-0.5zM980.6 57.5h0.7v5.5h-0.7zM1195.6 57.5h0.9v5.5h-0.9zM1184.2 57.5h1v5.5h-1zM865.3 57.5h0.5v5.5h-0.5zM961.7 57.5h0.5v5.5h-0.5zM931 57.5h0.8v5.5h-0.8zM1177.4 57.5h0.8v5.5h-0.8zM1126.9 57.5h0.4v5.5h-0.4zM895.1 57.5h1.1v5.5h-1.1zM789.9 57.5h0.6v5.5h-0.6zM749.9 57.5h0.4v5.5h-0.4zM1165.9 57.5h1.1v5.5h-1.1zM1041.7 57.5h0.4v5.5h-0.4zM865.2 57.5h0.5v5.5h-0.5zM1053 57.5h0.8v5.5h-0.8zM936.7 57.5h0.7v5.5h-0.7zM772.6 57.5h0.7v5.5h-0.7zM1193.2 57.5h0.9v5.5h-0.9zM764.7 57.5h0.7v5.5h-0.7zM1075.4 57.5h0.5v5.5h-0.5zM1165.5 57.5h0.7v5.5h-0.7zM1069.4 57.5h0.6v5.5h-0.6zM1215.9 57.5h0.9v5.5h-0.9zM1004.2 57.5h0.4v5.5h-0.4zM937.8 57.5h0.3v5.5h-0.3zM1015.1 57.5h1v5.5h-1zM807 57.5h0.7v5.5h-0.7zM958.5 57.5h0.6v5.5h-0.6zM1073 57.5h1v5.5h-1zM1070.4 57.5h0.7v5.5h-0.7zM1199.2 57.5h0.6v5.5h-0.6zM1090.6 57.5h0.8v5.5h-0.8zM1098.7 57.5h1v5.5h-1zM829.3 57.5h0.8v5.5h-0.8zM918.5 57.5h0.8v5.5h-0.8zM1206.9 57.5h0.8v5.5h-0.8zM722.2 57.5h0.7v5.5h-0.7zM1073.5 57.5h1v5.5h-1zM1042.7 57.5h1v5.5h-1zM725 57.5h1.1v5.5h-1.1zM1082.5 57.5h0.8v5.5h-0.8zM1170.8 57.5h1v5.5h-1zM766.8 57.5h1v5.5h-1zM1101.4 57.5h0.5v5.5h-0.5zM1089.9 57.5h0.8v5.5h-0.8zM812.5 57.5h0.9v5.5h-0.9zM785.6 57.5h0.8v5.5h-0.8zM934.4 57.5h0.5v5.5h-0.5zM1000.5 57.5h0.7v5.5h-0.7zM819.3 57.5h1.1v5.5h-1.1zM753 57.5h0.3v5.5h-0.3zM960 57.5h1v5.5h-1zM1046.9 57.5h0.9v5.5h-0.9zM959.8 57.5h0.8v5.5h-0.8zM884.5 57.5h0.5v5.5h-0.5zM968.8 57.5h0.3v5.5h-0.3zM756.5 57.5h0.9v5.5h-0.9zM803.6 57.5h0.9v5.5h-0.9z"/>
<path fill="#B8D040" d="M1125.7 60.5h0.6v1.7h-0.6zM1159.8 59.3h0.4v0.9h-0.4zM988.9 60.2h0.5v0.7h-0.5zM1203.8 59h0.6v1.5h-0.6zM979.5 60.3h1v1.1h-1zM997.1 57.8h0.7v2.1h-0.7zM1142.8 60.6h0.5v1.7h-0.5zM1069.7 57.8h0.6v2h-0.6zM1061.1 60.9h0.6v1.5h-0.6zM1131.5 58.5h0.8v1.1h-0.8zM985.8 61.7h0.5v1.1h-0.5zM837.9 59.1h1v1.2h-1zM926.3 58.2h0.4v1.4h-0.4zM979.2 60.7h0.5v2h-0.5zM979.2 58.6h0.8v2.1h-0.8zM832.6 60.6h0.5v1h-0.5zM950 58.3h0.6v1.9h-0.6zM1136.1 61h0.8v1.3h-0.8zM936.5 59.2h1v2.1h-1zM1085.3 60.3h1.1v1.8h-1.1zM1162.1 61.1h1v1.8h-1zM914.8 58.9h0.8v1.7h-0.8zM959.1 58.7h0.4v2.1h-0.4zM994 61.9h1v0.9h-1zM844.4 59h0.3v1.2h-0.3zM1182.8 59.1h1v1.8h-1zM1022.3 58.9h0.5v1.9h-0.5zM911.8 59h0.8v0.9h-0.8zM1186.4 58.4h0.4v0.9h-0.4zM897.4 59h0.6v1h-0.6zM895.5 58.8h0.5v1.6h-0.5zM949.6 58.2h0.9v0.8h-0.9zM1154.2 58h0.6v1.9h-0.6zM1013.8 60.8h1v1.2h-1zM1051.2 58.8h0.6v2.2h-0.6zM992.8 61.1h0.8v1.1h-0.8zM1045.7 61.5h0.8v1.5h-0.8zM1213.3 59.2h1v1.4h-1zM1014.6 62.2h0.3v0.8h-0.3zM844.9 61h1v1.7h-1z"/>
<rect x="716.4" y="63" width="501.9" height="6" fill="url(#g8)"/>
<path fill="#FFFFFF" fill-opacity="0.7" d="M723.3 63h0.5v6h-0.5zM791 63h0.3v6h-0.3zM726 63h0.6v6h-0.6zM732.3 63h0.4v6h-0.4zM779 63h0.4v6h-0.4zM807.3 63h0.8v6h-0.8zM720.7 63h1v6h-1zM738.7 63h0.7v6h-0.7zM768.5 63h0.4v6h-0.4zM763.2 63h0.3v6h-0.3zM734.8 63h1v6h-1zM793.3 63h0.7v6h-0.7zM780.1 63h1v6h-1zM729.2 63h0.7v6h-0.7zM728.4 63h0.4v6h-0.4zM726.2 63h0.5v6h-0.5zM721 63h0.5v6h-0.5zM751.6 63h0.8v6h-0.8zM796.7 63h1v6h-1zM783.5 63h0.7v6h-0.7zM802.2 63h0.4v6h-0.4zM725.9 63h1v6h-1zM775 63h0.5v6h-0.5zM751.5 63h0.5v6h-0.5zM756.5 63h0.6v6h-0.6zM753.4 63h0.9v6h-0.9zM792.3 63h0.7v6h-0.7zM760.4 63h0.5v6h-0.5zM787.9 63h1.1v6h-1.1zM737.5 63h0.9v6h-0.9zM781.7 63h0.8v6h-0.8zM718.9 63h0.7v6h-0.7zM735 63h0.5v6h-0.5zM770.5 63h0.8v6h-0.8zM774.8 63h0.9v6h-0.9zM782 63h0.7v6h-0.7zM720.5 63h0.9v6h-0.9zM793.4 63h1v6h-1zM772.2 63h0.3v6h-0.3zM734.4 63h0.4v6h-0.4zM775.8 63h0.7v6h-0.7zM733.5 63h1.1v6h-1.1zM807.9 63h1v6h-1zM759.6 63h0.5v6h-0.5zM735.6 63h1v6h-1zM781.9 63h0.5v6h-0.5zM800.8 63h0.8v6h-0.8zM754.8 63h0.6v6h-0.6zM783.7 63h0.7v6h-0.7zM778 63h0.4v6h-0.4zM782 63h0.5v6h-0.5zM801.6 63h0.5v6h-0.5zM747.3 63h0.7v6h-0.7zM752.9 63h0.7v6h-0.7zM802.8 63h0.5v6h-0.5zM788.6 63h0.9v6h-0.9zM789.9 63h0.7v6h-0.7zM758.7 63h0.6v6h-0.6zM760.5 63h0.5v6h-0.5zM733.9 63h0.7v6h-0.7z"/>
<path fill="#A8EAD2" fill-opacity="0.6" d="M812.8 63h0.7v6h-0.7zM1004.1 63h0.5v6h-0.5zM801.9 63h0.8v6h-0.8zM1148.1 63h0.5v6h-0.5zM1025.4 63h0.8v6h-0.8zM1160.5 63h0.8v6h-0.8zM870.9 63h0.5v6h-0.5zM1136.4 63h0.5v6h-0.5zM722.7 63h1v6h-1zM815.7 63h0.6v6h-0.6zM876.5 63h0.5v6h-0.5zM1079.8 63h0.6v6h-0.6zM937.5 63h0.6v6h-0.6zM1134.7 63h0.3v6h-0.3zM1007.4 63h0.4v6h-0.4zM792 63h0.8v6h-0.8zM905 63h0.4v6h-0.4zM1011.6 63h1v6h-1zM1040.2 63h0.7v6h-0.7zM1118.3 63h1v6h-1zM792.3 63h0.5v6h-0.5zM1200.6 63h1v6h-1zM818.2 63h0.9v6h-0.9zM1155.2 63h0.8v6h-0.8zM1068.8 63h0.7v6h-0.7zM834.2 63h0.5v6h-0.5zM747.5 63h0.8v6h-0.8zM785.8 63h0.8v6h-0.8zM912.8 63h0.6v6h-0.6zM1203.5 63h0.6v6h-0.6zM954.7 63h0.6v6h-0.6zM824.4 63h0.5v6h-0.5zM983.7 63h1v6h-1zM761.8 63h1.1v6h-1.1zM1054.9 63h0.3v6h-0.3zM1071.3 63h0.6v6h-0.6zM974.7 63h0.4v6h-0.4zM972.5 63h0.7v6h-0.7zM1109.1 63h0.8v6h-0.8zM1070.2 63h0.9v6h-0.9z"/>
<rect x="716.4" y="69" width="501.9" height="7" fill="url(#g9)"/>
<path fill="#B8D040" d="M884.6 69.7h0.3v1.8h-0.3zM850.7 72.1h0.6v1.9h-0.6zM1066.6 72.3h1.1v1h-1.1zM827.1 69.7h0.8v1.7h-0.8zM922.9 73.9h0.8v1.8h-0.8zM942 71.6h0.6v2.6h-0.6zM835.8 74.2h0.9v1.6h-0.9zM1062.2 71.2h0.9v2.6h-0.9zM1204 73.6h0.3v1.5h-0.3zM793.5 72h0.8v2.8h-0.8zM1159 72.1h0.4v1.9h-0.4zM976.4 69.7h0.6v2.4h-0.6zM809.3 72.5h0.8v2.7h-0.8zM1078.1 69.2h0.5v2.6h-0.5zM895.6 70.8h0.9v2.6h-0.9zM1179.1 69.3h0.4v2h-0.4zM889.9 71.5h0.5v0.9h-0.5zM1004.1 69.3h0.5v2.1h-0.5zM1011.5 73.9h0.7v1.6h-0.7zM844.2 71h0.6v1.7h-0.6zM1206.7 71.3h0.8v1.9h-0.8zM977.2 72h1.1v2.4h-1.1zM859.5 71.1h0.8v1.1h-0.8zM799.9 71.7h0.9v2.8h-0.9zM1033.9 71.5h0.5v1.7h-0.5zM971 73.3h0.5v1.3h-0.5zM1197.7 69.1h1v2.1h-1zM919.4 71.3h1v2.7h-1zM1033.5 73h0.8v1.3h-0.8zM946.2 72.5h1v1.7h-1zM1028 74h0.7v1.7h-0.7zM1113.1 73.6h0.6v1.8h-0.6zM1109.7 69.5h0.8v2.7h-0.8zM1045.9 74.1h0.8v1.7h-0.8zM1204.1 72.8h0.6v2h-0.6zM1087.9 70.6h0.6v2.4h-0.6zM852.9 71h0.8v2.1h-0.8zM1003.5 70.9h1.1v2.4h-1.1zM1180.2 72.5h0.8v1.6h-0.8zM1125.4 72.2h1v2.2h-1zM961.6 69.6h0.3v1.7h-0.3zM1193.3 72.6h0.6v2h-0.6zM866.5 69.4h1v1.5h-1zM1046.7 70.9h0.6v2.6h-0.6zM830.4 72h0.3v0.9h-0.3zM1095.7 71.6h0.3v1.5h-0.3zM1174.2 71.8h1.1v2.6h-1.1zM1036.1 69.8h0.5v2h-0.5zM919.8 72.7h1v2h-1zM989.2 72h0.5v1.8h-0.5z"/>
<path fill="#A8EAD2" fill-opacity="0.6" d="M837.7 69h1v7h-1zM1208.8 69h0.4v7h-0.4zM837.9 69h0.9v7h-0.9zM1078.7 69h0.5v7h-0.5zM1010.5 69h0.5v7h-0.5zM1149.5 69h0.8v7h-0.8zM972.8 69h0.4v7h-0.4zM920 69h0.7v7h-0.7zM898 69h0.4v7h-0.4zM815.9 69h0.9v7h-0.9zM1180.6 69h1v7h-1zM1025.2 69h0.9v7h-0.9zM783.5 69h0.5v7h-0.5zM1069.6 69h0.3v7h-0.3zM758.5 69h0.9v7h-0.9zM815.2 69h0.4v7h-0.4zM914.9 69h1v7h-1zM721.6 69h1v7h-1zM869.4 69h0.8v7h-0.8zM953.6 69h0.4v7h-0.4zM1197.4 69h0.4v7h-0.4zM1120.4 69h1v7h-1zM944.2 69h1.1v7h-1.1zM748 69h0.4v7h-0.4zM959.2 69h0.4v7h-0.4zM1121.8 69h0.7v7h-0.7zM1117.4 69h0.5v7h-0.5zM730.1 69h1v7h-1zM821 69h0.6v7h-0.6zM779.5 69h0.8v7h-0.8zM949.2 69h0.5v7h-0.5zM736 69h0.6v7h-0.6zM1109.7 69h0.4v7h-0.4zM831 69h0.8v7h-0.8zM1035.1 69h0.9v7h-0.9zM1040.1 69h1v7h-1zM794.4 69h1v7h-1zM730.9 69h0.4v7h-0.4zM768.4 69h0.9v7h-0.9zM969.7 69h1v7h-1zM1205.7 69h1.1v7h-1.1zM1024.6 69h0.6v7h-0.6zM1196.8 69h0.9v7h-0.9zM814.8 69h0.7v7h-0.7zM726.6 69h0.3v7h-0.3zM1037 69h0.9v7h-0.9zM1148.6 69h0.9v7h-0.9zM785.1 69h0.9v7h-0.9zM1208.9 69h0.8v7h-0.8zM957.6 69h0.5v7h-0.5zM748.4 69h0.8v7h-0.8zM1199.1 69h0.4v7h-0.4zM1128.4 69h1v7h-1zM893.2 69h1v7h-1zM794.6 69h0.5v7h-0.5zM1000.7 69h1v7h-1zM985.3 69h0.4v7h-0.4zM1183.1 69h0.8v7h-0.8zM1107.3 69h0.5v7h-0.5zM884.4 69h0.4v7h-0.4zM810.1 69h0.6v7h-0.6zM922.7 69h0.8v7h-0.8zM1134.8 69h0.6v7h-0.6zM1180.9 69h0.8v7h-0.8zM889.5 69h0.4v7h-0.4zM1196.2 69h0.8v7h-0.8zM738 69h0.8v7h-0.8zM906.1 69h0.6v7h-0.6zM1100.6 69h0.5v7h-0.5zM851.1 69h0.7v7h-0.7z"/>
<path fill="#FFFFFF" fill-opacity="0.6" d="M1170.4 71.8h0.4v3.1h-0.4zM805.4 72.1h0.8v2.6h-0.8zM986 70.1h0.6v2.3h-0.6zM944.9 70.3h0.6v1.3h-0.6zM889.2 72.4h0.6v2.4h-0.6zM846.4 70.2h0.7v1.9h-0.7zM786.6 72h1.1v3.3h-1.1zM802.5 70.7h0.4v1.3h-0.4zM930.3 72.4h0.3v2.1h-0.3zM1135 73.7h0.5v1.1h-0.5zM907.2 70.5h0.6v1.4h-0.6zM850 71.8h0.5v1.6h-0.5zM1124.6 71.4h0.5v2.1h-0.5zM1139.1 69.6h0.9v3.5h-0.9zM1120.7 71.4h0.5v2.5h-0.5zM1004.9 69h0.6v1.2h-0.6zM1181.9 69.4h1v2.2h-1zM1137.1 72.1h0.7v2.2h-0.7zM795.5 71.9h0.5v3h-0.5zM1210.1 72.2h0.6v3.4h-0.6zM971.2 69.4h1v1.4h-1zM1125 72.5h0.4v2.3h-0.4zM1057.3 69.2h0.5v3h-0.5zM998.5 70.4h1v2.4h-1zM1216.9 72.6h0.9v3h-0.9zM1185.7 71h0.8v3.1h-0.8zM844.4 69.1h0.5v1.7h-0.5zM1027.5 69.2h0.6v3.3h-0.6zM1109.4 70.5h0.5v1.8h-0.5zM1196.9 69.9h0.8v2.2h-0.8z"/>
<rect x="716.4" y="76" width="501.9" height="2" fill="#22C98A"/>
<path fill="#A8EAD2" d="M740.3 76h0.6v2h-0.6zM1205.3 76h0.7v2h-0.7zM1055.4 76h1v2h-1zM740.3 76h0.6v2h-0.6zM926.1 76h0.5v2h-0.5zM908.6 76h0.8v2h-0.8zM784 76h0.9v2h-0.9zM865.3 76h0.8v2h-0.8zM803.6 76h0.9v2h-0.9zM926.8 76h1v2h-1zM1202 76h0.8v2h-0.8zM727.1 76h0.6v2h-0.6zM1206.2 76h0.8v2h-0.8zM1097.1 76h0.7v2h-0.7zM1188.4 76h1v2h-1zM1023.9 76h0.8v2h-0.8zM768.2 76h0.3v2h-0.3zM819.5 76h0.9v2h-0.9zM1141.6 76h0.9v2h-0.9zM1161.6 76h0.3v2h-0.3zM730.7 76h0.5v2h-0.5zM725.5 76h0.8v2h-0.8zM1183 76h1v2h-1zM769.8 76h0.8v2h-0.8zM1053.2 76h0.8v2h-0.8zM923 76h0.5v2h-0.5zM1161.2 76h1v2h-1zM1076 76h0.7v2h-0.7zM732.9 76h0.5v2h-0.5zM836.7 76h0.5v2h-0.5z"/>
<rect x="716.4" y="78" width="501.9" height="6" fill="url(#g10)"/>
<path fill="#FFFFFF" fill-opacity="0.7" d="M921.7 78h0.8v6h-0.8zM1097 78h0.4v6h-0.4zM1180.9 78h0.3v6h-0.3zM1201.2 78h0.8v6h-0.8zM1083.9 78h0.5v6h-0.5zM1101.3 78h1v6h-1zM917.6 78h0.4v6h-0.4zM1137.8 78h0.5v6h-0.5zM879.9 78h0.7v6h-0.7zM910.6 78h0.5v6h-0.5zM947.2 78h0.4v6h-0.4zM1149.6 78h0.8v6h-0.8zM1086.9 78h0.5v6h-0.5zM1133 78h1.1v6h-1.1zM1217.9 78h0.3v6h-0.3zM957.4 78h0.4v6h-0.4zM1019.5 78h0.8v6h-0.8zM1069.9 78h0.6v6h-0.6zM1204.2 78h0.8v6h-0.8zM1216.7 78h0.6v6h-0.6zM1083.7 78h0.4v6h-0.4zM1042.5 78h0.8v6h-0.8zM928 78h0.8v6h-0.8zM890 78h0.7v6h-0.7zM1069.5 78h0.7v6h-0.7zM897.2 78h0.5v6h-0.5zM981.7 78h0.8v6h-0.8zM1003.7 78h0.5v6h-0.5zM967.7 78h0.5v6h-0.5zM892 78h0.8v6h-0.8zM1018 78h0.6v6h-0.6zM840.6 78h1v6h-1zM857.1 78h0.4v6h-0.4zM951 78h0.9v6h-0.9zM1194 78h0.9v6h-0.9zM918 78h1v6h-1zM852.3 78h0.4v6h-0.4zM882.3 78h0.8v6h-0.8zM1064.4 78h0.8v6h-0.8zM1198.4 78h0.9v6h-0.9zM1121.1 78h0.4v6h-0.4zM1184.2 78h1v6h-1zM1153.1 78h0.4v6h-0.4zM1109.9 78h0.7v6h-0.7zM1043 78h0.5v6h-0.5zM1132.2 78h0.9v6h-0.9zM1130.9 78h0.5v6h-0.5zM1118.3 78h0.4v6h-0.4zM1097.3 78h0.3v6h-0.3zM842.3 78h0.4v6h-0.4zM1086.8 78h1.1v6h-1.1zM1016.7 78h0.8v6h-0.8zM1061.6 78h1v6h-1zM1206.5 78h1v6h-1zM965.4 78h0.4v6h-0.4zM1177.6 78h0.5v6h-0.5zM1126.8 78h1v6h-1zM903.5 78h0.5v6h-0.5zM999.7 78h1v6h-1zM1162 78h1.1v6h-1.1z"/>
<path fill="#A8EAD2" d="M730.7 78h0.8v6h-0.8zM763.1 78h0.6v6h-0.6zM747.7 78h0.5v6h-0.5zM762.3 78h0.7v6h-0.7zM742.3 78h0.8v6h-0.8zM733.2 78h1v6h-1zM740.8 78h0.6v6h-0.6zM755.2 78h0.8v6h-0.8zM754.3 78h1v6h-1zM759.7 78h0.6v6h-0.6zM750.8 78h1v6h-1zM719 78h0.8v6h-0.8zM744.5 78h0.6v6h-0.6zM722.4 78h0.5v6h-0.5zM756.5 78h1v6h-1zM769.3 78h0.9v6h-0.9zM763.5 78h1v6h-1zM724.9 78h0.9v6h-0.9zM762.9 78h0.9v6h-0.9zM730.9 78h0.9v6h-0.9z"/>
<rect x="716.4" y="84" width="501.9" height="54" fill="#D656F8"/>
<path fill="#9C80E4" d="M835.5 117h0.6v5.3h-0.6zM828.7 94.7h0.8v2.2h-0.8zM847.3 122.9h1v3.1h-1zM829.9 88.2h0.7v3.5h-0.7zM836.7 89h0.7v5.8h-0.7zM832.8 97.6h0.3v2.9h-0.3zM847.1 108.6h1.1v2.9h-1.1zM839.1 129.3h0.7v6.3h-0.7zM826 116.3h0.6v4.3h-0.6zM839.3 107.8h1v2.4h-1zM847.4 115.6h0.4v2.7h-0.4zM828.9 93.6h0.7v2.5h-0.7zM834 114h0.9v4.7h-0.9zM841.9 112.4h0.6v6.4h-0.6zM842 113.8h0.4v3.1h-0.4zM850.8 125.9h0.9v2.2h-0.9z"/>
<rect x="716.4" y="138" width="501.9" height="8" fill="url(#g11)"/>
<path fill="#9C80E4" fill-opacity="0.7" d="M823 138h0.8v8h-0.8zM812.3 138h0.3v8h-0.3zM1104.2 138h0.7v8h-0.7zM1020 138h0.9v8h-0.9zM1014.5 138h0.6v8h-0.6zM877.9 138h0.7v8h-0.7zM839.9 138h0.5v8h-0.5zM1123.4 138h0.6v8h-0.6zM1078.3 138h0.8v8h-0.8zM950 138h0.9v8h-0.9zM882.2 138h0.3v8h-0.3zM1142.2 138h0.9v8h-0.9zM1087 138h1v8h-1zM921.3 138h0.6v8h-0.6zM1023.9 138h1v8h-1zM857.5 138h0.9v8h-0.9zM1196.8 138h0.5v8h-0.5zM725.1 138h0.4v8h-0.4zM1040.3 138h0.5v8h-0.5zM1192.3 138h0.4v8h-0.4zM1165.5 138h0.6v8h-0.6zM1178.2 138h0.6v8h-0.6zM772.1 138h0.8v8h-0.8zM866.6 138h1.1v8h-1.1zM1129.3 138h0.5v8h-0.5zM962.4 138h0.7v8h-0.7zM1104.3 138h0.5v8h-0.5zM1000.6 138h0.7v8h-0.7zM1011.5 138h0.7v8h-0.7zM933.4 138h0.6v8h-0.6zM914.7 138h1.1v8h-1.1zM978.5 138h0.4v8h-0.4zM914 138h0.9v8h-0.9zM1058.8 138h0.4v8h-0.4zM923.8 138h0.7v8h-0.7zM1140.7 138h0.5v8h-0.5zM1176.2 138h1v8h-1zM726.3 138h0.7v8h-0.7zM983.8 138h0.8v8h-0.8zM1161.9 138h0.5v8h-0.5zM1132.2 138h0.3v8h-0.3zM1134.6 138h0.5v8h-0.5zM729.6 138h1v8h-1zM1203.7 138h0.8v8h-0.8zM1106.9 138h0.6v8h-0.6zM840.8 138h0.8v8h-0.8zM1122.2 138h0.5v8h-0.5zM904.9 138h0.5v8h-0.5zM849.3 138h1v8h-1zM719.9 138h0.3v8h-0.3zM808.7 138h0.9v8h-0.9zM1002.5 138h0.9v8h-0.9zM1065.6 138h1v8h-1zM1010.9 138h0.3v8h-0.3zM767.7 138h0.6v8h-0.6zM775.8 138h0.5v8h-0.5zM854.2 138h1.1v8h-1.1zM1200.6 138h0.8v8h-0.8zM927.8 138h0.6v8h-0.6zM751.7 138h0.7v8h-0.7zM788.4 138h0.7v8h-0.7zM1126.1 138h0.6v8h-0.6zM1070.9 138h1v8h-1zM1175.5 138h0.6v8h-0.6zM835.4 138h1v8h-1zM966.9 138h0.5v8h-0.5zM1059.4 138h1v8h-1zM1209.9 138h0.6v8h-0.6zM849.4 138h0.5v8h-0.5zM866.1 138h0.5v8h-0.5zM1177.9 138h0.8v8h-0.8zM741.6 138h0.4v8h-0.4zM809.3 138h1.1v8h-1.1zM888.2 138h0.9v8h-0.9zM829.2 138h0.5v8h-0.5zM1189.4 138h0.4v8h-0.4zM967.7 138h0.7v8h-0.7zM885.8 138h0.9v8h-0.9zM1145.1 138h0.5v8h-0.5zM867.8 138h0.7v8h-0.7z"/>
<path fill="#D656F8" fill-opacity="0.6" d="M957.1 139.6h0.8v3.4h-0.8zM1188.5 140.8h0.7v1.3h-0.7zM982.3 140.6h0.4v3.7h-0.4zM977.4 139.8h0.5v1.6h-0.5zM1038.3 138.2h0.8v3.1h-0.8zM1106.9 140.6h0.9v3.1h-0.9zM1144.9 140.2h1.1v2.8h-1.1zM988.1 141.8h0.9v3.1h-0.9zM871.5 141.5h0.8v1.9h-0.8zM723.9 142.3h0.7v3.2h-0.7zM959.9 138.1h1v1.8h-1zM994 141.4h0.6v2.3h-0.6zM1095.7 141.4h1v2.1h-1zM1032.5 140.4h0.8v2.8h-0.8zM1122.6 138.8h0.3v3.4h-0.3zM807.8 139.9h0.8v2.5h-0.8zM755.7 138.6h0.3v1.9h-0.3zM1066 140.4h0.5v2.3h-0.5zM1070.1 139.1h1v3h-1zM785.4 142.2h0.7v2.2h-0.7zM824.8 139.6h0.9v2.2h-0.9zM807.1 140.9h0.9v2.6h-0.9zM1134.2 139.7h0.3v2.7h-0.3zM838.8 140.5h1v1.9h-1zM934.2 138h0.4v2.1h-0.4zM967.5 141.8h0.8v4h-0.8zM883 139h1.1v1.5h-1.1zM982.4 138.2h0.8v2.9h-0.8zM921.1 142.4h0.7v2.3h-0.7zM1089.9 141.8h0.4v2.5h-0.4zM1112 141h0.8v3.9h-0.8zM913.9 141h1v2.9h-1zM1014.3 140.2h0.9v3.2h-0.9zM1111.6 142.3h0.6v3.3h-0.6zM982.3 138.9h0.4v3.7h-0.4zM822.3 140.3h0.3v2.4h-0.3zM1127.1 142.4h0.4v2.3h-0.4zM728.3 142.9h0.6v1.6h-0.6zM866.6 139.4h0.4v1.5h-0.4zM1069.2 139.6h0.4v1.3h-0.4zM737.5 140.5h0.9v3.3h-0.9zM884 139.2h0.3v3.2h-0.3zM992 142.2h1.1v1.9h-1.1zM936.2 142h0.7v2.3h-0.7zM977.6 139.1h0.3v3.5h-0.3zM892.5 141.9h0.7v2.9h-0.7zM776 140.4h0.6v2.9h-0.6zM838.5 140.6h0.9v3.9h-0.9zM984.8 142.3h0.4v2.5h-0.4zM874.9 139.7h0.7v2.5h-0.7z"/>
<path fill="#22C98A" fill-opacity="0.4" d="M1025.7 141.5h0.5v3.8h-0.5zM870.8 143.5h0.4v1.3h-0.4zM928.9 143.2h0.4v1.3h-0.4zM819.8 141.6h1v2.2h-1zM890.4 139.7h0.8v1.6h-0.8zM777.9 143.2h0.4v2.8h-0.4zM719.7 139h1v2h-1zM732.1 141.2h0.6v1.4h-0.6zM946.6 140.5h0.4v3.7h-0.4zM1097.5 141.3h0.5v3.2h-0.5zM1105 139.9h0.4v3.9h-0.4zM756.7 143.3h1v2.1h-1zM820.7 140.9h0.4v2.6h-0.4zM1054.6 142.4h0.8v2.2h-0.8zM974.9 139.8h0.4v2.8h-0.4zM990.1 139.6h0.4v1.9h-0.4zM1049.5 140.3h0.3v2.4h-0.3zM1154.9 142.3h0.4v2.6h-0.4zM921.3 141h1.1v1.9h-1.1zM869.7 143.1h0.5v1.4h-0.5z"/>
<rect x="716.4" y="146" width="501.9" height="8" fill="#22C98A"/>
<path fill="#FFFFFF" fill-opacity="0.6" d="M1044.7 147.1h1v2h-1zM1047.8 147.5h1v2.2h-1zM978.8 149.3h1v2.8h-1zM1088.6 146.1h0.3v1.3h-0.3zM942.5 151.7h0.7v1h-0.7zM991.1 149.7h0.9v3.1h-0.9zM1091.3 150.5h0.8v2.1h-0.8zM1109.2 146.8h0.5v2.8h-0.5zM983.6 151.8h1v1.4h-1zM959.3 146.3h0.9v1.3h-0.9zM842.4 148.8h0.8v3h-0.8zM978.5 150.2h0.6v2.1h-0.6zM1151.6 147.9h0.6v2.5h-0.6zM843.5 149.7h0.3v1.9h-0.3zM972 148.4h0.7v2.7h-0.7zM1063.2 147.6h0.7v3.1h-0.7zM938.2 151.1h0.9v1.6h-0.9zM879.2 149.3h0.4v2.2h-0.4zM869.7 148.4h0.5v3.2h-0.5zM1072.8 147.7h0.6v2.2h-0.6z"/>
<rect x="716.4" y="154" width="501.9" height="2" fill="url(#g12)"/>
<rect x="716.4" y="156" width="501.9" height="8" fill="url(#g13)"/>
<path fill="#3B4AF0" fill-opacity="0.5" d="M801.2 156h1v8h-1zM1058.5 156h0.5v8h-0.5zM920.2 156h0.7v8h-0.7zM749 156h0.8v8h-0.8zM1215.8 156h0.8v8h-0.8zM950.3 156h0.4v8h-0.4zM986.9 156h0.8v8h-0.8zM1066.5 156h1v8h-1zM851.5 156h0.4v8h-0.4zM1202.8 156h0.7v8h-0.7zM1161.8 156h0.8v8h-0.8zM1168.8 156h0.8v8h-0.8zM1080.8 156h0.8v8h-0.8zM1194.7 156h0.9v8h-0.9zM1205.2 156h0.6v8h-0.6zM819.9 156h0.5v8h-0.5zM945.4 156h0.7v8h-0.7zM1062.4 156h0.7v8h-0.7zM1200.6 156h0.6v8h-0.6zM720.7 156h0.7v8h-0.7zM1046.4 156h0.5v8h-0.5zM1088.9 156h0.5v8h-0.5zM1170.1 156h0.7v8h-0.7zM1194.4 156h0.8v8h-0.8zM1079.7 156h0.5v8h-0.5zM1158.7 156h1.1v8h-1.1zM791.6 156h0.8v8h-0.8zM796.9 156h1v8h-1zM1150.4 156h1v8h-1zM1101.9 156h0.6v8h-0.6zM1033.5 156h0.3v8h-0.3zM769.6 156h0.7v8h-0.7zM1088.3 156h0.5v8h-0.5zM723.1 156h0.3v8h-0.3zM882 156h0.6v8h-0.6zM1171.3 156h0.9v8h-0.9zM1159.1 156h0.9v8h-0.9zM1068.1 156h0.9v8h-0.9zM827.7 156h0.9v8h-0.9zM1007.9 156h0.8v8h-0.8zM965.2 156h0.7v8h-0.7zM1139.9 156h0.9v8h-0.9zM813.2 156h1v8h-1zM987.3 156h0.3v8h-0.3zM1112.8 156h1v8h-1zM934.2 156h0.6v8h-0.6zM852.2 156h0.5v8h-0.5zM984.7 156h0.6v8h-0.6zM1044.4 156h0.8v8h-0.8zM813.7 156h0.9v8h-0.9zM942.7 156h0.6v8h-0.6zM809 156h0.8v8h-0.8zM1057.6 156h0.9v8h-0.9zM1128.3 156h0.6v8h-0.6zM990.6 156h0.8v8h-0.8zM911.6 156h0.3v8h-0.3zM1082.2 156h1v8h-1zM954.2 156h1v8h-1zM742.4 156h0.8v8h-0.8zM915.4 156h0.8v8h-0.8zM897.3 156h0.9v8h-0.9zM818.2 156h0.5v8h-0.5zM923.1 156h0.6v8h-0.6zM925.4 156h1.1v8h-1.1zM974.3 156h0.7v8h-0.7zM780.8 156h0.7v8h-0.7zM1098.3 156h0.9v8h-0.9zM1196.7 156h0.8v8h-0.8zM902.8 156h1v8h-1zM1207.9 156h1.1v8h-1.1z"/>
<path fill="#22C98A" fill-opacity="0.6" d="M774 156h0.8v8h-0.8zM796 156h0.5v8h-0.5zM1106.1 156h1v8h-1zM1013.4 156h0.6v8h-0.6zM960.2 156h0.5v8h-0.5zM849.5 156h0.5v8h-0.5zM1192.8 156h1v8h-1zM809.3 156h1v8h-1zM1092.1 156h0.9v8h-0.9zM844.4 156h0.7v8h-0.7zM1125.6 156h0.9v8h-0.9zM1184.9 156h0.3v8h-0.3zM882.5 156h0.6v8h-0.6zM924.7 156h1.1v8h-1.1zM1202.3 156h1v8h-1zM1046.2 156h0.9v8h-0.9zM1142.3 156h0.5v8h-0.5zM1031 156h1.1v8h-1.1zM799.8 156h0.7v8h-0.7zM901.1 156h1v8h-1zM948.9 156h0.4v8h-0.4zM904.3 156h0.8v8h-0.8zM989.9 156h0.3v8h-0.3zM1125.7 156h0.5v8h-0.5zM734.2 156h0.8v8h-0.8zM1053 156h0.8v8h-0.8zM762.5 156h0.3v8h-0.3zM1079.8 156h0.7v8h-0.7zM721.9 156h0.7v8h-0.7zM758.4 156h0.7v8h-0.7zM1072.6 156h0.5v8h-0.5zM920.3 156h0.9v8h-0.9zM854.8 156h0.8v8h-0.8zM744.6 156h0.9v8h-0.9zM834.9 156h0.6v8h-0.6zM1215.4 156h0.9v8h-0.9zM809.1 156h0.9v8h-0.9zM916.1 156h0.7v8h-0.7zM856.9 156h0.4v8h-0.4zM1211.4 156h0.6v8h-0.6zM819.9 156h0.9v8h-0.9zM769.1 156h0.6v8h-0.6zM774.2 156h0.3v8h-0.3zM1210 156h0.7v8h-0.7zM1044.2 156h0.4v8h-0.4zM899.4 156h0.3v8h-0.3zM1139.4 156h0.3v8h-0.3zM1188.1 156h1.1v8h-1.1zM816 156h0.5v8h-0.5zM805.9 156h0.3v8h-0.3z"/>
<path fill="#9C80E4" fill-opacity="0.6" d="M955 156h0.7v8h-0.7zM1159.6 156h0.7v8h-0.7zM803.9 156h0.6v8h-0.6zM796.6 156h0.3v8h-0.3zM911 156h1v8h-1zM757.3 156h1.1v8h-1.1zM1138.5 156h1.1v8h-1.1zM1015.1 156h0.5v8h-0.5zM1103 156h0.4v8h-0.4zM978.6 156h1v8h-1zM985.8 156h0.9v8h-0.9zM806.4 156h1v8h-1zM792 156h0.6v8h-0.6zM1014 156h1v8h-1zM776.6 156h0.5v8h-0.5zM1103.9 156h0.5v8h-0.5zM913.9 156h0.4v8h-0.4zM1213.5 156h0.9v8h-0.9zM906.6 156h1.1v8h-1.1zM1161.1 156h0.6v8h-0.6zM754.1 156h0.9v8h-0.9zM1035.8 156h0.5v8h-0.5zM720.7 156h0.5v8h-0.5zM1184.3 156h0.8v8h-0.8zM1052.1 156h0.9v8h-0.9zM851.9 156h1v8h-1zM953.4 156h1v8h-1zM1023.1 156h0.8v8h-0.8zM1154 156h1.1v8h-1.1zM1074.9 156h1.1v8h-1.1zM923.4 156h0.6v8h-0.6zM847 156h0.6v8h-0.6zM1165.6 156h0.6v8h-0.6zM839.8 156h0.4v8h-0.4zM1077.7 156h1v8h-1zM929.1 156h0.4v8h-0.4zM1099.2 156h1v8h-1zM920.7 156h0.7v8h-0.7zM904.1 156h0.7v8h-0.7zM1048 156h1v8h-1zM883.9 156h1.1v8h-1.1zM1024 156h0.7v8h-0.7zM1139.7 156h0.5v8h-0.5zM991.1 156h1v8h-1zM1135.1 156h1v8h-1zM982.2 156h0.8v8h-0.8zM1108.2 156h0.5v8h-0.5zM1200.7 156h0.9v8h-0.9zM961.4 156h0.8v8h-0.8zM1191.6 156h0.3v8h-0.3z"/>
<path fill="#FFFFFF" fill-opacity="0.4" d="M987.1 156h1v8h-1zM915 156h0.9v8h-0.9zM994.7 156h0.5v8h-0.5zM915.8 156h0.5v8h-0.5zM1016.5 156h0.8v8h-0.8zM1158.5 156h0.8v8h-0.8zM948.8 156h0.7v8h-0.7zM1194.8 156h0.5v8h-0.5zM1121.9 156h0.5v8h-0.5zM996.1 156h0.7v8h-0.7zM1164.8 156h0.7v8h-0.7zM961 156h0.8v8h-0.8zM916.7 156h0.9v8h-0.9zM1077.4 156h0.6v8h-0.6zM1099.4 156h0.6v8h-0.6zM1056.4 156h0.8v8h-0.8zM1154.3 156h0.5v8h-0.5zM1206.5 156h1v8h-1zM959.9 156h1v8h-1zM985.2 156h1v8h-1zM967.8 156h1v8h-1zM1174.9 156h0.7v8h-0.7zM1116.1 156h0.9v8h-0.9zM1102.1 156h0.6v8h-0.6zM1144.8 156h1v8h-1zM1070.4 156h1v8h-1zM1014.9 156h0.7v8h-0.7zM1116.3 156h0.6v8h-0.6zM1150.9 156h0.9v8h-0.9zM965.4 156h0.6v8h-0.6z"/>
<rect x="716.4" y="164" width="501.9" height="4" fill="url(#g14)"/>
<path fill="#A8EAD2" fill-opacity="0.6" d="M1158.9 164h0.7v4h-0.7zM734.4 164h0.9v4h-0.9zM808.1 164h0.7v4h-0.7zM1169.9 164h0.9v4h-0.9zM1090.1 164h0.3v4h-0.3zM841 164h0.4v4h-0.4zM1208.6 164h0.5v4h-0.5zM797 164h0.9v4h-0.9zM1108.5 164h0.9v4h-0.9zM983.4 164h1v4h-1zM1017.6 164h0.3v4h-0.3zM1135.9 164h0.3v4h-0.3zM1215.2 164h0.8v4h-0.8zM1031.3 164h0.5v4h-0.5zM1149 164h0.6v4h-0.6zM1005 164h0.3v4h-0.3zM1054.5 164h1v4h-1zM1025.2 164h0.9v4h-0.9zM1002.3 164h0.7v4h-0.7zM1134.1 164h0.4v4h-0.4zM913.4 164h0.9v4h-0.9zM1087.7 164h1v4h-1zM1082.3 164h0.8v4h-0.8zM1036.1 164h0.5v4h-0.5zM1105 164h1v4h-1zM832.8 164h0.6v4h-0.6zM933.3 164h0.9v4h-0.9zM754.1 164h0.4v4h-0.4zM1179.9 164h0.9v4h-0.9zM921.4 164h0.4v4h-0.4z"/>
<rect x="716.4" y="168" width="501.9" height="6" fill="#FFFFFF"/>
<path fill="#A8EAD2" fill-opacity="0.6" d="M718.4 168h0.4v6h-0.4zM1162.6 168h0.4v6h-0.4zM1143.1 168h0.4v6h-0.4zM1119.2 168h0.5v6h-0.5zM1070 168h0.9v6h-0.9zM976.6 168h0.5v6h-0.5zM965.3 168h0.5v6h-0.5zM1203.5 168h0.7v6h-0.7zM1003.9 168h0.6v6h-0.6zM934.7 168h1v6h-1zM1161.9 168h1v6h-1zM1192 168h1.1v6h-1.1zM723.9 168h0.5v6h-0.5zM762.1 168h1v6h-1zM789.2 168h0.9v6h-0.9zM813.2 168h0.5v6h-0.5zM879.2 168h1v6h-1zM841.6 168h0.5v6h-0.5zM1109 168h0.5v6h-0.5zM1007.4 168h0.7v6h-0.7zM1071.1 168h0.7v6h-0.7zM830.5 168h0.4v6h-0.4zM1138.3 168h0.5v6h-0.5zM843.8 168h0.8v6h-0.8zM1192.1 168h0.6v6h-0.6zM878.6 168h0.6v6h-0.6zM945.4 168h1v6h-1zM1006.5 168h0.7v6h-0.7zM874.3 168h0.6v6h-0.6zM943.3 168h0.9v6h-0.9zM1169.3 168h1v6h-1zM825.4 168h1v6h-1zM868.4 168h0.6v6h-0.6zM953.5 168h0.4v6h-0.4zM975.5 168h1.1v6h-1.1zM775.6 168h1.1v6h-1.1zM921.6 168h0.5v6h-0.5zM988.1 168h0.4v6h-0.4zM884 168h0.9v6h-0.9zM866.4 168h0.9v6h-0.9zM858.2 168h0.9v6h-0.9zM1077.4 168h0.8v6h-0.8zM947.8 168h0.5v6h-0.5zM768.6 168h0.7v6h-0.7zM889.4 168h1v6h-1zM773.4 168h0.4v6h-0.4zM884.3 168h0.7v6h-0.7zM1086.8 168h0.8v6h-0.8zM844.9 168h0.4v6h-0.4zM1050.4 168h0.4v6h-0.4zM1110.5 168h0.8v6h-0.8zM1169.5 168h0.7v6h-0.7zM947.2 168h0.8v6h-0.8zM769.6 168h1v6h-1zM1014.6 168h0.9v6h-0.9zM750.8 168h0.5v6h-0.5zM791.8 168h0.6v6h-0.6zM908.6 168h1v6h-1zM951.7 168h0.8v6h-0.8zM927.7 168h0.6v6h-0.6zM751.2 168h0.8v6h-0.8zM960.5 168h0.5v6h-0.5zM1094.8 168h0.3v6h-0.3zM1159.9 168h0.7v6h-0.7zM1136.1 168h0.7v6h-0.7zM783 168h0.7v6h-0.7zM825.2 168h0.7v6h-0.7zM721.2 168h0.9v6h-0.9zM1115.3 168h0.7v6h-0.7zM892.1 168h0.8v6h-0.8z"/>
<path fill="#F0C8F8" fill-opacity="0.6" d="M913.9 168h1.1v6h-1.1zM1170.4 168h0.6v6h-0.6zM1120.3 168h0.5v6h-0.5zM1182.5 168h0.8v6h-0.8zM716.7 168h0.8v6h-0.8zM907 168h0.8v6h-0.8zM774.7 168h0.6v6h-0.6zM1187.7 168h0.8v6h-0.8zM971.3 168h0.8v6h-0.8zM774.8 168h0.4v6h-0.4zM919.2 168h0.6v6h-0.6zM952 168h0.7v6h-0.7zM757.7 168h0.5v6h-0.5zM1125.3 168h0.9v6h-0.9zM1033.1 168h0.3v6h-0.3zM1048.2 168h0.4v6h-0.4zM820.9 168h0.5v6h-0.5zM1212.7 168h0.6v6h-0.6zM872.9 168h0.4v6h-0.4zM926.3 168h0.9v6h-0.9zM888.6 168h0.6v6h-0.6zM774.1 168h0.4v6h-0.4zM771.6 168h1v6h-1zM1142.6 168h0.7v6h-0.7zM1004 168h0.6v6h-0.6zM1062.1 168h0.5v6h-0.5zM891.6 168h0.9v6h-0.9zM889.7 168h1.1v6h-1.1zM950.3 168h0.3v6h-0.3zM960 168h1v6h-1z"/>
<rect x="716.4" y="174" width="501.9" height="10" fill="url(#g15)"/>
<path fill="#3B4AF0" fill-opacity="0.5" d="M805.7 174h0.7v10h-0.7zM996.1 174h1v10h-1zM723.7 174h0.9v10h-0.9zM757.3 174h0.9v10h-0.9zM1187.5 174h0.8v10h-0.8zM728 174h0.5v10h-0.5zM953.4 174h1v10h-1zM933.9 174h0.5v10h-0.5zM1091.2 174h0.9v10h-0.9zM1209.9 174h0.8v10h-0.8zM1101.8 174h1v10h-1zM813.8 174h0.3v10h-0.3zM1128 174h0.8v10h-0.8zM1152.9 174h1v10h-1zM777.6 174h0.5v10h-0.5zM1143.2 174h0.7v10h-0.7zM1111.1 174h1v10h-1zM723.9 174h0.5v10h-0.5zM753.3 174h0.5v10h-0.5zM911.3 174h1v10h-1zM825.6 174h0.7v10h-0.7zM930.2 174h1.1v10h-1.1zM1056.1 174h0.6v10h-0.6zM760.8 174h0.5v10h-0.5zM778.5 174h1.1v10h-1.1zM864.7 174h0.4v10h-0.4zM732.1 174h0.4v10h-0.4zM1015.5 174h0.7v10h-0.7zM1008.8 174h0.9v10h-0.9zM812.5 174h0.8v10h-0.8zM1011.4 174h1.1v10h-1.1zM924.6 174h0.5v10h-0.5zM829.8 174h0.9v10h-0.9zM1120.5 174h0.5v10h-0.5zM1130.3 174h1v10h-1zM907.8 174h0.4v10h-0.4zM1180.4 174h0.5v10h-0.5zM1213.7 174h0.6v10h-0.6zM967.2 174h0.7v10h-0.7zM753.3 174h0.6v10h-0.6zM760.7 174h0.7v10h-0.7zM773.5 174h0.8v10h-0.8zM986.5 174h1v10h-1zM1127.6 174h0.8v10h-0.8zM1115.1 174h0.6v10h-0.6zM1123.9 174h0.8v10h-0.8zM1133 174h1v10h-1zM1052.9 174h1v10h-1zM723.2 174h1v10h-1zM960.8 174h0.7v10h-0.7zM833.5 174h0.6v10h-0.6zM995.6 174h0.6v10h-0.6zM720.2 174h0.6v10h-0.6zM796.8 174h1.1v10h-1.1zM762.3 174h0.9v10h-0.9zM1099.3 174h1.1v10h-1.1zM1084.9 174h0.9v10h-0.9zM1026.9 174h1v10h-1zM1139.5 174h0.7v10h-0.7zM1201 174h0.8v10h-0.8zM922.2 174h0.5v10h-0.5zM1029 174h0.7v10h-0.7zM872.6 174h0.7v10h-0.7zM926.1 174h1v10h-1zM777.9 174h0.4v10h-0.4zM969.7 174h0.7v10h-0.7zM732.1 174h0.7v10h-0.7zM781.2 174h0.5v10h-0.5zM1104.8 174h0.3v10h-0.3zM820.4 174h0.7v10h-0.7zM1128.8 174h0.9v10h-0.9zM974.9 174h0.7v10h-0.7zM1122.8 174h0.7v10h-0.7zM1109.9 174h0.7v10h-0.7zM778.8 174h1v10h-1zM823.4 174h0.8v10h-0.8zM1055.2 174h0.7v10h-0.7zM899 174h0.3v10h-0.3zM936.8 174h0.4v10h-0.4zM987.1 174h0.7v10h-0.7z"/>
<path fill="#22C98A" fill-opacity="0.6" d="M751.9 174h0.6v10h-0.6zM939.9 174h0.5v10h-0.5zM1194 174h0.5v10h-0.5zM754.4 174h0.3v10h-0.3zM748.7 174h0.6v10h-0.6zM730.4 174h0.7v10h-0.7zM1180.1 174h0.5v10h-0.5zM1069.3 174h0.7v10h-0.7zM803.8 174h0.6v10h-0.6zM725.4 174h0.7v10h-0.7zM768.3 174h0.4v10h-0.4zM946.3 174h0.6v10h-0.6zM809.7 174h0.4v10h-0.4zM858.4 174h1.1v10h-1.1zM1200.4 174h0.5v10h-0.5zM729.2 174h0.7v10h-0.7zM1161.5 174h0.5v10h-0.5zM1213.4 174h0.6v10h-0.6zM852 174h0.4v10h-0.4zM858.8 174h0.7v10h-0.7zM861.6 174h0.6v10h-0.6zM1078.8 174h0.7v10h-0.7zM757.4 174h0.4v10h-0.4zM1148.2 174h0.4v10h-0.4zM913.8 174h0.9v10h-0.9zM1206.2 174h0.7v10h-0.7zM1091.9 174h0.8v10h-0.8zM1118 174h0.7v10h-0.7zM825.4 174h0.7v10h-0.7zM1029.7 174h0.4v10h-0.4zM1012.8 174h0.7v10h-0.7zM907.3 174h0.7v10h-0.7zM900.2 174h0.6v10h-0.6zM1211 174h0.6v10h-0.6zM954.5 174h0.3v10h-0.3zM863.2 174h0.9v10h-0.9zM969.3 174h0.8v10h-0.8zM1175.2 174h0.9v10h-0.9zM1193 174h1v10h-1zM819.9 174h0.8v10h-0.8z"/>
<path fill="#D656F8" fill-opacity="0.6" d="M858.2 174h0.8v10h-0.8zM1182.2 174h0.9v10h-0.9zM1175.8 174h0.8v10h-0.8zM1135.4 174h0.5v10h-0.5zM953.7 174h0.4v10h-0.4zM898.4 174h0.9v10h-0.9zM888.2 174h0.9v10h-0.9zM947.8 174h1v10h-1zM1206.2 174h0.3v10h-0.3zM1062 174h0.8v10h-0.8zM1020 174h0.3v10h-0.3zM1033.7 174h0.9v10h-0.9zM1042.1 174h0.4v10h-0.4zM1049.7 174h0.3v10h-0.3zM914.8 174h0.6v10h-0.6zM1027.1 174h0.6v10h-0.6zM945.2 174h1v10h-1zM887.3 174h0.4v10h-0.4zM1124.8 174h0.6v10h-0.6zM1166.8 174h1v10h-1zM1035.5 174h0.8v10h-0.8zM989.9 174h0.9v10h-0.9zM1207.7 174h0.8v10h-0.8zM985.8 174h1v10h-1zM852 174h0.9v10h-0.9zM1200.4 174h0.5v10h-0.5zM1084.5 174h0.4v10h-0.4zM995.7 174h1.1v10h-1.1zM882 174h0.5v10h-0.5zM907.3 174h0.4v10h-0.4zM932.6 174h1.1v10h-1.1zM1074.1 174h0.7v10h-0.7zM1146.4 174h0.8v10h-0.8zM1208.8 174h0.6v10h-0.6zM1045.5 174h1v10h-1zM964 174h1v10h-1zM989.5 174h0.7v10h-0.7zM996.8 174h0.4v10h-0.4zM979.5 174h0.9v10h-0.9zM1162.5 174h0.7v10h-0.7zM871.6 174h0.8v10h-0.8zM1089.6 174h0.8v10h-0.8zM945.2 174h0.3v10h-0.3zM1044 174h0.5v10h-0.5zM1153.7 174h1v10h-1zM874.3 174h0.9v10h-0.9zM1016 174h0.6v10h-0.6zM1018.6 174h1v10h-1zM884.2 174h1.1v10h-1.1zM1188.1 174h0.6v10h-0.6zM1208.8 174h0.9v10h-0.9zM1101.6 174h0.7v10h-0.7zM1113.3 174h0.8v10h-0.8zM1140.8 174h0.5v10h-0.5zM1005.8 174h0.5v10h-0.5zM850.4 174h0.9v10h-0.9zM1073.3 174h0.5v10h-0.5zM1149.2 174h0.9v10h-0.9zM1131.3 174h0.8v10h-0.8zM962 174h0.8v10h-0.8zM944.4 174h0.7v10h-0.7zM1149.4 174h0.7v10h-0.7zM1167.6 174h1v10h-1zM1020 174h0.6v10h-0.6zM951.9 174h0.7v10h-0.7zM881.5 174h1v10h-1zM940.1 174h0.4v10h-0.4zM900.6 174h0.6v10h-0.6zM972 174h0.8v10h-0.8zM974.2 174h0.5v10h-0.5z"/>
<rect x="716.4" y="184" width="501.9" height="5" fill="#FFFFFF"/>
<path fill="#A8EAD2" fill-opacity="0.5" d="M955.2 184h0.7v5h-0.7zM974.2 184h0.6v5h-0.6zM990.6 184h1.1v5h-1.1zM896.1 184h0.9v5h-0.9zM932.9 184h0.9v5h-0.9zM915.2 184h0.9v5h-0.9zM1213.7 184h0.9v5h-0.9zM1090.5 184h0.3v5h-0.3zM1060.4 184h0.9v5h-0.9zM795.8 184h0.9v5h-0.9zM1128.7 184h1v5h-1zM923.5 184h0.4v5h-0.4zM817.9 184h0.3v5h-0.3zM968.7 184h1.1v5h-1.1zM902.3 184h0.7v5h-0.7zM782.2 184h0.9v5h-0.9zM894.6 184h0.5v5h-0.5zM1125.1 184h0.9v5h-0.9zM1004.8 184h0.9v5h-0.9zM784.3 184h0.9v5h-0.9zM1004.1 184h0.8v5h-0.8zM879.3 184h0.7v5h-0.7zM763.1 184h0.7v5h-0.7zM954.9 184h0.8v5h-0.8zM963.4 184h0.8v5h-0.8zM991.7 184h1.1v5h-1.1zM796.4 184h0.8v5h-0.8zM1089.9 184h0.9v5h-0.9zM803.1 184h0.5v5h-0.5zM1070.2 184h0.8v5h-0.8zM878.6 184h1v5h-1zM938.8 184h0.5v5h-0.5zM951.4 184h0.5v5h-0.5zM1090.6 184h1.1v5h-1.1zM1079.1 184h0.8v5h-0.8zM764.8 184h1.1v5h-1.1zM1153.9 184h1v5h-1zM1081 184h0.4v5h-0.4zM875.5 184h0.7v5h-0.7zM1018.3 184h0.5v5h-0.5z"/>
<rect x="716.4" y="189" width="501.9" height="7" fill="url(#g16)"/>
<path fill="#22C98A" fill-opacity="0.7" d="M1159.8 189h0.7v7h-0.7zM1080 189h1v7h-1zM844.7 189h0.5v7h-0.5zM1007.8 189h0.4v7h-0.4zM730.6 189h0.3v7h-0.3zM1108.8 189h1v7h-1zM909.5 189h0.7v7h-0.7zM1003.1 189h0.5v7h-0.5zM885.8 189h0.6v7h-0.6zM847.3 189h0.9v7h-0.9zM995.1 189h0.4v7h-0.4zM765.7 189h0.9v7h-0.9zM958.7 189h1v7h-1zM1077.2 189h0.8v7h-0.8zM844.4 189h0.8v7h-0.8zM951.5 189h0.9v7h-0.9zM844.5 189h1.1v7h-1.1zM1192.5 189h1.1v7h-1.1zM909.6 189h0.5v7h-0.5zM940.8 189h0.9v7h-0.9zM1044.2 189h0.3v7h-0.3zM829 189h1.1v7h-1.1zM984.4 189h0.4v7h-0.4zM1003.3 189h0.9v7h-0.9zM1172.6 189h0.4v7h-0.4zM1073 189h0.4v7h-0.4zM1037.2 189h0.7v7h-0.7zM727.1 189h0.4v7h-0.4zM926.6 189h0.9v7h-0.9zM1212 189h0.5v7h-0.5zM855.3 189h0.9v7h-0.9zM944.8 189h0.8v7h-0.8zM1143.7 189h0.9v7h-0.9zM932.1 189h0.6v7h-0.6zM1063.4 189h0.8v7h-0.8zM1050 189h0.7v7h-0.7zM1083 189h0.5v7h-0.5zM1123.2 189h0.6v7h-0.6zM927.8 189h0.3v7h-0.3zM1132.6 189h0.8v7h-0.8zM1035 189h0.6v7h-0.6zM747.2 189h0.7v7h-0.7zM973.1 189h0.5v7h-0.5zM1126.1 189h0.3v7h-0.3zM1146 189h1v7h-1zM767.4 189h1.1v7h-1.1zM1187.7 189h0.6v7h-0.6zM934.3 189h1v7h-1zM746.8 189h1v7h-1zM722.4 189h0.8v7h-0.8zM739.6 189h0.7v7h-0.7zM1072 189h0.7v7h-0.7zM898.1 189h0.5v7h-0.5zM763.3 189h0.5v7h-0.5zM823.4 189h0.5v7h-0.5zM774.2 189h0.5v7h-0.5zM920.6 189h0.4v7h-0.4zM1079.8 189h0.5v7h-0.5zM1106.2 189h0.7v7h-0.7zM1077 189h0.9v7h-0.9zM895.9 189h0.8v7h-0.8zM735.6 189h1v7h-1zM1077.8 189h1v7h-1zM891 189h0.4v7h-0.4zM1083.9 189h0.4v7h-0.4zM1156.5 189h0.6v7h-0.6zM1148.7 189h0.4v7h-0.4zM861.5 189h0.9v7h-0.9zM754.5 189h0.9v7h-0.9zM913.7 189h0.8v7h-0.8zM805.4 189h0.5v7h-0.5zM1156.7 189h0.9v7h-0.9zM773.6 189h0.4v7h-0.4zM770.4 189h0.5v7h-0.5zM858.3 189h0.7v7h-0.7zM872.6 189h1.1v7h-1.1zM756.1 189h0.7v7h-0.7zM1031.2 189h0.9v7h-0.9zM955.7 189h0.8v7h-0.8zM792.9 189h0.5v7h-0.5z"/>
<path fill="#FFFFFF" fill-opacity="0.6" d="M1146.6 189h0.3v7h-0.3zM988.4 189h1v7h-1zM1179.2 189h0.5v7h-0.5zM1216.5 189h0.7v7h-0.7zM781.5 189h1v7h-1zM983.7 189h1.1v7h-1.1zM778.9 189h1v7h-1zM873.6 189h0.3v7h-0.3zM796.3 189h0.9v7h-0.9zM1174.8 189h0.9v7h-0.9zM1046.8 189h0.6v7h-0.6zM869.6 189h0.6v7h-0.6zM752.8 189h0.4v7h-0.4zM839.2 189h1v7h-1zM1173.5 189h0.5v7h-0.5zM1193.6 189h0.4v7h-0.4zM1047.6 189h0.4v7h-0.4zM1005 189h1.1v7h-1.1zM1085.8 189h0.8v7h-0.8zM1047.8 189h1v7h-1zM964.7 189h1v7h-1zM1079.6 189h0.9v7h-0.9zM835.2 189h0.9v7h-0.9zM1194.4 189h0.3v7h-0.3zM939.8 189h0.9v7h-0.9zM1122 189h0.9v7h-0.9zM875.6 189h0.7v7h-0.7zM1090.6 189h1.1v7h-1.1zM776 189h0.3v7h-0.3zM1146.4 189h0.3v7h-0.3zM758.8 189h0.6v7h-0.6zM721.3 189h1v7h-1zM729.9 189h0.4v7h-0.4zM967 189h0.6v7h-0.6zM1092.8 189h1v7h-1zM726.7 189h1.1v7h-1.1zM750.5 189h0.6v7h-0.6zM838.5 189h0.4v7h-0.4zM756.1 189h0.9v7h-0.9zM879 189h0.6v7h-0.6zM1163.8 189h0.6v7h-0.6zM791.5 189h0.4v7h-0.4zM897 189h0.3v7h-0.3zM1049 189h0.6v7h-0.6zM1057.5 189h0.7v7h-0.7zM746.2 189h1.1v7h-1.1zM1092.3 189h0.8v7h-0.8zM786 189h0.8v7h-0.8zM983.5 189h0.9v7h-0.9zM746.3 189h0.8v7h-0.8zM1193.1 189h0.9v7h-0.9zM1047.8 189h0.5v7h-0.5zM1032.2 189h0.8v7h-0.8zM839.7 189h1v7h-1zM859.6 189h0.4v7h-0.4zM953.5 189h1v7h-1zM1068.7 189h0.5v7h-0.5zM916.7 189h1v7h-1zM1186.9 189h0.7v7h-0.7zM960.8 189h0.5v7h-0.5z"/>
<rect x="716.4" y="196" width="501.9" height="12" fill="#D656F8"/>
<path fill="#9C80E4" fill-opacity="0.6" d="M1054.8 202.7h1v3.9h-1zM966.7 199.9h0.9v5.8h-0.9zM803.7 198h1.1v2.4h-1.1zM772.2 203.4h0.8v4.5h-0.8zM801.9 199h0.4v2.2h-0.4zM1124.2 198.1h0.6v4.8h-0.6zM858.6 201.5h0.9v2.2h-0.9zM1189.2 200.8h0.6v4.6h-0.6zM861.9 196h0.5v6.4h-0.5zM832.7 196.4h0.7v2.5h-0.7zM1153.6 202.9h0.9v4.8h-0.9zM1129.7 201.8h0.9v4h-0.9zM889.6 196h0.6v3.1h-0.6zM1116 198.3h0.9v6.4h-0.9zM1068.3 199.8h0.8v3.5h-0.8zM771.6 196.3h1v5.7h-1zM1069.9 205.4h0.9v2.4h-0.9zM1213.5 196h0.7v4h-0.7zM1100.6 196.6h0.9v3.2h-0.9zM918.8 200.9h0.9v3.8h-0.9zM1060.9 197h0.4v5.1h-0.4zM1118.7 198.3h0.7v6.7h-0.7zM917.7 202h0.7v4.4h-0.7zM867 197h0.3v5.4h-0.3zM792.8 197.7h0.6v4.5h-0.6zM1174.1 197.5h0.5v6.8h-0.5zM723.4 196.3h1v4.2h-1zM1027.1 201.3h0.9v4.2h-0.9zM1214.8 202.6h0.5v5.3h-0.5zM863 202.3h1v2.6h-1zM984.1 201.1h0.9v4.8h-0.9zM769 200.9h1v4.8h-1zM1098.3 199.9h0.7v6.5h-0.7zM844.2 201.6h0.4v5.8h-0.4zM884.9 202.1h0.6v5.6h-0.6zM1025.2 199.5h0.4v4.7h-0.4zM817.3 198.9h0.8v5h-0.8zM1022.1 197.8h0.4v6.7h-0.4zM885.4 202.8h1v5.1h-1zM1111.2 199.5h0.9v7h-0.9z"/>
<path fill="#9C80E4" fill-opacity="0.8" d="M886.6 196h0.7v12h-0.7zM903.7 196h0.7v12h-0.7zM924.1 196h1.1v12h-1.1zM913.5 196h1v12h-1zM884.1 196h0.7v12h-0.7zM903.1 196h0.5v12h-0.5zM921.8 196h0.3v12h-0.3zM918.4 196h1.1v12h-1.1zM897.9 196h0.3v12h-0.3zM901.7 196h0.4v12h-0.4zM923 196h0.7v12h-0.7zM891.7 196h0.9v12h-0.9zM905.1 196h0.7v12h-0.7zM892.7 196h1.1v12h-1.1zM919.9 196h1v12h-1zM917.9 196h1.1v12h-1.1zM893.6 196h0.9v12h-0.9zM900.5 196h0.5v12h-0.5zM913.2 196h0.7v12h-0.7zM894.3 196h0.7v12h-0.7zM900.5 196h0.8v12h-0.8zM915.3 196h0.9v12h-0.9zM895.6 196h0.6v12h-0.6zM893.3 196h1.1v12h-1.1zM924.2 196h0.5v12h-0.5zM899.1 196h0.7v12h-0.7zM888.6 196h0.8v12h-0.8zM910.8 196h0.5v12h-0.5zM896 196h0.8v12h-0.8zM922.7 196h0.4v12h-0.4zM913.6 196h1v12h-1zM914.4 196h1.1v12h-1.1zM894.4 196h0.5v12h-0.5zM923.7 196h0.7v12h-0.7zM912.1 196h0.7v12h-0.7zM907.7 196h0.3v12h-0.3zM886.7 196h0.4v12h-0.4zM919.4 196h0.4v12h-0.4zM899.3 196h0.4v12h-0.4zM910.1 196h0.8v12h-0.8zM916.8 196h0.9v12h-0.9zM915.5 196h0.5v12h-0.5zM902.4 196h1.1v12h-1.1zM901.8 196h1v12h-1zM906.4 196h0.6v12h-0.6zM921.8 196h0.3v12h-0.3zM910.4 196h0.9v12h-0.9zM918 196h0.3v12h-0.3zM909.2 196h0.5v12h-0.5zM911.2 196h0.3v12h-0.3zM903.3 196h0.7v12h-0.7zM895.1 196h0.5v12h-0.5zM914.2 196h0.8v12h-0.8zM899.8 196h0.7v12h-0.7zM909.6 196h0.8v12h-0.8zM911.9 196h1v12h-1zM924 196h0.4v12h-0.4zM903.7 196h0.8v12h-0.8zM889.2 196h0.5v12h-0.5zM891.3 196h0.6v12h-0.6z"/>
<rect x="716.4" y="208" width="501.9" height="5" fill="#FFFFFF"/>
<path fill="#A8EAD2" fill-opacity="0.5" d="M884.4 208h0.4v5h-0.4zM1068.6 208h0.9v5h-0.9zM830.3 208h0.4v5h-0.4zM877.9 208h0.9v5h-0.9zM775.2 208h0.9v5h-0.9zM1191.9 208h0.5v5h-0.5zM831.5 208h0.8v5h-0.8zM1139.7 208h0.5v5h-0.5zM746.1 208h0.6v5h-0.6zM918.1 208h0.4v5h-0.4zM1119.5 208h0.4v5h-0.4zM1047 208h0.5v5h-0.5zM772.2 208h0.6v5h-0.6zM915.1 208h0.6v5h-0.6zM1034.2 208h0.7v5h-0.7zM873.6 208h0.5v5h-0.5zM1016.6 208h1v5h-1zM1140.1 208h0.5v5h-0.5zM1056.2 208h0.6v5h-0.6zM1038.8 208h0.4v5h-0.4zM1100.3 208h0.6v5h-0.6zM1092.1 208h1v5h-1zM781 208h1v5h-1zM1195.8 208h0.5v5h-0.5zM1045.4 208h1v5h-1zM737.7 208h0.8v5h-0.8zM871.1 208h0.7v5h-0.7zM804.3 208h0.6v5h-0.6zM1164.9 208h0.5v5h-0.5zM922.1 208h0.4v5h-0.4z"/>
<path fill="#D656F8" fill-opacity="0.4" d="M902 208h0.5v5h-0.5zM895.5 208h0.6v5h-0.6zM981.1 208h0.8v5h-0.8zM1027.2 208h0.3v5h-0.3zM961.5 208h1.1v5h-1.1zM1150.1 208h0.8v5h-0.8zM1062 208h0.6v5h-0.6zM732.5 208h0.5v5h-0.5zM1185.7 208h0.6v5h-0.6zM957.4 208h0.5v5h-0.5z"/>
<rect x="716.4" y="213" width="501.9" height="56" fill="#D656F8"/>
<rect x="716.4" y="269" width="501.9" height="1.5" fill="#D656F8"/>
<path fill="#9C80E4" fill-opacity="0.6" d="M727.1 269h0.7v1.5h-0.7zM756.7 269h0.9v1.5h-0.9zM1004.1 269h0.4v1.5h-0.4zM826.4 269h0.3v1.5h-0.3zM797.8 269h0.5v1.5h-0.5zM908.8 269h0.6v1.5h-0.6zM743 269h1.1v1.5h-1.1zM919.4 269h1.1v1.5h-1.1zM809.1 269h0.8v1.5h-0.8zM1149.1 269h0.6v1.5h-0.6zM1090.8 269h0.5v1.5h-0.5zM1070.6 269h0.4v1.5h-0.4zM1141.8 269h1v1.5h-1zM859.2 269h0.5v1.5h-0.5zM1074.2 269h0.6v1.5h-0.6zM1017.2 269h0.6v1.5h-0.6zM1182.8 269h0.8v1.5h-0.8zM1153.5 269h0.7v1.5h-0.7zM1004.6 269h0.9v1.5h-0.9zM1143.9 269h0.9v1.5h-0.9zM934.6 269h0.8v1.5h-0.8zM1085.3 269h0.5v1.5h-0.5zM776.6 269h0.8v1.5h-0.8zM846.1 269h0.9v1.5h-0.9zM723.6 269h0.8v1.5h-0.8zM738.7 269h0.3v1.5h-0.3zM801.6 269h0.6v1.5h-0.6zM779.7 269h0.8v1.5h-0.8zM1150.3 269h0.8v1.5h-0.8zM816.6 269h1v1.5h-1zM1205.6 269h0.6v1.5h-0.6zM1200.3 269h0.8v1.5h-0.8zM718.2 269h0.3v1.5h-0.3zM797.4 269h1.1v1.5h-1.1zM812.9 269h1v1.5h-1zM1084 269h1v1.5h-1zM1039.8 269h0.5v1.5h-0.5zM1109.5 269h0.3v1.5h-0.3zM887.7 269h0.6v1.5h-0.6zM1107.8 269h0.6v1.5h-0.6zM786.9 269h0.4v1.5h-0.4zM810.7 269h0.6v1.5h-0.6zM980.4 269h0.3v1.5h-0.3zM1203.7 269h0.8v1.5h-0.8zM848.4 269h0.8v1.5h-0.8zM1217.1 269h0.4v1.5h-0.4zM752.9 269h0.5v1.5h-0.5zM1007.1 269h1v1.5h-1zM988.2 269h0.4v1.5h-0.4zM1064.6 269h1.1v1.5h-1.1zM1051.2 269h0.5v1.5h-0.5zM1010.6 269h0.8v1.5h-0.8zM1040.1 269h0.6v1.5h-0.6zM993.1 269h0.6v1.5h-0.6zM1087.1 269h0.4v1.5h-0.4zM1072.9 269h1v1.5h-1zM928.7 269h0.5v1.5h-0.5zM843.6 269h0.6v1.5h-0.6zM1027.6 269h0.7v1.5h-0.7zM804.6 269h0.7v1.5h-0.7z"/>
<rect x="716.4" y="270.5" width="501.9" height="7.5" fill="#22C98A"/>
<path fill="#FFFFFF" fill-opacity="0.7" d="M722 270.5h0.5v7.5h-0.5zM725.5 270.5h0.9v7.5h-0.9zM727.6 270.5h0.5v7.5h-0.5zM716.7 270.5h0.5v7.5h-0.5zM731.6 270.5h0.8v7.5h-0.8zM722 270.5h0.5v7.5h-0.5zM733.5 270.5h0.4v7.5h-0.4zM731.9 270.5h0.7v7.5h-0.7zM723.4 270.5h0.8v7.5h-0.8zM719.4 270.5h0.7v7.5h-0.7zM725.4 270.5h0.4v7.5h-0.4zM726.9 270.5h1v7.5h-1zM737.8 270.5h0.7v7.5h-0.7zM737 270.5h0.9v7.5h-0.9zM728.6 270.5h0.5v7.5h-0.5zM723.5 270.5h0.6v7.5h-0.6zM718.8 270.5h0.8v7.5h-0.8zM728.9 270.5h0.8v7.5h-0.8zM716.8 270.5h1v7.5h-1zM733.1 270.5h0.7v7.5h-0.7zM723.8 270.5h0.9v7.5h-0.9zM721.4 270.5h1v7.5h-1zM720.9 270.5h0.7v7.5h-0.7zM723.6 270.5h1.1v7.5h-1.1zM722.1 270.5h0.8v7.5h-0.8zM718.1 270.5h1v7.5h-1zM740.2 270.5h0.9v7.5h-0.9zM718.4 270.5h0.5v7.5h-0.5zM719.5 270.5h0.6v7.5h-0.6zM738.4 270.5h0.4v7.5h-0.4zM718.4 270.5h0.6v7.5h-0.6zM728.9 270.5h0.5v7.5h-0.5zM727.8 270.5h0.9v7.5h-0.9zM728.1 270.5h0.6v7.5h-0.6zM734.8 270.5h0.9v7.5h-0.9zM727.6 270.5h1v7.5h-1zM735.6 270.5h0.9v7.5h-0.9zM730.7 270.5h0.4v7.5h-0.4zM735.2 270.5h0.9v7.5h-0.9zM731.9 270.5h0.8v7.5h-0.8z"/>
<path fill="#A8EAD2" fill-opacity="0.6" d="M990 270.5h0.9v7.5h-0.9zM845.4 270.5h0.7v7.5h-0.7zM1175.3 270.5h1v7.5h-1zM1057.4 270.5h0.3v7.5h-0.3zM942.6 270.5h0.3v7.5h-0.3zM1165.4 270.5h0.8v7.5h-0.8zM1090 270.5h0.8v7.5h-0.8zM779.4 270.5h0.7v7.5h-0.7zM1124.2 270.5h0.5v7.5h-0.5zM1096 270.5h0.4v7.5h-0.4zM852.1 270.5h0.7v7.5h-0.7zM744.1 270.5h0.6v7.5h-0.6zM977 270.5h0.7v7.5h-0.7zM1166.9 270.5h0.9v7.5h-0.9zM841.7 270.5h1v7.5h-1zM1001.8 270.5h0.9v7.5h-0.9zM765.9 270.5h0.6v7.5h-0.6zM889 270.5h0.7v7.5h-0.7zM1165.8 270.5h0.4v7.5h-0.4zM865.1 270.5h0.4v7.5h-0.4zM1095.1 270.5h0.7v7.5h-0.7zM977.5 270.5h0.8v7.5h-0.8zM814.7 270.5h0.8v7.5h-0.8zM1022.4 270.5h1v7.5h-1zM827.3 270.5h0.7v7.5h-0.7zM958.8 270.5h0.4v7.5h-0.4zM1112.5 270.5h0.5v7.5h-0.5zM1081.8 270.5h0.5v7.5h-0.5zM1099 270.5h1.1v7.5h-1.1zM754.5 270.5h0.5v7.5h-0.5z"/>
<rect x="716.4" y="278" width="501.9" height="2" fill="#F2D2F8"/>
<path fill="#FFFFFF" d="M735.2 278h0.5v2h-0.5zM722.4 278h0.6v2h-0.6zM734.1 278h1v2h-1zM732.6 278h0.4v2h-0.4zM728.4 278h0.3v2h-0.3zM732.9 278h0.9v2h-0.9zM721.1 278h0.3v2h-0.3zM733.4 278h0.9v2h-0.9zM740.2 278h0.3v2h-0.3zM739.1 278h0.9v2h-0.9zM721.3 278h0.3v2h-0.3zM738 278h0.3v2h-0.3zM727.4 278h0.6v2h-0.6zM730.8 278h0.4v2h-0.4zM730.2 278h0.9v2h-0.9zM726.2 278h0.4v2h-0.4zM731.7 278h0.6v2h-0.6zM740.2 278h0.5v2h-0.5zM720.6 278h0.7v2h-0.7zM725.9 278h0.4v2h-0.4zM731.6 278h0.5v2h-0.5zM740.1 278h0.4v2h-0.4zM718.9 278h0.7v2h-0.7zM735.4 278h1.1v2h-1.1zM734.2 278h1v2h-1zM728.9 278h0.9v2h-0.9zM726.7 278h0.7v2h-0.7zM736 278h0.3v2h-0.3zM734.4 278h0.7v2h-0.7zM735.6 278h0.7v2h-0.7zM716.8 278h0.8v2h-0.8zM716.5 278h0.8v2h-0.8zM739 278h0.7v2h-0.7zM726.2 278h0.9v2h-0.9zM721.4 278h1v2h-1zM716.7 278h1v2h-1zM717 278h1v2h-1zM727.1 278h0.7v2h-0.7zM723.9 278h0.9v2h-0.9zM741.1 278h0.4v2h-0.4z"/>
<rect x="716.4" y="280" width="501.9" height="58.5" fill="#D656F8"/>
<rect x="716.4" y="338.5" width="501.9" height="8.5" fill="#22C98A"/>
<path fill="#A8EAD2" fill-opacity="0.6" d="M1117.1 338.5h0.4v8.5h-0.4zM1169.2 338.5h0.3v8.5h-0.3zM1071.9 338.5h0.5v8.5h-0.5zM1160.6 338.5h0.5v8.5h-0.5zM1193.4 338.5h0.9v8.5h-0.9zM1025.1 338.5h1.1v8.5h-1.1zM1190.8 338.5h0.9v8.5h-0.9zM1158.4 338.5h0.5v8.5h-0.5zM1052 338.5h0.6v8.5h-0.6zM1216.2 338.5h0.9v8.5h-0.9zM1037.4 338.5h0.5v8.5h-0.5zM1143.8 338.5h0.7v8.5h-0.7zM1056.2 338.5h0.4v8.5h-0.4zM1056.1 338.5h0.6v8.5h-0.6zM1057.3 338.5h0.5v8.5h-0.5zM1134.1 338.5h0.9v8.5h-0.9zM1126 338.5h0.6v8.5h-0.6zM1036.5 338.5h0.4v8.5h-0.4zM1216.7 338.5h0.5v8.5h-0.5zM1137 338.5h0.6v8.5h-0.6zM1020.8 338.5h0.8v8.5h-0.8zM1127.3 338.5h0.3v8.5h-0.3zM1142.5 338.5h1v8.5h-1zM1080.2 338.5h0.7v8.5h-0.7zM1208.7 338.5h0.9v8.5h-0.9zM1187.6 338.5h0.7v8.5h-0.7zM1172.6 338.5h0.6v8.5h-0.6zM1037.1 338.5h0.5v8.5h-0.5zM1054.6 338.5h0.5v8.5h-0.5zM1205.7 338.5h0.4v8.5h-0.4zM1164.8 338.5h0.5v8.5h-0.5zM1086.9 338.5h1.1v8.5h-1.1zM1128.1 338.5h0.8v8.5h-0.8zM1179.6 338.5h0.4v8.5h-0.4zM1074.3 338.5h0.4v8.5h-0.4zM1187.7 338.5h0.8v8.5h-0.8zM1184.9 338.5h0.8v8.5h-0.8zM1014.8 338.5h0.7v8.5h-0.7zM1184.8 338.5h1.1v8.5h-1.1zM1186.6 338.5h0.3v8.5h-0.3z"/>
<rect x="716.4" y="347" width="501.9" height="6" fill="#D4F3E8"/>
<path fill="#FFFFFF" fill-opacity="0.8" d="M1173 347h0.7v6h-0.7zM1039.6 347h0.4v6h-0.4zM1209.5 347h0.9v6h-0.9zM997.8 347h1v6h-1zM905.1 347h0.6v6h-0.6zM862.1 347h0.4v6h-0.4zM1093.4 347h0.8v6h-0.8zM1045.6 347h0.9v6h-0.9zM935.5 347h0.7v6h-0.7zM973.2 347h0.5v6h-0.5zM1167 347h0.9v6h-0.9zM855.1 347h0.5v6h-0.5zM1146.1 347h0.5v6h-0.5zM935.8 347h0.5v6h-0.5zM960.2 347h0.4v6h-0.4zM873.3 347h0.4v6h-0.4zM1032.7 347h0.8v6h-0.8zM853.2 347h1v6h-1zM1200.6 347h1.1v6h-1.1zM851.7 347h0.9v6h-0.9zM1080.1 347h0.4v6h-0.4zM917.9 347h1v6h-1zM1025.7 347h0.3v6h-0.3zM759 347h0.7v6h-0.7zM1174.4 347h0.9v6h-0.9zM1200.1 347h0.5v6h-0.5zM825.8 347h0.9v6h-0.9zM940.4 347h1v6h-1zM1057 347h0.5v6h-0.5zM1196.9 347h0.3v6h-0.3zM1196.3 347h1v6h-1zM1020.8 347h0.4v6h-0.4zM819.1 347h0.3v6h-0.3zM970.7 347h0.4v6h-0.4zM1130.7 347h0.7v6h-0.7zM1159.3 347h0.6v6h-0.6zM952.3 347h0.7v6h-0.7zM727.2 347h0.4v6h-0.4zM1028.3 347h0.5v6h-0.5zM1145.8 347h0.9v6h-0.9zM838.7 347h0.7v6h-0.7zM1071.5 347h0.4v6h-0.4zM1060.4 347h0.3v6h-0.3zM719.2 347h0.8v6h-0.8zM925.7 347h0.8v6h-0.8zM786.8 347h1v6h-1zM913.6 347h0.9v6h-0.9zM1157.7 347h0.5v6h-0.5zM815.1 347h0.6v6h-0.6zM981.8 347h1.1v6h-1.1zM936.9 347h0.4v6h-0.4zM1119.4 347h1v6h-1zM1180.4 347h1v6h-1zM869.7 347h0.6v6h-0.6zM842 347h0.9v6h-0.9zM1153.8 347h0.6v6h-0.6zM1018.9 347h0.3v6h-0.3zM737.9 347h0.8v6h-0.8zM855.9 347h0.6v6h-0.6zM781.7 347h1.1v6h-1.1zM1119.7 347h1v6h-1zM886.7 347h0.4v6h-0.4zM785.5 347h1v6h-1zM957.7 347h0.5v6h-0.5zM1174.5 347h1v6h-1zM814.6 347h0.9v6h-0.9zM805.4 347h0.4v6h-0.4zM819.1 347h0.8v6h-0.8zM945.3 347h0.6v6h-0.6zM1097.1 347h0.5v6h-0.5z"/>
<path fill="#22C98A" fill-opacity="0.5" d="M1104.1 347h0.9v6h-0.9zM866.2 347h0.3v6h-0.3zM863.9 347h0.6v6h-0.6zM743.8 347h0.3v6h-0.3zM1079.9 347h0.3v6h-0.3zM1212.3 347h0.3v6h-0.3zM880.9 347h0.8v6h-0.8zM1160 347h0.5v6h-0.5zM834 347h1.1v6h-1.1zM1060.2 347h0.4v6h-0.4zM1095.9 347h0.4v6h-0.4zM936.2 347h0.9v6h-0.9zM861.9 347h1v6h-1zM735.4 347h0.4v6h-0.4zM1045.4 347h1.1v6h-1.1zM1040.2 347h0.8v6h-0.8zM1050.8 347h0.6v6h-0.6zM903.2 347h0.8v6h-0.8zM761.4 347h1.1v6h-1.1zM964.3 347h0.6v6h-0.6z"/>
<rect x="716.4" y="353" width="501.9" height="6" fill="#C6EFE0"/>
<path fill="#FFFFFF" fill-opacity="0.8" d="M820.4 353h0.9v6h-0.9zM1117.7 353h0.6v6h-0.6zM896.5 353h0.7v6h-0.7zM794.2 353h1v6h-1zM740.2 353h0.9v6h-0.9zM1134.3 353h0.9v6h-0.9zM748.5 353h0.5v6h-0.5zM717.5 353h0.9v6h-0.9zM1045 353h1.1v6h-1.1zM770.1 353h1v6h-1zM890.2 353h0.8v6h-0.8zM1202.3 353h0.5v6h-0.5zM1072.9 353h0.4v6h-0.4zM732.3 353h0.6v6h-0.6zM786.3 353h0.9v6h-0.9zM998 353h0.5v6h-0.5zM772.4 353h0.7v6h-0.7zM1136.7 353h0.8v6h-0.8zM1147.2 353h0.7v6h-0.7zM1135.1 353h0.5v6h-0.5zM1215 353h0.6v6h-0.6zM1155.8 353h0.9v6h-0.9zM1017 353h0.6v6h-0.6zM835.4 353h0.6v6h-0.6zM1152 353h0.8v6h-0.8zM1047.5 353h0.6v6h-0.6zM873.5 353h0.9v6h-0.9zM788.7 353h0.4v6h-0.4zM991.9 353h1v6h-1zM716.4 353h0.4v6h-0.4zM1006.9 353h0.6v6h-0.6zM1110.2 353h0.7v6h-0.7zM1000.8 353h0.3v6h-0.3zM878.7 353h0.5v6h-0.5zM954.2 353h0.5v6h-0.5zM723.3 353h1v6h-1zM946.2 353h0.6v6h-0.6zM834.1 353h0.4v6h-0.4zM837.4 353h0.9v6h-0.9zM1159.3 353h0.9v6h-0.9zM1160.3 353h1v6h-1zM987.3 353h0.6v6h-0.6zM783.5 353h1v6h-1zM915.5 353h0.8v6h-0.8zM825.4 353h0.6v6h-0.6zM728.5 353h0.6v6h-0.6zM772.1 353h0.7v6h-0.7zM1205.9 353h0.8v6h-0.8zM886.1 353h0.4v6h-0.4zM765.4 353h0.8v6h-0.8zM720.6 353h1.1v6h-1.1zM851.1 353h0.8v6h-0.8zM823.2 353h0.9v6h-0.9zM1079.5 353h1v6h-1zM1103.5 353h0.7v6h-0.7zM1122.7 353h0.6v6h-0.6zM763 353h0.4v6h-0.4zM777 353h0.6v6h-0.6zM944.8 353h1v6h-1zM1113.9 353h1v6h-1zM805.6 353h0.3v6h-0.3zM995.3 353h0.6v6h-0.6zM1033.6 353h1v6h-1zM1078 353h0.8v6h-0.8zM733.3 353h0.9v6h-0.9zM741.7 353h1v6h-1zM873.8 353h0.6v6h-0.6zM912.4 353h1.1v6h-1.1zM869 353h0.9v6h-0.9zM1217.1 353h0.4v6h-0.4zM976.4 353h0.4v6h-0.4zM778.7 353h0.5v6h-0.5zM1214.6 353h0.9v6h-0.9zM717.6 353h1v6h-1zM985.1 353h0.3v6h-0.3zM1023.5 353h0.6v6h-0.6zM1013.3 353h1.1v6h-1.1zM782 353h0.5v6h-0.5zM978.9 353h0.9v6h-0.9zM812.2 353h1v6h-1z"/>
<path fill="#FFFFFF" d="M722.4 353h0.3v6h-0.3zM732.8 353h0.6v6h-0.6zM718.5 353h0.8v6h-0.8zM729 353h0.6v6h-0.6zM720.8 353h0.8v6h-0.8zM727.9 353h0.7v6h-0.7zM727.5 353h0.9v6h-0.9zM718.8 353h1.1v6h-1.1zM729.1 353h0.7v6h-0.7zM717.3 353h0.6v6h-0.6zM726.4 353h0.8v6h-0.8zM719.5 353h0.9v6h-0.9zM716.7 353h1v6h-1zM720.2 353h1v6h-1zM725.9 353h0.4v6h-0.4zM719.4 353h0.5v6h-0.5zM716.9 353h0.6v6h-0.6zM724.7 353h0.4v6h-0.4zM721.9 353h0.8v6h-0.8zM729.6 353h0.9v6h-0.9zM716.9 353h0.6v6h-0.6zM721.6 353h0.5v6h-0.5zM732.5 353h0.8v6h-0.8zM726.9 353h0.5v6h-0.5zM722 353h1v6h-1zM727.5 353h1v6h-1zM725.8 353h0.3v6h-0.3zM732.2 353h0.4v6h-0.4zM719.7 353h0.6v6h-0.6zM726.6 353h0.8v6h-0.8z"/>
<rect x="716.4" y="359" width="501.9" height="5.5" fill="#FFFFFF"/>
<path fill="#A8EAD2" fill-opacity="0.5" d="M967.5 359h0.9v5.5h-0.9zM754 359h0.5v5.5h-0.5zM872.2 359h0.9v5.5h-0.9zM970.5 359h0.5v5.5h-0.5zM1074.4 359h0.6v5.5h-0.6zM1118.9 359h0.4v5.5h-0.4zM727.5 359h0.9v5.5h-0.9zM785.5 359h1v5.5h-1zM1017.7 359h0.7v5.5h-0.7zM747.7 359h0.9v5.5h-0.9zM726.4 359h0.8v5.5h-0.8zM889 359h0.8v5.5h-0.8zM758.4 359h0.7v5.5h-0.7zM928.9 359h0.3v5.5h-0.3zM722.5 359h0.5v5.5h-0.5z"/>
<rect x="106.5" y="56" width="505" height="409.5" fill="none" stroke="#000" stroke-width="3"/>
<rect x="714.7" y="56" width="505.3" height="310.5" fill="none" stroke="#000" stroke-width="3"/>
<path d="M89.2 57.6V464.5" stroke="#000" stroke-width="3.6"/>
<rect x="83.3" y="84.3" width="11.8" height="60.8" fill="#0026E6" stroke="#000" stroke-width="3.8"/>
<rect x="83.3" y="175.5" width="11.8" height="5" fill="#0026E6" stroke="#000" stroke-width="3.8"/>
<rect x="83.3" y="196.3" width="11.8" height="10.8" fill="#0026E6" stroke="#000" stroke-width="3.8"/>
<rect x="83.3" y="214.9" width="11.8" height="52.8" fill="#068A06" stroke="#000" stroke-width="3.8"/>
<rect x="83.3" y="283.5" width="11.8" height="54.2" fill="#FFCC00" stroke="#000" stroke-width="3.8"/>
<rect x="83.3" y="386.9" width="11.8" height="68.2" fill="#FF0000" stroke="#000" stroke-width="3.8"/>
<path d="M697.8 57.6V366" stroke="#000" stroke-width="3.6"/>
<rect x="691.9" y="84.3" width="11.8" height="60.8" fill="#0026E6" stroke="#000" stroke-width="3.8"/>
<rect x="691.9" y="175.5" width="11.8" height="5" fill="#0026E6" stroke="#000" stroke-width="3.8"/>
<rect x="691.9" y="196.3" width="11.8" height="10.8" fill="#0026E6" stroke="#000" stroke-width="3.8"/>
<rect x="691.9" y="214.9" width="11.8" height="52.8" fill="#068A06" stroke="#000" stroke-width="3.8"/>
<rect x="691.9" y="283.5" width="11.8" height="54.2" fill="#FFCC00" stroke="#000" stroke-width="3.8"/>
<path d="M36 148.5H30.5V212.5H36" stroke="#000" stroke-width="2.6" fill="none"/>
<path d="M648.6 148.5H643.1V212.5H648.6" stroke="#000" stroke-width="2.6" fill="none"/>
<text x="40.05" y="121" style="font-size:24.64px" textLength="31.13" lengthAdjust="spacingAndGlyphs">H1</text>
<text x="0.21" y="184" style="font-size:24.64px" textLength="24.84" lengthAdjust="spacingAndGlyphs">L1</text>
<text x="37.97" y="184" style="font-size:24.64px" textLength="37.28" lengthAdjust="spacingAndGlyphs">H1'</text>
<text x="36.91" y="212" style="font-size:24.64px" textLength="43.4" lengthAdjust="spacingAndGlyphs">H1''</text>
<text x="40.04" y="249.6" style="font-size:24.29px" textLength="31.26" lengthAdjust="spacingAndGlyphs">H2</text>
<text x="40.06" y="318.16" style="font-size:23.94px" textLength="30.99" lengthAdjust="spacingAndGlyphs">H3</text>
<text x="40.01" y="425" style="font-size:24.64px" textLength="31.82" lengthAdjust="spacingAndGlyphs">H4</text>
<text x="647.05" y="121" style="font-size:24.64px" textLength="31.13" lengthAdjust="spacingAndGlyphs">H1</text>
<text x="615.21" y="184" style="font-size:24.64px" textLength="24.84" lengthAdjust="spacingAndGlyphs">L1</text>
<text x="646.91" y="184" style="font-size:24.64px" textLength="38.38" lengthAdjust="spacingAndGlyphs">H1'</text>
<text x="646.96" y="212" style="font-size:24.64px" textLength="42.32" lengthAdjust="spacingAndGlyphs">H1''</text>
<text x="647.04" y="249.6" style="font-size:24.29px" textLength="31.26" lengthAdjust="spacingAndGlyphs">H2</text>
<text x="647.06" y="318.16" style="font-size:23.94px" textLength="30.99" lengthAdjust="spacingAndGlyphs">H3</text>
<text x="105.24" y="45.6" style="font-size:32.75px;font-style:italic" textLength="49.56" lengthAdjust="spacingAndGlyphs">PRL</text>
<text x="714.48" y="47" style="font-size:30.34px;font-style:italic" textLength="25.81" lengthAdjust="spacingAndGlyphs">Vi</text>
<text x="6.79" y="25.15" style="font-size:45.27px" textLength="19.66" lengthAdjust="spacingAndGlyphs">a</text>
<path d="M106.5 466v6M714.6 367v6M169.5 466v3M777.6 367v3M232.4 466v6M840.6 367v6M295.4 466v3M903.6 367v3M358.4 466v6M966.6 367v6M421.4 466v3M1029.6 367v3M484.4 466v6M1092.6 367v6M547.3 466v3M1155.6 367v3M610.3 466v6M1218.6 367v6" stroke="#000" stroke-width="2.8" fill="none"/>
<text x="96.92" y="493.77" style="font-size:23.1px" textLength="15.06" lengthAdjust="spacingAndGlyphs">0</text>
<text x="224.59" y="493.77" style="font-size:23.43px" textLength="14.05" lengthAdjust="spacingAndGlyphs">5</text>
<text x="342.05" y="493.77" style="font-size:23.1px" textLength="28.92" lengthAdjust="spacingAndGlyphs">10</text>
<text x="470.55" y="493.77" style="font-size:23.43px" textLength="27.5" lengthAdjust="spacingAndGlyphs">15</text>
<text x="595.78" y="493.77" style="font-size:23.1px" textLength="27.13" lengthAdjust="spacingAndGlyphs">20</text>
<text x="708" y="395.77" style="font-size:22.54px" textLength="13.9" lengthAdjust="spacingAndGlyphs">0</text>
<text x="834.99" y="395.77" style="font-size:22.86px" textLength="14.05" lengthAdjust="spacingAndGlyphs">5</text>
<text x="953.12" y="395.77" style="font-size:22.54px" textLength="27.81" lengthAdjust="spacingAndGlyphs">10</text>
<text x="1081.19" y="395.77" style="font-size:22.86px" textLength="26.83" lengthAdjust="spacingAndGlyphs">15</text>
<text x="1205.73" y="395.77" style="font-size:22.54px" textLength="28.22" lengthAdjust="spacingAndGlyphs">20</text>
<text x="311.51" y="515.83" style="font-size:24.6px" textLength="102.08" lengthAdjust="spacingAndGlyphs">Time (ns)</text>
<text x="923.52" y="417.28" style="font-size:22.46px" textLength="101.06" lengthAdjust="spacingAndGlyphs">Time (ns)</text>
<rect x="708.5" y="440.5" width="18.4" height="18.4" fill="#D656F8" stroke="#000" stroke-width="3"/>
<rect x="830.5" y="440.5" width="18.4" height="18.4" fill="#22C98A" stroke="#000" stroke-width="3"/>
<rect x="919.5" y="440.5" width="18.4" height="18.4" fill="#1F3BF5" stroke="#000" stroke-width="3"/>
<rect x="1039.9" y="440.5" width="18.4" height="18.4" fill="#99CC00" stroke="#000" stroke-width="3"/>
<rect x="1162.5" y="440.5" width="18.4" height="18.4" fill="#FFFFFF" stroke="#000" stroke-width="3"/>
<text x="730.03" y="458.56" style="font-size:24.5px" textLength="76.19" lengthAdjust="spacingAndGlyphs">α-Helix</text>
<text x="853.53" y="458.55" style="font-size:24.86px" textLength="46.96" lengthAdjust="spacingAndGlyphs">Turn</text>
<text x="942.36" y="458.76" style="font-size:24.37px" textLength="13.11" lengthAdjust="spacingAndGlyphs">3</text>
<text x="955.41" y="463.7" style="font-size:10.42px" textLength="11.79" lengthAdjust="spacingAndGlyphs">10</text>
<text x="966.96" y="458.56" style="font-size:23.67px" textLength="59.09" lengthAdjust="spacingAndGlyphs">-Helix</text>
<text x="1062.38" y="458.75" style="font-size:24.5px" textLength="81.37" lengthAdjust="spacingAndGlyphs">β-Sheet</text>
<text x="1185.88" y="458.56" style="font-size:23.67px" textLength="38.64" lengthAdjust="spacingAndGlyphs">Coil</text>
<path d="M1232 162H1276" stroke="#000" stroke-width="2.4"/><path d="M1223.5 162L1235 156.5V167.5Z" fill="#000"/>
<text x="1280.12" y="169" style="font-size:24.64px" textLength="30.01" lengthAdjust="spacingAndGlyphs">H1</text>
<text x="1309.38" y="175" style="font-size:20.69px" textLength="21.23" lengthAdjust="spacingAndGlyphs">Vi</text>
<polygon fill="#D9D9D9" points="103.6,796.8 103.6,796.8 108.2,796.8 112.8,745 117.4,796.8 122,796.8 126.6,796.8 131.2,796.8 135.8,660.3 140.4,679.3 145,717.3 149.6,755.3 154.2,742.4 158.8,796.8 163.4,796.8 168,638.9 172.6,632.6 177.2,651.6 181.8,634.4 186.4,634.4 191,636.1 195.6,638.7 200.2,637.8 204.8,632.6 209.4,636.1 214,630.9 218.6,630 223.2,627.5 227.8,630.9 232.4,628.3 237,630 241.6,635.2 246.2,637.8 250.8,630.9 255.4,630.9 260,632.6 264.6,630.4 269.2,633.3 273.8,632.1 278.4,644.4 283,637.5 287.6,658 292.2,694.8 296.8,790.8 301.4,766.9 306,782.1 310.6,796.8 315.2,796.8 319.8,785 324.4,796.8 329,796.3 333.6,770.9 338.2,761.9 342.8,796.8 347.4,796.8 352,796.8 356.6,788.7 361.2,796.8 365.8,796.8 370.4,746.3 375,796.3 379.6,753.8 384.2,747.6 388.8,796.8 393.4,796.8 398,796.8 402.6,796.8 407.2,708.3 411.8,796.8 416.4,654.6 421,667 425.6,643.7 430.2,644.9 434.8,661.2 439.4,746.5 444,698 448.6,796.8 453.2,796.8 457.8,694.7 462.4,680 467,658.6 471.6,654.2 476.2,748.9 480.8,637.5 485.4,635.8 490,637 494.6,632.1 499.2,639.9 503.8,632.6 508.4,672.7 513,669.8 517.6,786.1 522.2,648.9 526.8,672.7 531.4,686.6 536,640.9 540.6,630.6 545.2,642.8 549.8,638.9 554.4,648.9 559,630.6 563.6,634.9 568.2,648.9 572.8,662.7 577.4,782.1 582,795.1 586.6,668.8 591.2,780 595.8,649.9 600.4,717.5 605,703.5 609.6,794 614.2,780 618.8,643.9 623.4,649.7 628,662 632.6,672.4 637.2,686.2 641.8,675.8 646.4,642.3 651,636.4 655.6,666.2 660.2,671.2 664.8,641.8 669.4,643.4 674,636.4 678.6,634.4 683.2,630.4 687.8,634.9 692.4,679.6 697,649.9 701.6,660.8 706.2,647.8 710.8,637.3 715.4,633.3 720,657.7 724.6,701.6 729.2,718.2 733.8,795.2 738.4,777.3 743,780.6 747.6,788.5 752.2,779.5 756.8,795.2 761.4,796.8 766,794.2 770.6,796.8 770.6,796.8"/>
<polyline fill="none" stroke="#000" stroke-width="1.6" stroke-linejoin="miter" points="103.6,796.8 108.2,796.8 112.8,745 117.4,796.8 122,796.8 126.6,796.8 131.2,796.8 135.8,660.3 140.4,679.3 145,717.3 149.6,755.3 154.2,742.4 158.8,796.8 163.4,796.8 168,638.9 172.6,632.6 177.2,651.6 181.8,634.4 186.4,634.4 191,636.1 195.6,638.7 200.2,637.8 204.8,632.6 209.4,636.1 214,630.9 218.6,630 223.2,627.5 227.8,630.9 232.4,628.3 237,630 241.6,635.2 246.2,637.8 250.8,630.9 255.4,630.9 260,632.6 264.6,630.4 269.2,633.3 273.8,632.1 278.4,644.4 283,637.5 287.6,658 292.2,694.8 296.8,790.8 301.4,766.9 306,782.1 310.6,796.8 315.2,796.8 319.8,785 324.4,796.8 329,796.3 333.6,770.9 338.2,761.9 342.8,796.8 347.4,796.8 352,796.8 356.6,788.7 361.2,796.8 365.8,796.8 370.4,746.3 375,796.3 379.6,753.8 384.2,747.6 388.8,796.8 393.4,796.8 398,796.8 402.6,796.8 407.2,708.3 411.8,796.8 416.4,654.6 421,667 425.6,643.7 430.2,644.9 434.8,661.2 439.4,746.5 444,698 448.6,796.8 453.2,796.8 457.8,694.7 462.4,680 467,658.6 471.6,654.2 476.2,748.9 480.8,637.5 485.4,635.8 490,637 494.6,632.1 499.2,639.9 503.8,632.6 508.4,672.7 513,669.8 517.6,786.1 522.2,648.9 526.8,672.7 531.4,686.6 536,640.9 540.6,630.6 545.2,642.8 549.8,638.9 554.4,648.9 559,630.6 563.6,634.9 568.2,648.9 572.8,662.7 577.4,782.1 582,795.1 586.6,668.8 591.2,780 595.8,649.9 600.4,717.5 605,703.5 609.6,794 614.2,780 618.8,643.9 623.4,649.7 628,662 632.6,672.4 637.2,686.2 641.8,675.8 646.4,642.3 651,636.4 655.6,666.2 660.2,671.2 664.8,641.8 669.4,643.4 674,636.4 678.6,634.4 683.2,630.4 687.8,634.9 692.4,679.6 697,649.9 701.6,660.8 706.2,647.8 710.8,637.3 715.4,633.3 720,657.7 724.6,701.6 729.2,718.2 733.8,795.2 738.4,777.3 743,780.6 747.6,788.5 752.2,779.5 756.8,795.2 761.4,796.8 766,794.2 770.6,796.8"/>
<polyline fill="none" stroke="#FF0000" stroke-width="2.2" points="108.2,796.8 112.8,748.4 117.4,796.8 122,796.8 126.6,757.1 131.2,790.8 135.8,795.9 140.4,722.5 145,787.3 149.6,796.8 154.2,796.8 158.8,796.8 163.4,796.8 168,642.1 172.6,649.9 177.2,651.6 181.8,636.1 186.4,634.4 191,630.9 195.6,653.4 200.2,638.7 204.8,637.8 209.4,651.6 214,632.6 218.6,629.2 223.2,637.8 227.8,634.4 232.4,628.3 237,630 241.6,637 246.2,639.6 250.8,630.9 255.4,629.2 260,637 264.6,633.3 269.2,686.2 273.8,637 278.4,649.7 283,637 287.6,637.5 292.2,673.9 296.8,782.1 301.4,795.6 306,736 310.6,796.8 315.2,796.8 319.8,767.8 324.4,796.8 329,786.4 333.6,698 338.2,685 342.8,727.3 347.4,713.7 352,788.3 356.6,796.8 361.2,796.8 365.8,796.8 370.4,685.5 375,684.1 379.6,719 384.2,742.4 388.8,796.8 393.4,796.8 398,796.8 402.6,796.8 407.2,685 411.8,792 416.4,667.7 421,650.4 425.6,639.6 430.2,635.8 434.8,648 439.4,657.9 444,785.7 448.6,796.8 453.2,790.8 457.8,644.4 462.4,647.7 467,650.6 471.6,635.1 476.2,651.6 480.8,633.3 485.4,638.2 490,629.2 494.6,630.9 499.2,633.8 503.8,637 508.4,633.8 513,661.7 517.6,674.6 522.2,695.5 526.8,645.8 531.4,759.3 536,650.8 540.6,662.7 545.2,678.6 549.8,644.9 554.4,633 559,637 563.6,646.8 568.2,650.8 572.8,738.4 577.4,790.1 582,796.8 586.6,705.6 591.2,763.3 595.8,795.1 600.4,792 605,652.9 609.6,650.3 614.2,660.8 618.8,636.4 623.4,638.3 628,663.2 632.6,634.4 637.2,696.6 641.8,679.6 646.4,641.8 651,632.5 655.6,642.8 660.2,658.2 664.8,637.8 669.4,637 674,630.4 678.6,638.3 683.2,631.9 687.8,638.3 692.4,704.5 697,670.7 701.6,636.4 706.2,653.4 710.8,655.3 715.4,640.9 720,659.8 724.6,711.4 729.2,726 733.8,795.2 738.4,717.5 743,795.2 747.6,796.8 752.2,796.8 756.8,796.8 761.4,795.2 766,750.1 770.6,793"/>
<path d="M104 623V798.2M102.4 796.8H794.2" stroke="#000" stroke-width="3" fill="none"/>
<path d="M104 796.8h13M104 779.5h6.5M104 762.2h13M104 745h6.5M104 727.7h13M104 710.4h6.5M104 693.1h13M104 675.8h6.5M104 658.6h13M104 641.3h6.5M104 624h13M126.6 796.8v-6.5M149.6 796.8v-6.5M172.6 796.8v-6.5M195.6 796.8v-13M218.6 796.8v-6.5M241.6 796.8v-6.5M264.6 796.8v-6.5M287.6 796.8v-13M310.6 796.8v-6.5M333.6 796.8v-6.5M356.6 796.8v-6.5M379.6 796.8v-13M402.6 796.8v-6.5M425.6 796.8v-6.5M448.6 796.8v-6.5M471.6 796.8v-13M494.6 796.8v-6.5M517.6 796.8v-6.5M540.6 796.8v-6.5M563.6 796.8v-13M586.6 796.8v-6.5M609.6 796.8v-6.5M632.6 796.8v-6.5M655.6 796.8v-13M678.6 796.8v-6.5M701.6 796.8v-6.5M724.6 796.8v-6.5M747.6 796.8v-13M770.6 796.8v-6.5M793.6 796.8v-13" stroke="#000" stroke-width="2.6" fill="none"/>
<text x="83.65" y="806.36" style="font-size:23.94px" textLength="13.21" lengthAdjust="spacingAndGlyphs">0</text>
<text x="68.73" y="771.8" style="font-size:23.94px" textLength="28.22" lengthAdjust="spacingAndGlyphs">20</text>
<text x="69.51" y="737.24" style="font-size:23.94px" textLength="27.41" lengthAdjust="spacingAndGlyphs">40</text>
<text x="68.73" y="702.68" style="font-size:23.94px" textLength="28.22" lengthAdjust="spacingAndGlyphs">60</text>
<text x="68.86" y="668.12" style="font-size:23.94px" textLength="28.08" lengthAdjust="spacingAndGlyphs">80</text>
<text x="54.49" y="633.56" style="font-size:23.94px" textLength="42.49" lengthAdjust="spacingAndGlyphs">100</text>
<text x="96.25" y="820.77" style="font-size:22.54px" textLength="14.6" lengthAdjust="spacingAndGlyphs">0</text>
<text x="181.33" y="820.77" style="font-size:22.54px" textLength="28.22" lengthAdjust="spacingAndGlyphs">20</text>
<text x="274.11" y="820.77" style="font-size:22.54px" textLength="27.41" lengthAdjust="spacingAndGlyphs">40</text>
<text x="365.33" y="820.77" style="font-size:22.54px" textLength="28.22" lengthAdjust="spacingAndGlyphs">60</text>
<text x="457.46" y="820.77" style="font-size:22.54px" textLength="28.08" lengthAdjust="spacingAndGlyphs">80</text>
<text x="541.89" y="820.77" style="font-size:22.54px" textLength="42.49" lengthAdjust="spacingAndGlyphs">100</text>
<text x="633.89" y="820.77" style="font-size:22.54px" textLength="42.49" lengthAdjust="spacingAndGlyphs">120</text>
<text x="725.89" y="820.77" style="font-size:22.54px" textLength="42.49" lengthAdjust="spacingAndGlyphs">140</text>
<text transform="translate(48.73 753.9) rotate(-90)" style="font-size:27.21px" textLength="107.13" lengthAdjust="spacingAndGlyphs">% of time</text>
<path d="M752.6 643.2h26" stroke="#000" stroke-width="4"/><path d="M752.6 672.5h26" stroke="#FF0000" stroke-width="4"/>
<text x="781.45" y="651" style="font-size:25.36px" textLength="37.74" lengthAdjust="spacingAndGlyphs">PRL</text>
<text x="782.89" y="679" style="font-size:23.45px" textLength="18.51" lengthAdjust="spacingAndGlyphs">Vi</text>
<path d="M102.4 611H792" stroke="#000" stroke-width="3"/>
<rect x="172.1" y="602.2" width="127.8" height="17.6" fill="#0527E0" stroke="#000" stroke-width="3.4"/>
<rect x="380.2" y="602.2" width="9.9" height="17.6" fill="#0527E0" stroke="#000" stroke-width="3.4"/>
<rect x="421.4" y="602.2" width="21" height="17.6" fill="#0527E0" stroke="#000" stroke-width="3.4"/>
<rect x="462.3" y="602.2" width="114.8" height="17.6" fill="#068A06" stroke="#000" stroke-width="3.4"/>
<rect x="614" y="602.2" width="117.3" height="17.6" fill="#FFCC00" stroke="#000" stroke-width="3.4"/>
<text x="216.98" y="595.7" style="font-size:25.65px" textLength="32.24" lengthAdjust="spacingAndGlyphs">H1</text>
<text x="354.5" y="595.7" style="font-size:25.65px" textLength="38.6" lengthAdjust="spacingAndGlyphs">H1'</text>
<text x="407.17" y="595.7" style="font-size:25.65px" textLength="44.16" lengthAdjust="spacingAndGlyphs">H1''</text>
<text x="497.81" y="595.7" style="font-size:25.29px" textLength="31.82" lengthAdjust="spacingAndGlyphs">H2</text>
<text x="648.96" y="595.45" style="font-size:24.93px" textLength="32.65" lengthAdjust="spacingAndGlyphs">H3</text>
<text x="330.23" y="691.15" style="font-size:36.56px;font-weight:bold;font-family:"DejaVu Sans",sans-serif" textLength="17.54" lengthAdjust="spacingAndGlyphs">*</text>
<text x="363.03" y="687.79" style="font-size:36.34px;font-weight:bold;font-family:"DejaVu Sans",sans-serif" textLength="17.54" lengthAdjust="spacingAndGlyphs">*</text>
<polygon fill="#D9D9D9" points="105,1049.1 105,884.5 118.8,887.4 132.6,886.2 146.3,898.4 160.1,891.5 173.9,911.9 187.7,948.3 201.5,1043.1 215.2,1019.5 229,1034.6 242.8,1049.1 256.6,1049.1 270.4,1037.5 284.1,1049.1 297.9,1048.6 311.7,1023.5 325.5,1014.6 339.3,1049.1 353,1049.1 366.8,1049.1 380.6,1041.1 394.4,1049.1 408.2,1049.1 421.9,999.2 435.7,1048.6 449.5,1006.5 463.3,1000.4 477.1,1049.1 490.8,1049.1 504.6,1049.1 518.4,1049.1 532.2,961.6 546,1049.1 559.7,908.4 573.5,920.8 587.3,897.7 601.1,898.9 614.9,914.9 628.6,999.4 642.4,951.3 656.2,1049.1 670,1049.1 683.8,948.1 697.5,933.6 711.3,912.4 725.1,908.1 738.9,1001.8 752.7,891.5 766.4,889.8 780.2,891 794,886.2 794,1049.1"/>
<polyline fill="none" stroke="#000" stroke-width="1.6" points="105,884.5 118.8,887.4 132.6,886.2 146.3,898.4 160.1,891.5 173.9,911.9 187.7,948.3 201.5,1043.1 215.2,1019.5 229,1034.6 242.8,1049.1 256.6,1049.1 270.4,1037.5 284.1,1049.1 297.9,1048.6 311.7,1023.5 325.5,1014.6 339.3,1049.1 353,1049.1 366.8,1049.1 380.6,1041.1 394.4,1049.1 408.2,1049.1 421.9,999.2 435.7,1048.6 449.5,1006.5 463.3,1000.4 477.1,1049.1 490.8,1049.1 504.6,1049.1 518.4,1049.1 532.2,961.6 546,1049.1 559.7,908.4 573.5,920.8 587.3,897.7 601.1,898.9 614.9,914.9 628.6,999.4 642.4,951.3 656.2,1049.1 670,1049.1 683.8,948.1 697.5,933.6 711.3,912.4 725.1,908.1 738.9,1001.8 752.7,891.5 766.4,889.8 780.2,891 794,886.2"/>
<polyline fill="none" stroke="#FF0000" stroke-width="2.2" points="105,887.4 118.8,939.7 132.6,891 146.3,903.7 160.1,891 173.9,891.5 187.7,927.6 201.5,1034.6 215.2,1047.9 229,988.9 242.8,1049.1 256.6,1049.1 270.4,1020.4 284.1,1049.1 297.9,1038.8 311.7,951.3 325.5,938.5 339.3,980.4 353,966.9 366.8,1040.7 380.6,1049.1 394.4,1049.1 408.2,1049.1 421.9,939 435.7,937.7 449.5,972.2 463.3,995.3 477.1,1049.1 490.8,1049.1 504.6,1049.1 518.4,1049.1 532.2,938.5 546,1044.3 559.7,921.4 573.5,904.3 587.3,893.6 601.1,889.8 614.9,902 628.6,911.7 642.4,1038.2 656.2,1049.1 670,1043.1 683.8,898.4 697.5,901.6 711.3,904.5 725.1,889.1 738.9,905.5 752.7,887.4 766.4,892.2 780.2,883.3 794,885"/>
<path d="M105.2 877V1050.5M103.8 1049.1H795.5" stroke="#000" stroke-width="3" fill="none"/>
<path d="M105 1049.1h13.5M105 1032h6.5M105 1014.9h13.5M105 997.8h6.5M105 980.7h13.5M105 963.6h6.5M105 946.6h13.5M105 929.5h6.5M105 912.4h13.5M105 895.3h6.5M105 878.2h13.5M118.8 1049.1v-6M132.6 1049.1v-6M146.3 1049.1v-6M160.1 1049.1v-6M173.9 1049.1v-12.5M187.7 1049.1v-6M201.5 1049.1v-6M215.2 1049.1v-6M229 1049.1v-6M242.8 1049.1v-12.5M256.6 1049.1v-6M270.4 1049.1v-6M284.1 1049.1v-6M297.9 1049.1v-6M311.7 1049.1v-12.5M325.5 1049.1v-6M339.3 1049.1v-6M353 1049.1v-6M366.8 1049.1v-6M380.6 1049.1v-12.5M394.4 1049.1v-6M408.2 1049.1v-6M421.9 1049.1v-6M435.7 1049.1v-6M449.5 1049.1v-12.5M463.3 1049.1v-6M477.1 1049.1v-6M490.8 1049.1v-6M504.6 1049.1v-6M518.4 1049.1v-12.5M532.2 1049.1v-6M546 1049.1v-6M559.7 1049.1v-6M573.5 1049.1v-6M587.3 1049.1v-12.5M601.1 1049.1v-6M614.9 1049.1v-6M628.6 1049.1v-6M642.4 1049.1v-6M656.2 1049.1v-12.5M670 1049.1v-6M683.8 1049.1v-6M697.5 1049.1v-6M711.3 1049.1v-6M725.1 1049.1v-12.5M738.9 1049.1v-6M752.7 1049.1v-6M766.4 1049.1v-6M780.2 1049.1v-6M794 1049.1v-12.5" stroke="#000" stroke-width="2.6" fill="none"/>
<text x="83.54" y="1058.06" style="font-size:23.94px" textLength="14.72" lengthAdjust="spacingAndGlyphs">0</text>
<text x="69.51" y="1023.88" style="font-size:23.94px" textLength="28.76" lengthAdjust="spacingAndGlyphs">20</text>
<text x="70.3" y="989.7" style="font-size:23.94px" textLength="27.94" lengthAdjust="spacingAndGlyphs">40</text>
<text x="69.51" y="955.52" style="font-size:23.94px" textLength="28.76" lengthAdjust="spacingAndGlyphs">60</text>
<text x="69.64" y="921.34" style="font-size:23.94px" textLength="28.62" lengthAdjust="spacingAndGlyphs">80</text>
<text x="54.43" y="887.16" style="font-size:23.94px" textLength="43.89" lengthAdjust="spacingAndGlyphs">100</text>
<text x="96.28" y="1073.77" style="font-size:23.1px" textLength="28.29" lengthAdjust="spacingAndGlyphs">35</text>
<text x="160.3" y="1073.77" style="font-size:23.1px" textLength="27.62" lengthAdjust="spacingAndGlyphs">40</text>
<text x="229.1" y="1073.77" style="font-size:23.43px" textLength="27.76" lengthAdjust="spacingAndGlyphs">45</text>
<text x="298.09" y="1073.77" style="font-size:23.1px" textLength="28.16" lengthAdjust="spacingAndGlyphs">50</text>
<text x="366.48" y="1073.77" style="font-size:23.43px" textLength="28.29" lengthAdjust="spacingAndGlyphs">55</text>
<text x="435.12" y="1073.77" style="font-size:23.1px" textLength="28.43" lengthAdjust="spacingAndGlyphs">60</text>
<text x="504.02" y="1073.77" style="font-size:23.1px" textLength="28.57" lengthAdjust="spacingAndGlyphs">65</text>
<text x="572.92" y="1073.77" style="font-size:23.1px" textLength="28.43" lengthAdjust="spacingAndGlyphs">70</text>
<text x="641.82" y="1073.77" style="font-size:23.43px" textLength="28.57" lengthAdjust="spacingAndGlyphs">75</text>
<text x="710.76" y="1073.77" style="font-size:23.1px" textLength="28.29" lengthAdjust="spacingAndGlyphs">80</text>
<text x="775.75" y="1073.77" style="font-size:23.1px" textLength="28.43" lengthAdjust="spacingAndGlyphs">85</text>
<text x="395.05" y="1097.07" style="font-size:23.27px" textLength="89.32" lengthAdjust="spacingAndGlyphs">Residue</text>
<text transform="translate(50.72 1008.72) rotate(-90)" style="font-size:28.03px" textLength="109.17" lengthAdjust="spacingAndGlyphs">% of time</text>
<path d="M103 864H795" stroke="#000" stroke-width="3"/>
<rect x="105" y="855.2" width="109.9" height="16.1" fill="#0527E0" stroke="#000" stroke-width="3.4"/>
<rect x="451" y="855.2" width="25" height="16.1" fill="#0527E0" stroke="#000" stroke-width="3.4"/>
<rect x="574.5" y="855.2" width="67.9" height="16.1" fill="#0527E0" stroke="#000" stroke-width="3.4"/>
<rect x="698.5" y="855.2" width="95.6" height="16.1" fill="#068A06" stroke="#000" stroke-width="3.4"/>
<text x="303" y="912.5" style="font-size:26.81px" textLength="32.01" lengthAdjust="spacingAndGlyphs">H1</text>
<text x="333.88" y="917.3" style="font-size:20.14px" textLength="20.36" lengthAdjust="spacingAndGlyphs">Vi</text>
<text x="432.59" y="911" style="font-size:24.64px" textLength="38.71" lengthAdjust="spacingAndGlyphs">H1'</text>
<text x="317.29" y="946.62" style="font-size:35.7px;font-weight:bold;font-family:"DejaVu Sans",sans-serif" textLength="18.52" lengthAdjust="spacingAndGlyphs">*</text>
<text x="424.29" y="943.24" style="font-size:35.05px;font-weight:bold;font-family:"DejaVu Sans",sans-serif" textLength="18.52" lengthAdjust="spacingAndGlyphs">*</text>
<text x="-2.89" y="574.03" style="font-size:46.94px" textLength="24.72" lengthAdjust="spacingAndGlyphs">b</text>
<text x="1303.04" y="36.07" style="font-size:42.86px" textLength="27.19" lengthAdjust="spacingAndGlyphs">d</text>
<g fill="none" stroke-linejoin="round" stroke-linecap="butt">
<path d="M1453.1 116.4 L1446 117 L1440 117.1 L1436.1 117.1 L1434.6 117.4 L1435.9 118.2 L1439.5 119.7 L1445 122 L1451.4 125.2" stroke="#86B4B8" stroke-opacity="0.17" stroke-width="14"/>
<path d="M1453.1 116.4 L1446 117 L1440 117.1 L1436.1 117.1 L1434.6 117.4 L1435.9 118.2 L1439.5 119.7 L1445 122 L1451.4 125.2" stroke="#D8E9EA" stroke-opacity="0.5" stroke-width="11"/>
<path d="M1451.4 125.2 L1457.7 129.1 L1462.8 133.3 L1465.9 137.7 L1466.5 141.9 L1464.4 145.5 L1459.9 148.4 L1453.6 150.5 L1446.3 151.7" stroke="#86B4B8" stroke-opacity="0.17" stroke-width="14"/>
<path d="M1451.4 125.2 L1457.7 129.1 L1462.8 133.3 L1465.9 137.7 L1466.5 141.9 L1464.4 145.5 L1459.9 148.4 L1453.6 150.5 L1446.3 151.7" stroke="#D8E9EA" stroke-opacity="0.5" stroke-width="11"/>
<path d="M1446.3 151.7 L1439.2 152.2 L1433.2 152.4 L1429.2 152.4 L1427.8 152.7 L1429 153.4 L1432.7 154.9 L1438.2 157.3 L1444.6 160.5" stroke="#86B4B8" stroke-opacity="0.17" stroke-width="14"/>
<path d="M1446.3 151.7 L1439.2 152.2 L1433.2 152.4 L1429.2 152.4 L1427.8 152.7 L1429 153.4 L1432.7 154.9 L1438.2 157.3 L1444.6 160.5" stroke="#D8E9EA" stroke-opacity="0.5" stroke-width="11"/>
<path d="M1444.6 160.5 L1450.9 164.3 L1456 168.6 L1459.1 173 L1459.7 177.1 L1457.6 180.8 L1453.1 183.7 L1446.7 185.7 L1439.5 186.9" stroke="#86B4B8" stroke-opacity="0.17" stroke-width="14"/>
<path d="M1444.6 160.5 L1450.9 164.3 L1456 168.6 L1459.1 173 L1459.7 177.1 L1457.6 180.8 L1453.1 183.7 L1446.7 185.7 L1439.5 186.9" stroke="#D8E9EA" stroke-opacity="0.5" stroke-width="11"/>
<path d="M1439.5 186.9 L1432.3 187.5 L1426.4 187.6 L1422.4 187.7 L1420.9 187.9 L1422.2 188.7 L1425.9 190.2 L1431.4 192.6 L1437.8 195.7" stroke="#86B4B8" stroke-opacity="0.17" stroke-width="14"/>
<path d="M1439.5 186.9 L1432.3 187.5 L1426.4 187.6 L1422.4 187.7 L1420.9 187.9 L1422.2 188.7 L1425.9 190.2 L1431.4 192.6 L1437.8 195.7" stroke="#D8E9EA" stroke-opacity="0.5" stroke-width="11"/>
<path d="M1437.8 195.7 L1444 199.6 L1449.1 203.9 L1452.3 208.2 L1452.9 212.4 L1450.8 216 L1446.2 218.9 L1439.9 221 L1432.6 222.2" stroke="#86B4B8" stroke-opacity="0.17" stroke-width="14"/>
<path d="M1437.8 195.7 L1444 199.6 L1449.1 203.9 L1452.3 208.2 L1452.9 212.4 L1450.8 216 L1446.2 218.9 L1439.9 221 L1432.6 222.2" stroke="#D8E9EA" stroke-opacity="0.5" stroke-width="11"/>
<path d="M1432.6 222.2 L1425.5 222.8 L1419.5 222.9 L1415.5 222.9 L1414.1 223.2 L1415.3 224 L1419 225.5 L1424.5 227.8 L1430.9 231" stroke="#86B4B8" stroke-opacity="0.17" stroke-width="14"/>
<path d="M1432.6 222.2 L1425.5 222.8 L1419.5 222.9 L1415.5 222.9 L1414.1 223.2 L1415.3 224 L1419 225.5 L1424.5 227.8 L1430.9 231" stroke="#D8E9EA" stroke-opacity="0.5" stroke-width="11"/>
<path d="M1430.9 231 L1437.2 234.9 L1442.3 239.1 L1445.4 243.5 L1446 247.7 L1443.9 251.3 L1439.4 254.2 L1433 256.2 L1425.8 257.5" stroke="#86B4B8" stroke-opacity="0.17" stroke-width="14"/>
<path d="M1430.9 231 L1437.2 234.9 L1442.3 239.1 L1445.4 243.5 L1446 247.7 L1443.9 251.3 L1439.4 254.2 L1433 256.2 L1425.8 257.5" stroke="#D8E9EA" stroke-opacity="0.5" stroke-width="11"/>
<path d="M1427.4 254.8 L1420.7 258.8 L1414.8 261.8 L1410.8 263.6 L1409.5 264.4 L1411 264.3 L1415.3 263.7 L1421.9 262.9 L1429.8 262.5" stroke="#86B4B8" stroke-opacity="0.17" stroke-width="14"/>
<path d="M1427.4 254.8 L1420.7 258.8 L1414.8 261.8 L1410.8 263.6 L1409.5 264.4 L1411 264.3 L1415.3 263.7 L1421.9 262.9 L1429.8 262.5" stroke="#D8E9EA" stroke-opacity="0.5" stroke-width="11"/>
<path d="M1429.8 262.5 L1437.9 262.8 L1445 264.2 L1450.3 266.6 L1453 270.2 L1452.7 274.6 L1449.7 279.6 L1444.4 284.6 L1437.9 289.4" stroke="#86B4B8" stroke-opacity="0.17" stroke-width="14"/>
<path d="M1429.8 262.5 L1437.9 262.8 L1445 264.2 L1450.3 266.6 L1453 270.2 L1452.7 274.6 L1449.7 279.6 L1444.4 284.6 L1437.9 289.4" stroke="#D8E9EA" stroke-opacity="0.5" stroke-width="11"/>
<path d="M1437.9 289.4 L1431.1 293.4 L1425.2 296.4 L1421.2 298.2 L1419.9 299 L1421.4 298.9 L1425.8 298.2 L1432.3 297.5 L1440.2 297.1" stroke="#86B4B8" stroke-opacity="0.17" stroke-width="14"/>
<path d="M1437.9 289.4 L1431.1 293.4 L1425.2 296.4 L1421.2 298.2 L1419.9 299 L1421.4 298.9 L1425.8 298.2 L1432.3 297.5 L1440.2 297.1" stroke="#D8E9EA" stroke-opacity="0.5" stroke-width="11"/>
<path d="M1440.2 297.1 L1448.3 297.4 L1455.4 298.7 L1460.7 301.2 L1463.4 304.8 L1463.1 309.2 L1460.1 314.2 L1454.8 319.2 L1448.3 324" stroke="#86B4B8" stroke-opacity="0.17" stroke-width="14"/>
<path d="M1440.2 297.1 L1448.3 297.4 L1455.4 298.7 L1460.7 301.2 L1463.4 304.8 L1463.1 309.2 L1460.1 314.2 L1454.8 319.2 L1448.3 324" stroke="#D8E9EA" stroke-opacity="0.5" stroke-width="11"/>
<path d="M1448.3 324 L1441.5 328 L1435.6 331 L1431.6 332.8 L1430.3 333.6 L1431.8 333.5 L1436.2 332.8 L1442.7 332.1 L1450.6 331.7" stroke="#86B4B8" stroke-opacity="0.17" stroke-width="14"/>
<path d="M1448.3 324 L1441.5 328 L1435.6 331 L1431.6 332.8 L1430.3 333.6 L1431.8 333.5 L1436.2 332.8 L1442.7 332.1 L1450.6 331.7" stroke="#D8E9EA" stroke-opacity="0.5" stroke-width="11"/>
<path d="M1450.6 331.7 L1458.7 332 L1465.9 333.3 L1471.1 335.8 L1473.8 339.3 L1473.5 343.8 L1470.5 348.7 L1465.3 353.8 L1458.7 358.5" stroke="#86B4B8" stroke-opacity="0.17" stroke-width="14"/>
<path d="M1450.6 331.7 L1458.7 332 L1465.9 333.3 L1471.1 335.8 L1473.8 339.3 L1473.5 343.8 L1470.5 348.7 L1465.3 353.8 L1458.7 358.5" stroke="#D8E9EA" stroke-opacity="0.5" stroke-width="11"/>
<path d="M1458.7 358.5 L1451.9 362.5 L1446 365.5 L1442.1 367.4 L1440.7 368.2 L1442.3 368.1 L1446.6 367.4 L1453.1 366.7 L1461 366.3" stroke="#86B4B8" stroke-opacity="0.17" stroke-width="14"/>
<path d="M1458.7 358.5 L1451.9 362.5 L1446 365.5 L1442.1 367.4 L1440.7 368.2 L1442.3 368.1 L1446.6 367.4 L1453.1 366.7 L1461 366.3" stroke="#D8E9EA" stroke-opacity="0.5" stroke-width="11"/>
<path d="M1461 366.3 L1469.1 366.6 L1476.3 367.9 L1481.6 370.4 L1484.2 373.9 L1484 378.4 L1480.9 383.3 L1475.7 388.4 L1469.1 393.1" stroke="#86B4B8" stroke-opacity="0.17" stroke-width="14"/>
<path d="M1461 366.3 L1469.1 366.6 L1476.3 367.9 L1481.6 370.4 L1484.2 373.9 L1484 378.4 L1480.9 383.3 L1475.7 388.4 L1469.1 393.1" stroke="#D8E9EA" stroke-opacity="0.5" stroke-width="11"/>
<path d="M1469.1 393.1 L1462.3 397.1 L1456.4 400.1 L1452.5 402 L1451.1 402.7 L1452.7 402.6 L1457 402 L1463.6 401.2 L1471.4 400.8" stroke="#86B4B8" stroke-opacity="0.17" stroke-width="14"/>
<path d="M1469.1 393.1 L1462.3 397.1 L1456.4 400.1 L1452.5 402 L1451.1 402.7 L1452.7 402.6 L1457 402 L1463.6 401.2 L1471.4 400.8" stroke="#D8E9EA" stroke-opacity="0.5" stroke-width="11"/>
<path d="M1471.4 400.8 L1479.5 401.2 L1486.7 402.5 L1492 404.9 L1494.6 408.5 L1494.4 412.9 L1491.3 417.9 L1486.1 423 L1479.5 427.7" stroke="#86B4B8" stroke-opacity="0.17" stroke-width="14"/>
<path d="M1471.4 400.8 L1479.5 401.2 L1486.7 402.5 L1492 404.9 L1494.6 408.5 L1494.4 412.9 L1491.3 417.9 L1486.1 423 L1479.5 427.7" stroke="#D8E9EA" stroke-opacity="0.5" stroke-width="11"/>
<path d="M1486.3 80.5 L1479.6 82.9 L1473.9 84.6 L1470.1 85.7 L1468.7 86.3 L1470.1 86.7 L1474.1 87.2 L1480 88 L1487 89.4" stroke="#86B4B8" stroke-opacity="0.17" stroke-width="14"/>
<path d="M1486.3 80.5 L1479.6 82.9 L1473.9 84.6 L1470.1 85.7 L1468.7 86.3 L1470.1 86.7 L1474.1 87.2 L1480 88 L1487 89.4" stroke="#D8E9EA" stroke-opacity="0.5" stroke-width="11"/>
<path d="M1487 89.4 L1494.1 91.5 L1500.1 94.2 L1504.3 97.6 L1506 101.5 L1504.9 105.5 L1501.3 109.5 L1495.7 113.2 L1489 116.3" stroke="#86B4B8" stroke-opacity="0.17" stroke-width="14"/>
<path d="M1487 89.4 L1494.1 91.5 L1500.1 94.2 L1504.3 97.6 L1506 101.5 L1504.9 105.5 L1501.3 109.5 L1495.7 113.2 L1489 116.3" stroke="#D8E9EA" stroke-opacity="0.5" stroke-width="11"/>
<path d="M1489 116.3 L1482.3 118.7 L1476.6 120.4 L1472.7 121.4 L1471.4 122.1 L1472.8 122.5 L1476.8 123 L1482.7 123.8 L1489.7 125.2" stroke="#86B4B8" stroke-opacity="0.17" stroke-width="14"/>
<path d="M1489 116.3 L1482.3 118.7 L1476.6 120.4 L1472.7 121.4 L1471.4 122.1 L1472.8 122.5 L1476.8 123 L1482.7 123.8 L1489.7 125.2" stroke="#D8E9EA" stroke-opacity="0.5" stroke-width="11"/>
<path d="M1489.7 125.2 L1496.8 127.2 L1502.8 130 L1507 133.4 L1508.7 137.2 L1507.6 141.3 L1504 145.3 L1498.4 148.9 L1491.7 152" stroke="#86B4B8" stroke-opacity="0.17" stroke-width="14"/>
<path d="M1489.7 125.2 L1496.8 127.2 L1502.8 130 L1507 133.4 L1508.7 137.2 L1507.6 141.3 L1504 145.3 L1498.4 148.9 L1491.7 152" stroke="#D8E9EA" stroke-opacity="0.5" stroke-width="11"/>
<path d="M1491.7 152 L1485 154.4 L1479.3 156.1 L1475.4 157.2 L1474.1 157.8 L1475.5 158.2 L1479.5 158.7 L1485.4 159.6 L1492.4 160.9" stroke="#86B4B8" stroke-opacity="0.17" stroke-width="14"/>
<path d="M1491.7 152 L1485 154.4 L1479.3 156.1 L1475.4 157.2 L1474.1 157.8 L1475.5 158.2 L1479.5 158.7 L1485.4 159.6 L1492.4 160.9" stroke="#D8E9EA" stroke-opacity="0.5" stroke-width="11"/>
<path d="M1492.4 160.9 L1499.5 163 L1505.5 165.8 L1509.7 169.2 L1511.4 173 L1510.3 177.1 L1506.7 181.1 L1501.1 184.7 L1494.4 187.8" stroke="#86B4B8" stroke-opacity="0.17" stroke-width="14"/>
<path d="M1492.4 160.9 L1499.5 163 L1505.5 165.8 L1509.7 169.2 L1511.4 173 L1510.3 177.1 L1506.7 181.1 L1501.1 184.7 L1494.4 187.8" stroke="#D8E9EA" stroke-opacity="0.5" stroke-width="11"/>
<path d="M1494.4 187.8 L1487.7 190.2 L1482 191.9 L1478.1 193 L1476.8 193.6 L1478.2 194 L1482.2 194.5 L1488.1 195.3 L1495.1 196.7" stroke="#86B4B8" stroke-opacity="0.17" stroke-width="14"/>
<path d="M1494.4 187.8 L1487.7 190.2 L1482 191.9 L1478.1 193 L1476.8 193.6 L1478.2 194 L1482.2 194.5 L1488.1 195.3 L1495.1 196.7" stroke="#D8E9EA" stroke-opacity="0.5" stroke-width="11"/>
<path d="M1495.1 196.7 L1502.1 198.8 L1508.2 201.5 L1512.4 204.9 L1514 208.8 L1513 212.8 L1509.4 216.8 L1503.8 220.5 L1497.1 223.6" stroke="#86B4B8" stroke-opacity="0.17" stroke-width="14"/>
<path d="M1495.1 196.7 L1502.1 198.8 L1508.2 201.5 L1512.4 204.9 L1514 208.8 L1513 212.8 L1509.4 216.8 L1503.8 220.5 L1497.1 223.6" stroke="#D8E9EA" stroke-opacity="0.5" stroke-width="11"/>
<path d="M1497.1 223.6 L1490.4 226 L1484.7 227.7 L1480.8 228.7 L1479.5 229.4 L1480.9 229.8 L1484.8 230.3 L1490.8 231.1 L1497.8 232.5" stroke="#86B4B8" stroke-opacity="0.17" stroke-width="14"/>
<path d="M1497.1 223.6 L1490.4 226 L1484.7 227.7 L1480.8 228.7 L1479.5 229.4 L1480.9 229.8 L1484.8 230.3 L1490.8 231.1 L1497.8 232.5" stroke="#D8E9EA" stroke-opacity="0.5" stroke-width="11"/>
<path d="M1497.8 232.5 L1504.8 234.5 L1510.9 237.3 L1515.1 240.7 L1516.7 244.6 L1515.7 248.6 L1512.1 252.6 L1506.5 256.2 L1499.8 259.3" stroke="#86B4B8" stroke-opacity="0.17" stroke-width="14"/>
<path d="M1497.8 232.5 L1504.8 234.5 L1510.9 237.3 L1515.1 240.7 L1516.7 244.6 L1515.7 248.6 L1512.1 252.6 L1506.5 256.2 L1499.8 259.3" stroke="#D8E9EA" stroke-opacity="0.5" stroke-width="11"/>
<path d="M1500.4 266.5 L1493.7 269 L1488 270.9 L1484.2 272 L1482.9 272.7 L1484.3 273.1 L1488.3 273.5 L1494.2 274.3 L1501.3 275.6" stroke="#86B4B8" stroke-opacity="0.17" stroke-width="14"/>
<path d="M1500.4 266.5 L1493.7 269 L1488 270.9 L1484.2 272 L1482.9 272.7 L1484.3 273.1 L1488.3 273.5 L1494.2 274.3 L1501.3 275.6" stroke="#D8E9EA" stroke-opacity="0.5" stroke-width="11"/>
<path d="M1501.3 275.6 L1508.4 277.5 L1514.5 280.2 L1518.7 283.6 L1520.4 287.4 L1519.4 291.5 L1515.9 295.6 L1510.4 299.4 L1503.7 302.6" stroke="#86B4B8" stroke-opacity="0.17" stroke-width="14"/>
<path d="M1501.3 275.6 L1508.4 277.5 L1514.5 280.2 L1518.7 283.6 L1520.4 287.4 L1519.4 291.5 L1515.9 295.6 L1510.4 299.4 L1503.7 302.6" stroke="#D8E9EA" stroke-opacity="0.5" stroke-width="11"/>
<path d="M1503.7 302.6 L1497.1 305.1 L1491.4 307 L1487.6 308.1 L1486.2 308.8 L1487.7 309.2 L1491.6 309.7 L1497.6 310.4 L1504.6 311.7" stroke="#86B4B8" stroke-opacity="0.17" stroke-width="14"/>
<path d="M1503.7 302.6 L1497.1 305.1 L1491.4 307 L1487.6 308.1 L1486.2 308.8 L1487.7 309.2 L1491.6 309.7 L1497.6 310.4 L1504.6 311.7" stroke="#D8E9EA" stroke-opacity="0.5" stroke-width="11"/>
<path d="M1504.6 311.7 L1511.7 313.7 L1517.8 316.3 L1522 319.7 L1523.8 323.5 L1522.8 327.6 L1519.2 331.7 L1513.7 335.5 L1507.1 338.7" stroke="#86B4B8" stroke-opacity="0.17" stroke-width="14"/>
<path d="M1504.6 311.7 L1511.7 313.7 L1517.8 316.3 L1522 319.7 L1523.8 323.5 L1522.8 327.6 L1519.2 331.7 L1513.7 335.5 L1507.1 338.7" stroke="#D8E9EA" stroke-opacity="0.5" stroke-width="11"/>
<path d="M1507.1 338.7 L1500.4 341.3 L1494.7 343.1 L1490.9 344.2 L1489.6 344.9 L1491 345.3 L1495 345.8 L1500.9 346.5 L1507.9 347.8" stroke="#86B4B8" stroke-opacity="0.17" stroke-width="14"/>
<path d="M1507.1 338.7 L1500.4 341.3 L1494.7 343.1 L1490.9 344.2 L1489.6 344.9 L1491 345.3 L1495 345.8 L1500.9 346.5 L1507.9 347.8" stroke="#D8E9EA" stroke-opacity="0.5" stroke-width="11"/>
<path d="M1507.9 347.8 L1515 349.8 L1521.1 352.5 L1525.4 355.8 L1527.1 359.7 L1526.1 363.7 L1522.5 367.8 L1517 371.6 L1510.4 374.8" stroke="#86B4B8" stroke-opacity="0.17" stroke-width="14"/>
<path d="M1507.9 347.8 L1515 349.8 L1521.1 352.5 L1525.4 355.8 L1527.1 359.7 L1526.1 363.7 L1522.5 367.8 L1517 371.6 L1510.4 374.8" stroke="#D8E9EA" stroke-opacity="0.5" stroke-width="11"/>
<path d="M1510.4 374.8 L1503.7 377.4 L1498 379.2 L1494.2 380.3 L1492.9 381 L1494.3 381.4 L1498.3 381.9 L1504.2 382.6 L1511.3 383.9" stroke="#86B4B8" stroke-opacity="0.17" stroke-width="14"/>
<path d="M1510.4 374.8 L1503.7 377.4 L1498 379.2 L1494.2 380.3 L1492.9 381 L1494.3 381.4 L1498.3 381.9 L1504.2 382.6 L1511.3 383.9" stroke="#D8E9EA" stroke-opacity="0.5" stroke-width="11"/>
<path d="M1522.5 122.7 L1515.4 125.5 L1509.4 127.5 L1505.4 128.8 L1504.1 129.5 L1505.6 130 L1509.7 130.5 L1516 131.3 L1523.4 132.6" stroke="#86B4B8" stroke-opacity="0.17" stroke-width="14"/>
<path d="M1522.5 122.7 L1515.4 125.5 L1509.4 127.5 L1505.4 128.8 L1504.1 129.5 L1505.6 130 L1509.7 130.5 L1516 131.3 L1523.4 132.6" stroke="#D8E9EA" stroke-opacity="0.5" stroke-width="11"/>
<path d="M1523.4 132.6 L1531 134.7 L1537.4 137.5 L1541.9 141 L1543.8 145.1 L1542.8 149.5 L1539.1 153.9 L1533.3 157.9 L1526.3 161.4" stroke="#86B4B8" stroke-opacity="0.17" stroke-width="14"/>
<path d="M1523.4 132.6 L1531 134.7 L1537.4 137.5 L1541.9 141 L1543.8 145.1 L1542.8 149.5 L1539.1 153.9 L1533.3 157.9 L1526.3 161.4" stroke="#D8E9EA" stroke-opacity="0.5" stroke-width="11"/>
<path d="M1526.3 161.4 L1519.3 164.2 L1513.3 166.2 L1509.3 167.5 L1507.9 168.2 L1509.4 168.7 L1513.6 169.1 L1519.8 169.9 L1527.3 171.3" stroke="#86B4B8" stroke-opacity="0.17" stroke-width="14"/>
<path d="M1526.3 161.4 L1519.3 164.2 L1513.3 166.2 L1509.3 167.5 L1507.9 168.2 L1509.4 168.7 L1513.6 169.1 L1519.8 169.9 L1527.3 171.3" stroke="#D8E9EA" stroke-opacity="0.5" stroke-width="11"/>
<path d="M1527.3 171.3 L1534.8 173.3 L1541.3 176.2 L1545.8 179.7 L1547.6 183.8 L1546.6 188.2 L1542.9 192.5 L1537.1 196.6 L1530.1 200.1" stroke="#86B4B8" stroke-opacity="0.17" stroke-width="14"/>
<path d="M1527.3 171.3 L1534.8 173.3 L1541.3 176.2 L1545.8 179.7 L1547.6 183.8 L1546.6 188.2 L1542.9 192.5 L1537.1 196.6 L1530.1 200.1" stroke="#D8E9EA" stroke-opacity="0.5" stroke-width="11"/>
<path d="M1530.1 200.1 L1523.1 202.8 L1517.1 204.8 L1513.1 206.1 L1511.7 206.9 L1513.2 207.3 L1517.4 207.8 L1523.7 208.6 L1531.1 209.9" stroke="#86B4B8" stroke-opacity="0.17" stroke-width="14"/>
<path d="M1530.1 200.1 L1523.1 202.8 L1517.1 204.8 L1513.1 206.1 L1511.7 206.9 L1513.2 207.3 L1517.4 207.8 L1523.7 208.6 L1531.1 209.9" stroke="#D8E9EA" stroke-opacity="0.5" stroke-width="11"/>
<path d="M1531.1 209.9 L1538.6 212 L1545.1 214.8 L1549.6 218.4 L1551.4 222.5 L1550.4 226.8 L1546.7 231.2 L1540.9 235.2 L1534 238.7" stroke="#86B4B8" stroke-opacity="0.17" stroke-width="14"/>
<path d="M1531.1 209.9 L1538.6 212 L1545.1 214.8 L1549.6 218.4 L1551.4 222.5 L1550.4 226.8 L1546.7 231.2 L1540.9 235.2 L1534 238.7" stroke="#D8E9EA" stroke-opacity="0.5" stroke-width="11"/>
<path d="M1534 238.7 L1526.9 241.5 L1520.9 243.5 L1516.9 244.8 L1515.6 245.5 L1517.1 246 L1521.2 246.5 L1527.5 247.3 L1534.9 248.6" stroke="#86B4B8" stroke-opacity="0.17" stroke-width="14"/>
<path d="M1534 238.7 L1526.9 241.5 L1520.9 243.5 L1516.9 244.8 L1515.6 245.5 L1517.1 246 L1521.2 246.5 L1527.5 247.3 L1534.9 248.6" stroke="#D8E9EA" stroke-opacity="0.5" stroke-width="11"/>
<path d="M1534.9 248.6 L1542.5 250.7 L1548.9 253.5 L1553.4 257 L1555.3 261.1 L1554.3 265.5 L1550.6 269.9 L1544.8 273.9 L1537.8 277.4" stroke="#86B4B8" stroke-opacity="0.17" stroke-width="14"/>
<path d="M1534.9 248.6 L1542.5 250.7 L1548.9 253.5 L1553.4 257 L1555.3 261.1 L1554.3 265.5 L1550.6 269.9 L1544.8 273.9 L1537.8 277.4" stroke="#D8E9EA" stroke-opacity="0.5" stroke-width="11"/>
<path d="M1537.8 277.4 L1530.8 280.2 L1524.8 282.2 L1520.8 283.5 L1519.4 284.2 L1520.9 284.7 L1525.1 285.1 L1531.3 285.9 L1538.8 287.3" stroke="#86B4B8" stroke-opacity="0.17" stroke-width="14"/>
<path d="M1537.8 277.4 L1530.8 280.2 L1524.8 282.2 L1520.8 283.5 L1519.4 284.2 L1520.9 284.7 L1525.1 285.1 L1531.3 285.9 L1538.8 287.3" stroke="#D8E9EA" stroke-opacity="0.5" stroke-width="11"/>
<path d="M1538.8 287.3 L1546.3 289.3 L1552.8 292.2 L1557.3 295.7 L1559.1 299.8 L1558.1 304.2 L1554.4 308.5 L1548.6 312.6 L1541.6 316.1" stroke="#86B4B8" stroke-opacity="0.17" stroke-width="14"/>
<path d="M1538.8 287.3 L1546.3 289.3 L1552.8 292.2 L1557.3 295.7 L1559.1 299.8 L1558.1 304.2 L1554.4 308.5 L1548.6 312.6 L1541.6 316.1" stroke="#D8E9EA" stroke-opacity="0.5" stroke-width="11"/>
<path d="M1541.6 316.1 L1534.6 318.8 L1528.6 320.8 L1524.6 322.1 L1523.2 322.9 L1524.7 323.3 L1528.9 323.8 L1535.2 324.6 L1542.6 325.9" stroke="#86B4B8" stroke-opacity="0.17" stroke-width="14"/>
<path d="M1541.6 316.1 L1534.6 318.8 L1528.6 320.8 L1524.6 322.1 L1523.2 322.9 L1524.7 323.3 L1528.9 323.8 L1535.2 324.6 L1542.6 325.9" stroke="#D8E9EA" stroke-opacity="0.5" stroke-width="11"/>
<path d="M1542.6 325.9 L1550.1 328 L1556.6 330.8 L1561.1 334.4 L1562.9 338.5 L1561.9 342.8 L1558.2 347.2 L1552.4 351.2 L1545.5 354.7" stroke="#86B4B8" stroke-opacity="0.17" stroke-width="14"/>
<path d="M1542.6 325.9 L1550.1 328 L1556.6 330.8 L1561.1 334.4 L1562.9 338.5 L1561.9 342.8 L1558.2 347.2 L1552.4 351.2 L1545.5 354.7" stroke="#D8E9EA" stroke-opacity="0.5" stroke-width="11"/>
</g>
<path d="M1392 268L1393.5 300 M1397 268L1397.5 300 M1394 299.5C1388 305 1383 312 1383 320C1383 328 1390 335 1396 338C1400 342 1400 350 1392 355C1384 360 1372 370 1366.8 380.5C1362 388 1362 396 1368 397C1376 397 1388 390 1396 390C1404 392 1405 404 1407 413C1410 422 1418 430 1431.7 431C1440 428 1446 418 1453 403C1462 400 1472 400 1478.6 402C1490 406 1500 413 1514.6 418.4 M1481.8 114C1492 110 1506 107 1516 108.6C1524 112 1530 122 1534 132 M1512 250C1530 240 1560 260 1556 290C1550 320 1520 330 1530 300 M1540 300C1560 290 1575 300 1568 310" fill="none" stroke="#9DCBCE" stroke-opacity="0.5" stroke-width="3.5" stroke-linecap="round"/>
<path d="M1366 119C1372 113 1378 113 1385 115 M1354 172C1348 186 1346 202 1353 214C1364 228 1388 236 1405 242C1416 247 1420 255 1422 266 M1514.6 341C1520 334 1526 326 1532 330C1540 338 1560 338 1572 344C1578 350 1580 360 1579.5 372 M1515 418C1520 412 1526 414 1530 426" fill="none" stroke="#8C8C8C" stroke-width="6.5" stroke-linecap="round"/>
<path d="M1366 119C1372 113 1378 113 1385 115 M1354 172C1348 186 1346 202 1353 214C1364 228 1388 236 1405 242C1416 247 1420 255 1422 266 M1514.6 341C1520 334 1526 326 1532 330C1540 338 1560 338 1572 344C1578 350 1580 360 1579.5 372 M1515 418C1520 412 1526 414 1530 426" fill="none" stroke="#E4E4E4" stroke-width="3.8" stroke-linecap="round"/>
<path d="M1384 115C1392 112 1399 108 1398 98C1396 88 1389 80 1393 70C1397 62 1410 61 1416 68C1422 76 1422 92 1428 100C1433 107 1442 108 1450 106 M1422.7 265C1424 275 1430 279 1445 278C1460 276 1472 278 1476 285C1478 295 1462 304 1446 312C1434 319 1428 328 1440 332C1455 337 1470 344 1482 348C1494 352 1506 352 1514.6 341" fill="none" stroke="#1C7F88" stroke-width="7" stroke-linecap="round"/>
<path d="M1384 115C1392 112 1399 108 1398 98C1396 88 1389 80 1393 70C1397 62 1410 61 1416 68C1422 76 1422 92 1428 100C1433 107 1442 108 1450 106 M1422.7 265C1424 275 1430 279 1445 278C1460 276 1472 278 1476 285C1478 295 1462 304 1446 312C1434 319 1428 328 1440 332C1455 337 1470 344 1482 348C1494 352 1506 352 1514.6 341" fill="none" stroke="#38B4BE" stroke-width="4" stroke-linecap="round"/>
<defs><radialGradient id="mh" cx="0.4" cy="0.3" r="0.7"><stop offset="0" stop-color="#F070F0"/><stop offset="0.45" stop-color="#C822C8"/><stop offset="1" stop-color="#8E1C8E"/></radialGradient></defs>
<path d="M1446 103L1462 86L1464 111Z" fill="#C21FC2"/>
<path d="M1358 120.7C1368 119 1376 122 1381 127L1393 135L1388 144L1385 149C1393 152 1398 157 1397.6 166C1398 172 1397 178 1394 182C1390 190 1380 196 1371 197C1362 197 1354 195 1347 187C1342 181 1339 175 1338 168C1336 160 1336 150 1341 138C1344 131 1350 124 1358 120.7Z" fill="url(#mh)"/>
<path d="M1381 127L1393 135L1388 144L1385 149C1382 146 1378 146 1374 147L1378 135Z" fill="#7E2A80" fill-opacity="0.75"/>
<path d="M1342.8 160.5C1347 156 1352 153 1356 152.8C1361 151 1366 149 1369.3 148.5C1362 152 1358 158 1355.7 164.7C1354 167 1353 169 1352 170.7C1349 169 1346 167 1345.4 165.6Z" fill="#fff"/>
<path d="M1371 177.6C1378 176 1385 174.5 1390 174C1388 177 1386 178 1384.7 178.4C1381 179 1377 179 1374.5 178.4Z" fill="#fff"/>
<path d="M1354.8 171.6C1351 178 1349.7 187 1349 197C1348.8 200 1348.8 203 1348.8 206" fill="none" stroke="#8C8C8C" stroke-width="7"/>
<path d="M1354.8 171.6C1351 178 1349.7 187 1349 197C1348.8 200 1348.8 203 1348.8 206" fill="none" stroke="#E0E0E0" stroke-width="4"/>
<path d="M1567.5 371C1572 362 1576 356 1580.3 355C1590 362 1597 370 1601 380C1604 390 1604 398 1601 404.5C1598 410 1594 414 1590 416L1586 406C1590 398 1590 388 1585 380C1580 374 1574 372 1567.5 371Z" fill="url(#mh)"/>
<path d="M1541.7 400.5C1543 392 1547 385 1552.6 382.7C1557 382 1560 383 1563 388C1568 396 1572 402 1578 406C1586 410 1596 406 1603 400.5C1601 410 1594 417 1586 420C1578 423 1568 423 1560 420C1552 417 1546 412 1541.7 400.5Z" fill="#A0309F"/>
<path d="M1533.7 426.3C1538 434 1543 440 1549.6 444C1556 446 1562 444 1566 440C1570 436 1573 430 1574.4 424.3L1562 421C1562 426 1560 432 1556 434C1552 436 1546 432 1541 423Z" fill="#C21FC2"/>
<text x="1392.97" y="324.6" style="font-size:24.64px" textLength="37.28" lengthAdjust="spacingAndGlyphs">H1'</text>
<text x="1567.91" y="454.8" style="font-size:24.64px" textLength="43.4" lengthAdjust="spacingAndGlyphs">H1''</text>
<text x="1314.97" y="484.1" style="font-size:40px;font-style:italic" textLength="33.13" lengthAdjust="spacingAndGlyphs">Vi</text>
<text x="1348.72" y="482.67" style="font-size:28.24px;font-style:italic" textLength="194.91" lengthAdjust="spacingAndGlyphs">(frame 175872)</text>
</svg></body></html>
